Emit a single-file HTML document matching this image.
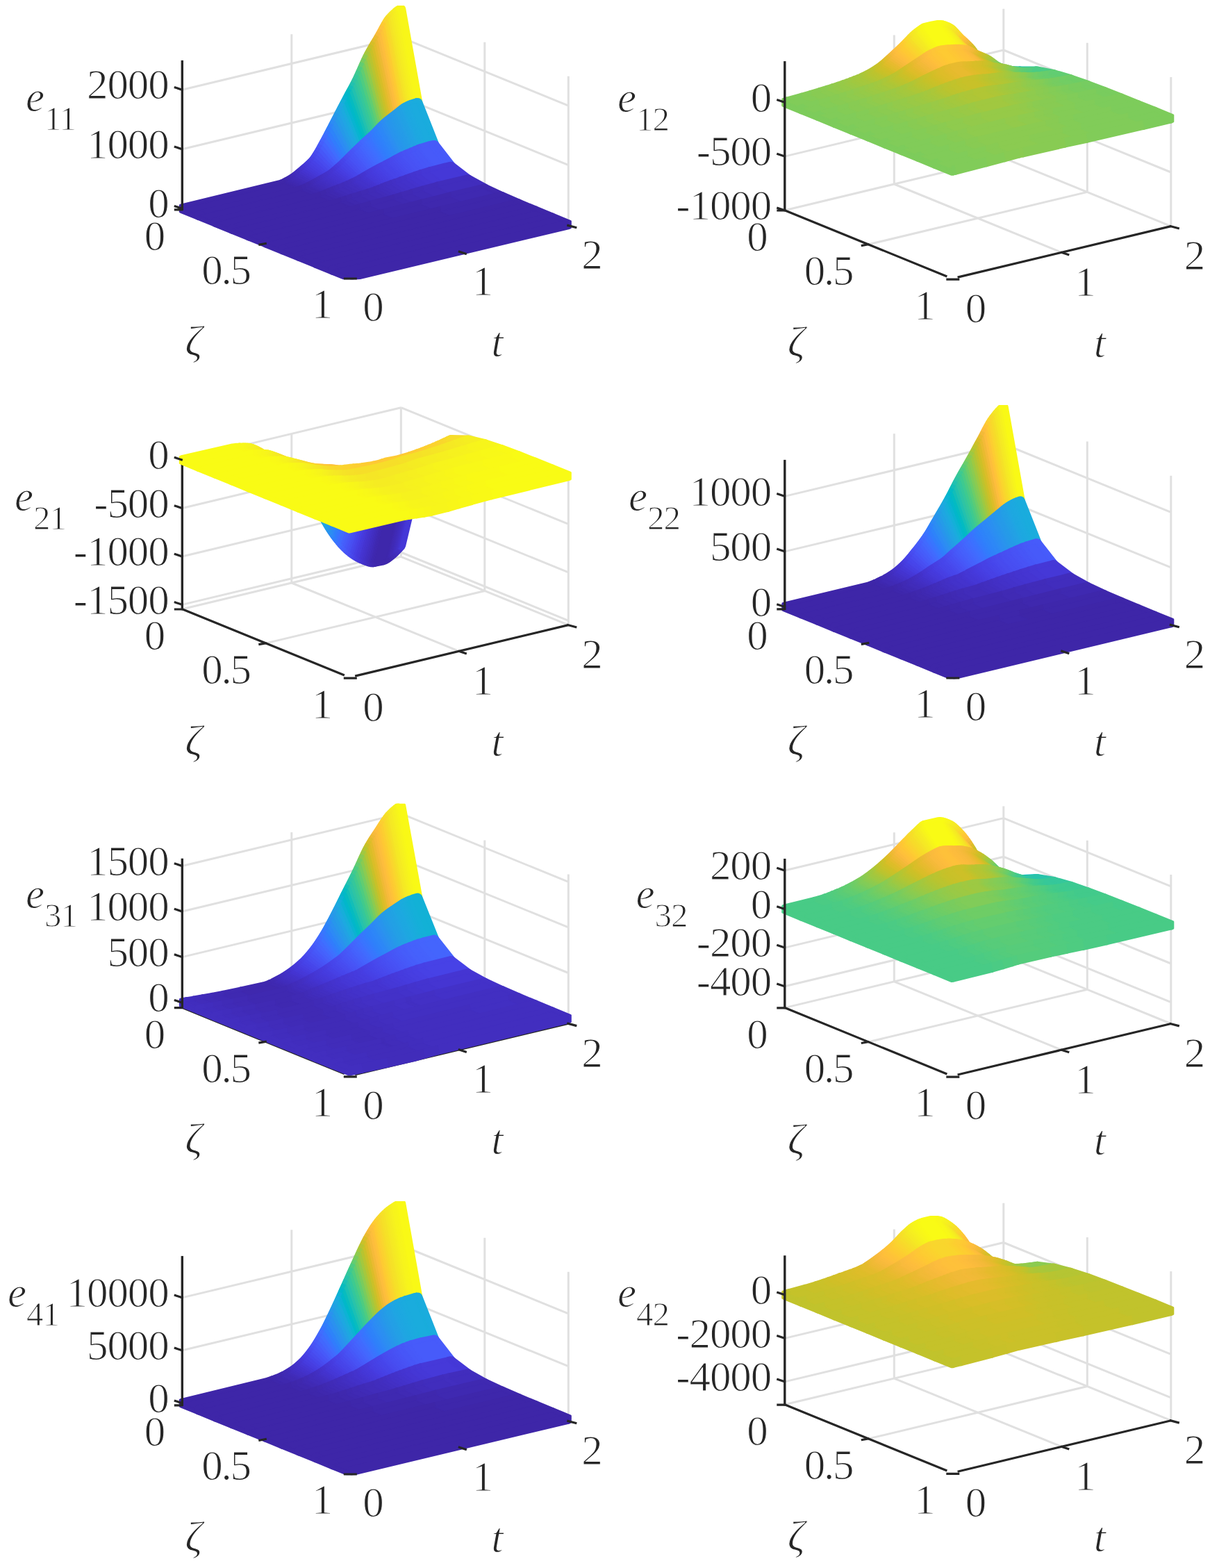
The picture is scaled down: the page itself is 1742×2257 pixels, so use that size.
<!DOCTYPE html><html><head><meta charset="utf-8"><title>Observer error surfaces</title><style>html,body{margin:0;padding:0;background:#fff}svg{display:block}.T path{fill:none;stroke-width:14;stroke-linejoin:round;stroke-linecap:butt}.E path{fill:none;stroke-width:14;stroke-linecap:round}.F path{stroke-width:1.2;stroke-linejoin:round}.c0{fill:#3e26a8;stroke:#3e26a8}.t0{stroke:#3e26a8}.c1{fill:#3e27ab;stroke:#3e27ab}.t1{stroke:#3e27ab}.c2{fill:#3f28ae;stroke:#3f28ae}.t2{stroke:#3f28ae}.c3{fill:#3f29b1;stroke:#3f29b1}.t3{stroke:#3f29b1}.c4{fill:#402ab4;stroke:#402ab4}.t4{stroke:#402ab4}.c5{fill:#402bb7;stroke:#402bb7}.t5{stroke:#402bb7}.c6{fill:#412cba;stroke:#412cba}.t6{stroke:#412cba}.c7{fill:#412dbd;stroke:#412dbd}.t7{stroke:#412dbd}.c8{fill:#422ebf;stroke:#422ebf}.t8{stroke:#422ebf}.c9{fill:#422fc2;stroke:#422fc2}.t9{stroke:#422fc2}.c10{fill:#4330c5;stroke:#4330c5}.t10{stroke:#4330c5}.c11{fill:#4331c8;stroke:#4331c8}.t11{stroke:#4331c8}.c12{fill:#4332ca;stroke:#4332ca}.t12{stroke:#4332ca}.c13{fill:#4433cd;stroke:#4433cd}.t13{stroke:#4433cd}.c14{fill:#4434d0;stroke:#4434d0}.t14{stroke:#4434d0}.c15{fill:#4535d2;stroke:#4535d2}.t15{stroke:#4535d2}.c16{fill:#4537d5;stroke:#4537d5}.t16{stroke:#4537d5}.c17{fill:#4538d7;stroke:#4538d7}.t17{stroke:#4538d7}.c18{fill:#4639d9;stroke:#4639d9}.t18{stroke:#4639d9}.c19{fill:#463adb;stroke:#463adb}.t19{stroke:#463adb}.c20{fill:#463bde;stroke:#463bde}.t20{stroke:#463bde}.c21{fill:#463ddf;stroke:#463ddf}.t21{stroke:#463ddf}.c22{fill:#473ee1;stroke:#473ee1}.t22{stroke:#473ee1}.c23{fill:#473fe3;stroke:#473fe3}.t23{stroke:#473fe3}.c24{fill:#4741e5;stroke:#4741e5}.t24{stroke:#4741e5}.c25{fill:#4742e6;stroke:#4742e6}.t25{stroke:#4742e6}.c26{fill:#4744e8;stroke:#4744e8}.t26{stroke:#4744e8}.c27{fill:#4745e9;stroke:#4745e9}.t27{stroke:#4745e9}.c28{fill:#4746eb;stroke:#4746eb}.t28{stroke:#4746eb}.c29{fill:#4848ec;stroke:#4848ec}.t29{stroke:#4848ec}.c30{fill:#4849ed;stroke:#4849ed}.t30{stroke:#4849ed}.c31{fill:#484bee;stroke:#484bee}.t31{stroke:#484bee}.c32{fill:#484cf0;stroke:#484cf0}.t32{stroke:#484cf0}.c33{fill:#484ef1;stroke:#484ef1}.t33{stroke:#484ef1}.c34{fill:#484ff2;stroke:#484ff2}.t34{stroke:#484ff2}.c35{fill:#4850f3;stroke:#4850f3}.t35{stroke:#4850f3}.c36{fill:#4852f4;stroke:#4852f4}.t36{stroke:#4852f4}.c37{fill:#4853f5;stroke:#4853f5}.t37{stroke:#4853f5}.c38{fill:#4854f6;stroke:#4854f6}.t38{stroke:#4854f6}.c39{fill:#4756f7;stroke:#4756f7}.t39{stroke:#4756f7}.c40{fill:#4757f7;stroke:#4757f7}.t40{stroke:#4757f7}.c41{fill:#4759f8;stroke:#4759f8}.t41{stroke:#4759f8}.c42{fill:#475af9;stroke:#475af9}.t42{stroke:#475af9}.c43{fill:#475bfa;stroke:#475bfa}.t43{stroke:#475bfa}.c44{fill:#465dfa;stroke:#465dfa}.t44{stroke:#465dfa}.c45{fill:#465efb;stroke:#465efb}.t45{stroke:#465efb}.c46{fill:#4660fb;stroke:#4660fb}.t46{stroke:#4660fb}.c47{fill:#4561fc;stroke:#4561fc}.t47{stroke:#4561fc}.c48{fill:#4562fc;stroke:#4562fc}.t48{stroke:#4562fc}.c49{fill:#4564fd;stroke:#4564fd}.t49{stroke:#4564fd}.c50{fill:#4465fd;stroke:#4465fd}.t50{stroke:#4465fd}.c51{fill:#4367fd;stroke:#4367fd}.t51{stroke:#4367fd}.c52{fill:#4368fe;stroke:#4368fe}.t52{stroke:#4368fe}.c53{fill:#426afe;stroke:#426afe}.t53{stroke:#426afe}.c54{fill:#416bfe;stroke:#416bfe}.t54{stroke:#416bfe}.c55{fill:#406dfe;stroke:#406dfe}.t55{stroke:#406dfe}.c56{fill:#3f6eff;stroke:#3f6eff}.t56{stroke:#3f6eff}.c57{fill:#3e70ff;stroke:#3e70ff}.t57{stroke:#3e70ff}.c58{fill:#3c71ff;stroke:#3c71ff}.t58{stroke:#3c71ff}.c59{fill:#3b73fe;stroke:#3b73fe}.t59{stroke:#3b73fe}.c60{fill:#3974fe;stroke:#3974fe}.t60{stroke:#3974fe}.c61{fill:#3876fe;stroke:#3876fe}.t61{stroke:#3876fe}.c62{fill:#3677fe;stroke:#3677fe}.t62{stroke:#3677fe}.c63{fill:#3579fd;stroke:#3579fd}.t63{stroke:#3579fd}.c65{fill:#327cfc;stroke:#327cfc}.t65{stroke:#327cfc}.c66{fill:#317dfc;stroke:#317dfc}.t66{stroke:#317dfc}.c67{fill:#307ffb;stroke:#307ffb}.t67{stroke:#307ffb}.c68{fill:#2f80fa;stroke:#2f80fa}.t68{stroke:#2f80fa}.c69{fill:#2f82fa;stroke:#2f82fa}.t69{stroke:#2f82fa}.c70{fill:#2e83f9;stroke:#2e83f9}.t70{stroke:#2e83f9}.c71{fill:#2e84f8;stroke:#2e84f8}.t71{stroke:#2e84f8}.c72{fill:#2e86f8;stroke:#2e86f8}.t72{stroke:#2e86f8}.c73{fill:#2e87f7;stroke:#2e87f7}.t73{stroke:#2e87f7}.c74{fill:#2d88f6;stroke:#2d88f6}.t74{stroke:#2d88f6}.c75{fill:#2d8af5;stroke:#2d8af5}.t75{stroke:#2d8af5}.c76{fill:#2d8bf4;stroke:#2d8bf4}.t76{stroke:#2d8bf4}.c77{fill:#2d8cf3;stroke:#2d8cf3}.t77{stroke:#2d8cf3}.c78{fill:#2c8ef2;stroke:#2c8ef2}.t78{stroke:#2c8ef2}.c79{fill:#2c8ff1;stroke:#2c8ff1}.t79{stroke:#2c8ff1}.c80{fill:#2b90f0;stroke:#2b90f0}.t80{stroke:#2b90f0}.c81{fill:#2b91ef;stroke:#2b91ef}.t81{stroke:#2b91ef}.c82{fill:#2a93ee;stroke:#2a93ee}.t82{stroke:#2a93ee}.c83{fill:#2994ed;stroke:#2994ed}.t83{stroke:#2994ed}.c84{fill:#2895ec;stroke:#2895ec}.t84{stroke:#2895ec}.c85{fill:#2797eb;stroke:#2797eb}.t85{stroke:#2797eb}.c86{fill:#2798ea;stroke:#2798ea}.t86{stroke:#2798ea}.c87{fill:#2699e9;stroke:#2699e9}.t87{stroke:#2699e9}.c88{fill:#269ae8;stroke:#269ae8}.t88{stroke:#269ae8}.c89{fill:#259be8;stroke:#259be8}.t89{stroke:#259be8}.c90{fill:#259ce7;stroke:#259ce7}.t90{stroke:#259ce7}.c91{fill:#249ee6;stroke:#249ee6}.t91{stroke:#249ee6}.c92{fill:#249fe6;stroke:#249fe6}.t92{stroke:#249fe6}.c93{fill:#23a0e5;stroke:#23a0e5}.t93{stroke:#23a0e5}.c94{fill:#22a1e4;stroke:#22a1e4}.t94{stroke:#22a1e4}.c95{fill:#22a2e4;stroke:#22a2e4}.t95{stroke:#22a2e4}.c96{fill:#21a3e3;stroke:#21a3e3}.t96{stroke:#21a3e3}.c97{fill:#20a5e3;stroke:#20a5e3}.t97{stroke:#20a5e3}.c98{fill:#1fa6e2;stroke:#1fa6e2}.t98{stroke:#1fa6e2}.c99{fill:#1ea7e1;stroke:#1ea7e1}.t99{stroke:#1ea7e1}.c100{fill:#1da8e0;stroke:#1da8e0}.t100{stroke:#1da8e0}.c101{fill:#1da9e0;stroke:#1da9e0}.t101{stroke:#1da9e0}.c102{fill:#1caadf;stroke:#1caadf}.t102{stroke:#1caadf}.c103{fill:#1babde;stroke:#1babde}.t103{stroke:#1babde}.c104{fill:#1aacdd;stroke:#1aacdd}.t104{stroke:#1aacdd}.c105{fill:#19addb;stroke:#19addb}.t105{stroke:#19addb}.c106{fill:#17aeda;stroke:#17aeda}.t106{stroke:#17aeda}.c107{fill:#15afd9;stroke:#15afd9}.t107{stroke:#15afd9}.c108{fill:#14b0d8;stroke:#14b0d8}.t108{stroke:#14b0d8}.c109{fill:#12b1d6;stroke:#12b1d6}.t109{stroke:#12b1d6}.c110{fill:#10b2d5;stroke:#10b2d5}.t110{stroke:#10b2d5}.c111{fill:#0db3d4;stroke:#0db3d4}.t111{stroke:#0db3d4}.c112{fill:#0bb3d2;stroke:#0bb3d2}.t112{stroke:#0bb3d2}.c113{fill:#08b4d1;stroke:#08b4d1}.t113{stroke:#08b4d1}.c115{fill:#05b6ce;stroke:#05b6ce}.t115{stroke:#05b6ce}.c116{fill:#03b7cc;stroke:#03b7cc}.t116{stroke:#03b7cc}.c117{fill:#02b7ca;stroke:#02b7ca}.t117{stroke:#02b7ca}.c118{fill:#01b8c9;stroke:#01b8c9}.t118{stroke:#01b8c9}.c120{fill:#01b9c6;stroke:#01b9c6}.t120{stroke:#01b9c6}.c121{fill:#02bac4;stroke:#02bac4}.t121{stroke:#02bac4}.c122{fill:#03bbc2;stroke:#03bbc2}.t122{stroke:#03bbc2}.c123{fill:#05bbc1;stroke:#05bbc1}.t123{stroke:#05bbc1}.c124{fill:#08bcbf;stroke:#08bcbf}.t124{stroke:#08bcbf}.c126{fill:#0dbdbc;stroke:#0dbdbc}.t126{stroke:#0dbdbc}.c127{fill:#10beba;stroke:#10beba}.t127{stroke:#10beba}.c128{fill:#13beb8;stroke:#13beb8}.t128{stroke:#13beb8}.c129{fill:#17bfb6;stroke:#17bfb6}.t129{stroke:#17bfb6}.c130{fill:#1ac0b5;stroke:#1ac0b5}.t130{stroke:#1ac0b5}.c131{fill:#1dc0b3;stroke:#1dc0b3}.t131{stroke:#1dc0b3}.c132{fill:#20c1b1;stroke:#20c1b1}.t132{stroke:#20c1b1}.c133{fill:#22c1af;stroke:#22c1af}.t133{stroke:#22c1af}.c134{fill:#25c2ae;stroke:#25c2ae}.t134{stroke:#25c2ae}.c135{fill:#27c2ac;stroke:#27c2ac}.t135{stroke:#27c2ac}.c136{fill:#29c3aa;stroke:#29c3aa}.t136{stroke:#29c3aa}.c137{fill:#2bc3a8;stroke:#2bc3a8}.t137{stroke:#2bc3a8}.c138{fill:#2cc4a6;stroke:#2cc4a6}.t138{stroke:#2cc4a6}.c139{fill:#2ec4a4;stroke:#2ec4a4}.t139{stroke:#2ec4a4}.c140{fill:#2fc5a3;stroke:#2fc5a3}.t140{stroke:#2fc5a3}.c141{fill:#30c5a1;stroke:#30c5a1}.t141{stroke:#30c5a1}.c142{fill:#32c69f;stroke:#32c69f}.t142{stroke:#32c69f}.c143{fill:#33c79d;stroke:#33c79d}.t143{stroke:#33c79d}.c144{fill:#35c79b;stroke:#35c79b}.t144{stroke:#35c79b}.c145{fill:#36c899;stroke:#36c899}.t145{stroke:#36c899}.c146{fill:#38c896;stroke:#38c896}.t146{stroke:#38c896}.c147{fill:#3ac994;stroke:#3ac994}.t147{stroke:#3ac994}.c148{fill:#3cc992;stroke:#3cc992}.t148{stroke:#3cc992}.c149{fill:#3eca90;stroke:#3eca90}.t149{stroke:#3eca90}.c150{fill:#40ca8d;stroke:#40ca8d}.t150{stroke:#40ca8d}.c151{fill:#42ca8b;stroke:#42ca8b}.t151{stroke:#42ca8b}.c152{fill:#45cb89;stroke:#45cb89}.t152{stroke:#45cb89}.c153{fill:#48cb86;stroke:#48cb86}.t153{stroke:#48cb86}.c154{fill:#4bcb84;stroke:#4bcb84}.t154{stroke:#4bcb84}.c155{fill:#4ecc81;stroke:#4ecc81}.t155{stroke:#4ecc81}.c156{fill:#51cc7f;stroke:#51cc7f}.t156{stroke:#51cc7f}.c157{fill:#54cc7c;stroke:#54cc7c}.t157{stroke:#54cc7c}.c158{fill:#57cc7a;stroke:#57cc7a}.t158{stroke:#57cc7a}.c159{fill:#5acc77;stroke:#5acc77}.t159{stroke:#5acc77}.c160{fill:#5ecc74;stroke:#5ecc74}.t160{stroke:#5ecc74}.c161{fill:#61cd72;stroke:#61cd72}.t161{stroke:#61cd72}.c162{fill:#64cd6f;stroke:#64cd6f}.t162{stroke:#64cd6f}.c163{fill:#67cd6c;stroke:#67cd6c}.t163{stroke:#67cd6c}.c164{fill:#6bcd69;stroke:#6bcd69}.t164{stroke:#6bcd69}.c165{fill:#6ecd66;stroke:#6ecd66}.t165{stroke:#6ecd66}.c166{fill:#72cd64;stroke:#72cd64}.t166{stroke:#72cd64}.c167{fill:#76cc61;stroke:#76cc61}.t167{stroke:#76cc61}.c168{fill:#79cc5e;stroke:#79cc5e}.t168{stroke:#79cc5e}.c169{fill:#7dcc5b;stroke:#7dcc5b}.t169{stroke:#7dcc5b}.c170{fill:#81cc59;stroke:#81cc59}.t170{stroke:#81cc59}.c171{fill:#84cc56;stroke:#84cc56}.t171{stroke:#84cc56}.c172{fill:#88cb53;stroke:#88cb53}.t172{stroke:#88cb53}.c173{fill:#8bcb51;stroke:#8bcb51}.t173{stroke:#8bcb51}.c174{fill:#8fcb4e;stroke:#8fcb4e}.t174{stroke:#8fcb4e}.c175{fill:#93ca4b;stroke:#93ca4b}.t175{stroke:#93ca4b}.c176{fill:#96ca48;stroke:#96ca48}.t176{stroke:#96ca48}.c177{fill:#9ac946;stroke:#9ac946}.t177{stroke:#9ac946}.c178{fill:#9dc943;stroke:#9dc943}.t178{stroke:#9dc943}.c179{fill:#a1c840;stroke:#a1c840}.t179{stroke:#a1c840}.c180{fill:#a4c83e;stroke:#a4c83e}.t180{stroke:#a4c83e}.c181{fill:#a7c73c;stroke:#a7c73c}.t181{stroke:#a7c73c}.c182{fill:#abc739;stroke:#abc739}.t182{stroke:#abc739}.c183{fill:#aec637;stroke:#aec637}.t183{stroke:#aec637}.c184{fill:#b1c635;stroke:#b1c635}.t184{stroke:#b1c635}.c185{fill:#b5c533;stroke:#b5c533}.t185{stroke:#b5c533}.c186{fill:#b8c431;stroke:#b8c431}.t186{stroke:#b8c431}.c187{fill:#bbc42f;stroke:#bbc42f}.t187{stroke:#bbc42f}.c188{fill:#bec32e;stroke:#bec32e}.t188{stroke:#bec32e}.c189{fill:#c1c32c;stroke:#c1c32c}.t189{stroke:#c1c32c}.c190{fill:#c5c22a;stroke:#c5c22a}.t190{stroke:#c5c22a}.c191{fill:#c8c129;stroke:#c8c129}.t191{stroke:#c8c129}.c192{fill:#cac129;stroke:#cac129}.t192{stroke:#cac129}.c193{fill:#cdc028;stroke:#cdc028}.t193{stroke:#cdc028}.c194{fill:#d0bf27;stroke:#d0bf27}.t194{stroke:#d0bf27}.c195{fill:#d3bf27;stroke:#d3bf27}.t195{stroke:#d3bf27}.c196{fill:#d6be28;stroke:#d6be28}.t196{stroke:#d6be28}.c197{fill:#d9be28;stroke:#d9be28}.t197{stroke:#d9be28}.c198{fill:#dbbd29;stroke:#dbbd29}.t198{stroke:#dbbd29}.c199{fill:#debd29;stroke:#debd29}.t199{stroke:#debd29}.c200{fill:#e0bc2b;stroke:#e0bc2b}.t200{stroke:#e0bc2b}.c201{fill:#e3bc2c;stroke:#e3bc2c}.t201{stroke:#e3bc2c}.c202{fill:#e5bb2d;stroke:#e5bb2d}.t202{stroke:#e5bb2d}.c203{fill:#e8bb2f;stroke:#e8bb2f}.t203{stroke:#e8bb2f}.c204{fill:#eaba31;stroke:#eaba31}.t204{stroke:#eaba31}.c205{fill:#ecba33;stroke:#ecba33}.t205{stroke:#ecba33}.c206{fill:#efba35;stroke:#efba35}.t206{stroke:#efba35}.c207{fill:#f1ba37;stroke:#f1ba37}.t207{stroke:#f1ba37}.c208{fill:#f3ba38;stroke:#f3ba38}.t208{stroke:#f3ba38}.c209{fill:#f5ba3a;stroke:#f5ba3a}.t209{stroke:#f5ba3a}.c210{fill:#f7ba3c;stroke:#f7ba3c}.t210{stroke:#f7ba3c}.c211{fill:#f9bb3d;stroke:#f9bb3d}.t211{stroke:#f9bb3d}.c212{fill:#fabb3d;stroke:#fabb3d}.t212{stroke:#fabb3d}.c213{fill:#fcbc3d;stroke:#fcbc3d}.t213{stroke:#fcbc3d}.c214{fill:#fdbd3d;stroke:#fdbd3d}.t214{stroke:#fdbd3d}.c215{fill:#febe3c;stroke:#febe3c}.t215{stroke:#febe3c}.c216{fill:#fec03b;stroke:#fec03b}.t216{stroke:#fec03b}.c217{fill:#fec13a;stroke:#fec13a}.t217{stroke:#fec13a}.c218{fill:#fec239;stroke:#fec239}.t218{stroke:#fec239}.c219{fill:#fec438;stroke:#fec438}.t219{stroke:#fec438}.c220{fill:#fec537;stroke:#fec537}.t220{stroke:#fec537}.c221{fill:#fec735;stroke:#fec735}.t221{stroke:#fec735}.c222{fill:#fec834;stroke:#fec834}.t222{stroke:#fec834}.c223{fill:#feca33;stroke:#feca33}.t223{stroke:#feca33}.c224{fill:#fdcb32;stroke:#fdcb32}.t224{stroke:#fdcb32}.c225{fill:#fdcd32;stroke:#fdcd32}.t225{stroke:#fdcd32}.c226{fill:#fcce31;stroke:#fcce31}.t226{stroke:#fcce31}.c227{fill:#fcd030;stroke:#fcd030}.t227{stroke:#fcd030}.c228{fill:#fbd22f;stroke:#fbd22f}.t228{stroke:#fbd22f}.c229{fill:#fbd32e;stroke:#fbd32e}.t229{stroke:#fbd32e}.c230{fill:#fad52e;stroke:#fad52e}.t230{stroke:#fad52e}.c231{fill:#f9d62d;stroke:#f9d62d}.t231{stroke:#f9d62d}.c232{fill:#f9d82c;stroke:#f9d82c}.t232{stroke:#f9d82c}.c233{fill:#f8d92b;stroke:#f8d92b}.t233{stroke:#f8d92b}.c234{fill:#f7db2a;stroke:#f7db2a}.t234{stroke:#f7db2a}.c235{fill:#f7dd2a;stroke:#f7dd2a}.t235{stroke:#f7dd2a}.c236{fill:#f6de29;stroke:#f6de29}.t236{stroke:#f6de29}.c237{fill:#f6e028;stroke:#f6e028}.t237{stroke:#f6e028}.c238{fill:#f5e128;stroke:#f5e128}.t238{stroke:#f5e128}.c239{fill:#f5e327;stroke:#f5e327}.t239{stroke:#f5e327}.c240{fill:#f5e526;stroke:#f5e526}.t240{stroke:#f5e526}.c241{fill:#f5e626;stroke:#f5e626}.t241{stroke:#f5e626}.c242{fill:#f5e825;stroke:#f5e825}.t242{stroke:#f5e825}.c243{fill:#f5e924;stroke:#f5e924}.t243{stroke:#f5e924}.c244{fill:#f5eb23;stroke:#f5eb23}.t244{stroke:#f5eb23}.c245{fill:#f5ec22;stroke:#f5ec22}.t245{stroke:#f5ec22}.c246{fill:#f5ee21;stroke:#f5ee21}.t246{stroke:#f5ee21}.c247{fill:#f6ef20;stroke:#f6ef20}.t247{stroke:#f6ef20}.c248{fill:#f6f11f;stroke:#f6f11f}.t248{stroke:#f6f11f}.c249{fill:#f6f21e;stroke:#f6f21e}.t249{stroke:#f6f21e}.c250{fill:#f7f41c;stroke:#f7f41c}.t250{stroke:#f7f41c}.c251{fill:#f7f51b;stroke:#f7f51b}.t251{stroke:#f7f51b}.c252{fill:#f8f619;stroke:#f8f619}.t252{stroke:#f8f619}.c253{fill:#f8f818;stroke:#f8f818}.t253{stroke:#f8f818}.c254{fill:#f9f916;stroke:#f9f916}.t254{stroke:#f9f916}.c255{fill:#f9fb15;stroke:#f9fb15}.t255{stroke:#f9fb15}</style></head><body><svg xmlns="http://www.w3.org/2000/svg" width="1742" height="2257" viewBox="0 0 1742 2257"><rect width="1742" height="2257" fill="#fff"/><g><path d="M262.3 301.5L577.3 226.1M382.8 350.6L697.8 275.2M419.8 263.8L660.8 362.1M577.3 226.1L818.3 324.4M419.8 263.8L419.8 49.2M577.3 226.1L577.3 11.5M697.8 275.2L697.8 60.7M818.3 324.4L818.3 109.8M262.3 300.2L577.3 224.8M577.3 224.8L818.3 323.1M262.3 214.7L577.3 139.3M577.3 139.3L818.3 237.6M262.3 129.2L577.3 53.8M577.3 53.8L818.3 152.1" stroke="#e0e0e0" stroke-width="3" fill="none"/>
<path d="M262.3 301.5L495.9 396.8M511.1 397.9L818.3 324.4" stroke="#262626" stroke-width="3.2" fill="none"/>
<clipPath id="cp0"><rect x="257.8" y="8" width="565" height="394.3"/></clipPath><g clip-path="url(#cp0)"><g class="T"><path class="t252" d="M574.7 14.7L577.3 13.3"/><path class="t251" d="M572 16.4L574.7 14.7L577.3 13.3"/><path class="t249" d="M569.4 18.6L572 16.4L574.7 14.7"/><path class="t247" d="M566.8 21.1L572 16.4"/><path class="t245" d="M564.2 23.8L569.4 18.6"/><path class="t242" d="M561.5 26.6L566.8 21.1"/><path class="t239" d="M558.9 29.9L561.5 26.6L564.2 23.8"/><path class="t234" d="M556.3 34.1L558.9 29.9L561.5 26.6"/><path class="t230" d="M553.7 38.8L556.3 34.1L558.9 29.9"/><path class="t224" d="M551 43.7L556.3 34.1"/><path class="t219" d="M548.4 48.7L553.7 38.8"/><path class="t214" d="M545.8 53.4L551 43.7"/><path class="t210" d="M543.2 57.8L548.4 48.7"/><path class="t205" d="M540.5 62.1L545.8 53.4"/><path class="t201" d="M537.9 66.5L543.2 57.8"/><path class="t196" d="M535.3 71L540.5 62.1"/><path class="t191" d="M532.7 75.6L537.9 66.5"/><path class="t186" d="M530 80.5L535.3 71"/><path class="t181" d="M527.4 85.9L532.7 75.6"/><path class="t174" d="M524.8 91.6L530 80.5"/><path class="t168" d="M522.2 97.6L527.4 85.9"/><path class="t161" d="M519.5 103.7L524.8 91.6"/><path class="t155" d="M516.9 109.6L522.2 97.6"/><path class="t149" d="M514.3 115.1L519.5 103.7"/><path class="t144" d="M511.7 120.3L516.9 109.6"/><path class="t139" d="M509.1 125.3L514.3 115.1"/><path class="t133" d="M506.4 130.1L511.7 120.3"/><path class="t128" d="M503.8 134.9L509.1 125.3"/><path class="t123" d="M501.2 139.8L506.4 130.1"/><path class="t118" d="M498.6 144.7L503.8 134.9"/><path class="t113" d="M495.9 149.7L501.2 139.8"/><path class="t108" d="M493.3 154.7L498.6 144.7"/><path class="t102" d="M490.7 159.8L495.9 149.7"/><path class="t97" d="M488.1 164.8L493.3 154.7"/><path class="t92" d="M485.4 169.9L490.7 159.8"/><path class="t87" d="M482.8 174.9L488.1 164.8"/><path class="t81" d="M480.2 180L485.4 169.9"/><path class="t76" d="M477.6 185.1L482.8 174.9"/><path class="t70" d="M474.9 190.2L480.2 180"/><path class="t65" d="M472.3 195.3L477.6 185.1"/><path class="t60" d="M469.7 200.2L474.9 190.2"/><path class="t55" d="M467.1 205L472.3 195.3"/><path class="t50" d="M464.4 209.8L469.7 200.2"/><path class="t45" d="M461.8 214.6L467.1 205"/><path class="t40" d="M459.2 219.3L464.4 209.8"/><path class="t35" d="M456.6 223.7L461.8 214.6"/><path class="t31" d="M453.9 227.8L459.2 219.3"/><path class="t28" d="M451.3 231.2L453.9 227.8L456.6 223.7"/><path class="t25" d="M448.7 234.1L451.3 231.2L453.9 227.8"/><path class="t23" d="M446.1 236.7L451.3 231.2"/><path class="t21" d="M443.4 239.1L448.7 234.1"/><path class="t19" d="M440.8 241.4L446.1 236.7"/><path class="t17" d="M438.2 243.5L443.4 239.1"/><path class="t15" d="M435.6 245.7L440.8 241.4"/><path class="t13" d="M432.9 248L438.2 243.5"/><path class="t11" d="M430.3 250.3L435.6 245.7"/><path class="t9" d="M427.7 252.5L432.9 248"/><path class="t8" d="M425 254.5L430.3 250.3"/><path class="t6" d="M422.4 256.5L427.7 252.5"/><path class="t5" d="M419.8 258.1L425 254.5"/><path class="t4" d="M417.2 259.6L422.4 256.5"/><path class="t3" d="M414.6 261.1L419.8 258.1"/><path class="t2" d="M411.9 262.5L417.2 259.6"/><path class="t1" d="M409.3 263.8L414.6 261.1"/><path class="t0" d="M262.3 300.2L404.1 265.8L409.3 263.8L411.9 262.5"/></g><g class="E"><path class="t252" d="M577.3 13.3L601.4 147.9"/><path class="t0" d="M262.3 300.2L286.4 310"/></g><g class="F"><path class="c252" d="M574.7 14.7L577.3 13.3L601.4 147.9L598.8 148.5z"/><path class="c251" d="M572 16.4L574.7 14.7L598.8 148.5L596.2 149.3z"/><path class="c249" d="M569.4 18.6L572 16.4L596.2 149.3L593.5 150.2z"/><path class="c247" d="M566.8 21.1L569.4 18.6L593.5 150.2L590.9 151.2z"/><path class="c245" d="M564.2 23.8L566.8 21.1L590.9 151.2L588.3 152.4z"/><path class="c242" d="M561.5 26.6L564.2 23.8L588.3 152.4L585.7 153.6z"/><path class="c239" d="M558.9 29.9L561.5 26.6L585.7 153.6L583 155z"/><path class="c234" d="M556.3 34.1L558.9 29.9L583 155L580.4 156.8z"/><path class="c230" d="M553.7 38.8L556.3 34.1L580.4 156.8L577.8 158.8z"/><path class="c224" d="M551 43.7L553.7 38.8L577.8 158.8L575.2 161z"/><path class="c219" d="M548.4 48.7L551 43.7L575.2 161L572.5 163.1z"/><path class="c214" d="M545.8 53.4L548.4 48.7L572.5 163.1L569.9 165.2z"/><path class="c210" d="M543.2 57.8L545.8 53.4L569.9 165.2L567.3 167.2z"/><path class="c205" d="M540.5 62.1L543.2 57.8L567.3 167.2L564.7 169.1z"/><path class="c201" d="M537.9 66.5L540.5 62.1L564.7 169.1L562 171.1z"/><path class="c196" d="M535.3 71L537.9 66.5L562 171.1L559.4 173.1z"/><path class="c191" d="M532.7 75.6L535.3 71L559.4 173.1L556.8 175.3z"/><path class="c186" d="M530 80.5L532.7 75.6L556.8 175.3L554.2 177.5z"/><path class="c181" d="M527.4 85.9L530 80.5L554.2 177.5L551.5 179.9z"/><path class="c174" d="M524.8 91.6L527.4 85.9L551.5 179.9L548.9 182.6z"/><path class="c168" d="M522.2 97.6L524.8 91.6L548.9 182.6L546.3 185.4z"/><path class="c161" d="M519.5 103.7L522.2 97.6L546.3 185.4L543.7 188.2z"/><path class="c155" d="M516.9 109.6L519.5 103.7L543.7 188.2L541 190.9z"/><path class="c149" d="M514.3 115.1L516.9 109.6L541 190.9L538.4 193.6z"/><path class="c144" d="M511.7 120.3L514.3 115.1L538.4 193.6L535.8 196z"/><path class="c139" d="M509.1 125.3L511.7 120.3L535.8 196L533.2 198.4z"/><path class="c133" d="M506.4 130.1L509.1 125.3L533.2 198.4L530.5 200.8z"/><path class="c128" d="M503.8 134.9L506.4 130.1L530.5 200.8L527.9 203.2z"/><path class="c123" d="M501.2 139.8L503.8 134.9L527.9 203.2L525.3 205.5z"/><path class="c118" d="M498.6 144.7L501.2 139.8L525.3 205.5L522.7 208z"/><path class="c113" d="M495.9 149.7L498.6 144.7L522.7 208L520 210.4z"/><path class="c108" d="M493.3 154.7L495.9 149.7L520 210.4L517.4 213z"/><path class="c102" d="M490.7 159.8L493.3 154.7L517.4 213L514.8 215.5z"/><path class="c97" d="M488.1 164.8L490.7 159.8L514.8 215.5L512.2 218z"/><path class="c92" d="M485.4 169.9L488.1 164.8L512.2 218L509.5 220.6z"/><path class="c87" d="M482.8 174.9L485.4 169.9L509.5 220.6L506.9 223.2z"/><path class="c81" d="M480.2 180L482.8 174.9L506.9 223.2L504.3 225.8z"/><path class="c76" d="M477.6 185.1L480.2 180L504.3 225.8L501.7 228.4z"/><path class="c70" d="M474.9 190.2L477.6 185.1L501.7 228.4L499 231.1z"/><path class="c65" d="M472.3 195.3L474.9 190.2L499 231.1L496.4 233.7z"/><path class="c60" d="M469.7 200.2L472.3 195.3L496.4 233.7L493.8 236.3z"/><path class="c55" d="M467.1 205L469.7 200.2L493.8 236.3L491.2 238.9z"/><path class="c50" d="M464.4 209.8L467.1 205L491.2 238.9L488.5 241z"/><path class="c45" d="M461.8 214.6L464.4 209.8L488.5 241L485.9 243.4z"/><path class="c40" d="M459.2 219.3L461.8 214.6L485.9 243.4L483.3 245.7z"/><path class="c35" d="M456.6 223.7L459.2 219.3L483.3 245.7L480.7 248z"/><path class="c31" d="M453.9 227.8L456.6 223.7L480.7 248L478 250.1z"/><path class="c28" d="M451.3 231.2L453.9 227.8L478 250.1L475.4 252z"/><path class="c25" d="M448.7 234.1L451.3 231.2L475.4 252L472.8 253.6z"/><path class="c23" d="M446.1 236.7L448.7 234.1L472.8 253.6L470.2 255.1z"/><path class="c21" d="M443.4 239.1L446.1 236.7L470.2 255.1L467.5 256.6z"/><path class="c19" d="M440.8 241.4L443.4 239.1L467.5 256.6L464.9 258z"/><path class="c17" d="M438.2 243.5L440.8 241.4L464.9 258L462.3 259.4z"/><path class="c15" d="M435.6 245.7L438.2 243.5L462.3 259.4L459.7 260.8z"/><path class="c13" d="M432.9 248L435.6 245.7L459.7 260.8L457 262.3z"/><path class="c11" d="M430.3 250.3L432.9 248L457 262.3L454.4 263.8z"/><path class="c9" d="M427.7 252.5L430.3 250.3L454.4 263.8L451.8 265.3z"/><path class="c8" d="M425 254.5L427.7 252.5L451.8 265.3L449.1 266.8z"/><path class="c6" d="M422.4 256.5L425 254.5L449.1 266.8L446.5 268.2z"/><path class="c5" d="M419.8 258.1L422.4 256.5L446.5 268.2L443.9 269.4z"/><path class="c4" d="M417.2 259.6L419.8 258.1L443.9 269.4L441.3 270.6z"/><path class="c3" d="M414.6 261.1L417.2 259.6L441.3 270.6L438.7 271.8z"/><path class="c2" d="M411.9 262.5L414.6 261.1L438.7 271.8L436 272.9z"/><path class="c1" d="M409.3 263.8L411.9 262.5L436 272.9L433.4 274z"/><path class="c0" d="M262.3 300.2L404.1 265.8L409.3 263.8L433.4 274L286.4 310z"/></g><g class="T"><path class="t104" d="M598.8 148.5L601.4 147.9"/><path class="t103" d="M590.9 151.2L596.2 149.3L601.4 147.9"/><path class="t102" d="M588.3 152.4L593.5 150.2"/><path class="t101" d="M585.7 153.6L590.9 151.2"/><path class="t100" d="M583 155L588.3 152.4"/><path class="t99" d="M580.4 156.8L583 155L585.7 153.6"/><path class="t97" d="M577.8 158.8L583 155"/><path class="t95" d="M575.2 161L580.4 156.8"/><path class="t94" d="M572.5 163.1L577.8 158.8"/><path class="t92" d="M569.9 165.2L575.2 161"/><path class="t90" d="M567.3 167.2L572.5 163.1"/><path class="t89" d="M564.7 169.1L569.9 165.2"/><path class="t87" d="M562 171.1L567.3 167.2"/><path class="t85" d="M559.4 173.1L564.7 169.1"/><path class="t84" d="M556.8 175.3L562 171.1"/><path class="t82" d="M554.2 177.5L559.4 173.1"/><path class="t79" d="M551.5 179.9L556.8 175.3"/><path class="t77" d="M548.9 182.6L554.2 177.5"/><path class="t74" d="M546.3 185.4L551.5 179.9"/><path class="t72" d="M543.7 188.2L548.9 182.6"/><path class="t69" d="M541 190.9L546.3 185.4"/><path class="t67" d="M538.4 193.6L543.7 188.2"/><path class="t65" d="M535.8 196L541 190.9"/><path class="t63" d="M533.2 198.4L538.4 193.6"/><path class="t60" d="M530.5 200.8L535.8 196"/><path class="t58" d="M527.9 203.2L533.2 198.4"/><path class="t56" d="M525.3 205.5L530.5 200.8"/><path class="t54" d="M522.7 208L527.9 203.2"/><path class="t52" d="M520 210.4L525.3 205.5"/><path class="t50" d="M517.4 213L522.7 208"/><path class="t47" d="M514.8 215.5L520 210.4"/><path class="t45" d="M512.2 218L517.4 213"/><path class="t43" d="M509.5 220.6L514.8 215.5"/><path class="t40" d="M506.9 223.2L512.2 218"/><path class="t38" d="M504.3 225.8L509.5 220.6"/><path class="t36" d="M501.7 228.4L506.9 223.2"/><path class="t33" d="M499 231.1L504.3 225.8"/><path class="t31" d="M496.4 233.7L501.7 228.4"/><path class="t28" d="M493.8 236.3L499 231.1"/><path class="t26" d="M491.2 238.9L496.4 233.7"/><path class="t24" d="M488.5 241L491.2 238.9L493.8 236.3"/><path class="t22" d="M485.9 243.4L491.2 238.9"/><path class="t20" d="M483.3 245.7L488.5 241"/><path class="t18" d="M480.7 248L485.9 243.4"/><path class="t16" d="M478 250.1L483.3 245.7"/><path class="t15" d="M475.4 252L480.7 248"/><path class="t14" d="M472.8 253.6L478 250.1"/><path class="t13" d="M470.2 255.1L475.4 252"/><path class="t12" d="M467.5 256.6L472.8 253.6"/><path class="t11" d="M464.9 258L470.2 255.1"/><path class="t10" d="M462.3 259.4L467.5 256.6"/><path class="t9" d="M459.7 260.8L464.9 258"/><path class="t8" d="M457 262.3L462.3 259.4"/><path class="t7" d="M454.4 263.8L459.7 260.8"/><path class="t6" d="M451.8 265.3L457 262.3"/><path class="t5" d="M449.1 266.8L454.4 263.8"/><path class="t4" d="M446.5 268.2L451.8 265.3"/><path class="t3" d="M443.9 269.4L449.1 266.8"/><path class="t2" d="M438.7 271.8L446.5 268.2"/><path class="t1" d="M433.4 274L441.3 270.6"/><path class="t0" d="M286.4 310L428.2 275.8L433.4 274L436 272.9"/></g><g class="E"><path class="t104" d="M601.4 147.9L625.5 208.9"/><path class="t0" d="M286.4 310L310.5 319.9"/></g><g class="F"><path class="c104" d="M598.8 148.5L601.4 147.9L625.5 208.9L622.9 209.4z"/><path class="c103" d="M590.9 151.2L596.2 149.3L598.8 148.5L622.9 209.4L615 211.2z"/><path class="c102" d="M588.3 152.4L590.9 151.2L615 211.2L612.4 211.9z"/><path class="c101" d="M585.7 153.6L588.3 152.4L612.4 211.9L609.8 212.6z"/><path class="c100" d="M583 155L585.7 153.6L609.8 212.6L607.1 213.4z"/><path class="c99" d="M580.4 156.8L583 155L607.1 213.4L604.5 214.4z"/><path class="c97" d="M577.8 158.8L580.4 156.8L604.5 214.4L601.9 215.5z"/><path class="c95" d="M575.2 161L577.8 158.8L601.9 215.5L599.2 216.6z"/><path class="c94" d="M572.5 163.1L575.2 161L599.2 216.6L596.6 217.8z"/><path class="c92" d="M569.9 165.2L572.5 163.1L596.6 217.8L594 218.9z"/><path class="c90" d="M567.3 167.2L569.9 165.2L594 218.9L591.4 220z"/><path class="c89" d="M564.7 169.1L567.3 167.2L591.4 220L588.8 221.1z"/><path class="c87" d="M562 171.1L564.7 169.1L588.8 221.1L586.1 222.2z"/><path class="c85" d="M559.4 173.1L562 171.1L586.1 222.2L583.5 223.3z"/><path class="c84" d="M556.8 175.3L559.4 173.1L583.5 223.3L580.9 224.4z"/><path class="c82" d="M554.2 177.5L556.8 175.3L580.9 224.4L578.2 225.7z"/><path class="c79" d="M551.5 179.9L554.2 177.5L578.2 225.7L575.6 227z"/><path class="c77" d="M548.9 182.6L551.5 179.9L575.6 227L573 228.4z"/><path class="c74" d="M546.3 185.4L548.9 182.6L573 228.4L570.4 229.9z"/><path class="c72" d="M543.7 188.2L546.3 185.4L570.4 229.9L567.8 231.4z"/><path class="c69" d="M541 190.9L543.7 188.2L567.8 231.4L565.1 232.9z"/><path class="c67" d="M538.4 193.6L541 190.9L565.1 232.9L562.5 234.3z"/><path class="c65" d="M535.8 196L538.4 193.6L562.5 234.3L559.9 235.7z"/><path class="c63" d="M533.2 198.4L535.8 196L559.9 235.7L557.2 237z"/><path class="c60" d="M530.5 200.8L533.2 198.4L557.2 237L554.6 238.3z"/><path class="c58" d="M527.9 203.2L530.5 200.8L554.6 238.3L552 239.7z"/><path class="c56" d="M525.3 205.5L527.9 203.2L552 239.7L549.4 241z"/><path class="c54" d="M522.7 208L525.3 205.5L549.4 241L546.8 242.4z"/><path class="c52" d="M520 210.4L522.7 208L546.8 242.4L544.1 243.8z"/><path class="c50" d="M517.4 213L520 210.4L544.1 243.8L541.5 245.2z"/><path class="c47" d="M514.8 215.5L517.4 213L541.5 245.2L538.9 246.7z"/><path class="c45" d="M512.2 218L514.8 215.5L538.9 246.7L536.2 248.1z"/><path class="c43" d="M509.5 220.6L512.2 218L536.2 248.1L533.6 249.6z"/><path class="c40" d="M506.9 223.2L509.5 220.6L533.6 249.6L531 251.1z"/><path class="c38" d="M504.3 225.8L506.9 223.2L531 251.1L528.4 252.6z"/><path class="c36" d="M501.7 228.4L504.3 225.8L528.4 252.6L525.8 254.1z"/><path class="c33" d="M499 231.1L501.7 228.4L525.8 254.1L523.1 255.7z"/><path class="c31" d="M496.4 233.7L499 231.1L523.1 255.7L520.5 257.2z"/><path class="c28" d="M493.8 236.3L496.4 233.7L520.5 257.2L517.9 258.7z"/><path class="c26" d="M491.2 238.9L493.8 236.3L517.9 258.7L515.2 260.2z"/><path class="c24" d="M488.5 241L491.2 238.9L515.2 260.2L512.6 261.4z"/><path class="c22" d="M485.9 243.4L488.5 241L512.6 261.4L510 262.7z"/><path class="c20" d="M483.3 245.7L485.9 243.4L510 262.7L507.4 264z"/><path class="c18" d="M480.7 248L483.3 245.7L507.4 264L504.8 265.3z"/><path class="c16" d="M478 250.1L480.7 248L504.8 265.3L502.1 266.5z"/><path class="c15" d="M475.4 252L478 250.1L502.1 266.5L499.5 267.7z"/><path class="c14" d="M472.8 253.6L475.4 252L499.5 267.7L496.9 268.8z"/><path class="c13" d="M470.2 255.1L472.8 253.6L496.9 268.8L494.2 269.8z"/><path class="c12" d="M467.5 256.6L470.2 255.1L494.2 269.8L491.6 270.7z"/><path class="c11" d="M464.9 258L467.5 256.6L491.6 270.7L489 271.7z"/><path class="c10" d="M462.3 259.4L464.9 258L489 271.7L486.4 272.7z"/><path class="c9" d="M459.7 260.8L462.3 259.4L486.4 272.7L483.8 273.7z"/><path class="c8" d="M457 262.3L459.7 260.8L483.8 273.7L481.1 274.8z"/><path class="c7" d="M454.4 263.8L457 262.3L481.1 274.8L478.5 275.9z"/><path class="c6" d="M451.8 265.3L454.4 263.8L478.5 275.9L475.9 277z"/><path class="c5" d="M449.1 266.8L451.8 265.3L475.9 277L473.2 278.2z"/><path class="c4" d="M446.5 268.2L449.1 266.8L473.2 278.2L470.6 279.3z"/><path class="c3" d="M443.9 269.4L446.5 268.2L470.6 279.3L468 280.3z"/><path class="c2" d="M438.7 271.8L443.9 269.4L468 280.3L462.8 282.2z"/><path class="c1" d="M433.4 274L438.7 271.8L462.8 282.2L457.5 284.1z"/><path class="c0" d="M286.4 310L428.2 275.8L433.4 274L457.5 284.1L310.5 319.9z"/></g><g class="T"><path class="t42" d="M620.2 209.9L625.5 208.9"/><path class="t43" d="M617.6 210.5L622.9 209.4"/><path class="t42" d="M604.5 214.4L617.6 210.5L620.2 209.9"/><path class="t41" d="M601.9 215.5L607.1 213.4"/><path class="t40" d="M596.6 217.8L604.5 214.4"/><path class="t39" d="M591.4 220L599.2 216.6"/><path class="t38" d="M586.1 222.2L594 218.9"/><path class="t37" d="M583.5 223.3L588.8 221.1"/><path class="t36" d="M578.2 225.7L586.1 222.2"/><path class="t35" d="M575.6 227L580.9 224.4"/><path class="t34" d="M573 228.4L578.2 225.7"/><path class="t33" d="M570.4 229.9L575.6 227"/><path class="t32" d="M567.8 231.4L573 228.4"/><path class="t31" d="M565.1 232.9L570.4 229.9"/><path class="t30" d="M562.5 234.3L567.8 231.4"/><path class="t29" d="M559.9 235.7L565.1 232.9"/><path class="t28" d="M557.2 237L562.5 234.3"/><path class="t27" d="M554.6 238.3L559.9 235.7"/><path class="t26" d="M549.4 241L557.2 237"/><path class="t25" d="M546.8 242.4L552 239.7"/><path class="t24" d="M544.1 243.8L549.4 241"/><path class="t23" d="M541.5 245.2L546.8 242.4"/><path class="t22" d="M538.9 246.7L544.1 243.8"/><path class="t21" d="M536.2 248.1L541.5 245.2"/><path class="t20" d="M533.6 249.6L538.9 246.7"/><path class="t19" d="M531 251.1L536.2 248.1"/><path class="t18" d="M528.4 252.6L533.6 249.6"/><path class="t17" d="M525.8 254.1L531 251.1"/><path class="t15" d="M523.1 255.7L528.4 252.6"/><path class="t14" d="M520.5 257.2L525.8 254.1"/><path class="t13" d="M517.9 258.7L523.1 255.7"/><path class="t12" d="M512.6 261.4L515.2 260.2L520.5 257.2"/><path class="t11" d="M510 262.7L515.2 260.2"/><path class="t10" d="M507.4 264L512.6 261.4"/><path class="t9" d="M504.8 265.3L510 262.7"/><path class="t8" d="M499.5 267.7L507.4 264"/><path class="t7" d="M494.2 269.8L502.1 266.5"/><path class="t6" d="M486.4 272.7L496.9 268.8"/><path class="t5" d="M481.1 274.8L489 271.7"/><path class="t4" d="M478.5 275.9L483.8 273.7"/><path class="t3" d="M473.2 278.2L481.1 274.8"/><path class="t2" d="M468 280.3L475.9 277"/><path class="t1" d="M460.1 283.2L470.6 279.3"/><path class="t0" d="M310.5 319.9L454.9 284.9L462.8 282.2"/></g><g class="E"><path class="t42" d="M625.5 208.9L649.6 239.7"/><path class="t0" d="M310.5 319.9L334.6 329.7"/></g><g class="F"><path class="c42" d="M620.2 209.9L625.5 208.9L649.6 239.7L644.4 240.8z"/><path class="c43" d="M617.6 210.5L620.2 209.9L644.4 240.8L641.7 241.3z"/><path class="c42" d="M604.5 214.4L617.6 210.5L641.7 241.3L628.6 244.5z"/><path class="c41" d="M601.9 215.5L604.5 214.4L628.6 244.5L626 245.2z"/><path class="c40" d="M596.6 217.8L601.9 215.5L626 245.2L620.7 246.8z"/><path class="c39" d="M591.4 220L596.6 217.8L620.7 246.8L615.5 248.4z"/><path class="c38" d="M586.1 222.2L591.4 220L615.5 248.4L610.2 249.9z"/><path class="c37" d="M583.5 223.3L586.1 222.2L610.2 249.9L607.6 250.7z"/><path class="c36" d="M578.2 225.7L583.5 223.3L607.6 250.7L602.4 252.4z"/><path class="c35" d="M575.6 227L578.2 225.7L602.4 252.4L599.7 253.2z"/><path class="c34" d="M573 228.4L575.6 227L599.7 253.2L597.1 254.2z"/><path class="c33" d="M570.4 229.9L573 228.4L597.1 254.2L594.5 255.1z"/><path class="c32" d="M567.8 231.4L570.4 229.9L594.5 255.1L591.9 256.1z"/><path class="c31" d="M565.1 232.9L567.8 231.4L591.9 256.1L589.2 257.1z"/><path class="c30" d="M562.5 234.3L565.1 232.9L589.2 257.1L586.6 258z"/><path class="c29" d="M559.9 235.7L562.5 234.3L586.6 258L584 258.9z"/><path class="c28" d="M557.2 237L559.9 235.7L584 258.9L581.4 259.8z"/><path class="c27" d="M554.6 238.3L557.2 237L581.4 259.8L578.7 260.8z"/><path class="c26" d="M549.4 241L554.6 238.3L578.7 260.8L573.5 262.6z"/><path class="c25" d="M546.8 242.4L549.4 241L573.5 262.6L570.9 263.5z"/><path class="c24" d="M544.1 243.8L546.8 242.4L570.9 263.5L568.2 264.5z"/><path class="c23" d="M541.5 245.2L544.1 243.8L568.2 264.5L565.6 265.4z"/><path class="c22" d="M538.9 246.7L541.5 245.2L565.6 265.4L563 266.4z"/><path class="c21" d="M536.2 248.1L538.9 246.7L563 266.4L560.4 267.4z"/><path class="c20" d="M533.6 249.6L536.2 248.1L560.4 267.4L557.7 268.4z"/><path class="c19" d="M531 251.1L533.6 249.6L557.7 268.4L555.1 269.4z"/><path class="c18" d="M528.4 252.6L531 251.1L555.1 269.4L552.5 270.4z"/><path class="c17" d="M525.8 254.1L528.4 252.6L552.5 270.4L549.9 271.4z"/><path class="c15" d="M523.1 255.7L525.8 254.1L549.9 271.4L547.2 272.5z"/><path class="c14" d="M520.5 257.2L523.1 255.7L547.2 272.5L544.6 273.5z"/><path class="c13" d="M517.9 258.7L520.5 257.2L544.6 273.5L542 274.6z"/><path class="c12" d="M512.6 261.4L515.2 260.2L517.9 258.7L542 274.6L536.7 276.4z"/><path class="c11" d="M510 262.7L512.6 261.4L536.7 276.4L534.1 277.2z"/><path class="c10" d="M507.4 264L510 262.7L534.1 277.2L531.5 278.1z"/><path class="c9" d="M504.8 265.3L507.4 264L531.5 278.1L528.9 279z"/><path class="c8" d="M499.5 267.7L504.8 265.3L528.9 279L523.6 280.7z"/><path class="c7" d="M494.2 269.8L499.5 267.7L523.6 280.7L518.4 282.3z"/><path class="c6" d="M486.4 272.7L494.2 269.8L518.4 282.3L510.5 284.6z"/><path class="c5" d="M481.1 274.8L486.4 272.7L510.5 284.6L505.2 286.3z"/><path class="c4" d="M478.5 275.9L481.1 274.8L505.2 286.3L502.6 287.2z"/><path class="c3" d="M473.2 278.2L478.5 275.9L502.6 287.2L497.4 289z"/><path class="c2" d="M468 280.3L473.2 278.2L497.4 289L492.1 290.7z"/><path class="c1" d="M460.1 283.2L468 280.3L492.1 290.7L484.2 293.3z"/><path class="c0" d="M310.5 319.9L454.9 284.9L460.1 283.2L484.2 293.3L334.6 329.7z"/></g><g class="T"><path class="t17" d="M618.1 247.6L641.7 241.3L649.6 239.7"/><path class="t16" d="M605 251.5L620.7 246.8"/><path class="t15" d="M597.1 254.2L607.6 250.7"/><path class="t14" d="M589.2 257.1L599.7 253.2"/><path class="t13" d="M584 258.9L591.9 256.1"/><path class="t12" d="M576.1 261.7L586.6 258"/><path class="t11" d="M568.2 264.5L578.7 260.8"/><path class="t10" d="M563 266.4L570.9 263.5"/><path class="t9" d="M555.1 269.4L565.6 265.4"/><path class="t8" d="M549.9 271.4L557.7 268.4"/><path class="t7" d="M544.6 273.5L552.5 270.4"/><path class="t6" d="M539.4 275.6L547.2 272.5"/><path class="t5" d="M528.9 279L539.4 275.6L542 274.6"/><path class="t4" d="M518.4 282.3L531.5 278.1"/><path class="t3" d="M505.2 286.3L521 281.5"/><path class="t2" d="M497.4 289L507.9 285.4"/><path class="t1" d="M489.5 291.6L500 288.1"/><path class="t0" d="M334.6 329.7L479 294.9L492.1 290.7"/></g><g class="E"><path class="t17" d="M649.6 239.7L673.7 258.2"/><path class="t0" d="M334.6 329.7L358.7 339.5"/></g><g class="F"><path class="c17" d="M618.1 247.6L641.7 241.3L649.6 239.7L673.7 258.2L642.2 265.6z"/><path class="c16" d="M605 251.5L618.1 247.6L642.2 265.6L629.1 268.9z"/><path class="c15" d="M597.1 254.2L605 251.5L629.1 268.9L621.2 271.1z"/><path class="c14" d="M589.2 257.1L597.1 254.2L621.2 271.1L613.3 273.3z"/><path class="c13" d="M584 258.9L589.2 257.1L613.3 273.3L608.1 274.8z"/><path class="c12" d="M576.1 261.7L584 258.9L608.1 274.8L600.2 277.1z"/><path class="c11" d="M568.2 264.5L576.1 261.7L600.2 277.1L592.3 279.3z"/><path class="c10" d="M563 266.4L568.2 264.5L592.3 279.3L587.1 280.9z"/><path class="c9" d="M555.1 269.4L563 266.4L587.1 280.9L579.2 283.2z"/><path class="c8" d="M549.9 271.4L555.1 269.4L579.2 283.2L574 284.8z"/><path class="c7" d="M544.6 273.5L549.9 271.4L574 284.8L568.7 286.4z"/><path class="c6" d="M539.4 275.6L544.6 273.5L568.7 286.4L563.5 288.1z"/><path class="c5" d="M528.9 279L539.4 275.6L563.5 288.1L553 290.8z"/><path class="c4" d="M518.4 282.3L528.9 279L553 290.8L542.5 293.6z"/><path class="c3" d="M505.2 286.3L518.4 282.3L542.5 293.6L529.3 297.1z"/><path class="c2" d="M497.4 289L505.2 286.3L529.3 297.1L521.5 299.5z"/><path class="c1" d="M489.5 291.6L497.4 289L521.5 299.5L513.6 301.8z"/><path class="c0" d="M334.6 329.7L479 294.9L489.5 291.6L513.6 301.8L358.7 339.5z"/></g><g class="T"><path class="t7" d="M629.1 268.9L673.7 258.2"/><path class="t6" d="M608.1 274.8L631.7 268.2"/><path class="t5" d="M592.3 279.3L610.7 274.1"/><path class="t4" d="M576.6 284L595 278.6"/><path class="t3" d="M566.1 287.3L579.2 283.2"/><path class="t2" d="M532 296.4L568.7 286.4"/><path class="t1" d="M516.2 301L534.6 295.7"/><path class="t0" d="M358.7 339.5L505.7 304.1L518.8 300.2"/></g><g class="E"><path class="t7" d="M673.7 258.2L697.8 271.5"/><path class="t0" d="M358.7 339.5L382.8 349.4"/></g><g class="F"><path class="c7" d="M629.1 268.9L673.7 258.2L697.8 271.5L653.2 282.1z"/><path class="c6" d="M608.1 274.8L629.1 268.9L653.2 282.1L632.2 287.4z"/><path class="c5" d="M592.3 279.3L608.1 274.8L632.2 287.4L616.4 291.5z"/><path class="c4" d="M576.6 284L592.3 279.3L616.4 291.5L600.7 295.6z"/><path class="c3" d="M566.1 287.3L576.6 284L600.7 295.6L590.2 298.5z"/><path class="c2" d="M532 296.4L566.1 287.3L590.2 298.5L556 306.9z"/><path class="c1" d="M516.2 301L532 296.4L556 306.9L540.3 311.1z"/><path class="c0" d="M358.7 339.5L505.7 304.1L516.2 301L540.3 311.1L382.8 349.4z"/></g><g class="T"><path class="t2" d="M695.2 272.1L697.8 271.5"/><path class="t3" d="M647.9 283.4L697.8 271.5"/><path class="t2" d="M605.9 294.2L650.5 282.7"/><path class="t1" d="M550.8 308.3L608.5 293.5"/><path class="t0" d="M382.8 349.4L553.4 307.6"/></g><g class="E"><path class="t2" d="M697.8 271.5L721.9 282.8"/><path class="t0" d="M382.8 349.4L406.9 359.2"/></g><g class="F"><path class="c2" d="M695.2 272.1L697.8 271.5L721.9 282.8L719.3 283.4z"/><path class="c3" d="M647.9 283.4L695.2 272.1L719.3 283.4L672 294.6z"/><path class="c2" d="M605.9 294.2L647.9 283.4L672 294.6L630 305z"/><path class="c1" d="M550.8 308.3L605.9 294.2L630 305L574.9 318.4z"/><path class="c0" d="M382.8 349.4L550.8 308.3L574.9 318.4L406.9 359.2z"/></g><g class="T"><path class="t1" d="M632.6 304.3L721.9 282.8"/><path class="t0" d="M406.9 359.2L635.3 303.7"/></g><g class="E"><path class="t1" d="M721.9 282.8L746 293.2"/><path class="t0" d="M406.9 359.2L431 369"/></g><g class="F"><path class="c1" d="M632.6 304.3L721.9 282.8L746 293.2L656.8 314.6z"/><path class="c0" d="M406.9 359.2L632.6 304.3L656.8 314.6L431 369z"/></g><g class="T"><path class="t0" d="M431 369L746 293.2"/></g><g class="E"><path class="t0" d="M746 293.2L770.1 303.3"/><path class="t0" d="M431 369L455.1 378.9"/></g><g class="F"><path class="c0" d="M431 369L746 293.2L770.1 303.3L455.1 378.9z"/></g><g class="T"><path class="t0" d="M455.1 378.9L770.1 303.3"/></g><g class="E"><path class="t0" d="M770.1 303.3L794.2 313.2"/><path class="t0" d="M455.1 378.9L479.2 388.7"/></g><g class="F"><path class="c0" d="M455.1 378.9L770.1 303.3L794.2 313.2L479.2 388.7z"/></g><g class="T"><path class="t0" d="M479.2 388.7L794.2 313.2"/></g><g class="E"><path class="t0" d="M794.2 313.2L818.3 323.1"/><path class="t0" d="M479.2 388.7L503.3 398.5"/></g><g class="F"><path class="c0" d="M479.2 388.7L794.2 313.2L818.3 323.1L503.3 398.5z"/></g><g class="T"><path class="t0" d="M503.3 398.5L818.3 323.1"/></g></g>
<path d="M262.3 86.9L262.3 303" stroke="#262626" stroke-width="3.4" fill="none"/>
<path d="M262.8 300.4L250.8 296.4M262.8 214.9L250.8 210.9M262.8 129.4L250.8 125.4M383.8 350.3L372.3 352.4M659.8 361.8L671.8 365.7M816.3 324.1L830.3 327.8M494.8 401L513.8 401M262.8 301.8L250.8 301.8" stroke="#262626" stroke-width="3.2" fill="none"/>
<g font-family="'Liberation Serif','DejaVu Serif',serif" font-size="61" fill="#262626" stroke="#fff" stroke-width="1.1"><text x="242.6" y="313.4" text-anchor="end" letter-spacing="-1.1">0</text><text x="242.6" y="227.9" text-anchor="end" letter-spacing="-1.1">1000</text><text x="242.6" y="142.4" text-anchor="end" letter-spacing="-1.1">2000</text><text x="238.3" y="360" text-anchor="end">0</text><text x="359.8" y="409.1" text-anchor="end" letter-spacing="-2.2">0.5</text><text x="479.3" y="458.3" text-anchor="end">1</text><text x="522.3" y="462.3">0</text><text x="679.8" y="424.6">1</text><text x="837.3" y="386.9">2</text><text x="266.3" y="511.5" font-style="italic" font-size="62">ζ</text><text x="707.3" y="512.5" font-style="italic" font-size="62">t</text><text x="37" y="160"><tspan font-style="italic">e</tspan><tspan font-size="49" dx="0" dy="27" letter-spacing="-1.2">11</tspan></text></g></g>
<g><path d="M1129.8 302.7L1444.8 227.3M1250.3 351.8L1565.3 276.4M1287.3 265L1528.3 363.3M1444.8 227.3L1685.8 325.6M1287.3 265L1287.3 50.4M1444.8 227.3L1444.8 12.7M1565.3 276.4L1565.3 61.8M1685.8 325.6L1685.8 111M1129.8 302.7L1444.8 227.3M1444.8 227.3L1685.8 325.6M1129.8 225.1L1444.8 149.7M1444.8 149.7L1685.8 248M1129.8 147.4L1444.8 72M1444.8 72L1685.8 170.3" stroke="#e0e0e0" stroke-width="3" fill="none"/>
<path d="M1129.8 302.7L1363.4 398M1378.6 399.1L1685.8 325.6" stroke="#262626" stroke-width="3.2" fill="none"/>
<clipPath id="cp1"><rect x="1125.3" y="9.2" width="565" height="394.3"/></clipPath><g clip-path="url(#cp1)"><g class="T"><path class="t113" d="M1442.2 111.4L1444.8 112"/><path class="t115" d="M1439.5 110.6L1444.8 112"/><path class="t117" d="M1436.9 109.6L1442.2 111.4"/><path class="t120" d="M1434.3 108.4L1439.5 110.6"/><path class="t123" d="M1431.7 107.2L1436.9 109.6"/><path class="t126" d="M1429 105.8L1434.3 108.4"/><path class="t129" d="M1426.4 104.3L1431.7 107.2"/><path class="t132" d="M1423.8 102.6L1429 105.8"/><path class="t136" d="M1421.2 100.6L1426.4 104.3"/><path class="t140" d="M1418.5 98.5L1423.8 102.6"/><path class="t144" d="M1415.9 96.2L1421.2 100.6"/><path class="t149" d="M1413.3 93.6L1418.5 98.5"/><path class="t155" d="M1410.7 90.4L1413.3 93.6L1415.9 96.2"/><path class="t161" d="M1408 86.5L1410.7 90.4L1413.3 93.6"/><path class="t168" d="M1405.4 82.2L1410.7 90.4"/><path class="t176" d="M1402.8 77.9L1408 86.5"/><path class="t182" d="M1400.2 73.8L1405.4 82.2"/><path class="t188" d="M1397.5 70.3L1400.2 73.8L1402.8 77.9"/><path class="t194" d="M1394.9 67.4L1397.5 70.3L1400.2 73.8"/><path class="t198" d="M1392.3 64.8L1397.5 70.3"/><path class="t203" d="M1389.7 62.3L1394.9 67.4"/><path class="t207" d="M1387 59.9L1392.3 64.8"/><path class="t212" d="M1384.4 57.6L1389.7 62.3"/><path class="t216" d="M1381.8 55.1L1387 59.9"/><path class="t221" d="M1379.2 52.4L1384.4 57.6"/><path class="t226" d="M1376.5 49.4L1381.8 55.1"/><path class="t232" d="M1373.9 46.5L1379.2 52.4"/><path class="t236" d="M1371.3 43.7L1376.5 49.4"/><path class="t241" d="M1368.7 41.5L1371.3 43.7L1373.9 46.5"/><path class="t244" d="M1366 39.9L1368.7 41.5L1371.3 43.7"/><path class="t247" d="M1363.4 38.7L1366 39.9L1368.7 41.5"/><path class="t249" d="M1360.8 37.7L1366 39.9"/><path class="t251" d="M1358.2 36.8L1363.4 38.7"/><path class="t253" d="M1355.5 36.2L1358.2 36.8L1360.8 37.7"/><path class="t254" d="M1352.9 35.9L1355.5 36.2L1358.2 36.8"/><path class="t255" d="M1329.3 41.1L1331.9 39.8L1342.4 37.3L1350.3 36L1352.9 35.9L1355.5 36.2"/><path class="t253" d="M1326.7 42.8L1329.3 41.1L1331.9 39.8"/><path class="t252" d="M1324 44.7L1329.3 41.1"/><path class="t250" d="M1321.4 46.7L1326.7 42.8"/><path class="t248" d="M1318.8 48.7L1324 44.7"/><path class="t245" d="M1316.2 50.9L1321.4 46.7"/><path class="t243" d="M1313.5 53.4L1316.2 50.9L1318.8 48.7"/><path class="t240" d="M1310.9 56.1L1316.2 50.9"/><path class="t236" d="M1308.3 59L1313.5 53.4"/><path class="t233" d="M1305.7 61.8L1310.9 56.1"/><path class="t230" d="M1303 64.4L1308.3 59"/><path class="t227" d="M1300.4 67L1305.7 61.8"/><path class="t224" d="M1297.8 69.6L1303 64.4"/><path class="t222" d="M1295.2 72.1L1300.4 67"/><path class="t219" d="M1292.5 74.6L1297.8 69.6"/><path class="t216" d="M1289.9 77L1295.2 72.1"/><path class="t214" d="M1287.3 79.4L1292.5 74.6"/><path class="t211" d="M1284.7 81.8L1289.9 77"/><path class="t209" d="M1282 84.2L1287.3 79.4"/><path class="t206" d="M1279.4 86.6L1284.7 81.8"/><path class="t203" d="M1276.8 89L1282 84.2"/><path class="t201" d="M1274.2 91.3L1279.4 86.6"/><path class="t199" d="M1271.5 93.6L1276.8 89"/><path class="t196" d="M1268.9 95.7L1274.2 91.3"/><path class="t194" d="M1266.3 97.7L1271.5 93.6"/><path class="t193" d="M1263.7 99.5L1268.9 95.7"/><path class="t191" d="M1261 101.2L1266.3 97.7"/><path class="t190" d="M1258.4 102.8L1263.7 99.5"/><path class="t188" d="M1255.8 104.4L1261 101.2"/><path class="t187" d="M1253.2 105.9L1258.4 102.8"/><path class="t186" d="M1250.5 107.3L1255.8 104.4"/><path class="t185" d="M1247.9 108.7L1253.2 105.9"/><path class="t184" d="M1245.3 110L1250.5 107.3"/><path class="t183" d="M1242.7 111.3L1247.9 108.7"/><path class="t182" d="M1240 112.4L1245.3 110"/><path class="t181" d="M1234.8 114.6L1242.7 111.3"/><path class="t180" d="M1229.5 116.6L1237.4 113.5"/><path class="t179" d="M1224.3 118.6L1232.2 115.6"/><path class="t178" d="M1219 120.5L1226.9 117.6"/><path class="t177" d="M1213.8 122.3L1221.7 119.5"/><path class="t176" d="M1205.9 125L1216.4 121.4"/><path class="t175" d="M1198 127.6L1208.5 124.1"/><path class="t174" d="M1190.2 130.1L1200.7 126.7"/><path class="t173" d="M1179.7 133.3L1192.8 129.3"/><path class="t172" d="M1166.5 137.2L1182.3 132.5"/><path class="t171" d="M1153.4 141L1169.2 136.4"/><path class="t170" d="M1132.4 146.7L1156 140.2"/><path class="t169" d="M1129.8 147.4L1135 146"/></g><g class="E"><path class="t113" d="M1444.8 112L1468.9 102.6"/><path class="t169" d="M1129.8 147.4L1153.9 157.2"/></g><g class="F"><path class="c113" d="M1442.2 111.4L1444.8 112L1468.9 102.6L1466.3 102.7z"/><path class="c115" d="M1439.5 110.6L1442.2 111.4L1466.3 102.7L1463.6 102.6z"/><path class="c117" d="M1436.9 109.6L1439.5 110.6L1463.6 102.6L1461 102.4z"/><path class="c120" d="M1434.3 108.4L1436.9 109.6L1461 102.4L1458.4 102.2z"/><path class="c123" d="M1431.7 107.2L1434.3 108.4L1458.4 102.2L1455.8 101.9z"/><path class="c126" d="M1429 105.8L1431.7 107.2L1455.8 101.9L1453.1 101.5z"/><path class="c129" d="M1426.4 104.3L1429 105.8L1453.1 101.5L1450.5 101z"/><path class="c132" d="M1423.8 102.6L1426.4 104.3L1450.5 101L1447.9 100.4z"/><path class="c136" d="M1421.2 100.6L1423.8 102.6L1447.9 100.4L1445.3 99.7z"/><path class="c140" d="M1418.5 98.5L1421.2 100.6L1445.3 99.7L1442.6 98.9z"/><path class="c144" d="M1415.9 96.2L1418.5 98.5L1442.6 98.9L1440 98z"/><path class="c149" d="M1413.3 93.6L1415.9 96.2L1440 98L1437.4 96.9z"/><path class="c155" d="M1410.7 90.4L1413.3 93.6L1437.4 96.9L1434.8 95.5z"/><path class="c161" d="M1408 86.5L1410.7 90.4L1434.8 95.5L1432.1 93.7z"/><path class="c168" d="M1405.4 82.2L1408 86.5L1432.1 93.7L1429.5 91.7z"/><path class="c176" d="M1402.8 77.9L1405.4 82.2L1429.5 91.7L1426.9 89.6z"/><path class="c182" d="M1400.2 73.8L1402.8 77.9L1426.9 89.6L1424.3 87.7z"/><path class="c188" d="M1397.5 70.3L1400.2 73.8L1424.3 87.7L1421.6 86.1z"/><path class="c194" d="M1394.9 67.4L1397.5 70.3L1421.6 86.1L1419 84.7z"/><path class="c198" d="M1392.3 64.8L1394.9 67.4L1419 84.7L1416.4 83.6z"/><path class="c203" d="M1389.7 62.3L1392.3 64.8L1416.4 83.6L1413.8 82.5z"/><path class="c207" d="M1387 59.9L1389.7 62.3L1413.8 82.5L1411.1 81.4z"/><path class="c212" d="M1384.4 57.6L1387 59.9L1411.1 81.4L1408.5 80.3z"/><path class="c216" d="M1381.8 55.1L1384.4 57.6L1408.5 80.3L1405.9 79.2z"/><path class="c221" d="M1379.2 52.4L1381.8 55.1L1405.9 79.2L1403.3 77.9z"/><path class="c226" d="M1376.5 49.4L1379.2 52.4L1403.3 77.9L1400.6 76.5z"/><path class="c232" d="M1373.9 46.5L1376.5 49.4L1400.6 76.5L1398 75.1z"/><path class="c236" d="M1371.3 43.7L1373.9 46.5L1398 75.1L1395.4 73.8z"/><path class="c241" d="M1368.7 41.5L1371.3 43.7L1395.4 73.8L1392.8 72.7z"/><path class="c244" d="M1366 39.9L1368.7 41.5L1392.8 72.7L1390.1 72.1z"/><path class="c247" d="M1363.4 38.7L1366 39.9L1390.1 72.1L1387.5 71.6z"/><path class="c249" d="M1360.8 37.7L1363.4 38.7L1387.5 71.6L1384.9 71.2z"/><path class="c251" d="M1358.2 36.8L1360.8 37.7L1384.9 71.2L1382.3 70.9z"/><path class="c253" d="M1355.5 36.2L1358.2 36.8L1382.3 70.9L1379.6 70.8z"/><path class="c254" d="M1352.9 35.9L1355.5 36.2L1379.6 70.8L1377 70.8z"/><path class="c255" d="M1329.3 41.1L1331.9 39.8L1342.4 37.3L1350.3 36L1352.9 35.9L1377 70.8L1358.6 71.9L1356 72.2L1353.4 72.9z"/><path class="c253" d="M1326.7 42.8L1329.3 41.1L1353.4 72.9L1350.8 73.8z"/><path class="c252" d="M1324 44.7L1326.7 42.8L1350.8 73.8L1348.1 74.8z"/><path class="c250" d="M1321.4 46.7L1324 44.7L1348.1 74.8L1345.5 76z"/><path class="c248" d="M1318.8 48.7L1321.4 46.7L1345.5 76L1342.9 77.1z"/><path class="c245" d="M1316.2 50.9L1318.8 48.7L1342.9 77.1L1340.3 78.4z"/><path class="c243" d="M1313.5 53.4L1316.2 50.9L1340.3 78.4L1337.6 79.9z"/><path class="c240" d="M1310.9 56.1L1313.5 53.4L1337.6 79.9L1335 81.6z"/><path class="c236" d="M1308.3 59L1310.9 56.1L1335 81.6L1332.4 83.4z"/><path class="c233" d="M1305.7 61.8L1308.3 59L1332.4 83.4L1329.8 85.2z"/><path class="c230" d="M1303 64.4L1305.7 61.8L1329.8 85.2L1327.1 87z"/><path class="c227" d="M1300.4 67L1303 64.4L1327.1 87L1324.5 88.7z"/><path class="c224" d="M1297.8 69.6L1300.4 67L1324.5 88.7L1321.9 90.4z"/><path class="c222" d="M1295.2 72.1L1297.8 69.6L1321.9 90.4L1319.3 92.1z"/><path class="c219" d="M1292.5 74.6L1295.2 72.1L1319.3 92.1L1316.6 93.9z"/><path class="c216" d="M1289.9 77L1292.5 74.6L1316.6 93.9L1314 95.6z"/><path class="c214" d="M1287.3 79.4L1289.9 77L1314 95.6L1311.4 97.3z"/><path class="c211" d="M1284.7 81.8L1287.3 79.4L1311.4 97.3L1308.8 99z"/><path class="c209" d="M1282 84.2L1284.7 81.8L1308.8 99L1306.1 100.8z"/><path class="c206" d="M1279.4 86.6L1282 84.2L1306.1 100.8L1303.5 102.6z"/><path class="c203" d="M1276.8 89L1279.4 86.6L1303.5 102.6L1300.9 104.4z"/><path class="c201" d="M1274.2 91.3L1276.8 89L1300.9 104.4L1298.3 106.1z"/><path class="c199" d="M1271.5 93.6L1274.2 91.3L1298.3 106.1L1295.6 107.9z"/><path class="c196" d="M1268.9 95.7L1271.5 93.6L1295.6 107.9L1293 109.5z"/><path class="c194" d="M1266.3 97.7L1268.9 95.7L1293 109.5L1290.4 111.1z"/><path class="c193" d="M1263.7 99.5L1266.3 97.7L1290.4 111.1L1287.8 112.5z"/><path class="c191" d="M1261 101.2L1263.7 99.5L1287.8 112.5L1285.1 113.9z"/><path class="c190" d="M1258.4 102.8L1261 101.2L1285.1 113.9L1282.5 115.2z"/><path class="c188" d="M1255.8 104.4L1258.4 102.8L1282.5 115.2L1279.9 116.5z"/><path class="c187" d="M1253.2 105.9L1255.8 104.4L1279.9 116.5L1277.3 117.8z"/><path class="c186" d="M1250.5 107.3L1253.2 105.9L1277.3 117.8L1274.6 119z"/><path class="c185" d="M1247.9 108.7L1250.5 107.3L1274.6 119L1272 120.2z"/><path class="c184" d="M1245.3 110L1247.9 108.7L1272 120.2L1269.4 121.4z"/><path class="c183" d="M1242.7 111.3L1245.3 110L1269.4 121.4L1266.8 122.5z"/><path class="c182" d="M1240 112.4L1242.7 111.3L1266.8 122.5L1264.1 123.5z"/><path class="c181" d="M1234.8 114.6L1240 112.4L1264.1 123.5L1258.9 125.4z"/><path class="c180" d="M1229.5 116.6L1234.8 114.6L1258.9 125.4L1253.6 127.3z"/><path class="c179" d="M1224.3 118.6L1229.5 116.6L1253.6 127.3L1248.4 129z"/><path class="c178" d="M1219 120.5L1224.3 118.6L1248.4 129L1243.1 130.9z"/><path class="c177" d="M1213.8 122.3L1219 120.5L1243.1 130.9L1237.9 132.6z"/><path class="c176" d="M1205.9 125L1213.8 122.3L1237.9 132.6L1230 135.2z"/><path class="c175" d="M1198 127.6L1205.9 125L1230 135.2L1222.1 137.7z"/><path class="c174" d="M1190.2 130.1L1198 127.6L1222.1 137.7L1214.3 140.2z"/><path class="c173" d="M1179.7 133.3L1190.2 130.1L1214.3 140.2L1203.8 143.4z"/><path class="c172" d="M1166.5 137.2L1179.7 133.3L1203.8 143.4L1190.6 147.2z"/><path class="c171" d="M1153.4 141L1166.5 137.2L1190.6 147.2L1177.5 150.9z"/><path class="c170" d="M1132.4 146.7L1153.4 141L1177.5 150.9L1156.5 156.6z"/><path class="c169" d="M1129.8 147.4L1132.4 146.7L1156.5 156.6L1153.9 157.2z"/></g><g class="T"><path class="t140" d="M1466.3 102.7L1468.9 102.6"/><path class="t141" d="M1463.6 102.6L1468.9 102.6"/><path class="t142" d="M1461 102.4L1466.3 102.7"/><path class="t143" d="M1458.4 102.2L1463.6 102.6"/><path class="t145" d="M1455.8 101.9L1461 102.4"/><path class="t146" d="M1453.1 101.5L1458.4 102.2"/><path class="t148" d="M1450.5 101L1455.8 101.9"/><path class="t150" d="M1447.9 100.4L1453.1 101.5"/><path class="t152" d="M1445.3 99.7L1450.5 101"/><path class="t154" d="M1442.6 98.9L1447.9 100.4"/><path class="t156" d="M1440 98L1445.3 99.7"/><path class="t159" d="M1437.4 96.9L1442.6 98.9"/><path class="t161" d="M1434.8 95.5L1437.4 96.9L1440 98"/><path class="t165" d="M1432.1 93.7L1434.8 95.5L1437.4 96.9"/><path class="t169" d="M1429.5 91.7L1434.8 95.5"/><path class="t173" d="M1426.9 89.6L1432.1 93.7"/><path class="t177" d="M1424.3 87.7L1429.5 91.7"/><path class="t180" d="M1421.6 86.1L1424.3 87.7L1426.9 89.6"/><path class="t183" d="M1419 84.7L1421.6 86.1L1424.3 87.7"/><path class="t185" d="M1416.4 83.6L1421.6 86.1"/><path class="t188" d="M1413.8 82.5L1419 84.7"/><path class="t190" d="M1411.1 81.4L1416.4 83.6"/><path class="t193" d="M1408.5 80.3L1413.8 82.5"/><path class="t195" d="M1405.9 79.2L1411.1 81.4"/><path class="t198" d="M1403.3 77.9L1408.5 80.3"/><path class="t201" d="M1400.6 76.5L1405.9 79.2"/><path class="t204" d="M1398 75.1L1403.3 77.9"/><path class="t207" d="M1395.4 73.8L1400.6 76.5"/><path class="t209" d="M1392.8 72.7L1398 75.1"/><path class="t211" d="M1390.1 72.1L1392.8 72.7L1395.4 73.8"/><path class="t213" d="M1387.5 71.6L1392.8 72.7"/><path class="t214" d="M1384.9 71.2L1390.1 72.1"/><path class="t216" d="M1382.3 70.9L1387.5 71.6"/><path class="t217" d="M1379.6 70.8L1384.9 71.2"/><path class="t218" d="M1374.4 71.1L1379.6 70.8L1382.3 70.9"/><path class="t219" d="M1371.8 71.1L1377 70.8"/><path class="t220" d="M1369.1 71.2L1374.4 71.1"/><path class="t221" d="M1363.9 71.5L1371.8 71.1"/><path class="t222" d="M1361.3 71.7L1366.5 71.4"/><path class="t223" d="M1350.8 73.8L1356 72.2L1363.9 71.5"/><path class="t222" d="M1348.1 74.8L1353.4 72.9"/><path class="t221" d="M1345.5 76L1350.8 73.8"/><path class="t220" d="M1340.3 78.4L1348.1 74.8"/><path class="t218" d="M1337.6 79.9L1342.9 77.1"/><path class="t217" d="M1335 81.6L1340.3 78.4"/><path class="t215" d="M1332.4 83.4L1337.6 79.9"/><path class="t213" d="M1329.8 85.2L1335 81.6"/><path class="t212" d="M1327.1 87L1332.4 83.4"/><path class="t210" d="M1324.5 88.7L1329.8 85.2"/><path class="t208" d="M1321.9 90.4L1327.1 87"/><path class="t207" d="M1319.3 92.1L1324.5 88.7"/><path class="t205" d="M1316.6 93.9L1321.9 90.4"/><path class="t204" d="M1314 95.6L1319.3 92.1"/><path class="t202" d="M1311.4 97.3L1316.6 93.9"/><path class="t200" d="M1308.8 99L1314 95.6"/><path class="t199" d="M1306.1 100.8L1311.4 97.3"/><path class="t197" d="M1303.5 102.6L1308.8 99"/><path class="t195" d="M1300.9 104.4L1306.1 100.8"/><path class="t194" d="M1298.3 106.1L1303.5 102.6"/><path class="t192" d="M1295.6 107.9L1300.9 104.4"/><path class="t191" d="M1293 109.5L1298.3 106.1"/><path class="t189" d="M1290.4 111.1L1295.6 107.9"/><path class="t188" d="M1287.8 112.5L1293 109.5"/><path class="t187" d="M1285.1 113.9L1290.4 111.1"/><path class="t186" d="M1282.5 115.2L1287.8 112.5"/><path class="t185" d="M1279.9 116.5L1285.1 113.9"/><path class="t184" d="M1277.3 117.8L1282.5 115.2"/><path class="t183" d="M1274.6 119L1279.9 116.5"/><path class="t182" d="M1269.4 121.4L1277.3 117.8"/><path class="t181" d="M1266.8 122.5L1272 120.2"/><path class="t180" d="M1261.5 124.5L1269.4 121.4"/><path class="t179" d="M1256.3 126.3L1264.1 123.5"/><path class="t178" d="M1248.4 129L1258.9 125.4"/><path class="t177" d="M1243.1 130.9L1251 128.2"/><path class="t176" d="M1235.3 133.5L1245.8 130"/><path class="t175" d="M1227.4 136.1L1237.9 132.6"/><path class="t174" d="M1216.9 139.4L1230 135.2"/><path class="t173" d="M1206.4 142.6L1219.5 138.6"/><path class="t172" d="M1193.3 146.4L1209 141.8"/><path class="t171" d="M1177.5 150.9L1195.9 145.7"/><path class="t170" d="M1156.5 156.6L1180.1 150.1"/><path class="t169" d="M1153.9 157.2L1159.1 155.9"/></g><g class="E"><path class="t140" d="M1468.9 102.6L1493 102.5"/><path class="t169" d="M1153.9 157.2L1178 167.1"/></g><g class="F"><path class="c140" d="M1466.3 102.7L1468.9 102.6L1493 102.5L1490.4 102.8z"/><path class="c141" d="M1463.6 102.6L1466.3 102.7L1490.4 102.8L1487.8 103.1z"/><path class="c142" d="M1461 102.4L1463.6 102.6L1487.8 103.1L1485.1 103.4z"/><path class="c143" d="M1458.4 102.2L1461 102.4L1485.1 103.4L1482.5 103.6z"/><path class="c145" d="M1455.8 101.9L1458.4 102.2L1482.5 103.6L1479.9 103.7z"/><path class="c146" d="M1453.1 101.5L1455.8 101.9L1479.9 103.7L1477.2 103.8z"/><path class="c148" d="M1450.5 101L1453.1 101.5L1477.2 103.8L1474.6 103.9z"/><path class="c150" d="M1447.9 100.4L1450.5 101L1474.6 103.9L1472 103.9z"/><path class="c152" d="M1445.3 99.7L1447.9 100.4L1472 103.9L1469.4 103.8z"/><path class="c154" d="M1442.6 98.9L1445.3 99.7L1469.4 103.8L1466.8 103.7z"/><path class="c156" d="M1440 98L1442.6 98.9L1466.8 103.7L1464.1 103.5z"/><path class="c159" d="M1437.4 96.9L1440 98L1464.1 103.5L1461.5 103.2z"/><path class="c161" d="M1434.8 95.5L1437.4 96.9L1461.5 103.2L1458.9 102.8z"/><path class="c165" d="M1432.1 93.7L1434.8 95.5L1458.9 102.8L1456.2 102.1z"/><path class="c169" d="M1429.5 91.7L1432.1 93.7L1456.2 102.1L1453.6 101.3z"/><path class="c173" d="M1426.9 89.6L1429.5 91.7L1453.6 101.3L1451 100.5z"/><path class="c177" d="M1424.3 87.7L1426.9 89.6L1451 100.5L1448.4 99.7z"/><path class="c180" d="M1421.6 86.1L1424.3 87.7L1448.4 99.7L1445.8 99.1z"/><path class="c183" d="M1419 84.7L1421.6 86.1L1445.8 99.1L1443.1 98.7z"/><path class="c185" d="M1416.4 83.6L1419 84.7L1443.1 98.7L1440.5 98.3z"/><path class="c188" d="M1413.8 82.5L1416.4 83.6L1440.5 98.3L1437.9 98z"/><path class="c190" d="M1411.1 81.4L1413.8 82.5L1437.9 98L1435.2 97.6z"/><path class="c193" d="M1408.5 80.3L1411.1 81.4L1435.2 97.6L1432.6 97.3z"/><path class="c195" d="M1405.9 79.2L1408.5 80.3L1432.6 97.3L1430 97z"/><path class="c198" d="M1403.3 77.9L1405.9 79.2L1430 97L1427.4 96.5z"/><path class="c201" d="M1400.6 76.5L1403.3 77.9L1427.4 96.5L1424.8 96z"/><path class="c204" d="M1398 75.1L1400.6 76.5L1424.8 96L1422.1 95.4z"/><path class="c207" d="M1395.4 73.8L1398 75.1L1422.1 95.4L1419.5 94.9z"/><path class="c209" d="M1392.8 72.7L1395.4 73.8L1419.5 94.9L1416.9 94.6z"/><path class="c211" d="M1390.1 72.1L1392.8 72.7L1416.9 94.6L1414.2 94.4z"/><path class="c213" d="M1387.5 71.6L1390.1 72.1L1414.2 94.4L1411.6 94.4z"/><path class="c214" d="M1384.9 71.2L1387.5 71.6L1411.6 94.4L1409 94.4z"/><path class="c216" d="M1382.3 70.9L1384.9 71.2L1409 94.4L1406.4 94.5z"/><path class="c217" d="M1379.6 70.8L1382.3 70.9L1406.4 94.5L1403.8 94.6z"/><path class="c218" d="M1374.4 71.1L1379.6 70.8L1403.8 94.6L1398.5 95.3z"/><path class="c219" d="M1371.8 71.1L1374.4 71.1L1398.5 95.3L1395.9 95.3z"/><path class="c220" d="M1369.1 71.2L1371.8 71.1L1395.9 95.3L1393.2 95.4z"/><path class="c221" d="M1363.9 71.5L1369.1 71.2L1393.2 95.4L1388 95.6z"/><path class="c222" d="M1361.3 71.7L1363.9 71.5L1388 95.6L1385.4 95.7z"/><path class="c223" d="M1350.8 73.8L1356 72.2L1361.3 71.7L1385.4 95.7L1380.1 96.1L1374.9 97z"/><path class="c222" d="M1348.1 74.8L1350.8 73.8L1374.9 97L1372.2 97.6z"/><path class="c221" d="M1345.5 76L1348.1 74.8L1372.2 97.6L1369.6 98.3z"/><path class="c220" d="M1340.3 78.4L1345.5 76L1369.6 98.3L1364.4 99.9z"/><path class="c218" d="M1337.6 79.9L1340.3 78.4L1364.4 99.9L1361.8 100.9z"/><path class="c217" d="M1335 81.6L1337.6 79.9L1361.8 100.9L1359.1 102z"/><path class="c215" d="M1332.4 83.4L1335 81.6L1359.1 102L1356.5 103.2z"/><path class="c213" d="M1329.8 85.2L1332.4 83.4L1356.5 103.2L1353.9 104.4z"/><path class="c212" d="M1327.1 87L1329.8 85.2L1353.9 104.4L1351.2 105.6z"/><path class="c210" d="M1324.5 88.7L1327.1 87L1351.2 105.6L1348.6 106.8z"/><path class="c208" d="M1321.9 90.4L1324.5 88.7L1348.6 106.8L1346 108z"/><path class="c207" d="M1319.3 92.1L1321.9 90.4L1346 108L1343.4 109.2z"/><path class="c205" d="M1316.6 93.9L1319.3 92.1L1343.4 109.2L1340.8 110.5z"/><path class="c204" d="M1314 95.6L1316.6 93.9L1340.8 110.5L1338.1 111.8z"/><path class="c202" d="M1311.4 97.3L1314 95.6L1338.1 111.8L1335.5 113z"/><path class="c200" d="M1308.8 99L1311.4 97.3L1335.5 113L1332.9 114.3z"/><path class="c199" d="M1306.1 100.8L1308.8 99L1332.9 114.3L1330.2 115.6z"/><path class="c197" d="M1303.5 102.6L1306.1 100.8L1330.2 115.6L1327.6 117z"/><path class="c195" d="M1300.9 104.4L1303.5 102.6L1327.6 117L1325 118.4z"/><path class="c194" d="M1298.3 106.1L1300.9 104.4L1325 118.4L1322.4 119.8z"/><path class="c192" d="M1295.6 107.9L1298.3 106.1L1322.4 119.8L1319.8 121.1z"/><path class="c191" d="M1293 109.5L1295.6 107.9L1319.8 121.1L1317.1 122.5z"/><path class="c189" d="M1290.4 111.1L1293 109.5L1317.1 122.5L1314.5 123.7z"/><path class="c188" d="M1287.8 112.5L1290.4 111.1L1314.5 123.7L1311.9 124.9z"/><path class="c187" d="M1285.1 113.9L1287.8 112.5L1311.9 124.9L1309.2 126.1z"/><path class="c186" d="M1282.5 115.2L1285.1 113.9L1309.2 126.1L1306.6 127.2z"/><path class="c185" d="M1279.9 116.5L1282.5 115.2L1306.6 127.2L1304 128.3z"/><path class="c184" d="M1277.3 117.8L1279.9 116.5L1304 128.3L1301.4 129.4z"/><path class="c183" d="M1274.6 119L1277.3 117.8L1301.4 129.4L1298.8 130.4z"/><path class="c182" d="M1269.4 121.4L1274.6 119L1298.8 130.4L1293.5 132.5z"/><path class="c181" d="M1266.8 122.5L1269.4 121.4L1293.5 132.5L1290.9 133.4z"/><path class="c180" d="M1261.5 124.5L1266.8 122.5L1290.9 133.4L1285.6 135.2z"/><path class="c179" d="M1256.3 126.3L1261.5 124.5L1285.6 135.2L1280.4 136.9z"/><path class="c178" d="M1248.4 129L1256.3 126.3L1280.4 136.9L1272.5 139.4z"/><path class="c177" d="M1243.1 130.9L1248.4 129L1272.5 139.4L1267.2 141.2z"/><path class="c176" d="M1235.3 133.5L1243.1 130.9L1267.2 141.2L1259.4 143.7z"/><path class="c175" d="M1227.4 136.1L1235.3 133.5L1259.4 143.7L1251.5 146.2z"/><path class="c174" d="M1216.9 139.4L1227.4 136.1L1251.5 146.2L1241 149.5z"/><path class="c173" d="M1206.4 142.6L1216.9 139.4L1241 149.5L1230.5 152.6z"/><path class="c172" d="M1193.3 146.4L1206.4 142.6L1230.5 152.6L1217.4 156.4z"/><path class="c171" d="M1177.5 150.9L1193.3 146.4L1217.4 156.4L1201.6 160.8z"/><path class="c170" d="M1156.5 156.6L1177.5 150.9L1201.6 160.8L1180.6 166.4z"/><path class="c169" d="M1153.9 157.2L1156.5 156.6L1180.6 166.4L1178 167.1z"/></g><g class="T"><path class="t154" d="M1490.4 102.8L1493 102.5"/><path class="t155" d="M1485.1 103.4L1493 102.5"/><path class="t156" d="M1482.5 103.6L1487.8 103.1"/><path class="t157" d="M1477.2 103.8L1485.1 103.4"/><path class="t158" d="M1474.6 103.9L1479.9 103.7"/><path class="t159" d="M1472 103.9L1477.2 103.8"/><path class="t160" d="M1469.4 103.8L1474.6 103.9"/><path class="t161" d="M1466.8 103.7L1472 103.9"/><path class="t162" d="M1464.1 103.5L1469.4 103.8"/><path class="t164" d="M1461.5 103.2L1466.8 103.7"/><path class="t165" d="M1458.9 102.8L1464.1 103.5"/><path class="t167" d="M1456.2 102.1L1461.5 103.2"/><path class="t169" d="M1453.6 101.3L1458.9 102.8"/><path class="t171" d="M1451 100.5L1456.2 102.1"/><path class="t173" d="M1448.4 99.7L1453.6 101.3"/><path class="t175" d="M1445.8 99.1L1451 100.5"/><path class="t177" d="M1443.1 98.7L1448.4 99.7"/><path class="t178" d="M1440.5 98.3L1445.8 99.1"/><path class="t180" d="M1437.9 98L1443.1 98.7"/><path class="t181" d="M1435.2 97.6L1440.5 98.3"/><path class="t182" d="M1432.6 97.3L1437.9 98"/><path class="t184" d="M1430 97L1435.2 97.6"/><path class="t185" d="M1427.4 96.5L1432.6 97.3"/><path class="t187" d="M1424.8 96L1430 97"/><path class="t189" d="M1422.1 95.4L1427.4 96.5"/><path class="t190" d="M1419.5 94.9L1424.8 96"/><path class="t192" d="M1416.9 94.6L1422.1 95.4"/><path class="t193" d="M1414.2 94.4L1419.5 94.9"/><path class="t194" d="M1411.6 94.4L1416.9 94.6"/><path class="t195" d="M1409 94.4L1414.2 94.4"/><path class="t196" d="M1403.8 94.6L1411.6 94.4"/><path class="t197" d="M1398.5 95.3L1406.4 94.5"/><path class="t198" d="M1395.9 95.3L1398.5 95.3L1401.1 94.9"/><path class="t199" d="M1393.2 95.4L1398.5 95.3"/><path class="t200" d="M1388 95.6L1395.9 95.3"/><path class="t201" d="M1385.4 95.7L1390.6 95.5"/><path class="t202" d="M1382.8 95.8L1388 95.6"/><path class="t203" d="M1367 99.1L1377.5 96.5L1382.8 95.8L1385.4 95.7"/><path class="t202" d="M1361.8 100.9L1369.6 98.3"/><path class="t201" d="M1359.1 102L1364.4 99.9"/><path class="t200" d="M1356.5 103.2L1361.8 100.9"/><path class="t199" d="M1351.2 105.6L1359.1 102"/><path class="t198" d="M1348.6 106.8L1353.9 104.4"/><path class="t197" d="M1346 108L1351.2 105.6"/><path class="t196" d="M1343.4 109.2L1348.6 106.8"/><path class="t195" d="M1340.8 110.5L1346 108"/><path class="t194" d="M1338.1 111.8L1343.4 109.2"/><path class="t193" d="M1335.5 113L1340.8 110.5"/><path class="t192" d="M1332.9 114.3L1338.1 111.8"/><path class="t191" d="M1330.2 115.6L1335.5 113"/><path class="t190" d="M1327.6 117L1332.9 114.3"/><path class="t189" d="M1325 118.4L1330.2 115.6"/><path class="t188" d="M1322.4 119.8L1327.6 117"/><path class="t187" d="M1319.8 121.1L1325 118.4"/><path class="t186" d="M1317.1 122.5L1322.4 119.8"/><path class="t185" d="M1314.5 123.7L1319.8 121.1"/><path class="t184" d="M1311.9 124.9L1317.1 122.5"/><path class="t183" d="M1306.6 127.2L1314.5 123.7"/><path class="t182" d="M1304 128.3L1309.2 126.1"/><path class="t181" d="M1298.8 130.4L1306.6 127.2"/><path class="t180" d="M1293.5 132.5L1301.4 129.4"/><path class="t179" d="M1288.2 134.3L1296.1 131.5"/><path class="t178" d="M1280.4 136.9L1290.9 133.4"/><path class="t177" d="M1272.5 139.4L1283 136.1"/><path class="t176" d="M1264.6 142L1275.1 138.6"/><path class="t175" d="M1254.1 145.4L1267.2 141.2"/><path class="t174" d="M1246.2 147.9L1256.8 144.6"/><path class="t173" d="M1235.8 151.1L1248.9 147.1"/><path class="t172" d="M1220 155.6L1238.4 150.3"/><path class="t171" d="M1204.2 160.1L1222.6 154.9"/><path class="t170" d="M1180.6 166.4L1206.9 159.3"/><path class="t169" d="M1178 167.1L1183.2 165.7"/></g><g class="E"><path class="t154" d="M1493 102.5L1517.1 107.1"/><path class="t169" d="M1178 167.1L1202.1 176.9"/></g><g class="F"><path class="c154" d="M1490.4 102.8L1493 102.5L1517.1 107.1L1514.5 107.6z"/><path class="c155" d="M1485.1 103.4L1490.4 102.8L1514.5 107.6L1509.2 108.5z"/><path class="c156" d="M1482.5 103.6L1485.1 103.4L1509.2 108.5L1506.6 108.9z"/><path class="c157" d="M1477.2 103.8L1482.5 103.6L1506.6 108.9L1501.3 109.7z"/><path class="c158" d="M1474.6 103.9L1477.2 103.8L1501.3 109.7L1498.7 110z"/><path class="c159" d="M1472 103.9L1474.6 103.9L1498.7 110L1496.1 110.4z"/><path class="c160" d="M1469.4 103.8L1472 103.9L1496.1 110.4L1493.5 110.6z"/><path class="c161" d="M1466.8 103.7L1469.4 103.8L1493.5 110.6L1490.8 110.9z"/><path class="c162" d="M1464.1 103.5L1466.8 103.7L1490.8 110.9L1488.2 111.1z"/><path class="c164" d="M1461.5 103.2L1464.1 103.5L1488.2 111.1L1485.6 111.2z"/><path class="c165" d="M1458.9 102.8L1461.5 103.2L1485.6 111.2L1483 111.3z"/><path class="c167" d="M1456.2 102.1L1458.9 102.8L1483 111.3L1480.3 111.2z"/><path class="c169" d="M1453.6 101.3L1456.2 102.1L1480.3 111.2L1477.7 111.1z"/><path class="c171" d="M1451 100.5L1453.6 101.3L1477.7 111.1L1475.1 110.9z"/><path class="c173" d="M1448.4 99.7L1451 100.5L1475.1 110.9L1472.5 110.8z"/><path class="c175" d="M1445.8 99.1L1448.4 99.7L1472.5 110.8L1469.8 110.7z"/><path class="c177" d="M1443.1 98.7L1445.8 99.1L1469.8 110.7L1467.2 110.7z"/><path class="c178" d="M1440.5 98.3L1443.1 98.7L1467.2 110.7L1464.6 110.8z"/><path class="c180" d="M1437.9 98L1440.5 98.3L1464.6 110.8L1462 110.9z"/><path class="c181" d="M1435.2 97.6L1437.9 98L1462 110.9L1459.3 111z"/><path class="c182" d="M1432.6 97.3L1435.2 97.6L1459.3 111L1456.7 111.1z"/><path class="c184" d="M1430 97L1432.6 97.3L1456.7 111.1L1454.1 111.2z"/><path class="c185" d="M1427.4 96.5L1430 97L1454.1 111.2L1451.5 111.2z"/><path class="c187" d="M1424.8 96L1427.4 96.5L1451.5 111.2L1448.8 111.1z"/><path class="c189" d="M1422.1 95.4L1424.8 96L1448.8 111.1L1446.2 111.1z"/><path class="c190" d="M1419.5 94.9L1422.1 95.4L1446.2 111.1L1443.6 111.1z"/><path class="c192" d="M1416.9 94.6L1419.5 94.9L1443.6 111.1L1441 111.2z"/><path class="c193" d="M1414.2 94.4L1416.9 94.6L1441 111.2L1438.3 111.3z"/><path class="c194" d="M1411.6 94.4L1414.2 94.4L1438.3 111.3L1435.7 111.6z"/><path class="c195" d="M1409 94.4L1411.6 94.4L1435.7 111.6L1433.1 111.8z"/><path class="c196" d="M1403.8 94.6L1409 94.4L1433.1 111.8L1427.8 112.4z"/><path class="c197" d="M1398.5 95.3L1403.8 94.6L1427.8 112.4L1422.6 113.3z"/><path class="c198" d="M1395.9 95.3L1398.5 95.3L1422.6 113.3L1420 113.5z"/><path class="c199" d="M1393.2 95.4L1395.9 95.3L1420 113.5L1417.3 113.6z"/><path class="c200" d="M1388 95.6L1393.2 95.4L1417.3 113.6L1412.1 114z"/><path class="c201" d="M1385.4 95.7L1388 95.6L1412.1 114L1409.5 114.1z"/><path class="c202" d="M1382.8 95.8L1385.4 95.7L1409.5 114.1L1406.8 114.3z"/><path class="c203" d="M1367 99.1L1377.5 96.5L1382.8 95.8L1406.8 114.3L1396.3 115.8L1391.1 116.8z"/><path class="c202" d="M1361.8 100.9L1367 99.1L1391.1 116.8L1385.8 118.1z"/><path class="c201" d="M1359.1 102L1361.8 100.9L1385.8 118.1L1383.2 118.9z"/><path class="c200" d="M1356.5 103.2L1359.1 102L1383.2 118.9L1380.6 119.8z"/><path class="c199" d="M1351.2 105.6L1356.5 103.2L1380.6 119.8L1375.3 121.6z"/><path class="c198" d="M1348.6 106.8L1351.2 105.6L1375.3 121.6L1372.7 122.5z"/><path class="c197" d="M1346 108L1348.6 106.8L1372.7 122.5L1370.1 123.4z"/><path class="c196" d="M1343.4 109.2L1346 108L1370.1 123.4L1367.5 124.3z"/><path class="c195" d="M1340.8 110.5L1343.4 109.2L1367.5 124.3L1364.8 125.2z"/><path class="c194" d="M1338.1 111.8L1340.8 110.5L1364.8 125.2L1362.2 126.2z"/><path class="c193" d="M1335.5 113L1338.1 111.8L1362.2 126.2L1359.6 127.2z"/><path class="c192" d="M1332.9 114.3L1335.5 113L1359.6 127.2L1357 128.2z"/><path class="c191" d="M1330.2 115.6L1332.9 114.3L1357 128.2L1354.3 129.2z"/><path class="c190" d="M1327.6 117L1330.2 115.6L1354.3 129.2L1351.7 130.3z"/><path class="c189" d="M1325 118.4L1327.6 117L1351.7 130.3L1349.1 131.4z"/><path class="c188" d="M1322.4 119.8L1325 118.4L1349.1 131.4L1346.5 132.5z"/><path class="c187" d="M1319.8 121.1L1322.4 119.8L1346.5 132.5L1343.8 133.7z"/><path class="c186" d="M1317.1 122.5L1319.8 121.1L1343.8 133.7L1341.2 134.8z"/><path class="c185" d="M1314.5 123.7L1317.1 122.5L1341.2 134.8L1338.6 135.8z"/><path class="c184" d="M1311.9 124.9L1314.5 123.7L1338.6 135.8L1336 136.8z"/><path class="c183" d="M1306.6 127.2L1311.9 124.9L1336 136.8L1330.7 138.7z"/><path class="c182" d="M1304 128.3L1306.6 127.2L1330.7 138.7L1328.1 139.7z"/><path class="c181" d="M1298.8 130.4L1304 128.3L1328.1 139.7L1322.8 141.6z"/><path class="c180" d="M1293.5 132.5L1298.8 130.4L1322.8 141.6L1317.6 143.4z"/><path class="c179" d="M1288.2 134.3L1293.5 132.5L1317.6 143.4L1312.3 145.1z"/><path class="c178" d="M1280.4 136.9L1288.2 134.3L1312.3 145.1L1304.5 147.5z"/><path class="c177" d="M1272.5 139.4L1280.4 136.9L1304.5 147.5L1296.6 149.8z"/><path class="c176" d="M1264.6 142L1272.5 139.4L1296.6 149.8L1288.7 152.3z"/><path class="c175" d="M1254.1 145.4L1264.6 142L1288.7 152.3L1278.2 155.6z"/><path class="c174" d="M1246.2 147.9L1254.1 145.4L1278.2 155.6L1270.3 158z"/><path class="c173" d="M1235.8 151.1L1246.2 147.9L1270.3 158L1259.8 161.1z"/><path class="c172" d="M1220 155.6L1235.8 151.1L1259.8 161.1L1244.1 165.6z"/><path class="c171" d="M1204.2 160.1L1220 155.6L1244.1 165.6L1228.3 170z"/><path class="c170" d="M1180.6 166.4L1204.2 160.1L1228.3 170L1204.7 176.2z"/><path class="c169" d="M1178 167.1L1180.6 166.4L1204.7 176.2L1202.1 176.9z"/></g><g class="T"><path class="t161" d="M1514.5 107.6L1517.1 107.1"/><path class="t162" d="M1506.6 108.9L1517.1 107.1"/><path class="t163" d="M1498.7 110L1509.2 108.5"/><path class="t164" d="M1493.5 110.6L1501.3 109.7"/><path class="t165" d="M1490.8 110.9L1496.1 110.4"/><path class="t166" d="M1485.6 111.2L1493.5 110.6"/><path class="t167" d="M1483 111.3L1488.2 111.1"/><path class="t168" d="M1480.3 111.2L1485.6 111.2"/><path class="t169" d="M1477.7 111.1L1483 111.3"/><path class="t170" d="M1475.1 110.9L1480.3 111.2"/><path class="t172" d="M1472.5 110.8L1477.7 111.1"/><path class="t173" d="M1467.2 110.7L1475.1 110.9"/><path class="t174" d="M1464.6 110.8L1469.8 110.7"/><path class="t175" d="M1462 110.9L1467.2 110.7"/><path class="t176" d="M1459.3 111L1464.6 110.8"/><path class="t177" d="M1454.1 111.2L1462 110.9"/><path class="t178" d="M1451.5 111.2L1456.7 111.1"/><path class="t179" d="M1448.8 111.1L1454.1 111.2"/><path class="t180" d="M1446.2 111.1L1451.5 111.2"/><path class="t181" d="M1443.6 111.1L1448.8 111.1"/><path class="t182" d="M1441 111.2L1446.2 111.1"/><path class="t183" d="M1435.7 111.6L1443.6 111.1"/><path class="t184" d="M1430.5 112.1L1438.3 111.3"/><path class="t185" d="M1422.6 113.3L1433.1 111.8"/><path class="t186" d="M1420 113.5L1422.6 113.3L1425.2 112.8"/><path class="t187" d="M1414.7 113.8L1422.6 113.3"/><path class="t188" d="M1412.1 114L1417.3 113.6"/><path class="t189" d="M1406.8 114.3L1414.7 113.8"/><path class="t190" d="M1401.6 114.9L1409.5 114.1"/><path class="t191" d="M1383.2 118.9L1391.1 116.8L1401.6 114.9L1404.2 114.5"/><path class="t190" d="M1375.3 121.6L1385.8 118.1"/><path class="t189" d="M1367.5 124.3L1378 120.7"/><path class="t188" d="M1362.2 126.2L1370.1 123.4"/><path class="t187" d="M1357 128.2L1364.8 125.2"/><path class="t186" d="M1354.3 129.2L1359.6 127.2"/><path class="t185" d="M1349.1 131.4L1357 128.2"/><path class="t184" d="M1346.5 132.5L1351.7 130.3"/><path class="t183" d="M1343.8 133.7L1349.1 131.4"/><path class="t182" d="M1338.6 135.8L1346.5 132.5"/><path class="t181" d="M1333.3 137.8L1341.2 134.8"/><path class="t180" d="M1328.1 139.7L1336 136.8"/><path class="t179" d="M1322.8 141.6L1330.7 138.7"/><path class="t178" d="M1315 144.2L1325.5 140.6"/><path class="t177" d="M1304.5 147.5L1317.6 143.4"/><path class="t176" d="M1294 150.6L1307.1 146.7"/><path class="t175" d="M1283.5 154L1296.6 149.8"/><path class="t174" d="M1275.6 156.4L1286.1 153.1"/><path class="t173" d="M1262.5 160.4L1278.2 155.6"/><path class="t172" d="M1249.3 164.1L1265.1 159.6"/><path class="t171" d="M1231 169.2L1252 163.4"/><path class="t170" d="M1204.7 176.2L1233.6 168.5"/><path class="t169" d="M1202.1 176.9L1207.3 175.6"/></g><g class="E"><path class="t161" d="M1517.1 107.1L1541.2 114.3"/><path class="t169" d="M1202.1 176.9L1226.2 186.7"/></g><g class="F"><path class="c161" d="M1514.5 107.6L1517.1 107.1L1541.2 114.3L1538.6 114.8z"/><path class="c162" d="M1506.6 108.9L1514.5 107.6L1538.6 114.8L1530.7 116.4z"/><path class="c163" d="M1498.7 110L1506.6 108.9L1530.7 116.4L1522.8 117.9z"/><path class="c164" d="M1493.5 110.6L1498.7 110L1522.8 117.9L1517.6 118.8z"/><path class="c165" d="M1490.8 110.9L1493.5 110.6L1517.6 118.8L1515 119.3z"/><path class="c166" d="M1485.6 111.2L1490.8 110.9L1515 119.3L1509.7 120z"/><path class="c167" d="M1483 111.3L1485.6 111.2L1509.7 120L1507.1 120.4z"/><path class="c168" d="M1480.3 111.2L1483 111.3L1507.1 120.4L1504.5 120.6z"/><path class="c169" d="M1477.7 111.1L1480.3 111.2L1504.5 120.6L1501.8 120.8z"/><path class="c170" d="M1475.1 110.9L1477.7 111.1L1501.8 120.8L1499.2 121z"/><path class="c172" d="M1472.5 110.8L1475.1 110.9L1499.2 121L1496.6 121.2z"/><path class="c173" d="M1467.2 110.7L1472.5 110.8L1496.6 121.2L1491.3 121.8z"/><path class="c174" d="M1464.6 110.8L1467.2 110.7L1491.3 121.8L1488.7 122.1z"/><path class="c175" d="M1462 110.9L1464.6 110.8L1488.7 122.1L1486.1 122.4z"/><path class="c176" d="M1459.3 111L1462 110.9L1486.1 122.4L1483.5 122.8z"/><path class="c177" d="M1454.1 111.2L1459.3 111L1483.5 122.8L1478.2 123.4z"/><path class="c178" d="M1451.5 111.2L1454.1 111.2L1478.2 123.4L1475.6 123.7z"/><path class="c179" d="M1448.8 111.1L1451.5 111.2L1475.6 123.7L1473 124z"/><path class="c180" d="M1446.2 111.1L1448.8 111.1L1473 124L1470.3 124.2z"/><path class="c181" d="M1443.6 111.1L1446.2 111.1L1470.3 124.2L1467.7 124.5z"/><path class="c182" d="M1441 111.2L1443.6 111.1L1467.7 124.5L1465.1 124.8z"/><path class="c183" d="M1435.7 111.6L1441 111.2L1465.1 124.8L1459.8 125.5z"/><path class="c184" d="M1430.5 112.1L1435.7 111.6L1459.8 125.5L1454.6 126.3z"/><path class="c185" d="M1422.6 113.3L1430.5 112.1L1454.6 126.3L1446.7 127.8z"/><path class="c186" d="M1420 113.5L1422.6 113.3L1446.7 127.8L1444.1 128.1z"/><path class="c187" d="M1414.7 113.8L1420 113.5L1444.1 128.1L1438.8 128.6z"/><path class="c188" d="M1412.1 114L1414.7 113.8L1438.8 128.6L1436.2 128.9z"/><path class="c189" d="M1406.8 114.3L1412.1 114L1436.2 128.9L1431 129.4z"/><path class="c190" d="M1401.6 114.9L1406.8 114.3L1431 129.4L1425.7 130.1z"/><path class="c191" d="M1383.2 118.9L1391.1 116.8L1401.6 114.9L1425.7 130.1L1410 132.9L1407.3 133.5z"/><path class="c190" d="M1375.3 121.6L1383.2 118.9L1407.3 133.5L1399.5 135.7z"/><path class="c189" d="M1367.5 124.3L1375.3 121.6L1399.5 135.7L1391.6 137.8z"/><path class="c188" d="M1362.2 126.2L1367.5 124.3L1391.6 137.8L1386.3 139.4z"/><path class="c187" d="M1357 128.2L1362.2 126.2L1386.3 139.4L1381.1 141z"/><path class="c186" d="M1354.3 129.2L1357 128.2L1381.1 141L1378.5 141.9z"/><path class="c185" d="M1349.1 131.4L1354.3 129.2L1378.5 141.9L1373.2 143.7z"/><path class="c184" d="M1346.5 132.5L1349.1 131.4L1373.2 143.7L1370.6 144.6z"/><path class="c183" d="M1343.8 133.7L1346.5 132.5L1370.6 144.6L1368 145.6z"/><path class="c182" d="M1338.6 135.8L1343.8 133.7L1368 145.6L1362.7 147.4z"/><path class="c181" d="M1333.3 137.8L1338.6 135.8L1362.7 147.4L1357.5 149.1z"/><path class="c180" d="M1328.1 139.7L1333.3 137.8L1357.5 149.1L1352.2 150.8z"/><path class="c179" d="M1322.8 141.6L1328.1 139.7L1352.2 150.8L1347 152.5z"/><path class="c178" d="M1315 144.2L1322.8 141.6L1347 152.5L1339.1 154.9z"/><path class="c177" d="M1304.5 147.5L1315 144.2L1339.1 154.9L1328.6 157.9z"/><path class="c176" d="M1294 150.6L1304.5 147.5L1328.6 157.9L1318.1 160.9z"/><path class="c175" d="M1283.5 154L1294 150.6L1318.1 160.9L1307.6 164.1z"/><path class="c174" d="M1275.6 156.4L1283.5 154L1307.6 164.1L1299.7 166.5z"/><path class="c173" d="M1262.5 160.4L1275.6 156.4L1299.7 166.5L1286.6 170.4z"/><path class="c172" d="M1249.3 164.1L1262.5 160.4L1286.6 170.4L1273.5 174.1z"/><path class="c171" d="M1231 169.2L1249.3 164.1L1273.5 174.1L1255.1 179.2z"/><path class="c170" d="M1204.7 176.2L1231 169.2L1255.1 179.2L1228.8 186.1z"/><path class="c169" d="M1202.1 176.9L1204.7 176.2L1228.8 186.1L1226.2 186.7z"/></g><g class="T"><path class="t165" d="M1536 115.4L1541.2 114.3"/><path class="t166" d="M1522.8 117.9L1538.6 114.8"/><path class="t167" d="M1512.3 119.7L1525.5 117.4"/><path class="t168" d="M1507.1 120.4L1515 119.3"/><path class="t169" d="M1501.8 120.8L1509.7 120"/><path class="t170" d="M1499.2 121L1504.5 120.6"/><path class="t171" d="M1494 121.5L1501.8 120.8"/><path class="t172" d="M1488.7 122.1L1496.6 121.2"/><path class="t173" d="M1480.8 123.1L1491.3 121.8"/><path class="t174" d="M1475.6 123.7L1483.5 122.8"/><path class="t175" d="M1470.3 124.2L1478.2 123.4"/><path class="t176" d="M1467.7 124.5L1473 124"/><path class="t177" d="M1459.8 125.5L1470.3 124.2"/><path class="t178" d="M1449.3 127.3L1462.5 125.1"/><path class="t179" d="M1444.1 128.1L1452 126.8"/><path class="t180" d="M1438.8 128.6L1446.7 127.8"/><path class="t181" d="M1433.6 129.2L1441.5 128.4"/><path class="t182" d="M1428.3 129.7L1436.2 128.9"/><path class="t183" d="M1417.8 131.3L1431 129.4"/><path class="t184" d="M1399.5 135.7L1412.6 132.3L1420.5 130.9"/><path class="t183" d="M1386.3 139.4L1402.1 134.9"/><path class="t182" d="M1378.5 141.9L1389 138.6"/><path class="t181" d="M1373.2 143.7L1381.1 141"/><path class="t180" d="M1365.3 146.5L1375.8 142.8"/><path class="t179" d="M1357.5 149.1L1368 145.6"/><path class="t178" d="M1349.6 151.7L1360.1 148.3"/><path class="t177" d="M1339.1 154.9L1352.2 150.8"/><path class="t176" d="M1323.3 159.3L1341.7 154.1"/><path class="t175" d="M1312.8 162.5L1326 158.6"/><path class="t174" d="M1302.3 165.7L1315.5 161.7"/><path class="t173" d="M1291.8 168.9L1305 164.9"/><path class="t172" d="M1276.1 173.4L1294.5 168.1"/><path class="t171" d="M1257.7 178.4L1278.7 172.6"/><path class="t170" d="M1228.8 186.1L1260.3 177.7"/><path class="t169" d="M1226.2 186.7L1231.5 185.4"/></g><g class="E"><path class="t165" d="M1541.2 114.3L1565.3 122.7"/><path class="t169" d="M1226.2 186.7L1250.3 196.6"/></g><g class="F"><path class="c165" d="M1536 115.4L1541.2 114.3L1565.3 122.7L1560 123.9z"/><path class="c166" d="M1522.8 117.9L1536 115.4L1560 123.9L1546.9 126.7z"/><path class="c167" d="M1512.3 119.7L1522.8 117.9L1546.9 126.7L1536.4 128.8z"/><path class="c168" d="M1507.1 120.4L1512.3 119.7L1536.4 128.8L1531.2 129.8z"/><path class="c169" d="M1501.8 120.8L1507.1 120.4L1531.2 129.8L1525.9 130.6z"/><path class="c170" d="M1499.2 121L1501.8 120.8L1525.9 130.6L1523.3 131z"/><path class="c171" d="M1494 121.5L1499.2 121L1523.3 131L1518 131.9z"/><path class="c172" d="M1488.7 122.1L1494 121.5L1518 131.9L1512.8 132.8z"/><path class="c173" d="M1480.8 123.1L1488.7 122.1L1512.8 132.8L1504.9 134.1z"/><path class="c174" d="M1475.6 123.7L1480.8 123.1L1504.9 134.1L1499.7 135z"/><path class="c175" d="M1470.3 124.2L1475.6 123.7L1499.7 135L1494.4 135.8z"/><path class="c176" d="M1467.7 124.5L1470.3 124.2L1494.4 135.8L1491.8 136.3z"/><path class="c177" d="M1459.8 125.5L1467.7 124.5L1491.8 136.3L1483.9 137.7z"/><path class="c178" d="M1449.3 127.3L1459.8 125.5L1483.9 137.7L1473.4 139.7z"/><path class="c179" d="M1444.1 128.1L1449.3 127.3L1473.4 139.7L1468.2 140.7z"/><path class="c180" d="M1438.8 128.6L1444.1 128.1L1468.2 140.7L1462.9 141.4z"/><path class="c181" d="M1433.6 129.2L1438.8 128.6L1462.9 141.4L1457.7 142.1z"/><path class="c182" d="M1428.3 129.7L1433.6 129.2L1457.7 142.1L1452.4 142.8z"/><path class="c183" d="M1417.8 131.3L1428.3 129.7L1452.4 142.8L1441.9 144.5z"/><path class="c184" d="M1399.5 135.7L1412.6 132.3L1417.8 131.3L1441.9 144.5L1423.5 148.4z"/><path class="c183" d="M1386.3 139.4L1399.5 135.7L1423.5 148.4L1410.4 151.7z"/><path class="c182" d="M1378.5 141.9L1386.3 139.4L1410.4 151.7L1402.5 153.8z"/><path class="c181" d="M1373.2 143.7L1378.5 141.9L1402.5 153.8L1397.3 155.4z"/><path class="c180" d="M1365.3 146.5L1373.2 143.7L1397.3 155.4L1389.4 157.8z"/><path class="c179" d="M1357.5 149.1L1365.3 146.5L1389.4 157.8L1381.5 160.2z"/><path class="c178" d="M1349.6 151.7L1357.5 149.1L1381.5 160.2L1373.7 162.5z"/><path class="c177" d="M1339.1 154.9L1349.6 151.7L1373.7 162.5L1363.2 165.5z"/><path class="c176" d="M1323.3 159.3L1339.1 154.9L1363.2 165.5L1347.4 169.6z"/><path class="c175" d="M1312.8 162.5L1323.3 159.3L1347.4 169.6L1336.9 172.7z"/><path class="c174" d="M1302.3 165.7L1312.8 162.5L1336.9 172.7L1326.4 175.8z"/><path class="c173" d="M1291.8 168.9L1302.3 165.7L1326.4 175.8L1315.9 178.9z"/><path class="c172" d="M1276.1 173.4L1291.8 168.9L1315.9 178.9L1300.2 183.4z"/><path class="c171" d="M1257.7 178.4L1276.1 173.4L1300.2 183.4L1281.8 188.3z"/><path class="c170" d="M1228.8 186.1L1257.7 178.4L1281.8 188.3L1252.9 195.9z"/><path class="c169" d="M1226.2 186.7L1228.8 186.1L1252.9 195.9L1250.3 196.6z"/></g><g class="T"><path class="t167" d="M1554.8 125L1565.3 122.7"/><path class="t168" d="M1536.4 128.8L1557.4 124.5"/><path class="t169" d="M1525.9 130.6L1539 128.3"/><path class="t170" d="M1518 131.9L1528.5 130.2"/><path class="t171" d="M1507.5 133.7L1520.7 131.4"/><path class="t172" d="M1499.7 135L1510.2 133.2"/><path class="t173" d="M1489.2 136.7L1502.3 134.6"/><path class="t174" d="M1476 139.2L1491.8 136.3"/><path class="t175" d="M1465.5 141L1478.7 138.7"/><path class="t176" d="M1457.7 142.1L1468.2 140.7"/><path class="t177" d="M1452.4 142.8L1460.3 141.8"/><path class="t178" d="M1441.9 144.5L1455 142.5"/><path class="t179" d="M1402.5 153.8L1436.7 145.5L1444.5 144.1"/><path class="t178" d="M1392 157L1405.2 153.1"/><path class="t177" d="M1378.9 160.9L1394.7 156.2"/><path class="t176" d="M1365.8 164.7L1381.5 160.2"/><path class="t175" d="M1342.2 171.1L1368.4 164"/><path class="t174" d="M1331.7 174.3L1344.8 170.3"/><path class="t173" d="M1318.5 178.2L1334.3 173.5"/><path class="t172" d="M1305.4 181.9L1321.2 177.4"/><path class="t171" d="M1284.4 187.6L1308 181.2"/><path class="t170" d="M1252.9 195.9L1287 186.9"/><path class="t169" d="M1250.3 196.6L1255.5 195.2"/></g><g class="E"><path class="t167" d="M1565.3 122.7L1589.4 131.8"/><path class="t169" d="M1250.3 196.6L1274.4 206.4"/></g><g class="F"><path class="c167" d="M1554.8 125L1565.3 122.7L1589.4 131.8L1578.9 134.2z"/><path class="c168" d="M1536.4 128.8L1554.8 125L1578.9 134.2L1560.5 138.3z"/><path class="c169" d="M1525.9 130.6L1536.4 128.8L1560.5 138.3L1550 140.4z"/><path class="c170" d="M1518 131.9L1525.9 130.6L1550 140.4L1542.1 142z"/><path class="c171" d="M1507.5 133.7L1518 131.9L1542.1 142L1531.6 144.1z"/><path class="c172" d="M1499.7 135L1507.5 133.7L1531.6 144.1L1523.8 145.7z"/><path class="c173" d="M1489.2 136.7L1499.7 135L1523.8 145.7L1513.3 147.7z"/><path class="c174" d="M1476 139.2L1489.2 136.7L1513.3 147.7L1500.1 150.5z"/><path class="c175" d="M1465.5 141L1476 139.2L1500.1 150.5L1489.6 152.5z"/><path class="c176" d="M1457.7 142.1L1465.5 141L1489.6 152.5L1481.8 153.9z"/><path class="c177" d="M1452.4 142.8L1457.7 142.1L1481.8 153.9L1476.5 154.7z"/><path class="c178" d="M1441.9 144.5L1452.4 142.8L1476.5 154.7L1466 156.6z"/><path class="c179" d="M1402.5 153.8L1436.7 145.5L1441.9 144.5L1466 156.6L1426.6 165.2z"/><path class="c178" d="M1392 157L1402.5 153.8L1426.6 165.2L1416.1 168.1z"/><path class="c177" d="M1378.9 160.9L1392 157L1416.1 168.1L1403 171.7z"/><path class="c176" d="M1365.8 164.7L1378.9 160.9L1403 171.7L1389.9 175.2z"/><path class="c175" d="M1342.2 171.1L1365.8 164.7L1389.9 175.2L1366.3 181.3z"/><path class="c174" d="M1331.7 174.3L1342.2 171.1L1366.3 181.3L1355.8 184.4z"/><path class="c173" d="M1318.5 178.2L1331.7 174.3L1355.8 184.4L1342.6 188.2z"/><path class="c172" d="M1305.4 181.9L1318.5 178.2L1342.6 188.2L1329.5 191.9z"/><path class="c171" d="M1284.4 187.6L1305.4 181.9L1329.5 191.9L1308.5 197.5z"/><path class="c170" d="M1252.9 195.9L1284.4 187.6L1308.5 197.5L1277 205.7z"/><path class="c169" d="M1250.3 196.6L1252.9 195.9L1277 205.7L1274.4 206.4z"/></g><g class="T"><path class="t168" d="M1576.3 134.8L1589.4 131.8"/><path class="t169" d="M1550 140.4L1578.9 134.2"/><path class="t170" d="M1534.3 143.6L1552.6 139.9"/><path class="t171" d="M1518.5 146.7L1536.9 143"/><path class="t172" d="M1494.9 151.6L1521.1 146.2"/><path class="t173" d="M1484.4 153.4L1497.5 151"/><path class="t174" d="M1476.5 154.7L1487 153"/><path class="t175" d="M1466 156.6L1479.1 154.3"/><path class="t176" d="M1410.9 169.6L1460.8 157.5L1468.6 156.1"/><path class="t175" d="M1384.6 176.6L1413.5 168.8"/><path class="t174" d="M1361 182.8L1387.3 175.9"/><path class="t173" d="M1347.9 186.7L1363.6 182.1"/><path class="t172" d="M1332.1 191.1L1350.5 185.9"/><path class="t171" d="M1311.1 196.8L1334.8 190.4"/><path class="t170" d="M1277 205.7L1313.8 196.1"/><path class="t169" d="M1274.4 206.4L1279.6 205.1"/></g><g class="E"><path class="t168" d="M1589.4 131.8L1613.5 141.2"/><path class="t169" d="M1274.4 206.4L1298.5 216.2"/></g><g class="F"><path class="c168" d="M1576.3 134.8L1589.4 131.8L1613.5 141.2L1600.4 144.3z"/><path class="c169" d="M1550 140.4L1576.3 134.8L1600.4 144.3L1574.1 150.3z"/><path class="c170" d="M1534.3 143.6L1550 140.4L1574.1 150.3L1558.4 153.7z"/><path class="c171" d="M1518.5 146.7L1534.3 143.6L1558.4 153.7L1542.6 157.1z"/><path class="c172" d="M1494.9 151.6L1518.5 146.7L1542.6 157.1L1519 162.3z"/><path class="c173" d="M1484.4 153.4L1494.9 151.6L1519 162.3L1508.5 164.3z"/><path class="c174" d="M1476.5 154.7L1484.4 153.4L1508.5 164.3L1500.6 165.8z"/><path class="c175" d="M1466 156.6L1476.5 154.7L1500.6 165.8L1490.1 167.8z"/><path class="c176" d="M1410.9 169.6L1460.8 157.5L1466 156.6L1490.1 167.8L1435 180.3z"/><path class="c175" d="M1384.6 176.6L1410.9 169.6L1435 180.3L1408.8 186.9z"/><path class="c174" d="M1361 182.8L1384.6 176.6L1408.8 186.9L1393 190.6L1385.1 193z"/><path class="c173" d="M1347.9 186.7L1361 182.8L1385.1 193L1372 196.7z"/><path class="c172" d="M1332.1 191.1L1347.9 186.7L1372 196.7L1356.2 201.1z"/><path class="c171" d="M1311.1 196.8L1332.1 191.1L1356.2 201.1L1335.2 206.7z"/><path class="c170" d="M1277 205.7L1311.1 196.8L1335.2 206.7L1301.1 215.6z"/><path class="c169" d="M1274.4 206.4L1277 205.7L1301.1 215.6L1298.5 216.2z"/></g><g class="T"><path class="t169" d="M1574.1 150.3L1613.5 141.2"/><path class="t170" d="M1545.2 156.5L1576.8 149.7"/><path class="t171" d="M1513.8 163.3L1547.9 156"/><path class="t172" d="M1500.6 165.8L1516.4 162.8"/><path class="t173" d="M1487.5 168.3L1503.2 165.3"/><path class="t174" d="M1463.9 173.2L1490.1 167.8"/><path class="t175" d="M1445.5 177.6L1466.5 172.7"/><path class="t174" d="M1390.4 191.4L1448.1 176.9"/><path class="t173" d="M1377.2 195.2L1393 190.6"/><path class="t172" d="M1361.5 199.7L1379.9 194.5"/><path class="t171" d="M1337.9 206.1L1364.1 198.9"/><path class="t170" d="M1301.1 215.6L1340.5 205.4"/><path class="t169" d="M1298.5 216.2L1303.8 214.9"/></g><g class="E"><path class="t169" d="M1613.5 141.2L1637.6 150.9"/><path class="t169" d="M1298.5 216.2L1322.6 226.1"/></g><g class="F"><path class="c169" d="M1574.1 150.3L1613.5 141.2L1637.6 150.9L1598.2 160.1z"/><path class="c170" d="M1545.2 156.5L1574.1 150.3L1598.2 160.1L1569.3 166.6z"/><path class="c171" d="M1513.8 163.3L1545.2 156.5L1569.3 166.6L1537.8 173.7z"/><path class="c172" d="M1500.6 165.8L1513.8 163.3L1537.8 173.7L1524.7 176.4z"/><path class="c173" d="M1487.5 168.3L1500.6 165.8L1524.7 176.4L1511.6 179.1z"/><path class="c174" d="M1463.9 173.2L1487.5 168.3L1511.6 179.1L1488 184z"/><path class="c175" d="M1445.5 177.6L1463.9 173.2L1488 184L1469.6 188.2z"/><path class="c174" d="M1390.4 191.4L1445.5 177.6L1469.6 188.2L1417.1 200.8L1414.5 201.5z"/><path class="c173" d="M1377.2 195.2L1390.4 191.4L1414.5 201.5L1401.3 205.3z"/><path class="c172" d="M1361.5 199.7L1377.2 195.2L1401.3 205.3L1385.6 209.7z"/><path class="c171" d="M1337.9 206.1L1361.5 199.7L1385.6 209.7L1362 216z"/><path class="c170" d="M1301.1 215.6L1337.9 206.1L1362 216L1325.2 225.4z"/><path class="c169" d="M1298.5 216.2L1301.1 215.6L1325.2 225.4L1322.6 226.1z"/></g><g class="T"><path class="t169" d="M1598.2 160.1L1637.6 150.9"/><path class="t170" d="M1543.1 172.6L1600.8 159.5"/><path class="t171" d="M1522.1 176.9L1545.7 172"/><path class="t172" d="M1503.7 180.7L1524.7 176.4"/><path class="t173" d="M1406.6 203.8L1506.3 180.1"/><path class="t172" d="M1388.2 208.9L1409.2 203"/><path class="t171" d="M1364.6 215.3L1390.8 208.2"/><path class="t170" d="M1325.2 225.4L1367.2 214.6"/><path class="t169" d="M1322.6 226.1L1327.8 224.7"/></g><g class="E"><path class="t169" d="M1637.6 150.9L1661.7 160.6"/><path class="t169" d="M1322.6 226.1L1346.7 235.9"/></g><g class="F"><path class="c169" d="M1598.2 160.1L1637.6 150.9L1661.7 160.6L1622.3 169.9z"/><path class="c170" d="M1543.1 172.6L1598.2 160.1L1622.3 169.9L1567.2 182.7z"/><path class="c171" d="M1522.1 176.9L1543.1 172.6L1567.2 182.7L1546.2 187.3z"/><path class="c172" d="M1503.7 180.7L1522.1 176.9L1546.2 187.3L1527.8 191.2z"/><path class="c173" d="M1406.6 203.8L1503.7 180.7L1527.8 191.2L1441.2 210.9L1430.7 213.8z"/><path class="c172" d="M1388.2 208.9L1406.6 203.8L1430.7 213.8L1412.3 218.9z"/><path class="c171" d="M1364.6 215.3L1388.2 208.9L1412.3 218.9L1388.7 225.2z"/><path class="c170" d="M1325.2 225.4L1364.6 215.3L1388.7 225.2L1349.3 235.2z"/><path class="c169" d="M1322.6 226.1L1325.2 225.4L1349.3 235.2L1346.7 235.9z"/></g><g class="T"><path class="t169" d="M1622.3 169.9L1661.7 160.6"/><path class="t170" d="M1554.1 185.6L1625 169.3"/><path class="t171" d="M1527.8 191.2L1556.7 185"/><path class="t172" d="M1480.6 201.8L1530.5 190.6"/><path class="t173" d="M1436 212.4L1483.2 201.2"/><path class="t172" d="M1417.6 217.5L1438.6 211.6"/><path class="t171" d="M1391.3 224.5L1420.2 216.7"/><path class="t170" d="M1349.3 235.2L1394 223.8"/><path class="t169" d="M1346.7 235.9L1352 234.6"/></g><g class="E"><path class="t169" d="M1661.7 160.6L1685.8 170.4"/><path class="t169" d="M1346.7 235.9L1370.8 245.7"/></g><g class="F"><path class="c169" d="M1622.3 169.9L1661.7 160.6L1685.8 170.4L1646.4 179.7z"/><path class="c170" d="M1554.1 185.6L1622.3 169.9L1646.4 179.7L1578.2 195.7z"/><path class="c171" d="M1527.8 191.2L1554.1 185.6L1578.2 195.7L1551.9 201.4z"/><path class="c172" d="M1480.6 201.8L1527.8 191.2L1551.9 201.4L1504.7 212z"/><path class="c173" d="M1436 212.4L1480.6 201.8L1504.7 212L1465.3 220.9L1460 222.4z"/><path class="c172" d="M1417.6 217.5L1436 212.4L1460 222.4L1441.7 227.4z"/><path class="c171" d="M1391.3 224.5L1417.6 217.5L1441.7 227.4L1415.4 234.4z"/><path class="c170" d="M1349.3 235.2L1391.3 224.5L1415.4 234.4L1373.4 245.1z"/><path class="c169" d="M1346.7 235.9L1349.3 235.2L1373.4 245.1L1370.8 245.7z"/></g><g class="T"><path class="t169" d="M1643.8 180.4L1685.8 170.4"/><path class="t170" d="M1562.4 199.2L1646.4 179.7"/><path class="t171" d="M1530.9 206L1565 198.6"/><path class="t172" d="M1470.5 219.8L1533.5 205.5"/><path class="t173" d="M1465.3 220.9L1473.2 219.2"/><path class="t172" d="M1444.3 226.7L1465.3 220.9L1467.9 220.4"/><path class="t171" d="M1418 233.7L1446.9 226"/><path class="t170" d="M1373.4 245.1L1420.7 233"/><path class="t169" d="M1370.8 245.7L1376 244.4"/></g></g>
<path d="M1129.8 88.1L1129.8 304.2" stroke="#262626" stroke-width="3.4" fill="none"/>
<path d="M1130.3 302.9L1118.3 298.9M1130.3 225.3L1118.3 221.3M1130.3 147.6L1118.3 143.6M1251.3 351.5L1239.8 353.6M1527.3 363L1539.3 366.9M1683.8 325.3L1697.8 329M1362.3 402.2L1381.3 402.2M1130.3 303L1118.3 303" stroke="#262626" stroke-width="3.2" fill="none"/>
<g font-family="'Liberation Serif','DejaVu Serif',serif" font-size="61" fill="#262626" stroke="#fff" stroke-width="1.1"><text x="1110.1" y="315.9" text-anchor="end" letter-spacing="-1.1">‐1000</text><text x="1110.1" y="238.3" text-anchor="end" letter-spacing="-1.1">‐500</text><text x="1110.1" y="160.6" text-anchor="end" letter-spacing="-1.1">0</text><text x="1105.8" y="361.2" text-anchor="end">0</text><text x="1227.3" y="410.3" text-anchor="end" letter-spacing="-2.2">0.5</text><text x="1346.8" y="459.5" text-anchor="end">1</text><text x="1389.8" y="463.5">0</text><text x="1547.3" y="425.8">1</text><text x="1704.8" y="388.1">2</text><text x="1133.8" y="512.7" font-style="italic" font-size="62">ζ</text><text x="1574.8" y="513.7" font-style="italic" font-size="62">t</text><text x="889" y="160.5"><tspan font-style="italic">e</tspan><tspan font-size="49" dx="0" dy="27" letter-spacing="-1.2">12</tspan></text></g></g>
<g><path d="M262.3 876.7L577.3 801.3M382.8 925.9L697.8 850.5M419.8 839L660.8 937.3M577.3 801.3L818.3 899.6M419.8 839L419.8 624.4M577.3 801.3L577.3 586.7M697.8 850.5L697.8 635.9M818.3 899.6L818.3 685M262.3 870.4L577.3 795M577.3 795L818.3 893.3M262.3 801L577.3 725.6M577.3 725.6L818.3 823.9M262.3 731.5L577.3 656.1M577.3 656.1L818.3 754.4M262.3 662.1L577.3 586.7M577.3 586.7L818.3 685" stroke="#e0e0e0" stroke-width="3" fill="none"/>
<path d="M262.3 876.7L495.9 972M511.1 973.1L818.3 899.6" stroke="#262626" stroke-width="3.2" fill="none"/>
<path d="M262.3 662.1L262.3 878.2" stroke="#262626" stroke-width="3.4" fill="none"/>
<clipPath id="cp2"><rect x="257.8" y="583.2" width="565" height="394.3"/></clipPath><g clip-path="url(#cp2)"><g class="T"><path class="t17" d="M574.7 787.6L577.3 784.7"/><path class="t14" d="M572 790.4L577.3 784.7"/><path class="t11" d="M569.4 793.2L574.7 787.6"/><path class="t9" d="M566.8 795.8L572 790.4"/><path class="t7" d="M564.2 798.2L569.4 793.2"/><path class="t5" d="M561.5 800.2L566.8 795.8"/><path class="t4" d="M558.9 802.3L564.2 798.2"/><path class="t2" d="M556.3 804.2L561.5 800.2"/><path class="t1" d="M537.9 809.2L551 806.6L553.7 805.7L556.3 804.2L558.9 802.3"/><path class="t2" d="M535.3 809.3L537.9 809.2L540.5 808.7"/><path class="t3" d="M532.7 808.9L535.3 809.3L537.9 809.2"/><path class="t5" d="M530 808L532.7 808.9L535.3 809.3"/><path class="t7" d="M527.4 807L532.7 808.9"/><path class="t9" d="M524.8 806.1L530 808"/><path class="t11" d="M522.2 805.1L527.4 807"/><path class="t13" d="M519.5 803.9L524.8 806.1"/><path class="t15" d="M516.9 802.6L522.2 805.1"/><path class="t18" d="M514.3 801.2L519.5 803.9"/><path class="t20" d="M511.7 799.6L516.9 802.6"/><path class="t23" d="M509.1 797.9L514.3 801.2"/><path class="t26" d="M506.4 796L511.7 799.6"/><path class="t29" d="M503.8 794L509.1 797.9"/><path class="t33" d="M501.2 791.7L506.4 796"/><path class="t36" d="M498.6 789.4L503.8 794"/><path class="t40" d="M495.9 786.9L501.2 791.7"/><path class="t44" d="M493.3 784.1L498.6 789.4"/><path class="t48" d="M490.7 781.2L495.9 786.9"/><path class="t53" d="M488.1 778L493.3 784.1"/><path class="t57" d="M485.4 774.7L490.7 781.2"/><path class="t62" d="M482.8 771.2L488.1 778"/><path class="t67" d="M480.2 767.6L485.4 774.7"/><path class="t73" d="M477.6 763.8L482.8 771.2"/><path class="t78" d="M474.9 759.7L480.2 767.6"/><path class="t84" d="M472.3 755.3L477.6 763.8"/><path class="t91" d="M469.7 750.8L474.9 759.7"/><path class="t97" d="M467.1 746.1L472.3 755.3"/><path class="t103" d="M464.4 741.3L469.7 750.8"/><path class="t110" d="M461.8 736.5L467.1 746.1"/><path class="t116" d="M459.2 731.9L464.4 741.3"/><path class="t122" d="M456.6 727.4L461.8 736.5"/><path class="t128" d="M453.9 723.1L459.2 731.9"/><path class="t133" d="M451.3 719.2L456.6 727.4"/><path class="t139" d="M448.7 715.4L453.9 723.1"/><path class="t144" d="M446.1 711.7L451.3 719.2"/><path class="t149" d="M443.4 708.1L448.7 715.4"/><path class="t154" d="M440.8 704.6L446.1 711.7"/><path class="t159" d="M438.2 701.2L443.4 708.1"/><path class="t163" d="M435.6 698L440.8 704.6"/><path class="t168" d="M432.9 694.9L438.2 701.2"/><path class="t172" d="M430.3 692.1L435.6 698"/><path class="t176" d="M427.7 689.5L432.9 694.9"/><path class="t179" d="M425 687.2L430.3 692.1"/><path class="t182" d="M422.4 685L427.7 689.5"/><path class="t186" d="M419.8 683L425 687.2"/><path class="t189" d="M417.2 681.2L422.4 685"/><path class="t191" d="M414.6 679.4L419.8 683"/><path class="t194" d="M411.9 677.7L417.2 681.2"/><path class="t197" d="M409.3 675.9L414.6 679.4"/><path class="t200" d="M406.7 674.1L411.9 677.7"/><path class="t203" d="M404.1 672.3L409.3 675.9"/><path class="t206" d="M401.4 670.3L406.7 674.1"/><path class="t209" d="M398.8 668.3L404.1 672.3"/><path class="t212" d="M396.2 666.2L401.4 670.3"/><path class="t216" d="M393.6 664.2L398.8 668.3"/><path class="t219" d="M390.9 662.1L396.2 666.2"/><path class="t222" d="M388.3 660.2L393.6 664.2"/><path class="t225" d="M385.7 658.3L390.9 662.1"/><path class="t228" d="M383.1 656.6L388.3 660.2"/><path class="t230" d="M380.4 655L385.7 658.3"/><path class="t233" d="M377.8 653.5L383.1 656.6"/><path class="t235" d="M375.2 652L380.4 655"/><path class="t238" d="M372.6 650.5L377.8 653.5"/><path class="t240" d="M369.9 649.1L375.2 652"/><path class="t243" d="M367.3 647.8L372.6 650.5"/><path class="t245" d="M364.7 646.6L369.9 649.1"/><path class="t247" d="M362.1 645.7L367.3 647.8"/><path class="t248" d="M359.4 645L362.1 645.7L364.7 646.6"/><path class="t249" d="M356.8 644.7L359.4 645L362.1 645.7"/><path class="t250" d="M354.2 644.5L359.4 645"/><path class="t251" d="M351.6 644.4L356.8 644.7"/><path class="t252" d="M348.9 644.4L354.2 644.5"/><path class="t253" d="M343.7 644.5L351.6 644.4"/><path class="t254" d="M338.4 644.9L346.3 644.4"/><path class="t255" d="M262.3 662.1L333.2 645.7L341.1 644.7"/></g><g class="E"><path class="t17" d="M577.3 784.7L601.4 683.7"/><path class="t255" d="M262.3 662.1L286.4 671.9"/></g><g class="F"><path class="c17" d="M574.7 787.6L577.3 784.7L601.4 683.7L598.8 685.9z"/><path class="c14" d="M572 790.4L574.7 787.6L598.8 685.9L596.2 688.1z"/><path class="c11" d="M569.4 793.2L572 790.4L596.2 688.1L593.5 690.3z"/><path class="c9" d="M566.8 795.8L569.4 793.2L593.5 690.3L590.9 692.5z"/><path class="c7" d="M564.2 798.2L566.8 795.8L590.9 692.5L588.3 694.5z"/><path class="c5" d="M561.5 800.2L564.2 798.2L588.3 694.5L585.7 696.4z"/><path class="c4" d="M558.9 802.3L561.5 800.2L585.7 696.4L583 698.4z"/><path class="c2" d="M556.3 804.2L558.9 802.3L583 698.4L580.4 700.2z"/><path class="c1" d="M537.9 809.2L551 806.6L553.7 805.7L556.3 804.2L580.4 700.2L577.8 701.9L562 709.5z"/><path class="c2" d="M535.3 809.3L537.9 809.2L562 709.5L559.4 710.5z"/><path class="c3" d="M532.7 808.9L535.3 809.3L559.4 710.5L556.8 711.3z"/><path class="c5" d="M530 808L532.7 808.9L556.8 711.3L554.2 711.8z"/><path class="c7" d="M527.4 807L530 808L554.2 711.8L551.5 712.3z"/><path class="c9" d="M524.8 806.1L527.4 807L551.5 712.3L548.9 712.7z"/><path class="c11" d="M522.2 805.1L524.8 806.1L548.9 712.7L546.3 713.2z"/><path class="c13" d="M519.5 803.9L522.2 805.1L546.3 713.2L543.7 713.5z"/><path class="c15" d="M516.9 802.6L519.5 803.9L543.7 713.5L541 713.8z"/><path class="c18" d="M514.3 801.2L516.9 802.6L541 713.8L538.4 714z"/><path class="c20" d="M511.7 799.6L514.3 801.2L538.4 714L535.8 714.1z"/><path class="c23" d="M509.1 797.9L511.7 799.6L535.8 714.1L533.2 714.1z"/><path class="c26" d="M506.4 796L509.1 797.9L533.2 714.1L530.5 714z"/><path class="c29" d="M503.8 794L506.4 796L530.5 714L527.9 713.8z"/><path class="c33" d="M501.2 791.7L503.8 794L527.9 713.8L525.3 713.5z"/><path class="c36" d="M498.6 789.4L501.2 791.7L525.3 713.5L522.7 713.1z"/><path class="c40" d="M495.9 786.9L498.6 789.4L522.7 713.1L520 712.6z"/><path class="c44" d="M493.3 784.1L495.9 786.9L520 712.6L517.4 712z"/><path class="c48" d="M490.7 781.2L493.3 784.1L517.4 712L514.8 711.2z"/><path class="c53" d="M488.1 778L490.7 781.2L514.8 711.2L512.2 710.3z"/><path class="c57" d="M485.4 774.7L488.1 778L512.2 710.3L509.5 709.3z"/><path class="c62" d="M482.8 771.2L485.4 774.7L509.5 709.3L506.9 708.2z"/><path class="c67" d="M480.2 767.6L482.8 771.2L506.9 708.2L504.3 707.6z"/><path class="c73" d="M477.6 763.8L480.2 767.6L504.3 707.6L501.7 706.9z"/><path class="c78" d="M474.9 759.7L477.6 763.8L501.7 706.9L499 706z"/><path class="c84" d="M472.3 755.3L474.9 759.7L499 706L496.4 704.8z"/><path class="c91" d="M469.7 750.8L472.3 755.3L496.4 704.8L493.8 703.4z"/><path class="c97" d="M467.1 746.1L469.7 750.8L493.8 703.4L491.2 701.9z"/><path class="c103" d="M464.4 741.3L467.1 746.1L491.2 701.9L488.5 700.2z"/><path class="c110" d="M461.8 736.5L464.4 741.3L488.5 700.2L485.9 698.5z"/><path class="c116" d="M459.2 731.9L461.8 736.5L485.9 698.5L483.3 696.8z"/><path class="c122" d="M456.6 727.4L459.2 731.9L483.3 696.8L480.7 695.1z"/><path class="c128" d="M453.9 723.1L456.6 727.4L480.7 695.1L478 693.4z"/><path class="c133" d="M451.3 719.2L453.9 723.1L478 693.4L475.4 691.9z"/><path class="c139" d="M448.7 715.4L451.3 719.2L475.4 691.9L472.8 690.5z"/><path class="c144" d="M446.1 711.7L448.7 715.4L472.8 690.5L470.2 689z"/><path class="c149" d="M443.4 708.1L446.1 711.7L470.2 689L467.5 687.5z"/><path class="c154" d="M440.8 704.6L443.4 708.1L467.5 687.5L464.9 686z"/><path class="c159" d="M438.2 701.2L440.8 704.6L464.9 686L462.3 684.5z"/><path class="c163" d="M435.6 698L438.2 701.2L462.3 684.5L459.7 683.1z"/><path class="c168" d="M432.9 694.9L435.6 698L459.7 683.1L457 681.8z"/><path class="c172" d="M430.3 692.1L432.9 694.9L457 681.8L454.4 680.6z"/><path class="c176" d="M427.7 689.5L430.3 692.1L454.4 680.6L451.8 679.5z"/><path class="c179" d="M425 687.2L427.7 689.5L451.8 679.5L449.1 678.5z"/><path class="c182" d="M422.4 685L425 687.2L449.1 678.5L446.5 677.6z"/><path class="c186" d="M419.8 683L422.4 685L446.5 677.6L443.9 676.7z"/><path class="c189" d="M417.2 681.2L419.8 683L443.9 676.7L441.3 676z"/><path class="c191" d="M414.6 679.4L417.2 681.2L441.3 676L438.7 675.2z"/><path class="c194" d="M411.9 677.7L414.6 679.4L438.7 675.2L436 674.5z"/><path class="c197" d="M409.3 675.9L411.9 677.7L436 674.5L433.4 673.7z"/><path class="c200" d="M406.7 674.1L409.3 675.9L433.4 673.7L430.8 672.8z"/><path class="c203" d="M404.1 672.3L406.7 674.1L430.8 672.8L428.2 671.9z"/><path class="c206" d="M401.4 670.3L404.1 672.3L428.2 671.9L425.5 670.8z"/><path class="c209" d="M398.8 668.3L401.4 670.3L425.5 670.8L422.9 669.7z"/><path class="c212" d="M396.2 666.2L398.8 668.3L422.9 669.7L420.3 668.5z"/><path class="c216" d="M393.6 664.2L396.2 666.2L420.3 668.5L417.7 667.2z"/><path class="c219" d="M390.9 662.1L393.6 664.2L417.7 667.2L415 666z"/><path class="c222" d="M388.3 660.2L390.9 662.1L415 666L412.4 664.7z"/><path class="c225" d="M385.7 658.3L388.3 660.2L412.4 664.7L409.8 663.5z"/><path class="c228" d="M383.1 656.6L385.7 658.3L409.8 663.5L407.2 662.4z"/><path class="c230" d="M380.4 655L383.1 656.6L407.2 662.4L404.5 661.3z"/><path class="c233" d="M377.8 653.5L380.4 655L404.5 661.3L401.9 660.3z"/><path class="c235" d="M375.2 652L377.8 653.5L401.9 660.3L399.3 659.3z"/><path class="c238" d="M372.6 650.5L375.2 652L399.3 659.3L396.7 658.2z"/><path class="c240" d="M369.9 649.1L372.6 650.5L396.7 658.2L394 657.2z"/><path class="c243" d="M367.3 647.8L369.9 649.1L394 657.2L391.4 656.2z"/><path class="c245" d="M364.7 646.6L367.3 647.8L391.4 656.2L388.8 655.3z"/><path class="c247" d="M362.1 645.7L364.7 646.6L388.8 655.3L386.2 654.7z"/><path class="c248" d="M359.4 645L362.1 645.7L386.2 654.7L383.5 654.2z"/><path class="c249" d="M356.8 644.7L359.4 645L383.5 654.2L380.9 654z"/><path class="c250" d="M354.2 644.5L356.8 644.7L380.9 654L378.3 653.9z"/><path class="c251" d="M351.6 644.4L354.2 644.5L378.3 653.9L375.7 653.9z"/><path class="c252" d="M348.9 644.4L351.6 644.4L375.7 653.9L373 653.9z"/><path class="c253" d="M343.7 644.5L348.9 644.4L373 653.9L367.8 654.1z"/><path class="c254" d="M338.4 644.9L343.7 644.5L367.8 654.1L362.5 654.7z"/><path class="c255" d="M262.3 662.1L333.2 645.7L338.4 644.9L362.5 654.7L286.4 671.9z"/></g><g class="T"><path class="t150" d="M598.8 685.9L601.4 683.7"/><path class="t148" d="M596.2 688.1L601.4 683.7"/><path class="t146" d="M593.5 690.3L598.8 685.9"/><path class="t144" d="M590.9 692.5L596.2 688.1"/><path class="t142" d="M588.3 694.5L593.5 690.3"/><path class="t141" d="M585.7 696.4L590.9 692.5"/><path class="t139" d="M583 698.4L588.3 694.5"/><path class="t138" d="M580.4 700.2L585.7 696.4"/><path class="t137" d="M577.8 701.9L583 698.4"/><path class="t136" d="M575.2 703.3L577.8 701.9L580.4 700.2"/><path class="t135" d="M572.5 704.6L577.8 701.9"/><path class="t134" d="M569.9 705.8L575.2 703.3"/><path class="t133" d="M564.7 708.3L572.5 704.6"/><path class="t132" d="M559.4 710.5L567.3 707.1"/><path class="t131" d="M554.2 711.8L559.4 710.5L562 709.5"/><path class="t132" d="M543.7 713.5L556.8 711.3"/><path class="t133" d="M538.4 714L546.3 713.2"/><path class="t134" d="M535.8 714.1L541 713.8"/><path class="t135" d="M533.2 714.1L538.4 714"/><path class="t136" d="M530.5 714L535.8 714.1"/><path class="t137" d="M527.9 713.8L533.2 714.1"/><path class="t138" d="M525.3 713.5L530.5 714"/><path class="t139" d="M522.7 713.1L527.9 713.8"/><path class="t140" d="M520 712.6L525.3 713.5"/><path class="t142" d="M517.4 712L522.7 713.1"/><path class="t143" d="M514.8 711.2L520 712.6"/><path class="t145" d="M512.2 710.3L517.4 712"/><path class="t147" d="M509.5 709.3L514.8 711.2"/><path class="t149" d="M506.9 708.2L512.2 710.3"/><path class="t151" d="M504.3 707.6L506.9 708.2L509.5 709.3"/><path class="t152" d="M501.7 706.9L506.9 708.2"/><path class="t154" d="M499 706L501.7 706.9L504.3 707.6"/><path class="t156" d="M496.4 704.8L501.7 706.9"/><path class="t159" d="M493.8 703.4L499 706"/><path class="t161" d="M491.2 701.9L496.4 704.8"/><path class="t164" d="M488.5 700.2L493.8 703.4"/><path class="t167" d="M485.9 698.5L491.2 701.9"/><path class="t170" d="M483.3 696.8L488.5 700.2"/><path class="t172" d="M480.7 695.1L485.9 698.5"/><path class="t175" d="M478 693.4L483.3 696.8"/><path class="t178" d="M475.4 691.9L480.7 695.1"/><path class="t180" d="M472.8 690.5L478 693.4"/><path class="t183" d="M470.2 689L475.4 691.9"/><path class="t185" d="M467.5 687.5L472.8 690.5"/><path class="t188" d="M464.9 686L470.2 689"/><path class="t190" d="M462.3 684.5L467.5 687.5"/><path class="t193" d="M459.7 683.1L464.9 686"/><path class="t195" d="M457 681.8L462.3 684.5"/><path class="t197" d="M454.4 680.6L459.7 683.1"/><path class="t199" d="M451.8 679.5L457 681.8"/><path class="t201" d="M449.1 678.5L454.4 680.6"/><path class="t203" d="M446.5 677.6L451.8 679.5"/><path class="t205" d="M443.9 676.7L449.1 678.5"/><path class="t206" d="M441.3 676L446.5 677.6"/><path class="t208" d="M438.7 675.2L443.9 676.7"/><path class="t210" d="M436 674.5L441.3 676"/><path class="t211" d="M433.4 673.7L438.7 675.2"/><path class="t213" d="M430.8 672.8L436 674.5"/><path class="t215" d="M428.2 671.9L433.4 673.7"/><path class="t217" d="M425.5 670.8L430.8 672.8"/><path class="t219" d="M422.9 669.7L428.2 671.9"/><path class="t221" d="M420.3 668.5L425.5 670.8"/><path class="t224" d="M417.7 667.2L422.9 669.7"/><path class="t226" d="M415 666L420.3 668.5"/><path class="t228" d="M412.4 664.7L417.7 667.2"/><path class="t230" d="M409.8 663.5L415 666"/><path class="t232" d="M407.2 662.4L412.4 664.7"/><path class="t234" d="M404.5 661.3L409.8 663.5"/><path class="t236" d="M401.9 660.3L407.2 662.4"/><path class="t238" d="M399.3 659.3L404.5 661.3"/><path class="t240" d="M396.7 658.2L401.9 660.3"/><path class="t242" d="M394 657.2L399.3 659.3"/><path class="t244" d="M391.4 656.2L396.7 658.2"/><path class="t246" d="M388.8 655.3L394 657.2"/><path class="t248" d="M386.2 654.7L391.4 656.2"/><path class="t249" d="M383.5 654.2L388.8 655.3"/><path class="t250" d="M380.9 654L383.5 654.2L386.2 654.7"/><path class="t251" d="M378.3 653.9L383.5 654.2"/><path class="t252" d="M373 653.9L380.9 654"/><path class="t253" d="M367.8 654.1L375.7 653.9"/><path class="t254" d="M362.5 654.7L370.4 654"/><path class="t255" d="M286.4 671.9L357.3 655.5L365.2 654.4"/></g><g class="E"><path class="t150" d="M601.4 683.7L625.5 644.7"/><path class="t255" d="M286.4 671.9L310.5 681.8"/></g><g class="F"><path class="c150" d="M598.8 685.9L601.4 683.7L625.5 644.7L622.9 646.3z"/><path class="c148" d="M596.2 688.1L598.8 685.9L622.9 646.3L620.2 647.9z"/><path class="c146" d="M593.5 690.3L596.2 688.1L620.2 647.9L617.6 649.5z"/><path class="c144" d="M590.9 692.5L593.5 690.3L617.6 649.5L615 651.1z"/><path class="c142" d="M588.3 694.5L590.9 692.5L615 651.1L612.4 652.7z"/><path class="c141" d="M585.7 696.4L588.3 694.5L612.4 652.7L609.8 654.2z"/><path class="c139" d="M583 698.4L585.7 696.4L609.8 654.2L607.1 655.7z"/><path class="c138" d="M580.4 700.2L583 698.4L607.1 655.7L604.5 657.2z"/><path class="c137" d="M577.8 701.9L580.4 700.2L604.5 657.2L601.9 658.6z"/><path class="c136" d="M575.2 703.3L577.8 701.9L601.9 658.6L599.2 659.9z"/><path class="c135" d="M572.5 704.6L575.2 703.3L599.2 659.9L596.6 661.2z"/><path class="c134" d="M569.9 705.8L572.5 704.6L596.6 661.2L594 662.4z"/><path class="c133" d="M564.7 708.3L569.9 705.8L594 662.4L588.8 664.9z"/><path class="c132" d="M559.4 710.5L564.7 708.3L588.8 664.9L583.5 667.2z"/><path class="c131" d="M554.2 711.8L559.4 710.5L583.5 667.2L578.2 669.1z"/><path class="c132" d="M543.7 713.5L554.2 711.8L578.2 669.1L567.8 672.5z"/><path class="c133" d="M538.4 714L543.7 713.5L567.8 672.5L562.5 674z"/><path class="c134" d="M535.8 714.1L538.4 714L562.5 674L559.9 674.7z"/><path class="c135" d="M533.2 714.1L535.8 714.1L559.9 674.7L557.2 675.3z"/><path class="c136" d="M530.5 714L533.2 714.1L557.2 675.3L554.6 675.8z"/><path class="c137" d="M527.9 713.8L530.5 714L554.6 675.8L552 676.3z"/><path class="c138" d="M525.3 713.5L527.9 713.8L552 676.3L549.4 676.8z"/><path class="c139" d="M522.7 713.1L525.3 713.5L549.4 676.8L546.8 677.2z"/><path class="c140" d="M520 712.6L522.7 713.1L546.8 677.2L544.1 677.5z"/><path class="c142" d="M517.4 712L520 712.6L544.1 677.5L541.5 677.8z"/><path class="c143" d="M514.8 711.2L517.4 712L541.5 677.8L538.9 677.9z"/><path class="c145" d="M512.2 710.3L514.8 711.2L538.9 677.9L536.2 678z"/><path class="c147" d="M509.5 709.3L512.2 710.3L536.2 678L533.6 678z"/><path class="c149" d="M506.9 708.2L509.5 709.3L533.6 678L531 677.9z"/><path class="c151" d="M504.3 707.6L506.9 708.2L531 677.9L528.4 678.6z"/><path class="c152" d="M501.7 706.9L504.3 707.6L528.4 678.6L525.8 679.1z"/><path class="c154" d="M499 706L501.7 706.9L525.8 679.1L523.1 679.4z"/><path class="c156" d="M496.4 704.8L499 706L523.1 679.4L520.5 679.6z"/><path class="c159" d="M493.8 703.4L496.4 704.8L520.5 679.6L517.9 679.7z"/><path class="c161" d="M491.2 701.9L493.8 703.4L517.9 679.7L515.2 679.6z"/><path class="c164" d="M488.5 700.2L491.2 701.9L515.2 679.6L512.6 679.5z"/><path class="c167" d="M485.9 698.5L488.5 700.2L512.6 679.5L510 679.2z"/><path class="c170" d="M483.3 696.8L485.9 698.5L510 679.2L507.4 678.9z"/><path class="c172" d="M480.7 695.1L483.3 696.8L507.4 678.9L504.8 678.6z"/><path class="c175" d="M478 693.4L480.7 695.1L504.8 678.6L502.1 678.3z"/><path class="c178" d="M475.4 691.9L478 693.4L502.1 678.3L499.5 678.1z"/><path class="c180" d="M472.8 690.5L475.4 691.9L499.5 678.1L496.9 677.9z"/><path class="c183" d="M470.2 689L472.8 690.5L496.9 677.9L494.2 677.6z"/><path class="c185" d="M467.5 687.5L470.2 689L494.2 677.6L491.6 677.2z"/><path class="c188" d="M464.9 686L467.5 687.5L491.6 677.2L489 676.9z"/><path class="c190" d="M462.3 684.5L464.9 686L489 676.9L486.4 676.5z"/><path class="c193" d="M459.7 683.1L462.3 684.5L486.4 676.5L483.8 676.2z"/><path class="c195" d="M457 681.8L459.7 683.1L483.8 676.2L481.1 675.8z"/><path class="c197" d="M454.4 680.6L457 681.8L481.1 675.8L478.5 675.5z"/><path class="c199" d="M451.8 679.5L454.4 680.6L478.5 675.5L475.9 675.3z"/><path class="c201" d="M449.1 678.5L451.8 679.5L475.9 675.3L473.2 675.1z"/><path class="c203" d="M446.5 677.6L449.1 678.5L473.2 675.1L470.6 675z"/><path class="c205" d="M443.9 676.7L446.5 677.6L470.6 675L468 674.9z"/><path class="c206" d="M441.3 676L443.9 676.7L468 674.9L465.4 674.8z"/><path class="c208" d="M438.7 675.2L441.3 676L465.4 674.8L462.8 674.7z"/><path class="c210" d="M436 674.5L438.7 675.2L462.8 674.7L460.1 674.6z"/><path class="c211" d="M433.4 673.7L436 674.5L460.1 674.6L457.5 674.4z"/><path class="c213" d="M430.8 672.8L433.4 673.7L457.5 674.4L454.9 674.2z"/><path class="c215" d="M428.2 671.9L430.8 672.8L454.9 674.2L452.2 673.9z"/><path class="c217" d="M425.5 670.8L428.2 671.9L452.2 673.9L449.6 673.5z"/><path class="c219" d="M422.9 669.7L425.5 670.8L449.6 673.5L447 672.9z"/><path class="c221" d="M420.3 668.5L422.9 669.7L447 672.9L444.4 672.3z"/><path class="c224" d="M417.7 667.2L420.3 668.5L444.4 672.3L441.8 671.7z"/><path class="c226" d="M415 666L417.7 667.2L441.8 671.7L439.1 671z"/><path class="c228" d="M412.4 664.7L415 666L439.1 671L436.5 670.2z"/><path class="c230" d="M409.8 663.5L412.4 664.7L436.5 670.2L433.9 669.5z"/><path class="c232" d="M407.2 662.4L409.8 663.5L433.9 669.5L431.2 668.9z"/><path class="c234" d="M404.5 661.3L407.2 662.4L431.2 668.9L428.6 668.2z"/><path class="c236" d="M401.9 660.3L404.5 661.3L428.6 668.2L426 667.6z"/><path class="c238" d="M399.3 659.3L401.9 660.3L426 667.6L423.4 666.9z"/><path class="c240" d="M396.7 658.2L399.3 659.3L423.4 666.9L420.8 666.2z"/><path class="c242" d="M394 657.2L396.7 658.2L420.8 666.2L418.1 665.5z"/><path class="c244" d="M391.4 656.2L394 657.2L418.1 665.5L415.5 664.8z"/><path class="c246" d="M388.8 655.3L391.4 656.2L415.5 664.8L412.9 664.2z"/><path class="c248" d="M386.2 654.7L388.8 655.3L412.9 664.2L410.2 663.7z"/><path class="c249" d="M383.5 654.2L386.2 654.7L410.2 663.7L407.6 663.4z"/><path class="c250" d="M380.9 654L383.5 654.2L407.6 663.4L405 663.4z"/><path class="c251" d="M378.3 653.9L380.9 654L405 663.4L402.4 663.4z"/><path class="c252" d="M373 653.9L378.3 653.9L402.4 663.4L397.1 663.5z"/><path class="c253" d="M367.8 654.1L373 653.9L397.1 663.5L391.9 663.8z"/><path class="c254" d="M362.5 654.7L367.8 654.1L391.9 663.8L386.6 664.4z"/><path class="c255" d="M286.4 671.9L357.3 655.5L362.5 654.7L386.6 664.4L310.5 681.8z"/></g><g class="T"><path class="t209" d="M622.9 646.3L625.5 644.7"/><path class="t207" d="M620.2 647.9L625.5 644.7"/><path class="t206" d="M617.6 649.5L622.9 646.3"/><path class="t205" d="M615 651.1L620.2 647.9"/><path class="t204" d="M612.4 652.7L617.6 649.5"/><path class="t203" d="M609.8 654.2L615 651.1"/><path class="t202" d="M607.1 655.7L612.4 652.7"/><path class="t201" d="M604.5 657.2L609.8 654.2"/><path class="t200" d="M601.9 658.6L607.1 655.7"/><path class="t199" d="M599.2 659.9L604.5 657.2"/><path class="t198" d="M594 662.4L601.9 658.6"/><path class="t197" d="M591.4 663.6L596.6 661.2"/><path class="t196" d="M586.1 666.1L594 662.4"/><path class="t195" d="M583.5 667.2L588.8 664.9"/><path class="t194" d="M573 670.9L583.5 667.2L586.1 666.1"/><path class="t193" d="M549.4 676.8L562.5 674L575.6 670"/><path class="t194" d="M541.5 677.8L552 676.3"/><path class="t195" d="M538.9 677.9L544.1 677.5"/><path class="t196" d="M533.6 678L541.5 677.8"/><path class="t197" d="M525.8 679.1L531 677.9L536.2 678"/><path class="t198" d="M520.5 679.6L525.8 679.1L528.4 678.6"/><path class="t199" d="M517.9 679.7L523.1 679.4"/><path class="t200" d="M515.2 679.6L520.5 679.6"/><path class="t201" d="M512.6 679.5L517.9 679.7"/><path class="t202" d="M510 679.2L515.2 679.6"/><path class="t203" d="M507.4 678.9L512.6 679.5"/><path class="t204" d="M504.8 678.6L510 679.2"/><path class="t205" d="M502.1 678.3L507.4 678.9"/><path class="t206" d="M499.5 678.1L504.8 678.6"/><path class="t207" d="M496.9 677.9L502.1 678.3"/><path class="t208" d="M494.2 677.6L499.5 678.1"/><path class="t209" d="M491.6 677.2L496.9 677.9"/><path class="t210" d="M489 676.9L494.2 677.6"/><path class="t212" d="M486.4 676.5L491.6 677.2"/><path class="t213" d="M483.8 676.2L489 676.9"/><path class="t214" d="M481.1 675.8L486.4 676.5"/><path class="t215" d="M478.5 675.5L483.8 676.2"/><path class="t216" d="M475.9 675.3L481.1 675.8"/><path class="t217" d="M473.2 675.1L478.5 675.5"/><path class="t218" d="M470.6 675L475.9 675.3"/><path class="t219" d="M468 674.9L473.2 675.1"/><path class="t220" d="M462.8 674.7L470.6 675"/><path class="t221" d="M460.1 674.6L465.4 674.8"/><path class="t222" d="M457.5 674.4L462.8 674.7"/><path class="t223" d="M454.9 674.2L460.1 674.6"/><path class="t224" d="M452.2 673.9L457.5 674.4"/><path class="t226" d="M449.6 673.5L454.9 674.2"/><path class="t227" d="M447 672.9L452.2 673.9"/><path class="t229" d="M444.4 672.3L449.6 673.5"/><path class="t230" d="M441.8 671.7L447 672.9"/><path class="t232" d="M439.1 671L444.4 672.3"/><path class="t233" d="M436.5 670.2L441.8 671.7"/><path class="t235" d="M433.9 669.5L439.1 671"/><path class="t236" d="M431.2 668.9L436.5 670.2"/><path class="t238" d="M428.6 668.2L433.9 669.5"/><path class="t239" d="M426 667.6L431.2 668.9"/><path class="t241" d="M423.4 666.9L428.6 668.2"/><path class="t243" d="M420.8 666.2L426 667.6"/><path class="t244" d="M418.1 665.5L423.4 666.9"/><path class="t246" d="M415.5 664.8L420.8 666.2"/><path class="t247" d="M412.9 664.2L418.1 665.5"/><path class="t249" d="M410.2 663.7L415.5 664.8"/><path class="t250" d="M405 663.4L410.2 663.7L412.9 664.2"/><path class="t251" d="M402.4 663.4L407.6 663.4"/><path class="t252" d="M399.8 663.4L405 663.4"/><path class="t253" d="M394.5 663.6L402.4 663.4"/><path class="t254" d="M386.6 664.4L397.1 663.5"/><path class="t255" d="M310.5 681.8L384 664.8L389.2 664.1"/></g><g class="E"><path class="t209" d="M625.5 644.7L649.6 633.1"/><path class="t255" d="M310.5 681.8L334.6 691.6"/></g><g class="F"><path class="c209" d="M622.9 646.3L625.5 644.7L649.6 633.1L647 634.2z"/><path class="c207" d="M620.2 647.9L622.9 646.3L647 634.2L644.4 635.4z"/><path class="c206" d="M617.6 649.5L620.2 647.9L644.4 635.4L641.7 636.6z"/><path class="c205" d="M615 651.1L617.6 649.5L641.7 636.6L639.1 637.8z"/><path class="c204" d="M612.4 652.7L615 651.1L639.1 637.8L636.5 639z"/><path class="c203" d="M609.8 654.2L612.4 652.7L636.5 639L633.9 640.2z"/><path class="c202" d="M607.1 655.7L609.8 654.2L633.9 640.2L631.2 641.3z"/><path class="c201" d="M604.5 657.2L607.1 655.7L631.2 641.3L628.6 642.5z"/><path class="c200" d="M601.9 658.6L604.5 657.2L628.6 642.5L626 643.6z"/><path class="c199" d="M599.2 659.9L601.9 658.6L626 643.6L623.4 644.7z"/><path class="c198" d="M594 662.4L599.2 659.9L623.4 644.7L618.1 646.9z"/><path class="c197" d="M591.4 663.6L594 662.4L618.1 646.9L615.5 647.9z"/><path class="c196" d="M586.1 666.1L591.4 663.6L615.5 647.9L610.2 650z"/><path class="c195" d="M583.5 667.2L586.1 666.1L610.2 650L607.6 651.1z"/><path class="c194" d="M573 670.9L583.5 667.2L607.6 651.1L597.1 654.8z"/><path class="c193" d="M549.4 676.8L562.5 674L573 670.9L597.1 654.8L573.5 662z"/><path class="c194" d="M541.5 677.8L549.4 676.8L573.5 662L565.6 663.9z"/><path class="c195" d="M538.9 677.9L541.5 677.8L565.6 663.9L563 664.4z"/><path class="c196" d="M533.6 678L538.9 677.9L563 664.4L557.7 665.3z"/><path class="c197" d="M525.8 679.1L531 677.9L533.6 678L557.7 665.3L555.1 665.7L549.9 667.6z"/><path class="c198" d="M520.5 679.6L525.8 679.1L549.9 667.6L544.6 669.2z"/><path class="c199" d="M517.9 679.7L520.5 679.6L544.6 669.2L542 669.8z"/><path class="c200" d="M515.2 679.6L517.9 679.7L542 669.8L539.4 670.4z"/><path class="c201" d="M512.6 679.5L515.2 679.6L539.4 670.4L536.7 670.9z"/><path class="c202" d="M510 679.2L512.6 679.5L536.7 670.9L534.1 671.3z"/><path class="c203" d="M507.4 678.9L510 679.2L534.1 671.3L531.5 671.7z"/><path class="c204" d="M504.8 678.6L507.4 678.9L531.5 671.7L528.9 672.1z"/><path class="c205" d="M502.1 678.3L504.8 678.6L528.9 672.1L526.2 672.5z"/><path class="c206" d="M499.5 678.1L502.1 678.3L526.2 672.5L523.6 672.9z"/><path class="c207" d="M496.9 677.9L499.5 678.1L523.6 672.9L521 673.2z"/><path class="c208" d="M494.2 677.6L496.9 677.9L521 673.2L518.4 673.6z"/><path class="c209" d="M491.6 677.2L494.2 677.6L518.4 673.6L515.7 673.8z"/><path class="c210" d="M489 676.9L491.6 677.2L515.7 673.8L513.1 674.1z"/><path class="c212" d="M486.4 676.5L489 676.9L513.1 674.1L510.5 674.3z"/><path class="c213" d="M483.8 676.2L486.4 676.5L510.5 674.3L507.9 674.6z"/><path class="c214" d="M481.1 675.8L483.8 676.2L507.9 674.6L505.2 674.8z"/><path class="c215" d="M478.5 675.5L481.1 675.8L505.2 674.8L502.6 675z"/><path class="c216" d="M475.9 675.3L478.5 675.5L502.6 675L500 675.3z"/><path class="c217" d="M473.2 675.1L475.9 675.3L500 675.3L497.4 675.6z"/><path class="c218" d="M470.6 675L473.2 675.1L497.4 675.6L494.7 675.9z"/><path class="c219" d="M468 674.9L470.6 675L494.7 675.9L492.1 676.2z"/><path class="c220" d="M462.8 674.7L468 674.9L492.1 676.2L486.9 676.9z"/><path class="c221" d="M460.1 674.6L462.8 674.7L486.9 676.9L484.2 677.2z"/><path class="c222" d="M457.5 674.4L460.1 674.6L484.2 677.2L481.6 677.4z"/><path class="c223" d="M454.9 674.2L457.5 674.4L481.6 677.4L479 677.6z"/><path class="c224" d="M452.2 673.9L454.9 674.2L479 677.6L476.4 677.7z"/><path class="c226" d="M449.6 673.5L452.2 673.9L476.4 677.7L473.7 677.7z"/><path class="c227" d="M447 672.9L449.6 673.5L473.7 677.7L471.1 677.6z"/><path class="c229" d="M444.4 672.3L447 672.9L471.1 677.6L468.5 677.4z"/><path class="c230" d="M441.8 671.7L444.4 672.3L468.5 677.4L465.9 677.2z"/><path class="c232" d="M439.1 671L441.8 671.7L465.9 677.2L463.2 676.9z"/><path class="c233" d="M436.5 670.2L439.1 671L463.2 676.9L460.6 676.6z"/><path class="c235" d="M433.9 669.5L436.5 670.2L460.6 676.6L458 676.2z"/><path class="c236" d="M431.2 668.9L433.9 669.5L458 676.2L455.4 675.9z"/><path class="c238" d="M428.6 668.2L431.2 668.9L455.4 675.9L452.7 675.6z"/><path class="c239" d="M426 667.6L428.6 668.2L452.7 675.6L450.1 675.3z"/><path class="c241" d="M423.4 666.9L426 667.6L450.1 675.3L447.5 674.9z"/><path class="c243" d="M420.8 666.2L423.4 666.9L447.5 674.9L444.9 674.5z"/><path class="c244" d="M418.1 665.5L420.8 666.2L444.9 674.5L442.2 674z"/><path class="c246" d="M415.5 664.8L418.1 665.5L442.2 674L439.6 673.6z"/><path class="c247" d="M412.9 664.2L415.5 664.8L439.6 673.6L437 673.2z"/><path class="c249" d="M410.2 663.7L412.9 664.2L437 673.2L434.4 672.9z"/><path class="c250" d="M405 663.4L410.2 663.7L434.4 672.9L429.1 672.8z"/><path class="c251" d="M402.4 663.4L405 663.4L429.1 672.8L426.5 672.8z"/><path class="c252" d="M399.8 663.4L402.4 663.4L426.5 672.8L423.9 672.9z"/><path class="c253" d="M394.5 663.6L399.8 663.4L423.9 672.9L418.6 673.2z"/><path class="c254" d="M386.6 664.4L394.5 663.6L418.6 673.2L410.7 674.1z"/><path class="c255" d="M310.5 681.8L384 664.8L386.6 664.4L410.7 674.1L334.6 691.6z"/></g><g class="T"><path class="t235" d="M647 634.2L649.6 633.1"/><path class="t234" d="M644.4 635.4L649.6 633.1"/><path class="t233" d="M639.1 637.8L647 634.2"/><path class="t232" d="M636.5 639L641.7 636.6"/><path class="t231" d="M631.2 641.3L639.1 637.8"/><path class="t230" d="M628.6 642.5L633.9 640.2"/><path class="t229" d="M623.4 644.7L631.2 641.3"/><path class="t228" d="M618.1 646.9L626 643.6"/><path class="t227" d="M612.9 649L620.7 645.8"/><path class="t226" d="M607.6 651.1L615.5 647.9"/><path class="t225" d="M599.7 653.9L610.2 650"/><path class="t224" d="M589.2 657.4L602.4 653"/><path class="t223" d="M549.9 667.6L555.1 665.7L570.9 662.7L591.9 656.6"/><path class="t222" d="M536.7 670.9L544.6 669.2L552.5 666.7"/><path class="t223" d="M528.9 672.1L539.4 670.4"/><path class="t224" d="M521 673.2L531.5 671.7"/><path class="t225" d="M513.1 674.1L523.6 672.9"/><path class="t226" d="M507.9 674.6L515.7 673.8"/><path class="t227" d="M502.6 675L510.5 674.3"/><path class="t228" d="M494.7 675.9L505.2 674.8"/><path class="t229" d="M489.5 676.6L497.4 675.6"/><path class="t230" d="M481.6 677.4L492.1 676.2"/><path class="t231" d="M479 677.6L484.2 677.2"/><path class="t232" d="M473.7 677.7L481.6 677.4"/><path class="t233" d="M471.1 677.6L476.4 677.7"/><path class="t234" d="M468.5 677.4L473.7 677.7"/><path class="t235" d="M465.9 677.2L471.1 677.6"/><path class="t236" d="M463.2 676.9L468.5 677.4"/><path class="t237" d="M460.6 676.6L465.9 677.2"/><path class="t239" d="M458 676.2L463.2 676.9"/><path class="t240" d="M455.4 675.9L460.6 676.6"/><path class="t241" d="M452.7 675.6L458 676.2"/><path class="t242" d="M450.1 675.3L455.4 675.9"/><path class="t243" d="M447.5 674.9L452.7 675.6"/><path class="t244" d="M444.9 674.5L450.1 675.3"/><path class="t246" d="M442.2 674L447.5 674.9"/><path class="t247" d="M439.6 673.6L444.9 674.5"/><path class="t248" d="M437 673.2L442.2 674"/><path class="t249" d="M434.4 672.9L439.6 673.6"/><path class="t250" d="M431.7 672.7L437 673.2"/><path class="t251" d="M429.1 672.8L434.4 672.9"/><path class="t252" d="M423.9 672.9L431.7 672.7"/><path class="t253" d="M418.6 673.2L426.5 672.8"/><path class="t254" d="M413.4 673.8L421.2 673.1"/><path class="t255" d="M334.6 691.6L408.1 674.6L416 673.5"/></g><g class="E"><path class="t235" d="M649.6 633.1L673.7 633.4"/><path class="t255" d="M334.6 691.6L358.7 701.4"/></g><g class="F"><path class="c235" d="M647 634.2L649.6 633.1L673.7 633.4L671.1 634.4z"/><path class="c234" d="M644.4 635.4L647 634.2L671.1 634.4L668.5 635.3z"/><path class="c233" d="M639.1 637.8L644.4 635.4L668.5 635.3L663.2 637.2z"/><path class="c232" d="M636.5 639L639.1 637.8L663.2 637.2L660.6 638.1z"/><path class="c231" d="M631.2 641.3L636.5 639L660.6 638.1L655.3 640z"/><path class="c230" d="M628.6 642.5L631.2 641.3L655.3 640L652.7 640.9z"/><path class="c229" d="M623.4 644.7L628.6 642.5L652.7 640.9L647.5 642.8z"/><path class="c228" d="M618.1 646.9L623.4 644.7L647.5 642.8L642.2 644.6z"/><path class="c227" d="M612.9 649L618.1 646.9L642.2 644.6L637 646.4z"/><path class="c226" d="M607.6 651.1L612.9 649L637 646.4L631.7 648.2z"/><path class="c225" d="M599.7 653.9L607.6 651.1L631.7 648.2L623.8 650.8z"/><path class="c224" d="M589.2 657.4L599.7 653.9L623.8 650.8L613.3 654.1z"/><path class="c223" d="M549.9 667.6L555.1 665.7L570.9 662.7L589.2 657.4L613.3 654.1L581.8 662.9L579.2 663.5L574 665.5z"/><path class="c222" d="M536.7 670.9L544.6 669.2L549.9 667.6L574 665.5L560.8 669.7z"/><path class="c223" d="M528.9 672.1L536.7 670.9L560.8 669.7L553 671.8z"/><path class="c224" d="M521 673.2L528.9 672.1L553 671.8L545.1 673.7z"/><path class="c225" d="M513.1 674.1L521 673.2L545.1 673.7L537.2 675.5z"/><path class="c226" d="M507.9 674.6L513.1 674.1L537.2 675.5L532 676.6z"/><path class="c227" d="M502.6 675L507.9 674.6L532 676.6L526.7 677.7z"/><path class="c228" d="M494.7 675.9L502.6 675L526.7 677.7L518.8 679.3z"/><path class="c229" d="M489.5 676.6L494.7 675.9L518.8 679.3L513.6 680.5z"/><path class="c230" d="M481.6 677.4L489.5 676.6L513.6 680.5L505.7 682.1z"/><path class="c231" d="M479 677.6L481.6 677.4L505.7 682.1L503.1 682.5z"/><path class="c232" d="M473.7 677.7L479 677.6L503.1 682.5L497.8 683.2z"/><path class="c233" d="M471.1 677.6L473.7 677.7L497.8 683.2L495.2 683.4z"/><path class="c234" d="M468.5 677.4L471.1 677.6L495.2 683.4L492.6 683.5z"/><path class="c235" d="M465.9 677.2L468.5 677.4L492.6 683.5L490 683.6z"/><path class="c236" d="M463.2 676.9L465.9 677.2L490 683.6L487.3 683.6z"/><path class="c237" d="M460.6 676.6L463.2 676.9L487.3 683.6L484.7 683.6z"/><path class="c239" d="M458 676.2L460.6 676.6L484.7 683.6L482.1 683.5z"/><path class="c240" d="M455.4 675.9L458 676.2L482.1 683.5L479.5 683.5z"/><path class="c241" d="M452.7 675.6L455.4 675.9L479.5 683.5L476.8 683.4z"/><path class="c242" d="M450.1 675.3L452.7 675.6L476.8 683.4L474.2 683.3z"/><path class="c243" d="M447.5 674.9L450.1 675.3L474.2 683.3L471.6 683.2z"/><path class="c244" d="M444.9 674.5L447.5 674.9L471.6 683.2L469 683z"/><path class="c246" d="M442.2 674L444.9 674.5L469 683L466.3 682.7z"/><path class="c247" d="M439.6 673.6L442.2 674L466.3 682.7L463.7 682.5z"/><path class="c248" d="M437 673.2L439.6 673.6L463.7 682.5L461.1 682.3z"/><path class="c249" d="M434.4 672.9L437 673.2L461.1 682.3L458.5 682.1z"/><path class="c250" d="M431.7 672.7L434.4 672.9L458.5 682.1L455.8 682.1z"/><path class="c251" d="M429.1 672.8L431.7 672.7L455.8 682.1L453.2 682.2z"/><path class="c252" d="M423.9 672.9L429.1 672.8L453.2 682.2L448 682.5z"/><path class="c253" d="M418.6 673.2L423.9 672.9L448 682.5L442.7 682.9z"/><path class="c254" d="M413.4 673.8L418.6 673.2L442.7 682.9L437.5 683.5z"/><path class="c255" d="M334.6 691.6L408.1 674.6L413.4 673.8L437.5 683.5L358.7 701.4z"/></g><g class="T"><path class="t246" d="M665.8 636.2L673.7 633.4"/><path class="t245" d="M660.6 638.1L668.5 635.3"/><path class="t244" d="M652.7 640.9L663.2 637.2"/><path class="t243" d="M644.8 643.7L655.3 640"/><path class="t242" d="M637 646.4L647.5 642.8"/><path class="t241" d="M629.1 649.1L639.6 645.5"/><path class="t240" d="M618.6 652.5L631.7 648.2"/><path class="t239" d="M605.5 656.5L621.2 651.6"/><path class="t238" d="M579.2 663.5L608.1 655.8"/><path class="t237" d="M571.3 666.4L579.2 663.5L581.8 662.9"/><path class="t236" d="M558.2 670.4L574 665.5"/><path class="t235" d="M537.2 675.5L560.8 669.7"/><path class="t236" d="M508.3 681.6L539.8 675"/><path class="t237" d="M500.5 682.9L511 681.1"/><path class="t238" d="M495.2 683.4L503.1 682.5"/><path class="t239" d="M490 683.6L497.8 683.2"/><path class="t240" d="M487.3 683.6L492.6 683.5"/><path class="t241" d="M484.7 683.6L490 683.6"/><path class="t242" d="M479.5 683.5L487.3 683.6"/><path class="t243" d="M476.8 683.4L482.1 683.5"/><path class="t244" d="M474.2 683.3L479.5 683.5"/><path class="t245" d="M471.6 683.2L476.8 683.4"/><path class="t246" d="M469 683L474.2 683.3"/><path class="t247" d="M466.3 682.7L471.6 683.2"/><path class="t248" d="M463.7 682.5L469 683"/><path class="t249" d="M461.1 682.3L466.3 682.7"/><path class="t250" d="M458.5 682.1L463.7 682.5"/><path class="t251" d="M453.2 682.2L458.5 682.1L461.1 682.3"/><path class="t252" d="M450.6 682.3L455.8 682.1"/><path class="t253" d="M445.3 682.7L453.2 682.2"/><path class="t254" d="M437.5 683.5L448 682.5"/><path class="t255" d="M358.7 701.4L432.2 684.3L440.1 683.2"/></g><g class="E"><path class="t246" d="M673.7 633.4L697.8 639.1"/><path class="t255" d="M358.7 701.4L382.8 711.2"/></g><g class="F"><path class="c246" d="M665.8 636.2L673.7 633.4L697.8 639.1L689.9 641.5z"/><path class="c245" d="M660.6 638.1L665.8 636.2L689.9 641.5L684.7 643.1z"/><path class="c244" d="M652.7 640.9L660.6 638.1L684.7 643.1L676.8 645.5z"/><path class="c243" d="M644.8 643.7L652.7 640.9L676.8 645.5L668.9 647.9z"/><path class="c242" d="M637 646.4L644.8 643.7L668.9 647.9L661 650.2z"/><path class="c241" d="M629.1 649.1L637 646.4L661 650.2L653.2 652.6z"/><path class="c240" d="M618.6 652.5L629.1 649.1L653.2 652.6L642.7 655.7z"/><path class="c239" d="M605.5 656.5L618.6 652.5L642.7 655.7L629.5 659.6z"/><path class="c238" d="M579.2 663.5L605.5 656.5L629.5 659.6L603.3 666.6z"/><path class="c237" d="M571.3 666.4L579.2 663.5L603.3 666.6L595.4 669.4z"/><path class="c236" d="M558.2 670.4L571.3 666.4L595.4 669.4L582.3 673.7z"/><path class="c235" d="M537.2 675.5L558.2 670.4L582.3 673.7L561.3 679.7z"/><path class="c236" d="M508.3 681.6L537.2 675.5L561.3 679.7L532.4 687.4z"/><path class="c237" d="M500.5 682.9L508.3 681.6L532.4 687.4L524.5 689.2z"/><path class="c238" d="M495.2 683.4L500.5 682.9L524.5 689.2L519.3 690z"/><path class="c239" d="M490 683.6L495.2 683.4L519.3 690L514 690.7z"/><path class="c240" d="M487.3 683.6L490 683.6L514 690.7L511.4 690.9z"/><path class="c241" d="M484.7 683.6L487.3 683.6L511.4 690.9L508.8 691.1z"/><path class="c242" d="M479.5 683.5L484.7 683.6L508.8 691.1L503.6 691.4z"/><path class="c243" d="M476.8 683.4L479.5 683.5L503.6 691.4L500.9 691.5z"/><path class="c244" d="M474.2 683.3L476.8 683.4L500.9 691.5L498.3 691.7z"/><path class="c245" d="M471.6 683.2L474.2 683.3L498.3 691.7L495.7 691.7z"/><path class="c246" d="M469 683L471.6 683.2L495.7 691.7L493.1 691.7z"/><path class="c247" d="M466.3 682.7L469 683L493.1 691.7L490.4 691.6z"/><path class="c248" d="M463.7 682.5L466.3 682.7L490.4 691.6L487.8 691.5z"/><path class="c249" d="M461.1 682.3L463.7 682.5L487.8 691.5L485.2 691.5z"/><path class="c250" d="M458.5 682.1L461.1 682.3L485.2 691.5L482.6 691.4z"/><path class="c251" d="M453.2 682.2L458.5 682.1L482.6 691.4L477.3 691.7z"/><path class="c252" d="M450.6 682.3L453.2 682.2L477.3 691.7L474.7 691.9z"/><path class="c253" d="M445.3 682.7L450.6 682.3L474.7 691.9L469.4 692.3z"/><path class="c254" d="M437.5 683.5L445.3 682.7L469.4 692.3L461.6 693.2z"/><path class="c255" d="M358.7 701.4L432.2 684.3L437.5 683.5L461.6 693.2L382.8 711.2z"/></g><g class="T"><path class="t251" d="M684.7 643.1L697.8 639.1"/><path class="t250" d="M671.5 647.1L687.3 642.3"/><path class="t249" d="M658.4 651L674.2 646.3"/><path class="t248" d="M642.7 655.7L661 650.2"/><path class="t247" d="M626.9 660.3L645.3 655"/><path class="t246" d="M603.3 666.6L629.5 659.6"/><path class="t245" d="M595.4 669.4L603.3 666.6L605.9 666"/><path class="t244" d="M584.9 672.9L598 668.5"/><path class="t243" d="M571.8 676.8L587.5 672.1"/><path class="t242" d="M542.9 684.6L574.4 676"/><path class="t241" d="M524.5 689.2L545.5 683.9"/><path class="t242" d="M516.7 690.4L527.2 688.6"/><path class="t243" d="M511.4 690.9L519.3 690"/><path class="t244" d="M506.2 691.3L514 690.7"/><path class="t245" d="M500.9 691.5L508.8 691.1"/><path class="t246" d="M498.3 691.7L503.6 691.4"/><path class="t247" d="M493.1 691.7L500.9 691.5"/><path class="t248" d="M490.4 691.6L495.7 691.7"/><path class="t249" d="M487.8 691.5L493.1 691.7"/><path class="t250" d="M485.2 691.5L490.4 691.6"/><path class="t251" d="M479.9 691.5L487.8 691.5"/><path class="t252" d="M474.7 691.9L482.6 691.4"/><path class="t253" d="M469.4 692.3L477.3 691.7"/><path class="t254" d="M461.6 693.2L472.1 692.1"/><path class="t255" d="M382.8 711.2L456.3 694.1L464.2 692.9"/></g><g class="E"><path class="t251" d="M697.8 639.1L721.9 647.1"/><path class="t255" d="M382.8 711.2L406.9 721.1"/></g><g class="F"><path class="c251" d="M684.7 643.1L697.8 639.1L721.9 647.1L708.8 650.7z"/><path class="c250" d="M671.5 647.1L684.7 643.1L708.8 650.7L695.6 654.3z"/><path class="c249" d="M658.4 651L671.5 647.1L695.6 654.3L682.5 657.9z"/><path class="c248" d="M642.7 655.7L658.4 651L682.5 657.9L666.8 662.2z"/><path class="c247" d="M626.9 660.3L642.7 655.7L666.8 662.2L651 666.6z"/><path class="c246" d="M603.3 666.6L626.9 660.3L651 666.6L627.4 672.8z"/><path class="c245" d="M595.4 669.4L603.3 666.6L627.4 672.8L619.5 675.4z"/><path class="c244" d="M584.9 672.9L595.4 669.4L619.5 675.4L609 678.7z"/><path class="c243" d="M571.8 676.8L584.9 672.9L609 678.7L595.9 682.7z"/><path class="c242" d="M542.9 684.6L571.8 676.8L595.9 682.7L567 691.1z"/><path class="c241" d="M524.5 689.2L542.9 684.6L567 691.1L548.6 696.3z"/><path class="c242" d="M516.7 690.4L524.5 689.2L548.6 696.3L540.8 697.9z"/><path class="c243" d="M511.4 690.9L516.7 690.4L540.8 697.9L535.5 698.7z"/><path class="c244" d="M506.2 691.3L511.4 690.9L535.5 698.7L530.3 699.4z"/><path class="c245" d="M500.9 691.5L506.2 691.3L530.3 699.4L525 700z"/><path class="c246" d="M498.3 691.7L500.9 691.5L525 700L522.4 700.2z"/><path class="c247" d="M493.1 691.7L498.3 691.7L522.4 700.2L517.1 700.5z"/><path class="c248" d="M490.4 691.6L493.1 691.7L517.1 700.5L514.5 700.6z"/><path class="c249" d="M487.8 691.5L490.4 691.6L514.5 700.6L511.9 700.7z"/><path class="c250" d="M485.2 691.5L487.8 691.5L511.9 700.7L509.3 700.7z"/><path class="c251" d="M479.9 691.5L485.2 691.5L509.3 700.7L504 701z"/><path class="c252" d="M474.7 691.9L479.9 691.5L504 701L498.8 701.4z"/><path class="c253" d="M469.4 692.3L474.7 691.9L498.8 701.4L493.5 702z"/><path class="c254" d="M461.6 693.2L469.4 692.3L493.5 702L485.6 703z"/><path class="c255" d="M382.8 711.2L456.3 694.1L461.6 693.2L485.6 703L406.9 721.1z"/></g><g class="T"><path class="t254" d="M716.6 648.5L721.9 647.1"/><path class="t253" d="M690.4 655.7L719.3 647.8"/><path class="t252" d="M669.4 661.5L693 655"/><path class="t251" d="M643.1 668.7L672 660.8"/><path class="t250" d="M622.1 674.5L627.4 672.8L645.8 668"/><path class="t249" d="M611.6 677.9L624.8 673.7"/><path class="t248" d="M598.5 681.9L614.3 677.1"/><path class="t247" d="M585.4 685.8L601.1 681.1"/><path class="t246" d="M567 691.1L588 685.1"/><path class="t245" d="M535.5 698.7L548.6 696.3L569.6 690.4"/><path class="t246" d="M530.3 699.4L538.1 698.3"/><path class="t247" d="M522.4 700.2L532.9 699"/><path class="t248" d="M519.8 700.4L525 700"/><path class="t249" d="M514.5 700.6L522.4 700.2"/><path class="t250" d="M511.9 700.7L517.1 700.5"/><path class="t251" d="M506.6 700.8L514.5 700.6"/><path class="t252" d="M501.4 701.2L509.3 700.7"/><path class="t253" d="M496.1 701.7L504 701"/><path class="t254" d="M488.3 702.6L498.8 701.4"/><path class="t255" d="M406.9 721.1L480.4 703.9L490.9 702.3"/></g><g class="E"><path class="t254" d="M721.9 647.1L746 656.1"/><path class="t255" d="M406.9 721.1L431 730.9"/></g><g class="F"><path class="c254" d="M716.6 648.5L721.9 647.1L746 656.1L740.8 657.5z"/><path class="c253" d="M690.4 655.7L716.6 648.5L740.8 657.5L714.5 664.2z"/><path class="c252" d="M669.4 661.5L690.4 655.7L714.5 664.2L693.5 669.7z"/><path class="c251" d="M643.1 668.7L669.4 661.5L693.5 669.7L667.2 676.6z"/><path class="c250" d="M622.1 674.5L627.4 672.8L643.1 668.7L667.2 676.6L646.2 682.2z"/><path class="c249" d="M611.6 677.9L622.1 674.5L646.2 682.2L635.8 685.4z"/><path class="c248" d="M598.5 681.9L611.6 677.9L635.8 685.4L622.6 689.3z"/><path class="c247" d="M585.4 685.8L598.5 681.9L622.6 689.3L609.5 693.2z"/><path class="c246" d="M567 691.1L585.4 685.8L609.5 693.2L591.1 698.6z"/><path class="c245" d="M535.5 698.7L548.6 696.3L567 691.1L591.1 698.6L567.5 705.3L559.6 706.9z"/><path class="c246" d="M530.3 699.4L535.5 698.7L559.6 706.9L554.4 707.8z"/><path class="c247" d="M522.4 700.2L530.3 699.4L554.4 707.8L546.5 709z"/><path class="c248" d="M519.8 700.4L522.4 700.2L546.5 709L543.9 709.3z"/><path class="c249" d="M514.5 700.6L519.8 700.4L543.9 709.3L538.6 709.7z"/><path class="c250" d="M511.9 700.7L514.5 700.6L538.6 709.7L536 709.9z"/><path class="c251" d="M506.6 700.8L511.9 700.7L536 709.9L530.8 710.2z"/><path class="c252" d="M501.4 701.2L506.6 700.8L530.8 710.2L525.5 710.8z"/><path class="c253" d="M496.1 701.7L501.4 701.2L525.5 710.8L520.2 711.3z"/><path class="c254" d="M488.3 702.6L496.1 701.7L520.2 711.3L512.4 712.3z"/><path class="c255" d="M406.9 721.1L480.4 703.9L488.3 702.6L512.4 712.3L431 730.9z"/></g><g class="T"><path class="t255" d="M735.5 658.8L746 656.1"/><path class="t254" d="M693.5 669.7L738.1 658.1"/><path class="t253" d="M651.5 680.6L696.1 669"/><path class="t252" d="M638.4 684.6L654.1 679.9"/><path class="t251" d="M625.2 688.5L641 683.8"/><path class="t250" d="M609.5 693.2L627.9 687.7"/><path class="t249" d="M593.8 697.8L612.1 692.4"/><path class="t248" d="M580.6 701.8L596.4 697"/><path class="t247" d="M559.6 706.9L578 702.5L583.2 701"/><path class="t248" d="M549.1 708.6L562.2 706.4"/><path class="t249" d="M543.9 709.3L551.8 708.2"/><path class="t250" d="M538.6 709.7L546.5 709"/><path class="t251" d="M533.4 710L541.2 709.5"/><path class="t252" d="M528.1 710.4L536 709.9"/><path class="t253" d="M520.2 711.3L530.8 710.2"/><path class="t254" d="M512.4 712.3L522.9 711"/><path class="t255" d="M431 730.9L507.1 713.2L515 712"/></g><g class="E"><path class="t255" d="M746 656.1L770.1 665.6"/><path class="t255" d="M431 730.9L455.1 740.7"/></g><g class="F"><path class="c255" d="M735.5 658.8L746 656.1L770.1 665.6L759.6 668.2z"/><path class="c254" d="M693.5 669.7L735.5 658.8L759.6 668.2L717.6 678.7z"/><path class="c253" d="M651.5 680.6L693.5 669.7L717.6 678.7L675.6 689.3z"/><path class="c252" d="M638.4 684.6L651.5 680.6L675.6 689.3L662.5 693z"/><path class="c251" d="M625.2 688.5L638.4 684.6L662.5 693L649.4 696.8z"/><path class="c250" d="M609.5 693.2L625.2 688.5L649.4 696.8L633.6 701.3z"/><path class="c249" d="M593.8 697.8L609.5 693.2L633.6 701.3L617.9 705.9z"/><path class="c248" d="M580.6 701.8L593.8 697.8L617.9 705.9L604.7 709.9z"/><path class="c247" d="M559.6 706.9L578 702.5L580.6 701.8L604.7 709.9L583.7 715.4z"/><path class="c248" d="M549.1 708.6L559.6 706.9L583.7 715.4L573.2 717.4z"/><path class="c249" d="M543.9 709.3L549.1 708.6L573.2 717.4L568 718.3z"/><path class="c250" d="M538.6 709.7L543.9 709.3L568 718.3L562.7 718.9z"/><path class="c251" d="M533.4 710L538.6 709.7L562.7 718.9L557.5 719.4z"/><path class="c252" d="M528.1 710.4L533.4 710L557.5 719.4L552.2 720z"/><path class="c253" d="M520.2 711.3L528.1 710.4L552.2 720L544.4 721z"/><path class="c254" d="M512.4 712.3L520.2 711.3L544.4 721L536.5 722.1z"/><path class="c255" d="M431 730.9L507.1 713.2L512.4 712.3L536.5 722.1L455.1 740.7z"/></g><g class="T"><path class="t255" d="M717.6 678.7L770.1 665.6"/><path class="t254" d="M670.4 690.8L720.2 678.1"/><path class="t253" d="M652 696L673 690.1"/><path class="t252" d="M633.6 701.3L654.6 695.3"/><path class="t251" d="M617.9 705.9L636.2 700.6"/><path class="t250" d="M604.7 709.9L620.5 705.2"/><path class="t249" d="M575.9 717L596.9 712.2L607.4 709.1"/><path class="t250" d="M565.4 718.6L578.5 716.5"/><path class="t251" d="M560.1 719.2L568 718.3"/><path class="t252" d="M554.9 719.7L562.7 718.9"/><path class="t253" d="M547 720.7L557.5 719.4"/><path class="t254" d="M539.1 721.7L549.6 720.4"/><path class="t255" d="M455.1 740.7L531.2 723L541.7 721.3"/></g><g class="E"><path class="t255" d="M770.1 665.6L794.2 675.3"/><path class="t255" d="M455.1 740.7L479.2 750.6"/></g><g class="F"><path class="c255" d="M717.6 678.7L770.1 665.6L794.2 675.3L741.7 688.1z"/><path class="c254" d="M670.4 690.8L717.6 678.7L741.7 688.1L694.5 699.9z"/><path class="c253" d="M652 696L670.4 690.8L694.5 699.9L676.1 704.9z"/><path class="c252" d="M633.6 701.3L652 696L676.1 704.9L657.7 710.1z"/><path class="c251" d="M617.9 705.9L633.6 701.3L657.7 710.1L642 714.6z"/><path class="c250" d="M604.7 709.9L617.9 705.9L642 714.6L628.8 718.5z"/><path class="c249" d="M575.9 717L596.9 712.2L604.7 709.9L628.8 718.5L600 725.9z"/><path class="c250" d="M565.4 718.6L575.9 717L600 725.9L589.5 727.8z"/><path class="c251" d="M560.1 719.2L565.4 718.6L589.5 727.8L584.2 728.5z"/><path class="c252" d="M554.9 719.7L560.1 719.2L584.2 728.5L579 729.2z"/><path class="c253" d="M547 720.7L554.9 719.7L579 729.2L571.1 730.3z"/><path class="c254" d="M539.1 721.7L547 720.7L571.1 730.3L563.2 731.4z"/><path class="c255" d="M455.1 740.7L531.2 723L539.1 721.7L563.2 731.4L479.2 750.6z"/></g><g class="T"><path class="t255" d="M697.1 699.2L794.2 675.3"/><path class="t254" d="M670.8 706.4L699.7 698.5"/><path class="t253" d="M652.5 711.5L673.5 705.7"/><path class="t252" d="M636.7 716.1L655.1 710.8"/><path class="t251" d="M621 720.8L639.3 715.3"/><path class="t250" d="M600 725.9L623.6 720"/><path class="t251" d="M586.8 728.2L602.6 725.3"/><path class="t252" d="M581.6 728.9L589.5 727.8"/><path class="t253" d="M571.1 730.3L584.2 728.5"/><path class="t254" d="M563.2 731.4L573.7 730"/><path class="t255" d="M479.2 750.6L555.3 732.8L565.8 731"/></g><g class="E"><path class="t255" d="M794.2 675.3L818.3 685.1"/><path class="t255" d="M479.2 750.6L503.3 760.4"/></g><g class="F"><path class="c255" d="M697.1 699.2L794.2 675.3L818.3 685.1L721.2 708.7z"/><path class="c254" d="M670.8 706.4L697.1 699.2L721.2 708.7L694.9 715.6z"/><path class="c253" d="M652.5 711.5L670.8 706.4L694.9 715.6L676.5 720.6z"/><path class="c252" d="M636.7 716.1L652.5 711.5L676.5 720.6L660.8 725.1z"/><path class="c251" d="M621 720.8L636.7 716.1L660.8 725.1L645 729.6z"/><path class="c250" d="M600 725.9L621 720.8L645 729.6L624 735z"/><path class="c251" d="M586.8 728.2L600 725.9L624 735L610.9 737.6z"/><path class="c252" d="M581.6 728.9L586.8 728.2L610.9 737.6L605.7 738.4z"/><path class="c253" d="M571.1 730.3L581.6 728.9L605.7 738.4L595.2 740z"/><path class="c254" d="M563.2 731.4L571.1 730.3L595.2 740L587.3 741.1z"/><path class="c255" d="M479.2 750.6L555.3 732.8L563.2 731.4L587.3 741.1L503.3 760.4z"/></g><g class="T"><path class="t255" d="M705.4 712.8L818.3 685.1"/><path class="t254" d="M676.5 720.6L708 712.1"/><path class="t253" d="M658.2 725.8L679.2 719.9"/><path class="t252" d="M642.4 730.4L660.8 725.1"/><path class="t251" d="M618.8 736.2L645 729.6"/><path class="t252" d="M608.3 738L621.4 735.6"/><path class="t253" d="M597.8 739.6L610.9 737.6"/><path class="t254" d="M587.3 741.1L600.4 739.1"/><path class="t255" d="M503.3 760.4L582 742L589.9 740.7"/></g></g>
<path d="M262.8 870.6L250.8 866.6M262.8 801.2L250.8 797.2M262.8 731.7L250.8 727.7M262.8 662.3L250.8 658.3M383.8 925.6L372.3 927.6M659.8 937L671.8 940.9M816.3 899.3L830.3 903M494.8 976.2L513.8 976.2M262.8 877L250.8 877" stroke="#262626" stroke-width="3.2" fill="none"/>
<g font-family="'Liberation Serif','DejaVu Serif',serif" font-size="61" fill="#262626" stroke="#fff" stroke-width="1.1"><text x="242.6" y="883.6" text-anchor="end" letter-spacing="-1.1">‐1500</text><text x="242.6" y="814.2" text-anchor="end" letter-spacing="-1.1">‐1000</text><text x="242.6" y="744.7" text-anchor="end" letter-spacing="-1.1">‐500</text><text x="242.6" y="675.3" text-anchor="end" letter-spacing="-1.1">0</text><text x="238.3" y="935.2" text-anchor="end">0</text><text x="359.8" y="984.4" text-anchor="end" letter-spacing="-2.2">0.5</text><text x="479.3" y="1033.5" text-anchor="end">1</text><text x="522.3" y="1037.5">0</text><text x="679.8" y="999.8">1</text><text x="837.3" y="962.1">2</text><text x="266.3" y="1086.7" font-style="italic" font-size="62">ζ</text><text x="707.3" y="1087.7" font-style="italic" font-size="62">t</text><text x="21" y="734.5"><tspan font-style="italic">e</tspan><tspan font-size="49" dx="0" dy="27" letter-spacing="-1.2">21</tspan></text></g></g>
<g><path d="M1129.8 876.5L1444.8 801.1M1250.3 925.6L1565.3 850.2M1287.3 838.8L1528.3 937.1M1444.8 801.1L1685.8 899.4M1287.3 838.8L1287.3 624.2M1444.8 801.1L1444.8 586.5M1565.3 850.2L1565.3 635.6M1685.8 899.4L1685.8 684.8M1129.8 873.5L1444.8 798.1M1444.8 798.1L1685.8 896.4M1129.8 793.9L1444.8 718.5M1444.8 718.5L1685.8 816.8M1129.8 714.4L1444.8 639M1444.8 639L1685.8 737.3" stroke="#e0e0e0" stroke-width="3" fill="none"/>
<path d="M1129.8 876.5L1363.4 971.8M1378.6 972.9L1685.8 899.4" stroke="#262626" stroke-width="3.2" fill="none"/>
<clipPath id="cp3"><rect x="1125.3" y="583" width="565" height="394.3"/></clipPath><g clip-path="url(#cp3)"><g class="T"><path class="t254" d="M1442.2 588.7L1444.8 586.5"/><path class="t251" d="M1439.5 591.4L1442.2 588.7L1444.8 586.5"/><path class="t248" d="M1436.9 594.3L1442.2 588.7"/><path class="t245" d="M1434.3 597.4L1439.5 591.4"/><path class="t242" d="M1431.7 600.8L1436.9 594.3"/><path class="t238" d="M1429 604.3L1434.3 597.4"/><path class="t234" d="M1426.4 608.3L1431.7 600.8"/><path class="t230" d="M1423.8 612.9L1426.4 608.3L1429 604.3"/><path class="t225" d="M1421.2 617.8L1426.4 608.3"/><path class="t219" d="M1418.5 622.9L1423.8 612.9"/><path class="t214" d="M1415.9 628L1421.2 617.8"/><path class="t208" d="M1413.3 632.9L1418.5 622.9"/><path class="t203" d="M1410.7 637.7L1415.9 628"/><path class="t198" d="M1408 642.5L1413.3 632.9"/><path class="t193" d="M1405.4 647.4L1410.7 637.7"/><path class="t188" d="M1402.8 652.2L1408 642.5"/><path class="t183" d="M1400.2 657L1405.4 647.4"/><path class="t178" d="M1397.5 661.7L1402.8 652.2"/><path class="t173" d="M1394.9 666.3L1400.2 657"/><path class="t169" d="M1392.3 670.9L1397.5 661.7"/><path class="t164" d="M1389.7 675.4L1394.9 666.3"/><path class="t159" d="M1387 679.9L1392.3 670.9"/><path class="t154" d="M1384.4 684.5L1389.7 675.4"/><path class="t149" d="M1381.8 689.3L1387 679.9"/><path class="t144" d="M1379.2 694.2L1384.4 684.5"/><path class="t139" d="M1376.5 699.3L1381.8 689.3"/><path class="t133" d="M1373.9 704.5L1379.2 694.2"/><path class="t128" d="M1371.3 709.7L1376.5 699.3"/><path class="t122" d="M1368.7 714.7L1373.9 704.5"/><path class="t117" d="M1366 719.6L1371.3 709.7"/><path class="t112" d="M1363.4 724.3L1368.7 714.7"/><path class="t108" d="M1360.8 728.9L1366 719.6"/><path class="t103" d="M1358.2 733.4L1363.4 724.3"/><path class="t98" d="M1355.5 737.8L1360.8 728.9"/><path class="t94" d="M1352.9 742.3L1358.2 733.4"/><path class="t89" d="M1350.3 746.7L1355.5 737.8"/><path class="t84" d="M1347.7 751.2L1352.9 742.3"/><path class="t79" d="M1345 755.8L1350.3 746.7"/><path class="t75" d="M1342.4 760.4L1347.7 751.2"/><path class="t70" d="M1339.8 764.9L1345 755.8"/><path class="t66" d="M1337.2 769.2L1342.4 760.4"/><path class="t61" d="M1334.5 773.3L1339.8 764.9"/><path class="t58" d="M1331.9 777L1337.2 769.2"/><path class="t54" d="M1329.3 780.6L1334.5 773.3"/><path class="t51" d="M1326.7 784.1L1331.9 777"/><path class="t47" d="M1324 787.5L1329.3 780.6"/><path class="t44" d="M1321.4 790.8L1326.7 784.1"/><path class="t41" d="M1318.8 794L1324 787.5"/><path class="t38" d="M1316.2 797.3L1321.4 790.8"/><path class="t34" d="M1313.5 800.6L1318.8 794"/><path class="t31" d="M1310.9 803.8L1316.2 797.3"/><path class="t28" d="M1308.3 806.9L1313.5 800.6"/><path class="t26" d="M1305.7 809.9L1310.9 803.8"/><path class="t23" d="M1303 812.6L1308.3 806.9"/><path class="t21" d="M1300.4 815.2L1305.7 809.9"/><path class="t18" d="M1297.8 817.6L1303 812.6"/><path class="t16" d="M1295.2 820L1300.4 815.2"/><path class="t14" d="M1292.5 822.2L1297.8 817.6"/><path class="t13" d="M1289.9 824.3L1295.2 820"/><path class="t11" d="M1287.3 826.2L1292.5 822.2"/><path class="t10" d="M1284.7 828L1289.9 824.3"/><path class="t8" d="M1282 829.7L1287.3 826.2"/><path class="t7" d="M1279.4 831.3L1284.7 828"/><path class="t6" d="M1276.8 832.8L1282 829.7"/><path class="t5" d="M1274.2 834.2L1279.4 831.3"/><path class="t4" d="M1268.9 836.8L1276.8 832.8"/><path class="t3" d="M1266.3 838.1L1271.5 835.5"/><path class="t2" d="M1263.7 839.3L1268.9 836.8"/><path class="t1" d="M1258.4 841.6L1266.3 838.1"/><path class="t0" d="M1129.8 873.5L1250.5 844.5L1258.4 841.6L1261 840.5"/></g><g class="E"><path class="t254" d="M1444.8 586.5L1468.9 721.2"/><path class="t0" d="M1129.8 873.5L1153.9 883.3"/></g><g class="F"><path class="c254" d="M1442.2 588.7L1444.8 586.5L1468.9 721.2L1466.3 722.1z"/><path class="c251" d="M1439.5 591.4L1442.2 588.7L1466.3 722.1L1463.6 723.2z"/><path class="c248" d="M1436.9 594.3L1439.5 591.4L1463.6 723.2L1461 724.4z"/><path class="c245" d="M1434.3 597.4L1436.9 594.3L1461 724.4L1458.4 725.8z"/><path class="c242" d="M1431.7 600.8L1434.3 597.4L1458.4 725.8L1455.8 727.2z"/><path class="c238" d="M1429 604.3L1431.7 600.8L1455.8 727.2L1453.1 728.7z"/><path class="c234" d="M1426.4 608.3L1429 604.3L1453.1 728.7L1450.5 730.4z"/><path class="c230" d="M1423.8 612.9L1426.4 608.3L1450.5 730.4L1447.9 732.4z"/><path class="c225" d="M1421.2 617.8L1423.8 612.9L1447.9 732.4L1445.3 734.5z"/><path class="c219" d="M1418.5 622.9L1421.2 617.8L1445.3 734.5L1442.6 736.8z"/><path class="c214" d="M1415.9 628L1418.5 622.9L1442.6 736.8L1440 739z"/><path class="c208" d="M1413.3 632.9L1415.9 628L1440 739L1437.4 741.2z"/><path class="c203" d="M1410.7 637.7L1413.3 632.9L1437.4 741.2L1434.8 743.3z"/><path class="c198" d="M1408 642.5L1410.7 637.7L1434.8 743.3L1432.1 745.5z"/><path class="c193" d="M1405.4 647.4L1408 642.5L1432.1 745.5L1429.5 747.7z"/><path class="c188" d="M1402.8 652.2L1405.4 647.4L1429.5 747.7L1426.9 749.9z"/><path class="c183" d="M1400.2 657L1402.8 652.2L1426.9 749.9L1424.3 752.1z"/><path class="c178" d="M1397.5 661.7L1400.2 657L1424.3 752.1L1421.6 754.2z"/><path class="c173" d="M1394.9 666.3L1397.5 661.7L1421.6 754.2L1419 756.4z"/><path class="c169" d="M1392.3 670.9L1394.9 666.3L1419 756.4L1416.4 758.5z"/><path class="c164" d="M1389.7 675.4L1392.3 670.9L1416.4 758.5L1413.8 760.6z"/><path class="c159" d="M1387 679.9L1389.7 675.4L1413.8 760.6L1411.1 762.8z"/><path class="c154" d="M1384.4 684.5L1387 679.9L1411.1 762.8L1408.5 765z"/><path class="c149" d="M1381.8 689.3L1384.4 684.5L1408.5 765L1405.9 767.2z"/><path class="c144" d="M1379.2 694.2L1381.8 689.3L1405.9 767.2L1403.3 769.6z"/><path class="c139" d="M1376.5 699.3L1379.2 694.2L1403.3 769.6L1400.6 772.1z"/><path class="c133" d="M1373.9 704.5L1376.5 699.3L1400.6 772.1L1398 774.6z"/><path class="c128" d="M1371.3 709.7L1373.9 704.5L1398 774.6L1395.4 777.1z"/><path class="c122" d="M1368.7 714.7L1371.3 709.7L1395.4 777.1L1392.8 779.6z"/><path class="c117" d="M1366 719.6L1368.7 714.7L1392.8 779.6L1390.1 782z"/><path class="c112" d="M1363.4 724.3L1366 719.6L1390.1 782L1387.5 784.3z"/><path class="c108" d="M1360.8 728.9L1363.4 724.3L1387.5 784.3L1384.9 786.6z"/><path class="c103" d="M1358.2 733.4L1360.8 728.9L1384.9 786.6L1382.3 788.9z"/><path class="c98" d="M1355.5 737.8L1358.2 733.4L1382.3 788.9L1379.6 791.2z"/><path class="c94" d="M1352.9 742.3L1355.5 737.8L1379.6 791.2L1377 793.5z"/><path class="c89" d="M1350.3 746.7L1352.9 742.3L1377 793.5L1374.4 795.7z"/><path class="c84" d="M1347.7 751.2L1350.3 746.7L1374.4 795.7L1371.8 798.1z"/><path class="c79" d="M1345 755.8L1347.7 751.2L1371.8 798.1L1369.1 800.5z"/><path class="c75" d="M1342.4 760.4L1345 755.8L1369.1 800.5L1366.5 802.9z"/><path class="c70" d="M1339.8 764.9L1342.4 760.4L1366.5 802.9L1363.9 805.3z"/><path class="c66" d="M1337.2 769.2L1339.8 764.9L1363.9 805.3L1361.3 807.5z"/><path class="c61" d="M1334.5 773.3L1337.2 769.2L1361.3 807.5L1358.6 809.7z"/><path class="c58" d="M1331.9 777L1334.5 773.3L1358.6 809.7L1356 811.4z"/><path class="c54" d="M1329.3 780.6L1331.9 777L1356 811.4L1353.4 813z"/><path class="c51" d="M1326.7 784.1L1329.3 780.6L1353.4 813L1350.8 814.6z"/><path class="c47" d="M1324 787.5L1326.7 784.1L1350.8 814.6L1348.1 816.3z"/><path class="c44" d="M1321.4 790.8L1324 787.5L1348.1 816.3L1345.5 817.9z"/><path class="c41" d="M1318.8 794L1321.4 790.8L1345.5 817.9L1342.9 819.6z"/><path class="c38" d="M1316.2 797.3L1318.8 794L1342.9 819.6L1340.3 821.3z"/><path class="c34" d="M1313.5 800.6L1316.2 797.3L1340.3 821.3L1337.6 823.1z"/><path class="c31" d="M1310.9 803.8L1313.5 800.6L1337.6 823.1L1335 825z"/><path class="c28" d="M1308.3 806.9L1310.9 803.8L1335 825L1332.4 826.8z"/><path class="c26" d="M1305.7 809.9L1308.3 806.9L1332.4 826.8L1329.8 828.5z"/><path class="c23" d="M1303 812.6L1305.7 809.9L1329.8 828.5L1327.1 830.2z"/><path class="c21" d="M1300.4 815.2L1303 812.6L1327.1 830.2L1324.5 831.8z"/><path class="c18" d="M1297.8 817.6L1300.4 815.2L1324.5 831.8L1321.9 833.4z"/><path class="c16" d="M1295.2 820L1297.8 817.6L1321.9 833.4L1319.3 835z"/><path class="c14" d="M1292.5 822.2L1295.2 820L1319.3 835L1316.6 836.5z"/><path class="c13" d="M1289.9 824.3L1292.5 822.2L1316.6 836.5L1314 837.9z"/><path class="c11" d="M1287.3 826.2L1289.9 824.3L1314 837.9L1311.4 839.3z"/><path class="c10" d="M1284.7 828L1287.3 826.2L1311.4 839.3L1308.8 840.6z"/><path class="c8" d="M1282 829.7L1284.7 828L1308.8 840.6L1306.1 841.9z"/><path class="c7" d="M1279.4 831.3L1282 829.7L1306.1 841.9L1303.5 843.1z"/><path class="c6" d="M1276.8 832.8L1279.4 831.3L1303.5 843.1L1300.9 844.3z"/><path class="c5" d="M1274.2 834.2L1276.8 832.8L1300.9 844.3L1298.3 845.4z"/><path class="c4" d="M1268.9 836.8L1274.2 834.2L1298.3 845.4L1293 847.5z"/><path class="c3" d="M1266.3 838.1L1268.9 836.8L1293 847.5L1290.4 848.6z"/><path class="c2" d="M1263.7 839.3L1266.3 838.1L1290.4 848.6L1287.8 849.7z"/><path class="c1" d="M1258.4 841.6L1263.7 839.3L1287.8 849.7L1282.5 851.7z"/><path class="c0" d="M1129.8 873.5L1250.5 844.5L1258.4 841.6L1282.5 851.7L1274.6 854.3L1153.9 883.3z"/></g><g class="T"><path class="t104" d="M1463.6 723.2L1468.9 721.2"/><path class="t103" d="M1461 724.4L1466.3 722.1"/><path class="t102" d="M1458.4 725.8L1463.6 723.2"/><path class="t101" d="M1455.8 727.2L1461 724.4"/><path class="t100" d="M1453.1 728.7L1458.4 725.8"/><path class="t99" d="M1450.5 730.4L1455.8 727.2"/><path class="t97" d="M1447.9 732.4L1453.1 728.7"/><path class="t95" d="M1445.3 734.5L1450.5 730.4"/><path class="t93" d="M1442.6 736.8L1447.9 732.4"/><path class="t91" d="M1440 739L1445.3 734.5"/><path class="t89" d="M1437.4 741.2L1442.6 736.8"/><path class="t88" d="M1434.8 743.3L1440 739"/><path class="t86" d="M1432.1 745.5L1437.4 741.2"/><path class="t84" d="M1429.5 747.7L1434.8 743.3"/><path class="t82" d="M1426.9 749.9L1432.1 745.5"/><path class="t80" d="M1424.3 752.1L1429.5 747.7"/><path class="t78" d="M1421.6 754.2L1426.9 749.9"/><path class="t76" d="M1419 756.4L1424.3 752.1"/><path class="t74" d="M1416.4 758.5L1421.6 754.2"/><path class="t73" d="M1413.8 760.6L1419 756.4"/><path class="t71" d="M1411.1 762.8L1416.4 758.5"/><path class="t69" d="M1408.5 765L1413.8 760.6"/><path class="t67" d="M1405.9 767.2L1411.1 762.8"/><path class="t65" d="M1403.3 769.6L1408.5 765"/><path class="t63" d="M1400.6 772.1L1405.9 767.2"/><path class="t60" d="M1398 774.6L1403.3 769.6"/><path class="t58" d="M1395.4 777.1L1400.6 772.1"/><path class="t56" d="M1392.8 779.6L1398 774.6"/><path class="t54" d="M1390.1 782L1395.4 777.1"/><path class="t52" d="M1387.5 784.3L1392.8 779.6"/><path class="t50" d="M1384.9 786.6L1390.1 782"/><path class="t48" d="M1382.3 788.9L1387.5 784.3"/><path class="t46" d="M1379.6 791.2L1384.9 786.6"/><path class="t44" d="M1377 793.5L1382.3 788.9"/><path class="t42" d="M1374.4 795.7L1379.6 791.2"/><path class="t40" d="M1371.8 798.1L1377 793.5"/><path class="t37" d="M1369.1 800.5L1374.4 795.7"/><path class="t35" d="M1366.5 802.9L1371.8 798.1"/><path class="t33" d="M1363.9 805.3L1369.1 800.5"/><path class="t31" d="M1361.3 807.5L1366.5 802.9"/><path class="t29" d="M1358.6 809.7L1363.9 805.3"/><path class="t28" d="M1356 811.4L1358.6 809.7L1361.3 807.5"/><path class="t27" d="M1353.4 813L1358.6 809.7"/><path class="t26" d="M1350.8 814.6L1356 811.4"/><path class="t24" d="M1348.1 816.3L1353.4 813"/><path class="t23" d="M1345.5 817.9L1350.8 814.6"/><path class="t22" d="M1342.9 819.6L1348.1 816.3"/><path class="t20" d="M1340.3 821.3L1345.5 817.9"/><path class="t19" d="M1337.6 823.1L1342.9 819.6"/><path class="t18" d="M1335 825L1340.3 821.3"/><path class="t16" d="M1332.4 826.8L1337.6 823.1"/><path class="t15" d="M1329.8 828.5L1335 825"/><path class="t14" d="M1327.1 830.2L1332.4 826.8"/><path class="t12" d="M1324.5 831.8L1329.8 828.5"/><path class="t11" d="M1321.9 833.4L1327.1 830.2"/><path class="t10" d="M1319.3 835L1324.5 831.8"/><path class="t9" d="M1316.6 836.5L1321.9 833.4"/><path class="t8" d="M1314 837.9L1319.3 835"/><path class="t7" d="M1311.4 839.3L1316.6 836.5"/><path class="t6" d="M1306.1 841.9L1314 837.9"/><path class="t5" d="M1303.5 843.1L1308.8 840.6"/><path class="t4" d="M1298.3 845.4L1306.1 841.9"/><path class="t3" d="M1295.6 846.5L1300.9 844.3"/><path class="t2" d="M1290.4 848.6L1298.3 845.4"/><path class="t1" d="M1285.1 850.7L1293 847.5"/><path class="t0" d="M1153.9 883.3L1274.6 854.3L1287.8 849.7"/></g><g class="E"><path class="t104" d="M1468.9 721.2L1493 782.2"/><path class="t0" d="M1153.9 883.3L1178 893.1"/></g><g class="F"><path class="c104" d="M1463.6 723.2L1468.9 721.2L1493 782.2L1487.8 783.5z"/><path class="c103" d="M1461 724.4L1463.6 723.2L1487.8 783.5L1485.1 784.2z"/><path class="c102" d="M1458.4 725.8L1461 724.4L1485.1 784.2L1482.5 785z"/><path class="c101" d="M1455.8 727.2L1458.4 725.8L1482.5 785L1479.9 785.8z"/><path class="c100" d="M1453.1 728.7L1455.8 727.2L1479.9 785.8L1477.2 786.7z"/><path class="c99" d="M1450.5 730.4L1453.1 728.7L1477.2 786.7L1474.6 787.6z"/><path class="c97" d="M1447.9 732.4L1450.5 730.4L1474.6 787.6L1472 788.7z"/><path class="c95" d="M1445.3 734.5L1447.9 732.4L1472 788.7L1469.4 789.8z"/><path class="c93" d="M1442.6 736.8L1445.3 734.5L1469.4 789.8L1466.8 791z"/><path class="c91" d="M1440 739L1442.6 736.8L1466.8 791L1464.1 792.2z"/><path class="c89" d="M1437.4 741.2L1440 739L1464.1 792.2L1461.5 793.3z"/><path class="c88" d="M1434.8 743.3L1437.4 741.2L1461.5 793.3L1458.9 794.5z"/><path class="c86" d="M1432.1 745.5L1434.8 743.3L1458.9 794.5L1456.2 795.7z"/><path class="c84" d="M1429.5 747.7L1432.1 745.5L1456.2 795.7L1453.6 796.9z"/><path class="c82" d="M1426.9 749.9L1429.5 747.7L1453.6 796.9L1451 798.1z"/><path class="c80" d="M1424.3 752.1L1426.9 749.9L1451 798.1L1448.4 799.3z"/><path class="c78" d="M1421.6 754.2L1424.3 752.1L1448.4 799.3L1445.8 800.5z"/><path class="c76" d="M1419 756.4L1421.6 754.2L1445.8 800.5L1443.1 801.6z"/><path class="c74" d="M1416.4 758.5L1419 756.4L1443.1 801.6L1440.5 802.8z"/><path class="c73" d="M1413.8 760.6L1416.4 758.5L1440.5 802.8L1437.9 804z"/><path class="c71" d="M1411.1 762.8L1413.8 760.6L1437.9 804L1435.2 805.2z"/><path class="c69" d="M1408.5 765L1411.1 762.8L1435.2 805.2L1432.6 806.5z"/><path class="c67" d="M1405.9 767.2L1408.5 765L1432.6 806.5L1430 807.7z"/><path class="c65" d="M1403.3 769.6L1405.9 767.2L1430 807.7L1427.4 809z"/><path class="c63" d="M1400.6 772.1L1403.3 769.6L1427.4 809L1424.8 810.4z"/><path class="c60" d="M1398 774.6L1400.6 772.1L1424.8 810.4L1422.1 811.8z"/><path class="c58" d="M1395.4 777.1L1398 774.6L1422.1 811.8L1419.5 813.2z"/><path class="c56" d="M1392.8 779.6L1395.4 777.1L1419.5 813.2L1416.9 814.6z"/><path class="c54" d="M1390.1 782L1392.8 779.6L1416.9 814.6L1414.2 816z"/><path class="c52" d="M1387.5 784.3L1390.1 782L1414.2 816L1411.6 817.3z"/><path class="c50" d="M1384.9 786.6L1387.5 784.3L1411.6 817.3L1409 818.7z"/><path class="c48" d="M1382.3 788.9L1384.9 786.6L1409 818.7L1406.4 820z"/><path class="c46" d="M1379.6 791.2L1382.3 788.9L1406.4 820L1403.8 821.3z"/><path class="c44" d="M1377 793.5L1379.6 791.2L1403.8 821.3L1401.1 822.7z"/><path class="c42" d="M1374.4 795.7L1377 793.5L1401.1 822.7L1398.5 824z"/><path class="c40" d="M1371.8 798.1L1374.4 795.7L1398.5 824L1395.9 825.4z"/><path class="c37" d="M1369.1 800.5L1371.8 798.1L1395.9 825.4L1393.2 826.8z"/><path class="c35" d="M1366.5 802.9L1369.1 800.5L1393.2 826.8L1390.6 828.2z"/><path class="c33" d="M1363.9 805.3L1366.5 802.9L1390.6 828.2L1388 829.6z"/><path class="c31" d="M1361.3 807.5L1363.9 805.3L1388 829.6L1385.4 831z"/><path class="c29" d="M1358.6 809.7L1361.3 807.5L1385.4 831L1382.8 832.3z"/><path class="c28" d="M1356 811.4L1358.6 809.7L1382.8 832.3L1380.1 833.2z"/><path class="c27" d="M1353.4 813L1356 811.4L1380.1 833.2L1377.5 834.1z"/><path class="c26" d="M1350.8 814.6L1353.4 813L1377.5 834.1L1374.9 835z"/><path class="c24" d="M1348.1 816.3L1350.8 814.6L1374.9 835L1372.2 836z"/><path class="c23" d="M1345.5 817.9L1348.1 816.3L1372.2 836L1369.6 836.9z"/><path class="c22" d="M1342.9 819.6L1345.5 817.9L1369.6 836.9L1367 837.9z"/><path class="c20" d="M1340.3 821.3L1342.9 819.6L1367 837.9L1364.4 839z"/><path class="c19" d="M1337.6 823.1L1340.3 821.3L1364.4 839L1361.8 840.1z"/><path class="c18" d="M1335 825L1337.6 823.1L1361.8 840.1L1359.1 841.2z"/><path class="c16" d="M1332.4 826.8L1335 825L1359.1 841.2L1356.5 842.4z"/><path class="c15" d="M1329.8 828.5L1332.4 826.8L1356.5 842.4L1353.9 843.6z"/><path class="c14" d="M1327.1 830.2L1329.8 828.5L1353.9 843.6L1351.2 844.7z"/><path class="c12" d="M1324.5 831.8L1327.1 830.2L1351.2 844.7L1348.6 845.8z"/><path class="c11" d="M1321.9 833.4L1324.5 831.8L1348.6 845.8L1346 846.9z"/><path class="c10" d="M1319.3 835L1321.9 833.4L1346 846.9L1343.4 848z"/><path class="c9" d="M1316.6 836.5L1319.3 835L1343.4 848L1340.8 849.1z"/><path class="c8" d="M1314 837.9L1316.6 836.5L1340.8 849.1L1338.1 850.2z"/><path class="c7" d="M1311.4 839.3L1314 837.9L1338.1 850.2L1335.5 851.3z"/><path class="c6" d="M1306.1 841.9L1311.4 839.3L1335.5 851.3L1330.2 853.3z"/><path class="c5" d="M1303.5 843.1L1306.1 841.9L1330.2 853.3L1327.6 854.3z"/><path class="c4" d="M1298.3 845.4L1303.5 843.1L1327.6 854.3L1322.4 856.2z"/><path class="c3" d="M1295.6 846.5L1298.3 845.4L1322.4 856.2L1319.8 857.1z"/><path class="c2" d="M1290.4 848.6L1295.6 846.5L1319.8 857.1L1314.5 859z"/><path class="c1" d="M1285.1 850.7L1290.4 848.6L1314.5 859L1309.2 860.8z"/><path class="c0" d="M1153.9 883.3L1274.6 854.3L1285.1 850.7L1309.2 860.8L1298.8 864.2L1178 893.1z"/></g><g class="T"><path class="t43" d="M1490.4 782.8L1493 782.2"/><path class="t42" d="M1477.2 786.7L1490.4 782.8L1493 782.2"/><path class="t41" d="M1472 788.7L1479.9 785.8"/><path class="t40" d="M1469.4 789.8L1474.6 787.6"/><path class="t39" d="M1464.1 792.2L1472 788.7"/><path class="t38" d="M1461.5 793.3L1466.8 791"/><path class="t37" d="M1456.2 795.7L1464.1 792.2"/><path class="t36" d="M1453.6 796.9L1458.9 794.5"/><path class="t35" d="M1448.4 799.3L1456.2 795.7"/><path class="t34" d="M1445.8 800.5L1451 798.1"/><path class="t33" d="M1440.5 802.8L1448.4 799.3"/><path class="t32" d="M1437.9 804L1443.1 801.6"/><path class="t31" d="M1432.6 806.5L1440.5 802.8"/><path class="t30" d="M1430 807.7L1435.2 805.2"/><path class="t29" d="M1427.4 809L1432.6 806.5"/><path class="t28" d="M1424.8 810.4L1430 807.7"/><path class="t27" d="M1422.1 811.8L1427.4 809"/><path class="t26" d="M1419.5 813.2L1424.8 810.4"/><path class="t25" d="M1416.9 814.6L1422.1 811.8"/><path class="t24" d="M1411.6 817.3L1419.5 813.2"/><path class="t23" d="M1409 818.7L1414.2 816"/><path class="t22" d="M1406.4 820L1411.6 817.3"/><path class="t21" d="M1403.8 821.3L1409 818.7"/><path class="t20" d="M1401.1 822.7L1406.4 820"/><path class="t19" d="M1398.5 824L1403.8 821.3"/><path class="t18" d="M1395.9 825.4L1401.1 822.7"/><path class="t17" d="M1393.2 826.8L1398.5 824"/><path class="t16" d="M1388 829.6L1395.9 825.4"/><path class="t15" d="M1385.4 831L1390.6 828.2"/><path class="t14" d="M1382.8 832.3L1388 829.6"/><path class="t13" d="M1374.9 835L1382.8 832.3L1385.4 831"/><path class="t12" d="M1367 837.9L1377.5 834.1"/><path class="t11" d="M1364.4 839L1369.6 836.9"/><path class="t10" d="M1359.1 841.2L1367 837.9"/><path class="t9" d="M1353.9 843.6L1361.8 840.1"/><path class="t8" d="M1351.2 844.7L1356.5 842.4"/><path class="t7" d="M1346 846.9L1353.9 843.6"/><path class="t6" d="M1340.8 849.1L1348.6 845.8"/><path class="t5" d="M1335.5 851.3L1343.4 848"/><path class="t4" d="M1330.2 853.3L1338.1 850.2"/><path class="t3" d="M1325 855.3L1332.9 852.3"/><path class="t2" d="M1317.1 858L1327.6 854.3"/><path class="t1" d="M1309.2 860.8L1319.8 857.1"/><path class="t0" d="M1178 893.1L1298.8 864.2L1311.9 859.9"/></g><g class="E"><path class="t43" d="M1493 782.2L1517.1 813"/><path class="t0" d="M1178 893.1L1202.1 903"/></g><g class="F"><path class="c43" d="M1490.4 782.8L1493 782.2L1517.1 813L1514.5 813.5z"/><path class="c42" d="M1477.2 786.7L1490.4 782.8L1514.5 813.5L1501.3 816.7z"/><path class="c41" d="M1472 788.7L1477.2 786.7L1501.3 816.7L1496.1 818.2z"/><path class="c40" d="M1469.4 789.8L1472 788.7L1496.1 818.2L1493.5 818.9z"/><path class="c39" d="M1464.1 792.2L1469.4 789.8L1493.5 818.9L1488.2 820.6z"/><path class="c38" d="M1461.5 793.3L1464.1 792.2L1488.2 820.6L1485.6 821.4z"/><path class="c37" d="M1456.2 795.7L1461.5 793.3L1485.6 821.4L1480.3 823z"/><path class="c36" d="M1453.6 796.9L1456.2 795.7L1480.3 823L1477.7 823.8z"/><path class="c35" d="M1448.4 799.3L1453.6 796.9L1477.7 823.8L1472.5 825.5z"/><path class="c34" d="M1445.8 800.5L1448.4 799.3L1472.5 825.5L1469.8 826.3z"/><path class="c33" d="M1440.5 802.8L1445.8 800.5L1469.8 826.3L1464.6 828z"/><path class="c32" d="M1437.9 804L1440.5 802.8L1464.6 828L1462 828.8z"/><path class="c31" d="M1432.6 806.5L1437.9 804L1462 828.8L1456.7 830.5z"/><path class="c30" d="M1430 807.7L1432.6 806.5L1456.7 830.5L1454.1 831.4z"/><path class="c29" d="M1427.4 809L1430 807.7L1454.1 831.4L1451.5 832.3z"/><path class="c28" d="M1424.8 810.4L1427.4 809L1451.5 832.3L1448.8 833.2z"/><path class="c27" d="M1422.1 811.8L1424.8 810.4L1448.8 833.2L1446.2 834.1z"/><path class="c26" d="M1419.5 813.2L1422.1 811.8L1446.2 834.1L1443.6 835.1z"/><path class="c25" d="M1416.9 814.6L1419.5 813.2L1443.6 835.1L1441 836z"/><path class="c24" d="M1411.6 817.3L1416.9 814.6L1441 836L1435.7 837.9z"/><path class="c23" d="M1409 818.7L1411.6 817.3L1435.7 837.9L1433.1 838.8z"/><path class="c22" d="M1406.4 820L1409 818.7L1433.1 838.8L1430.5 839.7z"/><path class="c21" d="M1403.8 821.3L1406.4 820L1430.5 839.7L1427.8 840.6z"/><path class="c20" d="M1401.1 822.7L1403.8 821.3L1427.8 840.6L1425.2 841.6z"/><path class="c19" d="M1398.5 824L1401.1 822.7L1425.2 841.6L1422.6 842.5z"/><path class="c18" d="M1395.9 825.4L1398.5 824L1422.6 842.5L1420 843.5z"/><path class="c17" d="M1393.2 826.8L1395.9 825.4L1420 843.5L1417.3 844.4z"/><path class="c16" d="M1388 829.6L1393.2 826.8L1417.3 844.4L1412.1 846.4z"/><path class="c15" d="M1385.4 831L1388 829.6L1412.1 846.4L1409.5 847.4z"/><path class="c14" d="M1382.8 832.3L1385.4 831L1409.5 847.4L1406.8 848.3z"/><path class="c13" d="M1374.9 835L1382.8 832.3L1406.8 848.3L1399 850.2z"/><path class="c12" d="M1367 837.9L1374.9 835L1399 850.2L1391.1 852.3z"/><path class="c11" d="M1364.4 839L1367 837.9L1391.1 852.3L1388.5 853.1z"/><path class="c10" d="M1359.1 841.2L1364.4 839L1388.5 853.1L1383.2 854.7z"/><path class="c9" d="M1353.9 843.6L1359.1 841.2L1383.2 854.7L1378 856.5z"/><path class="c8" d="M1351.2 844.7L1353.9 843.6L1378 856.5L1375.3 857.3z"/><path class="c7" d="M1346 846.9L1351.2 844.7L1375.3 857.3L1370.1 859z"/><path class="c6" d="M1340.8 849.1L1346 846.9L1370.1 859L1364.8 860.8z"/><path class="c5" d="M1335.5 851.3L1340.8 849.1L1364.8 860.8L1359.6 862.5z"/><path class="c4" d="M1330.2 853.3L1335.5 851.3L1359.6 862.5L1354.3 864.2z"/><path class="c3" d="M1325 855.3L1330.2 853.3L1354.3 864.2L1349.1 865.9z"/><path class="c2" d="M1317.1 858L1325 855.3L1349.1 865.9L1341.2 868.4z"/><path class="c1" d="M1309.2 860.8L1317.1 858L1341.2 868.4L1333.3 870.9z"/><path class="c0" d="M1178 893.1L1298.8 864.2L1309.2 860.8L1333.3 870.9L1202.1 903z"/></g><g class="T"><path class="t17" d="M1490.8 819.8L1517.1 813"/><path class="t16" d="M1480.3 823L1493.5 818.9"/><path class="t15" d="M1469.8 826.3L1483 822.2"/><path class="t14" d="M1459.3 829.6L1472.5 825.5"/><path class="t13" d="M1451.5 832.3L1462 828.8"/><path class="t12" d="M1443.6 835.1L1454.1 831.4"/><path class="t11" d="M1435.7 837.9L1446.2 834.1"/><path class="t10" d="M1427.8 840.6L1438.3 836.9"/><path class="t9" d="M1422.6 842.5L1430.5 839.7"/><path class="t8" d="M1414.7 845.4L1425.2 841.6"/><path class="t7" d="M1409.5 847.4L1417.3 844.4"/><path class="t6" d="M1385.8 853.9L1406.8 848.3L1412.1 846.4"/><path class="t5" d="M1375.3 857.3L1388.5 853.1"/><path class="t4" d="M1367.5 859.9L1378 856.5"/><path class="t3" d="M1357 863.4L1370.1 859"/><path class="t2" d="M1346.5 866.7L1359.6 862.5"/><path class="t1" d="M1336 870L1349.1 865.9"/><path class="t0" d="M1202.1 903L1325.5 873.3L1338.6 869.2"/></g><g class="E"><path class="t17" d="M1517.1 813L1541.2 831.4"/><path class="t0" d="M1202.1 903L1226.2 912.8"/></g><g class="F"><path class="c17" d="M1490.8 819.8L1517.1 813L1541.2 831.4L1515 837.7z"/><path class="c16" d="M1480.3 823L1490.8 819.8L1515 837.7L1504.5 840.4z"/><path class="c15" d="M1469.8 826.3L1480.3 823L1504.5 840.4L1494 843.2z"/><path class="c14" d="M1459.3 829.6L1469.8 826.3L1494 843.2L1483.5 846z"/><path class="c13" d="M1451.5 832.3L1459.3 829.6L1483.5 846L1475.6 848.1z"/><path class="c12" d="M1443.6 835.1L1451.5 832.3L1475.6 848.1L1467.7 850.4z"/><path class="c11" d="M1435.7 837.9L1443.6 835.1L1467.7 850.4L1459.8 852.6z"/><path class="c10" d="M1427.8 840.6L1435.7 837.9L1459.8 852.6L1452 854.9z"/><path class="c9" d="M1422.6 842.5L1427.8 840.6L1452 854.9L1446.7 856.4z"/><path class="c8" d="M1414.7 845.4L1422.6 842.5L1446.7 856.4L1438.8 858.7z"/><path class="c7" d="M1409.5 847.4L1414.7 845.4L1438.8 858.7L1433.6 860.3z"/><path class="c6" d="M1385.8 853.9L1406.8 848.3L1409.5 847.4L1433.6 860.3L1410 866z"/><path class="c5" d="M1375.3 857.3L1385.8 853.9L1410 866L1399.5 868.8z"/><path class="c4" d="M1367.5 859.9L1375.3 857.3L1399.5 868.8L1391.6 871z"/><path class="c3" d="M1357 863.4L1367.5 859.9L1391.6 871L1381.1 874z"/><path class="c2" d="M1346.5 866.7L1357 863.4L1381.1 874L1370.6 877.1z"/><path class="c1" d="M1336 870L1346.5 866.7L1370.6 877.1L1360.1 880.1z"/><path class="c0" d="M1202.1 903L1325.5 873.3L1336 870L1360.1 880.1L1226.2 912.8z"/></g><g class="T"><path class="t7" d="M1504.5 840.4L1541.2 831.4"/><path class="t6" d="M1475.6 848.1L1507.1 839.7"/><path class="t5" d="M1459.8 852.6L1478.2 847.4"/><path class="t4" d="M1441.5 858L1462.5 851.9"/><path class="t3" d="M1399.5 868.8L1444.1 857.2"/><path class="t2" d="M1381.1 874L1402.1 868.1"/><path class="t1" d="M1365.3 878.5L1383.7 873.3"/><path class="t0" d="M1226.2 912.8L1352.2 882.4L1368 877.8"/></g><g class="E"><path class="t7" d="M1541.2 831.4L1565.3 844.8"/><path class="t0" d="M1226.2 912.8L1250.3 922.6"/></g><g class="F"><path class="c7" d="M1504.5 840.4L1541.2 831.4L1565.3 844.8L1528.5 853.5z"/><path class="c6" d="M1475.6 848.1L1504.5 840.4L1528.5 853.5L1499.7 860.7z"/><path class="c5" d="M1459.8 852.6L1475.6 848.1L1499.7 860.7L1483.9 864.8z"/><path class="c4" d="M1441.5 858L1459.8 852.6L1483.9 864.8L1465.5 869.5z"/><path class="c3" d="M1399.5 868.8L1441.5 858L1465.5 869.5L1423.5 879.6z"/><path class="c2" d="M1381.1 874L1399.5 868.8L1423.5 879.6L1405.2 884.4z"/><path class="c1" d="M1365.3 878.5L1381.1 874L1405.2 884.4L1389.4 888.6z"/><path class="c0" d="M1226.2 912.8L1352.2 882.4L1365.3 878.5L1389.4 888.6L1250.3 922.6z"/></g><g class="T"><path class="t3" d="M1525.9 854.2L1565.3 844.8"/><path class="t2" d="M1470.8 868.2L1528.5 853.5"/><path class="t1" d="M1394.7 887.2L1473.4 867.5"/><path class="t0" d="M1250.3 922.6L1397.3 886.5"/></g><g class="E"><path class="t3" d="M1565.3 844.8L1589.4 856.1"/><path class="t0" d="M1250.3 922.6L1274.4 932.5"/></g><g class="F"><path class="c3" d="M1525.9 854.2L1565.3 844.8L1589.4 856.1L1550 865.4z"/><path class="c2" d="M1470.8 868.2L1525.9 854.2L1550 865.4L1494.9 878.9z"/><path class="c1" d="M1394.7 887.2L1470.8 868.2L1494.9 878.9L1418.8 897.3z"/><path class="c0" d="M1250.3 922.6L1394.7 887.2L1418.8 897.3L1274.4 932.5z"/></g><g class="T"><path class="t1" d="M1500.1 877.6L1589.4 856.1"/><path class="t0" d="M1466 885.8L1502.8 876.9"/><path class="t1" d="M1437.1 892.7L1468.6 885.2"/><path class="t0" d="M1274.4 932.5L1439.8 892"/></g><g class="E"><path class="t1" d="M1589.4 856.1L1613.5 866.5"/><path class="t0" d="M1274.4 932.5L1298.5 942.3"/></g><g class="F"><path class="c1" d="M1500.1 877.6L1589.4 856.1L1613.5 866.5L1524.2 887.9z"/><path class="c0" d="M1466 885.8L1500.1 877.6L1524.2 887.9L1490.1 896z"/><path class="c1" d="M1437.1 892.7L1466 885.8L1490.1 896L1461.2 902.8z"/><path class="c0" d="M1274.4 932.5L1437.1 892.7L1461.2 902.8L1298.5 942.3z"/></g><g class="T"><path class="t0" d="M1298.5 942.3L1613.5 866.5"/></g><g class="E"><path class="t0" d="M1613.5 866.5L1637.6 876.5"/><path class="t0" d="M1298.5 942.3L1322.6 952.1"/></g><g class="F"><path class="c0" d="M1298.5 942.3L1613.5 866.5L1637.6 876.5L1322.6 952.1z"/></g><g class="T"><path class="t0" d="M1322.6 952.1L1637.6 876.5"/></g><g class="E"><path class="t0" d="M1637.6 876.5L1661.7 886.5"/><path class="t0" d="M1322.6 952.1L1346.7 961.9"/></g><g class="F"><path class="c0" d="M1322.6 952.1L1637.6 876.5L1661.7 886.5L1346.7 961.9z"/></g><g class="T"><path class="t0" d="M1346.7 961.9L1661.7 886.5"/></g><g class="E"><path class="t0" d="M1661.7 886.5L1685.8 896.3"/><path class="t0" d="M1346.7 961.9L1370.8 971.8"/></g><g class="F"><path class="c0" d="M1346.7 961.9L1661.7 886.5L1685.8 896.3L1370.8 971.8z"/></g><g class="T"><path class="t0" d="M1370.8 971.8L1685.8 896.3"/></g></g>
<path d="M1129.8 661.9L1129.8 878" stroke="#262626" stroke-width="3.4" fill="none"/>
<path d="M1130.3 873.7L1118.3 869.7M1130.3 794.1L1118.3 790.1M1130.3 714.6L1118.3 710.6M1251.3 925.4L1239.8 927.4M1527.3 936.8L1539.3 940.7M1683.8 899.1L1697.8 902.8M1362.3 976L1381.3 976M1130.3 876.8L1118.3 876.8" stroke="#262626" stroke-width="3.2" fill="none"/>
<g font-family="'Liberation Serif','DejaVu Serif',serif" font-size="61" fill="#262626" stroke="#fff" stroke-width="1.1"><text x="1110.1" y="886.7" text-anchor="end" letter-spacing="-1.1">0</text><text x="1110.1" y="807.1" text-anchor="end" letter-spacing="-1.1">500</text><text x="1110.1" y="727.6" text-anchor="end" letter-spacing="-1.1">1000</text><text x="1105.8" y="935" text-anchor="end">0</text><text x="1227.3" y="984.1" text-anchor="end" letter-spacing="-2.2">0.5</text><text x="1346.8" y="1033.3" text-anchor="end">1</text><text x="1389.8" y="1037.3">0</text><text x="1547.3" y="999.6">1</text><text x="1704.8" y="961.9">2</text><text x="1133.8" y="1086.5" font-style="italic" font-size="62">ζ</text><text x="1574.8" y="1087.5" font-style="italic" font-size="62">t</text><text x="905" y="735"><tspan font-style="italic">e</tspan><tspan font-size="49" dx="0" dy="27" letter-spacing="-1.2">22</tspan></text></g></g>
<g><path d="M262.3 1450.3L577.3 1374.9M382.8 1499.5L697.8 1424M419.8 1412.6L660.8 1510.9M577.3 1374.9L818.3 1473.2M419.8 1412.6L419.8 1198M577.3 1374.9L577.3 1160.3M697.8 1424L697.8 1209.5M818.3 1473.2L818.3 1258.6M262.3 1443.2L577.3 1367.8M577.3 1367.8L818.3 1466.1M262.3 1377.6L577.3 1302.2M577.3 1302.2L818.3 1400.5M262.3 1312L577.3 1236.6M577.3 1236.6L818.3 1334.9M262.3 1246.5L577.3 1171.1M577.3 1171.1L818.3 1269.4" stroke="#e0e0e0" stroke-width="3" fill="none"/>
<path d="M262.3 1450.3L495.9 1545.6M511.1 1546.7L818.3 1473.2" stroke="#262626" stroke-width="3.2" fill="none"/>
<clipPath id="cp4"><rect x="257.8" y="1156.8" width="565" height="394.3"/></clipPath><g clip-path="url(#cp4)"><g class="T"><path class="t254" d="M574.7 1161.9L577.3 1160.3"/><path class="t253" d="M572 1163.7L574.7 1161.9L577.3 1160.3"/><path class="t251" d="M569.4 1165.8L574.7 1161.9"/><path class="t249" d="M566.8 1168.2L572 1163.7"/><path class="t247" d="M564.2 1170.7L569.4 1165.8"/><path class="t244" d="M561.5 1173.4L566.8 1168.2"/><path class="t242" d="M558.9 1176.4L561.5 1173.4L564.2 1170.7"/><path class="t238" d="M556.3 1179.9L558.9 1176.4L561.5 1173.4"/><path class="t234" d="M553.7 1183.8L558.9 1176.4"/><path class="t230" d="M551 1187.9L556.3 1179.9"/><path class="t226" d="M548.4 1192.1L553.7 1183.8"/><path class="t222" d="M545.8 1196.2L551 1187.9"/><path class="t218" d="M543.2 1200.1L548.4 1192.1"/><path class="t214" d="M540.5 1204L545.8 1196.2"/><path class="t210" d="M537.9 1208L543.2 1200.1"/><path class="t206" d="M535.3 1212.1L540.5 1204"/><path class="t201" d="M532.7 1216.4L537.9 1208"/><path class="t197" d="M530 1221L535.3 1212.1"/><path class="t191" d="M527.4 1226.1L532.7 1216.4"/><path class="t185" d="M524.8 1231.6L530 1221"/><path class="t179" d="M522.2 1237.4L527.4 1226.1"/><path class="t173" d="M519.5 1243.3L524.8 1231.6"/><path class="t167" d="M516.9 1249.1L522.2 1237.4"/><path class="t161" d="M514.3 1254.7L519.5 1243.3"/><path class="t155" d="M511.7 1260L516.9 1249.1"/><path class="t150" d="M509.1 1265.2L514.3 1254.7"/><path class="t144" d="M506.4 1270.4L511.7 1260"/><path class="t139" d="M503.8 1275.5L509.1 1265.2"/><path class="t134" d="M501.2 1280.6L506.4 1270.4"/><path class="t128" d="M498.6 1285.8L503.8 1275.5"/><path class="t123" d="M495.9 1291L501.2 1280.6"/><path class="t117" d="M493.3 1296.3L498.6 1285.8"/><path class="t112" d="M490.7 1301.7L495.9 1291"/><path class="t106" d="M488.1 1306.9L493.3 1296.3"/><path class="t101" d="M485.4 1312.2L490.7 1301.7"/><path class="t95" d="M482.8 1317.2L488.1 1306.9"/><path class="t90" d="M480.2 1322.3L485.4 1312.2"/><path class="t85" d="M477.6 1327.2L482.8 1317.2"/><path class="t80" d="M474.9 1332.2L480.2 1322.3"/><path class="t75" d="M472.3 1337L477.6 1327.2"/><path class="t70" d="M469.7 1341.6L474.9 1332.2"/><path class="t65" d="M467.1 1346L472.3 1337"/><path class="t61" d="M464.4 1350.2L469.7 1341.6"/><path class="t57" d="M461.8 1354.3L467.1 1346"/><path class="t53" d="M459.2 1358.3L464.4 1350.2"/><path class="t49" d="M456.6 1362.1L461.8 1354.3"/><path class="t46" d="M453.9 1365.8L459.2 1358.3"/><path class="t42" d="M451.3 1369.2L456.6 1362.1"/><path class="t39" d="M448.7 1372.4L453.9 1365.8"/><path class="t36" d="M446.1 1375.6L451.3 1369.2"/><path class="t33" d="M443.4 1378.6L448.7 1372.4"/><path class="t31" d="M440.8 1381.4L446.1 1375.6"/><path class="t28" d="M438.2 1384.1L443.4 1378.6"/><path class="t26" d="M435.6 1386.6L440.8 1381.4"/><path class="t24" d="M432.9 1389L438.2 1384.1"/><path class="t22" d="M430.3 1391.3L435.6 1386.6"/><path class="t20" d="M427.7 1393.5L432.9 1389"/><path class="t18" d="M425 1395.6L430.3 1391.3"/><path class="t17" d="M422.4 1397.6L427.7 1393.5"/><path class="t15" d="M419.8 1399.5L425 1395.6"/><path class="t14" d="M417.2 1401.4L422.4 1397.6"/><path class="t12" d="M414.6 1403.2L419.8 1399.5"/><path class="t11" d="M411.9 1404.9L417.2 1401.4"/><path class="t10" d="M409.3 1406.6L414.6 1403.2"/><path class="t9" d="M406.7 1408.2L411.9 1404.9"/><path class="t8" d="M404.1 1409.6L409.3 1406.6"/><path class="t7" d="M401.4 1411L406.7 1408.2"/><path class="t6" d="M398.8 1412.3L404.1 1409.6"/><path class="t5" d="M396.2 1413.7L401.4 1411"/><path class="t4" d="M393.6 1415L398.8 1412.3"/><path class="t3" d="M388.3 1417.5L396.2 1413.7"/><path class="t2" d="M346.3 1427.7L380.4 1420.1L385.7 1418.5L390.9 1416.3"/><path class="t3" d="M320.1 1433.2L348.9 1427.2"/><path class="t4" d="M304.3 1436.1L322.7 1432.6"/><path class="t5" d="M291.2 1438.5L306.9 1435.7"/><path class="t6" d="M278.1 1440.7L293.8 1438"/><path class="t7" d="M267.6 1442.4L280.7 1440.3"/><path class="t8" d="M262.3 1443.2L270.2 1442"/></g><g class="E"><path class="t254" d="M577.3 1160.3L601.4 1292.6"/><path class="t8" d="M262.3 1443.2L286.4 1453"/></g><g class="F"><path class="c254" d="M574.7 1161.9L577.3 1160.3L601.4 1292.6L598.8 1293.2z"/><path class="c253" d="M572 1163.7L574.7 1161.9L598.8 1293.2L596.2 1294z"/><path class="c251" d="M569.4 1165.8L572 1163.7L596.2 1294L593.5 1294.9z"/><path class="c249" d="M566.8 1168.2L569.4 1165.8L593.5 1294.9L590.9 1295.9z"/><path class="c247" d="M564.2 1170.7L566.8 1168.2L590.9 1295.9L588.3 1297z"/><path class="c244" d="M561.5 1173.4L564.2 1170.7L588.3 1297L585.7 1298.2z"/><path class="c242" d="M558.9 1176.4L561.5 1173.4L585.7 1298.2L583 1299.5z"/><path class="c238" d="M556.3 1179.9L558.9 1176.4L583 1299.5L580.4 1301z"/><path class="c234" d="M553.7 1183.8L556.3 1179.9L580.4 1301L577.8 1302.7z"/><path class="c230" d="M551 1187.9L553.7 1183.8L577.8 1302.7L575.2 1304.5z"/><path class="c226" d="M548.4 1192.1L551 1187.9L575.2 1304.5L572.5 1306.3z"/><path class="c222" d="M545.8 1196.2L548.4 1192.1L572.5 1306.3L569.9 1308.1z"/><path class="c218" d="M543.2 1200.1L545.8 1196.2L569.9 1308.1L567.3 1309.9z"/><path class="c214" d="M540.5 1204L543.2 1200.1L567.3 1309.9L564.7 1311.6z"/><path class="c210" d="M537.9 1208L540.5 1204L564.7 1311.6L562 1313.5z"/><path class="c206" d="M535.3 1212.1L537.9 1208L562 1313.5L559.4 1315.3z"/><path class="c201" d="M532.7 1216.4L535.3 1212.1L559.4 1315.3L556.8 1317.3z"/><path class="c197" d="M530 1221L532.7 1216.4L556.8 1317.3L554.2 1319.4z"/><path class="c191" d="M527.4 1226.1L530 1221L554.2 1319.4L551.5 1321.7z"/><path class="c185" d="M524.8 1231.6L527.4 1226.1L551.5 1321.7L548.9 1324.2z"/><path class="c179" d="M522.2 1237.4L524.8 1231.6L548.9 1324.2L546.3 1326.9z"/><path class="c173" d="M519.5 1243.3L522.2 1237.4L546.3 1326.9L543.7 1329.7z"/><path class="c167" d="M516.9 1249.1L519.5 1243.3L543.7 1329.7L541 1332.4z"/><path class="c161" d="M514.3 1254.7L516.9 1249.1L541 1332.4L538.4 1335z"/><path class="c155" d="M511.7 1260L514.3 1254.7L538.4 1335L535.8 1337.6z"/><path class="c150" d="M509.1 1265.2L511.7 1260L535.8 1337.6L533.2 1340.1z"/><path class="c144" d="M506.4 1270.4L509.1 1265.2L533.2 1340.1L530.5 1342.6z"/><path class="c139" d="M503.8 1275.5L506.4 1270.4L530.5 1342.6L527.9 1345z"/><path class="c134" d="M501.2 1280.6L503.8 1275.5L527.9 1345L525.3 1347.5z"/><path class="c128" d="M498.6 1285.8L501.2 1280.6L525.3 1347.5L522.7 1350.1z"/><path class="c123" d="M495.9 1291L498.6 1285.8L522.7 1350.1L520 1352.7z"/><path class="c117" d="M493.3 1296.3L495.9 1291L520 1352.7L517.4 1355.3z"/><path class="c112" d="M490.7 1301.7L493.3 1296.3L517.4 1355.3L514.8 1358z"/><path class="c106" d="M488.1 1306.9L490.7 1301.7L514.8 1358L512.2 1360.6z"/><path class="c101" d="M485.4 1312.2L488.1 1306.9L512.2 1360.6L509.5 1363.3z"/><path class="c95" d="M482.8 1317.2L485.4 1312.2L509.5 1363.3L506.9 1365.9z"/><path class="c90" d="M480.2 1322.3L482.8 1317.2L506.9 1365.9L504.3 1368.4z"/><path class="c85" d="M477.6 1327.2L480.2 1322.3L504.3 1368.4L501.7 1371z"/><path class="c80" d="M474.9 1332.2L477.6 1327.2L501.7 1371L499 1373.6z"/><path class="c75" d="M472.3 1337L474.9 1332.2L499 1373.6L496.4 1376.1z"/><path class="c70" d="M469.7 1341.6L472.3 1337L496.4 1376.1L493.8 1378.5z"/><path class="c65" d="M467.1 1346L469.7 1341.6L493.8 1378.5L491.2 1380.9z"/><path class="c61" d="M464.4 1350.2L467.1 1346L491.2 1380.9L488.5 1382.8z"/><path class="c57" d="M461.8 1354.3L464.4 1350.2L488.5 1382.8L485.9 1384.7z"/><path class="c53" d="M459.2 1358.3L461.8 1354.3L485.9 1384.7L483.3 1386.7z"/><path class="c49" d="M456.6 1362.1L459.2 1358.3L483.3 1386.7L480.7 1388.6z"/><path class="c46" d="M453.9 1365.8L456.6 1362.1L480.7 1388.6L478 1390.4z"/><path class="c42" d="M451.3 1369.2L453.9 1365.8L478 1390.4L475.4 1392.3z"/><path class="c39" d="M448.7 1372.4L451.3 1369.2L475.4 1392.3L472.8 1394z"/><path class="c36" d="M446.1 1375.6L448.7 1372.4L472.8 1394L470.2 1395.8z"/><path class="c33" d="M443.4 1378.6L446.1 1375.6L470.2 1395.8L467.5 1397.5z"/><path class="c31" d="M440.8 1381.4L443.4 1378.6L467.5 1397.5L464.9 1399.3z"/><path class="c28" d="M438.2 1384.1L440.8 1381.4L464.9 1399.3L462.3 1400.9z"/><path class="c26" d="M435.6 1386.6L438.2 1384.1L462.3 1400.9L459.7 1402.5z"/><path class="c24" d="M432.9 1389L435.6 1386.6L459.7 1402.5L457 1404.1z"/><path class="c22" d="M430.3 1391.3L432.9 1389L457 1404.1L454.4 1405.6z"/><path class="c20" d="M427.7 1393.5L430.3 1391.3L454.4 1405.6L451.8 1407.1z"/><path class="c18" d="M425 1395.6L427.7 1393.5L451.8 1407.1L449.1 1408.6z"/><path class="c17" d="M422.4 1397.6L425 1395.6L449.1 1408.6L446.5 1410z"/><path class="c15" d="M419.8 1399.5L422.4 1397.6L446.5 1410L443.9 1411.4z"/><path class="c14" d="M417.2 1401.4L419.8 1399.5L443.9 1411.4L441.3 1412.8z"/><path class="c12" d="M414.6 1403.2L417.2 1401.4L441.3 1412.8L438.7 1414.2z"/><path class="c11" d="M411.9 1404.9L414.6 1403.2L438.7 1414.2L436 1415.5z"/><path class="c10" d="M409.3 1406.6L411.9 1404.9L436 1415.5L433.4 1416.9z"/><path class="c9" d="M406.7 1408.2L409.3 1406.6L433.4 1416.9L430.8 1418.1z"/><path class="c8" d="M404.1 1409.6L406.7 1408.2L430.8 1418.1L428.2 1419.3z"/><path class="c7" d="M401.4 1411L404.1 1409.6L428.2 1419.3L425.5 1420.5z"/><path class="c6" d="M398.8 1412.3L401.4 1411L425.5 1420.5L422.9 1421.7z"/><path class="c5" d="M396.2 1413.7L398.8 1412.3L422.9 1421.7L420.3 1422.9z"/><path class="c4" d="M393.6 1415L396.2 1413.7L420.3 1422.9L417.7 1424.1z"/><path class="c3" d="M388.3 1417.5L393.6 1415L417.7 1424.1L412.4 1426.3z"/><path class="c2" d="M346.3 1427.7L380.4 1420.1L385.7 1418.5L388.3 1417.5L412.4 1426.3L407.2 1428.2L370.4 1437.1z"/><path class="c3" d="M320.1 1433.2L346.3 1427.7L370.4 1437.1L344.2 1442.6z"/><path class="c4" d="M304.3 1436.1L320.1 1433.2L344.2 1442.6L328.4 1445.7z"/><path class="c5" d="M291.2 1438.5L304.3 1436.1L328.4 1445.7L315.3 1448.1z"/><path class="c6" d="M278.1 1440.7L291.2 1438.5L315.3 1448.1L302.2 1450.4z"/><path class="c7" d="M267.6 1442.4L278.1 1440.7L302.2 1450.4L291.7 1452.2z"/><path class="c8" d="M262.3 1443.2L267.6 1442.4L291.7 1452.2L286.4 1453z"/></g><g class="T"><path class="t109" d="M593.5 1294.9L598.8 1293.2L601.4 1292.6"/><path class="t108" d="M588.3 1297L596.2 1294"/><path class="t107" d="M585.7 1298.2L590.9 1295.9"/><path class="t106" d="M583 1299.5L588.3 1297"/><path class="t105" d="M580.4 1301L585.7 1298.2"/><path class="t104" d="M577.8 1302.7L583 1299.5"/><path class="t103" d="M575.2 1304.5L580.4 1301"/><path class="t101" d="M572.5 1306.3L577.8 1302.7"/><path class="t100" d="M569.9 1308.1L575.2 1304.5"/><path class="t99" d="M567.3 1309.9L572.5 1306.3"/><path class="t97" d="M564.7 1311.6L569.9 1308.1"/><path class="t96" d="M562 1313.5L567.3 1309.9"/><path class="t94" d="M559.4 1315.3L564.7 1311.6"/><path class="t93" d="M556.8 1317.3L562 1313.5"/><path class="t91" d="M554.2 1319.4L559.4 1315.3"/><path class="t89" d="M551.5 1321.7L556.8 1317.3"/><path class="t87" d="M548.9 1324.2L554.2 1319.4"/><path class="t84" d="M546.3 1326.9L551.5 1321.7"/><path class="t82" d="M543.7 1329.7L548.9 1324.2"/><path class="t79" d="M541 1332.4L546.3 1326.9"/><path class="t77" d="M538.4 1335L543.7 1329.7"/><path class="t74" d="M535.8 1337.6L541 1332.4"/><path class="t72" d="M533.2 1340.1L538.4 1335"/><path class="t70" d="M530.5 1342.6L535.8 1337.6"/><path class="t68" d="M527.9 1345L533.2 1340.1"/><path class="t66" d="M525.3 1347.5L530.5 1342.6"/><path class="t63" d="M522.7 1350.1L527.9 1345"/><path class="t61" d="M520 1352.7L525.3 1347.5"/><path class="t59" d="M517.4 1355.3L522.7 1350.1"/><path class="t56" d="M514.8 1358L520 1352.7"/><path class="t54" d="M512.2 1360.6L517.4 1355.3"/><path class="t51" d="M509.5 1363.3L514.8 1358"/><path class="t49" d="M506.9 1365.9L512.2 1360.6"/><path class="t47" d="M504.3 1368.4L509.5 1363.3"/><path class="t44" d="M501.7 1371L506.9 1365.9"/><path class="t42" d="M499 1373.6L504.3 1368.4"/><path class="t40" d="M496.4 1376.1L501.7 1371"/><path class="t38" d="M493.8 1378.5L499 1373.6"/><path class="t36" d="M491.2 1380.9L496.4 1376.1"/><path class="t34" d="M488.5 1382.8L491.2 1380.9L493.8 1378.5"/><path class="t32" d="M485.9 1384.7L491.2 1380.9"/><path class="t31" d="M483.3 1386.7L488.5 1382.8"/><path class="t29" d="M480.7 1388.6L485.9 1384.7"/><path class="t28" d="M478 1390.4L483.3 1386.7"/><path class="t27" d="M475.4 1392.3L480.7 1388.6"/><path class="t25" d="M472.8 1394L478 1390.4"/><path class="t24" d="M470.2 1395.8L475.4 1392.3"/><path class="t22" d="M467.5 1397.5L472.8 1394"/><path class="t21" d="M464.9 1399.3L470.2 1395.8"/><path class="t20" d="M462.3 1400.9L467.5 1397.5"/><path class="t19" d="M459.7 1402.5L464.9 1399.3"/><path class="t18" d="M457 1404.1L462.3 1400.9"/><path class="t17" d="M454.4 1405.6L459.7 1402.5"/><path class="t16" d="M451.8 1407.1L457 1404.1"/><path class="t15" d="M449.1 1408.6L454.4 1405.6"/><path class="t14" d="M446.5 1410L451.8 1407.1"/><path class="t13" d="M443.9 1411.4L449.1 1408.6"/><path class="t12" d="M441.3 1412.8L446.5 1410"/><path class="t11" d="M438.7 1414.2L443.9 1411.4"/><path class="t10" d="M436 1415.5L441.3 1412.8"/><path class="t9" d="M433.4 1416.9L438.7 1414.2"/><path class="t8" d="M428.2 1419.3L436 1415.5"/><path class="t7" d="M425.5 1420.5L430.8 1418.1"/><path class="t6" d="M420.3 1422.9L428.2 1419.3"/><path class="t5" d="M417.7 1424.1L422.9 1421.7"/><path class="t4" d="M412.4 1426.3L420.3 1422.9"/><path class="t3" d="M354.7 1440.5L404.5 1429L412.4 1426.3L415 1425.2"/><path class="t4" d="M333.7 1444.7L357.3 1439.9"/><path class="t5" d="M317.9 1447.6L336.3 1444.2"/><path class="t6" d="M304.8 1449.9L320.5 1447.1"/><path class="t7" d="M291.7 1452.2L307.4 1449.5"/><path class="t8" d="M286.4 1453L294.3 1451.7"/></g><g class="E"><path class="t109" d="M601.4 1292.6L625.5 1352.6"/><path class="t8" d="M286.4 1453L310.5 1462.9"/></g><g class="F"><path class="c109" d="M593.5 1294.9L598.8 1293.2L601.4 1292.6L625.5 1352.6L617.6 1354.3z"/><path class="c108" d="M588.3 1297L593.5 1294.9L617.6 1354.3L612.4 1355.6z"/><path class="c107" d="M585.7 1298.2L588.3 1297L612.4 1355.6L609.8 1356.3z"/><path class="c106" d="M583 1299.5L585.7 1298.2L609.8 1356.3L607.1 1357.1z"/><path class="c105" d="M580.4 1301L583 1299.5L607.1 1357.1L604.5 1357.9z"/><path class="c104" d="M577.8 1302.7L580.4 1301L604.5 1357.9L601.9 1358.9z"/><path class="c103" d="M575.2 1304.5L577.8 1302.7L601.9 1358.9L599.2 1359.9z"/><path class="c101" d="M572.5 1306.3L575.2 1304.5L599.2 1359.9L596.6 1360.9z"/><path class="c100" d="M569.9 1308.1L572.5 1306.3L596.6 1360.9L594 1361.9z"/><path class="c99" d="M567.3 1309.9L569.9 1308.1L594 1361.9L591.4 1362.9z"/><path class="c97" d="M564.7 1311.6L567.3 1309.9L591.4 1362.9L588.8 1363.9z"/><path class="c96" d="M562 1313.5L564.7 1311.6L588.8 1363.9L586.1 1364.9z"/><path class="c94" d="M559.4 1315.3L562 1313.5L586.1 1364.9L583.5 1365.9z"/><path class="c93" d="M556.8 1317.3L559.4 1315.3L583.5 1365.9L580.9 1367z"/><path class="c91" d="M554.2 1319.4L556.8 1317.3L580.9 1367L578.2 1368.2z"/><path class="c89" d="M551.5 1321.7L554.2 1319.4L578.2 1368.2L575.6 1369.4z"/><path class="c87" d="M548.9 1324.2L551.5 1321.7L575.6 1369.4L573 1370.8z"/><path class="c84" d="M546.3 1326.9L548.9 1324.2L573 1370.8L570.4 1372.2z"/><path class="c82" d="M543.7 1329.7L546.3 1326.9L570.4 1372.2L567.8 1373.7z"/><path class="c79" d="M541 1332.4L543.7 1329.7L567.8 1373.7L565.1 1375.2z"/><path class="c77" d="M538.4 1335L541 1332.4L565.1 1375.2L562.5 1376.6z"/><path class="c74" d="M535.8 1337.6L538.4 1335L562.5 1376.6L559.9 1378z"/><path class="c72" d="M533.2 1340.1L535.8 1337.6L559.9 1378L557.2 1379.4z"/><path class="c70" d="M530.5 1342.6L533.2 1340.1L557.2 1379.4L554.6 1380.8z"/><path class="c68" d="M527.9 1345L530.5 1342.6L554.6 1380.8L552 1382.1z"/><path class="c66" d="M525.3 1347.5L527.9 1345L552 1382.1L549.4 1383.5z"/><path class="c63" d="M522.7 1350.1L525.3 1347.5L549.4 1383.5L546.8 1385z"/><path class="c61" d="M520 1352.7L522.7 1350.1L546.8 1385L544.1 1386.4z"/><path class="c59" d="M517.4 1355.3L520 1352.7L544.1 1386.4L541.5 1387.9z"/><path class="c56" d="M514.8 1358L517.4 1355.3L541.5 1387.9L538.9 1389.4z"/><path class="c54" d="M512.2 1360.6L514.8 1358L538.9 1389.4L536.2 1390.9z"/><path class="c51" d="M509.5 1363.3L512.2 1360.6L536.2 1390.9L533.6 1392.4z"/><path class="c49" d="M506.9 1365.9L509.5 1363.3L533.6 1392.4L531 1393.9z"/><path class="c47" d="M504.3 1368.4L506.9 1365.9L531 1393.9L528.4 1395.4z"/><path class="c44" d="M501.7 1371L504.3 1368.4L528.4 1395.4L525.8 1396.9z"/><path class="c42" d="M499 1373.6L501.7 1371L525.8 1396.9L523.1 1398.4z"/><path class="c40" d="M496.4 1376.1L499 1373.6L523.1 1398.4L520.5 1399.9z"/><path class="c38" d="M493.8 1378.5L496.4 1376.1L520.5 1399.9L517.9 1401.3z"/><path class="c36" d="M491.2 1380.9L493.8 1378.5L517.9 1401.3L515.2 1402.8z"/><path class="c34" d="M488.5 1382.8L491.2 1380.9L515.2 1402.8L512.6 1403.8z"/><path class="c32" d="M485.9 1384.7L488.5 1382.8L512.6 1403.8L510 1404.8z"/><path class="c31" d="M483.3 1386.7L485.9 1384.7L510 1404.8L507.4 1405.9z"/><path class="c29" d="M480.7 1388.6L483.3 1386.7L507.4 1405.9L504.8 1407z"/><path class="c28" d="M478 1390.4L480.7 1388.6L504.8 1407L502.1 1408.1z"/><path class="c27" d="M475.4 1392.3L478 1390.4L502.1 1408.1L499.5 1409.2z"/><path class="c25" d="M472.8 1394L475.4 1392.3L499.5 1409.2L496.9 1410.3z"/><path class="c24" d="M470.2 1395.8L472.8 1394L496.9 1410.3L494.2 1411.5z"/><path class="c22" d="M467.5 1397.5L470.2 1395.8L494.2 1411.5L491.6 1412.6z"/><path class="c21" d="M464.9 1399.3L467.5 1397.5L491.6 1412.6L489 1413.7z"/><path class="c20" d="M462.3 1400.9L464.9 1399.3L489 1413.7L486.4 1414.9z"/><path class="c19" d="M459.7 1402.5L462.3 1400.9L486.4 1414.9L483.8 1416z"/><path class="c18" d="M457 1404.1L459.7 1402.5L483.8 1416L481.1 1417.1z"/><path class="c17" d="M454.4 1405.6L457 1404.1L481.1 1417.1L478.5 1418.2z"/><path class="c16" d="M451.8 1407.1L454.4 1405.6L478.5 1418.2L475.9 1419.3z"/><path class="c15" d="M449.1 1408.6L451.8 1407.1L475.9 1419.3L473.2 1420.4z"/><path class="c14" d="M446.5 1410L449.1 1408.6L473.2 1420.4L470.6 1421.5z"/><path class="c13" d="M443.9 1411.4L446.5 1410L470.6 1421.5L468 1422.6z"/><path class="c12" d="M441.3 1412.8L443.9 1411.4L468 1422.6L465.4 1423.7z"/><path class="c11" d="M438.7 1414.2L441.3 1412.8L465.4 1423.7L462.8 1424.8z"/><path class="c10" d="M436 1415.5L438.7 1414.2L462.8 1424.8L460.1 1425.9z"/><path class="c9" d="M433.4 1416.9L436 1415.5L460.1 1425.9L457.5 1427z"/><path class="c8" d="M428.2 1419.3L433.4 1416.9L457.5 1427L452.2 1429.1z"/><path class="c7" d="M425.5 1420.5L428.2 1419.3L452.2 1429.1L449.6 1430.1z"/><path class="c6" d="M420.3 1422.9L425.5 1420.5L449.6 1430.1L444.4 1432.3z"/><path class="c5" d="M417.7 1424.1L420.3 1422.9L444.4 1432.3L441.8 1433.3z"/><path class="c4" d="M412.4 1426.3L417.7 1424.1L441.8 1433.3L436.5 1435.4z"/><path class="c3" d="M354.7 1440.5L404.5 1429L412.4 1426.3L436.5 1435.4L405 1444.2L378.8 1449.9z"/><path class="c4" d="M333.7 1444.7L354.7 1440.5L378.8 1449.9L357.8 1454.2z"/><path class="c5" d="M317.9 1447.6L333.7 1444.7L357.8 1454.2L342 1457.2z"/><path class="c6" d="M304.8 1449.9L317.9 1447.6L342 1457.2L328.9 1459.6z"/><path class="c7" d="M291.7 1452.2L304.8 1449.9L328.9 1459.6L315.8 1462z"/><path class="c8" d="M286.4 1453L291.7 1452.2L315.8 1462L310.5 1462.9z"/></g><g class="T"><path class="t50" d="M609.8 1356.3L625.5 1352.6"/><path class="t49" d="M601.9 1358.9L612.4 1355.6"/><path class="t48" d="M596.6 1360.9L604.5 1357.9"/><path class="t47" d="M588.8 1363.9L599.2 1359.9"/><path class="t46" d="M583.5 1365.9L591.4 1362.9"/><path class="t45" d="M580.9 1367L586.1 1364.9"/><path class="t44" d="M575.6 1369.4L583.5 1365.9"/><path class="t43" d="M573 1370.8L578.2 1368.2"/><path class="t42" d="M570.4 1372.2L575.6 1369.4"/><path class="t41" d="M567.8 1373.7L573 1370.8"/><path class="t40" d="M565.1 1375.2L570.4 1372.2"/><path class="t39" d="M562.5 1376.6L567.8 1373.7"/><path class="t38" d="M559.9 1378L565.1 1375.2"/><path class="t37" d="M557.2 1379.4L562.5 1376.6"/><path class="t36" d="M554.6 1380.8L559.9 1378"/><path class="t35" d="M552 1382.1L557.2 1379.4"/><path class="t34" d="M549.4 1383.5L554.6 1380.8"/><path class="t33" d="M546.8 1385L552 1382.1"/><path class="t32" d="M544.1 1386.4L549.4 1383.5"/><path class="t31" d="M541.5 1387.9L546.8 1385"/><path class="t30" d="M538.9 1389.4L544.1 1386.4"/><path class="t29" d="M536.2 1390.9L541.5 1387.9"/><path class="t28" d="M533.6 1392.4L538.9 1389.4"/><path class="t27" d="M531 1393.9L536.2 1390.9"/><path class="t26" d="M528.4 1395.4L533.6 1392.4"/><path class="t25" d="M525.8 1396.9L531 1393.9"/><path class="t24" d="M523.1 1398.4L528.4 1395.4"/><path class="t23" d="M520.5 1399.9L525.8 1396.9"/><path class="t22" d="M517.9 1401.3L523.1 1398.4"/><path class="t21" d="M512.6 1403.8L515.2 1402.8L520.5 1399.9"/><path class="t20" d="M507.4 1405.9L515.2 1402.8"/><path class="t19" d="M502.1 1408.1L510 1404.8"/><path class="t18" d="M499.5 1409.2L504.8 1407"/><path class="t17" d="M494.2 1411.5L502.1 1408.1"/><path class="t16" d="M489 1413.7L496.9 1410.3"/><path class="t15" d="M486.4 1414.9L491.6 1412.6"/><path class="t14" d="M481.1 1417.1L489 1413.7"/><path class="t13" d="M475.9 1419.3L483.8 1416"/><path class="t12" d="M470.6 1421.5L478.5 1418.2"/><path class="t11" d="M465.4 1423.7L473.2 1420.4"/><path class="t10" d="M462.8 1424.8L468 1422.6"/><path class="t9" d="M457.5 1427L465.4 1423.7"/><path class="t8" d="M452.2 1429.1L460.1 1425.9"/><path class="t7" d="M447 1431.2L454.9 1428.1"/><path class="t6" d="M441.8 1433.3L449.6 1430.1"/><path class="t5" d="M436.5 1435.4L444.4 1432.3"/><path class="t4" d="M418.1 1440.8L431.2 1437.2L439.1 1434.4"/><path class="t3" d="M394.5 1446.5L420.8 1440.1"/><path class="t4" d="M365.6 1452.6L397.1 1446"/><path class="t5" d="M347.2 1456.2L368.2 1452.1"/><path class="t6" d="M331.5 1459.2L349.9 1455.7"/><path class="t7" d="M318.4 1461.5L334.1 1458.7"/><path class="t8" d="M310.5 1462.9L321 1461"/></g><g class="E"><path class="t50" d="M625.5 1352.6L649.6 1383"/><path class="t8" d="M310.5 1462.9L334.6 1472.7"/></g><g class="F"><path class="c50" d="M609.8 1356.3L625.5 1352.6L649.6 1383L633.9 1386.4z"/><path class="c49" d="M601.9 1358.9L609.8 1356.3L633.9 1386.4L626 1388.4z"/><path class="c48" d="M596.6 1360.9L601.9 1358.9L626 1388.4L620.7 1389.9z"/><path class="c47" d="M588.8 1363.9L596.6 1360.9L620.7 1389.9L612.9 1392.1z"/><path class="c46" d="M583.5 1365.9L588.8 1363.9L612.9 1392.1L607.6 1393.6z"/><path class="c45" d="M580.9 1367L583.5 1365.9L607.6 1393.6L605 1394.3z"/><path class="c44" d="M575.6 1369.4L580.9 1367L605 1394.3L599.7 1396z"/><path class="c43" d="M573 1370.8L575.6 1369.4L599.7 1396L597.1 1396.9z"/><path class="c42" d="M570.4 1372.2L573 1370.8L597.1 1396.9L594.5 1397.8z"/><path class="c41" d="M567.8 1373.7L570.4 1372.2L594.5 1397.8L591.9 1398.8z"/><path class="c40" d="M565.1 1375.2L567.8 1373.7L591.9 1398.8L589.2 1399.8z"/><path class="c39" d="M562.5 1376.6L565.1 1375.2L589.2 1399.8L586.6 1400.7z"/><path class="c38" d="M559.9 1378L562.5 1376.6L586.6 1400.7L584 1401.6z"/><path class="c37" d="M557.2 1379.4L559.9 1378L584 1401.6L581.4 1402.6z"/><path class="c36" d="M554.6 1380.8L557.2 1379.4L581.4 1402.6L578.7 1403.5z"/><path class="c35" d="M552 1382.1L554.6 1380.8L578.7 1403.5L576.1 1404.4z"/><path class="c34" d="M549.4 1383.5L552 1382.1L576.1 1404.4L573.5 1405.4z"/><path class="c33" d="M546.8 1385L549.4 1383.5L573.5 1405.4L570.9 1406.3z"/><path class="c32" d="M544.1 1386.4L546.8 1385L570.9 1406.3L568.2 1407.3z"/><path class="c31" d="M541.5 1387.9L544.1 1386.4L568.2 1407.3L565.6 1408.3z"/><path class="c30" d="M538.9 1389.4L541.5 1387.9L565.6 1408.3L563 1409.3z"/><path class="c29" d="M536.2 1390.9L538.9 1389.4L563 1409.3L560.4 1410.3z"/><path class="c28" d="M533.6 1392.4L536.2 1390.9L560.4 1410.3L557.7 1411.3z"/><path class="c27" d="M531 1393.9L533.6 1392.4L557.7 1411.3L555.1 1412.3z"/><path class="c26" d="M528.4 1395.4L531 1393.9L555.1 1412.3L552.5 1413.3z"/><path class="c25" d="M525.8 1396.9L528.4 1395.4L552.5 1413.3L549.9 1414.3z"/><path class="c24" d="M523.1 1398.4L525.8 1396.9L549.9 1414.3L547.2 1415.4z"/><path class="c23" d="M520.5 1399.9L523.1 1398.4L547.2 1415.4L544.6 1416.4z"/><path class="c22" d="M517.9 1401.3L520.5 1399.9L544.6 1416.4L542 1417.4z"/><path class="c21" d="M512.6 1403.8L515.2 1402.8L517.9 1401.3L542 1417.4L539.4 1418.4L536.7 1419.1z"/><path class="c20" d="M507.4 1405.9L512.6 1403.8L536.7 1419.1L531.5 1420.6z"/><path class="c19" d="M502.1 1408.1L507.4 1405.9L531.5 1420.6L526.2 1422.1z"/><path class="c18" d="M499.5 1409.2L502.1 1408.1L526.2 1422.1L523.6 1422.9z"/><path class="c17" d="M494.2 1411.5L499.5 1409.2L523.6 1422.9L518.4 1424.6z"/><path class="c16" d="M489 1413.7L494.2 1411.5L518.4 1424.6L513.1 1426.3z"/><path class="c15" d="M486.4 1414.9L489 1413.7L513.1 1426.3L510.5 1427.1z"/><path class="c14" d="M481.1 1417.1L486.4 1414.9L510.5 1427.1L505.2 1428.8z"/><path class="c13" d="M475.9 1419.3L481.1 1417.1L505.2 1428.8L500 1430.6z"/><path class="c12" d="M470.6 1421.5L475.9 1419.3L500 1430.6L494.7 1432.4z"/><path class="c11" d="M465.4 1423.7L470.6 1421.5L494.7 1432.4L489.5 1434.2z"/><path class="c10" d="M462.8 1424.8L465.4 1423.7L489.5 1434.2L486.9 1435.1z"/><path class="c9" d="M457.5 1427L462.8 1424.8L486.9 1435.1L481.6 1437z"/><path class="c8" d="M452.2 1429.1L457.5 1427L481.6 1437L476.4 1438.9z"/><path class="c7" d="M447 1431.2L452.2 1429.1L476.4 1438.9L471.1 1440.8z"/><path class="c6" d="M441.8 1433.3L447 1431.2L471.1 1440.8L465.9 1442.7z"/><path class="c5" d="M436.5 1435.4L441.8 1433.3L465.9 1442.7L460.6 1444.6z"/><path class="c4" d="M418.1 1440.8L431.2 1437.2L436.5 1435.4L460.6 1444.6L442.2 1450.1z"/><path class="c3" d="M394.5 1446.5L418.1 1440.8L442.2 1450.1L418.6 1456z"/><path class="c4" d="M365.6 1452.6L394.5 1446.5L418.6 1456L389.7 1462.2z"/><path class="c5" d="M347.2 1456.2L365.6 1452.6L389.7 1462.2L371.4 1465.9z"/><path class="c6" d="M331.5 1459.2L347.2 1456.2L371.4 1465.9L355.6 1468.9z"/><path class="c7" d="M318.4 1461.5L331.5 1459.2L355.6 1468.9L342.5 1471.3z"/><path class="c8" d="M310.5 1462.9L318.4 1461.5L342.5 1471.3L334.6 1472.7z"/></g><g class="T"><path class="t25" d="M610.2 1392.8L647 1383.5L649.6 1383"/><path class="t24" d="M599.7 1396L612.9 1392.1"/><path class="t23" d="M591.9 1398.8L602.4 1395.1"/><path class="t22" d="M584 1401.6L594.5 1397.8"/><path class="t21" d="M578.7 1403.5L586.6 1400.7"/><path class="t20" d="M570.9 1406.3L581.4 1402.6"/><path class="t19" d="M565.6 1408.3L573.5 1405.4"/><path class="t18" d="M560.4 1410.3L568.2 1407.3"/><path class="t17" d="M552.5 1413.3L563 1409.3"/><path class="t16" d="M547.2 1415.4L555.1 1412.3"/><path class="t15" d="M542 1417.4L549.9 1414.3"/><path class="t14" d="M526.2 1422.1L539.4 1418.4L544.6 1416.4"/><path class="t13" d="M515.7 1425.4L528.9 1421.3"/><path class="t12" d="M505.2 1428.8L518.4 1424.6"/><path class="t11" d="M497.4 1431.5L507.9 1428"/><path class="t10" d="M489.5 1434.2L500 1430.6"/><path class="t9" d="M481.6 1437L492.1 1433.3"/><path class="t8" d="M476.4 1438.9L484.2 1436.1"/><path class="t7" d="M468.5 1441.7L479 1438"/><path class="t6" d="M463.2 1443.7L471.1 1440.8"/><path class="t5" d="M450.1 1447.9L465.9 1442.7"/><path class="t4" d="M397.6 1460.5L452.7 1447.2"/><path class="t5" d="M374 1465.3L400.2 1460"/><path class="t6" d="M358.2 1468.4L376.6 1464.8"/><path class="t7" d="M342.5 1471.3L360.9 1467.9"/><path class="t8" d="M334.6 1472.7L345.1 1470.8"/></g><g class="E"><path class="t25" d="M649.6 1383L673.7 1401.3"/><path class="t8" d="M334.6 1472.7L358.7 1482.5"/></g><g class="F"><path class="c25" d="M610.2 1392.8L647 1383.5L649.6 1383L673.7 1401.3L634.3 1410.5z"/><path class="c24" d="M599.7 1396L610.2 1392.8L634.3 1410.5L623.8 1413.2z"/><path class="c23" d="M591.9 1398.8L599.7 1396L623.8 1413.2L616 1415.5z"/><path class="c22" d="M584 1401.6L591.9 1398.8L616 1415.5L608.1 1417.7z"/><path class="c21" d="M578.7 1403.5L584 1401.6L608.1 1417.7L602.8 1419.2z"/><path class="c20" d="M570.9 1406.3L578.7 1403.5L602.8 1419.2L595 1421.5z"/><path class="c19" d="M565.6 1408.3L570.9 1406.3L595 1421.5L589.7 1423z"/><path class="c18" d="M560.4 1410.3L565.6 1408.3L589.7 1423L584.5 1424.6z"/><path class="c17" d="M552.5 1413.3L560.4 1410.3L584.5 1424.6L576.6 1427z"/><path class="c16" d="M547.2 1415.4L552.5 1413.3L576.6 1427L571.3 1428.6z"/><path class="c15" d="M542 1417.4L547.2 1415.4L571.3 1428.6L566.1 1430.2z"/><path class="c14" d="M526.2 1422.1L539.4 1418.4L542 1417.4L566.1 1430.2L550.3 1434.2z"/><path class="c13" d="M515.7 1425.4L526.2 1422.1L550.3 1434.2L539.8 1436.9z"/><path class="c12" d="M505.2 1428.8L515.7 1425.4L539.8 1436.9L529.3 1439.8z"/><path class="c11" d="M497.4 1431.5L505.2 1428.8L529.3 1439.8L521.5 1442.1z"/><path class="c10" d="M489.5 1434.2L497.4 1431.5L521.5 1442.1L513.6 1444.5z"/><path class="c9" d="M481.6 1437L489.5 1434.2L513.6 1444.5L505.7 1447z"/><path class="c8" d="M476.4 1438.9L481.6 1437L505.7 1447L500.5 1448.7z"/><path class="c7" d="M468.5 1441.7L476.4 1438.9L500.5 1448.7L492.6 1451.3z"/><path class="c6" d="M463.2 1443.7L468.5 1441.7L492.6 1451.3L487.3 1453.1z"/><path class="c5" d="M450.1 1447.9L463.2 1443.7L487.3 1453.1L474.2 1457.2z"/><path class="c4" d="M397.6 1460.5L450.1 1447.9L474.2 1457.2L453.2 1463.1L421.7 1470.1z"/><path class="c5" d="M374 1465.3L397.6 1460.5L421.7 1470.1L398.1 1475z"/><path class="c6" d="M358.2 1468.4L374 1465.3L398.1 1475L382.3 1478.1z"/><path class="c7" d="M342.5 1471.3L358.2 1468.4L382.3 1478.1L366.6 1481.1z"/><path class="c8" d="M334.6 1472.7L342.5 1471.3L366.6 1481.1L358.7 1482.5z"/></g><g class="T"><path class="t15" d="M616 1415.5L673.7 1401.3"/><path class="t14" d="M597.6 1420.7L618.6 1414.7"/><path class="t13" d="M584.5 1424.6L600.2 1419.9"/><path class="t12" d="M571.3 1428.6L587.1 1423.8"/><path class="t11" d="M537.2 1437.7L574 1427.8"/><path class="t10" d="M518.8 1442.9L539.8 1436.9"/><path class="t9" d="M508.3 1446.2L521.5 1442.1"/><path class="t8" d="M497.8 1449.5L511 1445.3"/><path class="t7" d="M490 1452.2L500.5 1448.7"/><path class="t6" d="M482.1 1454.9L492.6 1451.3"/><path class="t5" d="M463.7 1460.2L484.7 1454"/><path class="t4" d="M434.8 1467.2L453.2 1463.1L466.3 1459.5"/><path class="t5" d="M406 1473.4L437.5 1466.6"/><path class="t6" d="M385 1477.6L408.6 1472.8"/><path class="t7" d="M366.6 1481.1L387.6 1477"/><path class="t8" d="M358.7 1482.5L369.2 1480.6"/></g><g class="E"><path class="t15" d="M673.7 1401.3L697.8 1414.6"/><path class="t8" d="M358.7 1482.5L382.8 1492.4"/></g><g class="F"><path class="c15" d="M616 1415.5L673.7 1401.3L697.8 1414.6L640 1428.3z"/><path class="c14" d="M597.6 1420.7L616 1415.5L640 1428.3L621.7 1433.1z"/><path class="c13" d="M584.5 1424.6L597.6 1420.7L621.7 1433.1L608.5 1436.5z"/><path class="c12" d="M571.3 1428.6L584.5 1424.6L608.5 1436.5L595.4 1440z"/><path class="c11" d="M537.2 1437.7L571.3 1428.6L595.4 1440L561.3 1448.4z"/><path class="c10" d="M518.8 1442.9L537.2 1437.7L561.3 1448.4L542.9 1453.2z"/><path class="c9" d="M508.3 1446.2L518.8 1442.9L542.9 1453.2L532.4 1456.2z"/><path class="c8" d="M497.8 1449.5L508.3 1446.2L532.4 1456.2L521.9 1459.3z"/><path class="c7" d="M490 1452.2L497.8 1449.5L521.9 1459.3L514 1461.8z"/><path class="c6" d="M482.1 1454.9L490 1452.2L514 1461.8L506.2 1464.3z"/><path class="c5" d="M463.7 1460.2L482.1 1454.9L506.2 1464.3L487.8 1469.6z"/><path class="c4" d="M434.8 1467.2L453.2 1463.1L463.7 1460.2L487.8 1469.6L477.3 1472.6L458.9 1476.8z"/><path class="c5" d="M406 1473.4L434.8 1467.2L458.9 1476.8L430.1 1483z"/><path class="c6" d="M385 1477.6L406 1473.4L430.1 1483L409.1 1487.3z"/><path class="c7" d="M366.6 1481.1L385 1477.6L409.1 1487.3L390.7 1490.9z"/><path class="c8" d="M358.7 1482.5L366.6 1481.1L390.7 1490.9L382.8 1492.4z"/></g><g class="T"><path class="t11" d="M624.3 1432.4L697.8 1414.6"/><path class="t10" d="M590.2 1441.4L626.9 1431.7"/><path class="t9" d="M582.3 1443.3L592.8 1440.7"/><path class="t10" d="M566.5 1447.1L584.9 1442.7"/><path class="t9" d="M535 1455.4L569.2 1446.4"/><path class="t8" d="M521.9 1459.3L537.7 1454.7"/><path class="t7" d="M511.4 1462.6L524.5 1458.5"/><path class="t6" d="M495.7 1467.4L514 1461.8"/><path class="t5" d="M435.3 1481.9L477.3 1472.6L498.3 1466.6"/><path class="t6" d="M411.7 1486.7L437.9 1481.3"/><path class="t7" d="M390.7 1490.9L414.3 1486.2"/><path class="t8" d="M382.8 1492.4L393.3 1490.4"/></g><g class="E"><path class="t11" d="M697.8 1414.6L721.9 1425.8"/><path class="t8" d="M382.8 1492.4L406.9 1502.2"/></g><g class="F"><path class="c11" d="M624.3 1432.4L697.8 1414.6L721.9 1425.8L648.4 1443.4z"/><path class="c10" d="M590.2 1441.4L624.3 1432.4L648.4 1443.4L614.3 1451.9z"/><path class="c9" d="M582.3 1443.3L590.2 1441.4L614.3 1451.9L606.4 1453.8z"/><path class="c10" d="M566.5 1447.1L582.3 1443.3L606.4 1453.8L590.6 1457.5z"/><path class="c9" d="M535 1455.4L566.5 1447.1L590.6 1457.5L559.1 1465.4z"/><path class="c8" d="M521.9 1459.3L535 1455.4L559.1 1465.4L546 1469.1z"/><path class="c7" d="M511.4 1462.6L521.9 1459.3L546 1469.1L535.5 1472.2z"/><path class="c6" d="M495.7 1467.4L511.4 1462.6L535.5 1472.2L519.8 1476.9z"/><path class="c5" d="M435.3 1481.9L477.3 1472.6L495.7 1467.4L519.8 1476.9L501.4 1482.2L459.4 1491.5z"/><path class="c6" d="M411.7 1486.7L435.3 1481.9L459.4 1491.5L435.8 1496.4z"/><path class="c7" d="M390.7 1490.9L411.7 1486.7L435.8 1496.4L414.8 1500.7z"/><path class="c8" d="M382.8 1492.4L390.7 1490.9L414.8 1500.7L406.9 1502.2z"/></g><g class="T"><path class="t9" d="M564.4 1464L721.9 1425.8"/><path class="t8" d="M543.4 1469.8L567 1463.3"/><path class="t7" d="M530.3 1473.8L546 1469.1"/><path class="t6" d="M514.5 1478.4L532.9 1473"/><path class="t5" d="M467.3 1489.8L501.4 1482.2L517.1 1477.6"/><path class="t6" d="M438.4 1495.9L469.9 1489.2"/><path class="t7" d="M417.4 1500.1L441 1495.4"/><path class="t8" d="M406.9 1502.2L420 1499.6"/></g><g class="E"><path class="t9" d="M721.9 1425.8L746 1436.2"/><path class="t8" d="M406.9 1502.2L431 1512"/></g><g class="F"><path class="c9" d="M564.4 1464L721.9 1425.8L746 1436.2L588.5 1474z"/><path class="c8" d="M543.4 1469.8L564.4 1464L588.5 1474L567.5 1479.6z"/><path class="c7" d="M530.3 1473.8L543.4 1469.8L567.5 1479.6L554.4 1483.4z"/><path class="c6" d="M514.5 1478.4L530.3 1473.8L554.4 1483.4L538.6 1487.9z"/><path class="c5" d="M467.3 1489.8L501.4 1482.2L514.5 1478.4L538.6 1487.9L525.5 1491.7L491.4 1499.4z"/><path class="c6" d="M438.4 1495.9L467.3 1489.8L491.4 1499.4L462.5 1505.6z"/><path class="c7" d="M417.4 1500.1L438.4 1495.9L462.5 1505.6L441.5 1509.9z"/><path class="c8" d="M406.9 1502.2L417.4 1500.1L441.5 1509.9L431 1512z"/></g><g class="T"><path class="t8" d="M730.2 1439.9L746 1436.2"/><path class="t9" d="M675.1 1453.1L732.9 1439.3"/><path class="t8" d="M564.9 1480.3L677.8 1452.5"/><path class="t7" d="M549.1 1484.9L567.5 1479.6"/><path class="t6" d="M530.8 1490.2L551.8 1484.2"/><path class="t5" d="M504.5 1496.5L525.5 1491.7L533.4 1489.4"/><path class="t6" d="M467.8 1504.5L507.1 1495.9"/><path class="t7" d="M441.5 1509.9L470.4 1503.9"/><path class="t8" d="M431 1512L444.1 1509.4"/></g><g class="E"><path class="t8" d="M746 1436.2L770.1 1446.3"/><path class="t8" d="M431 1512L455.1 1521.9"/></g><g class="F"><path class="c8" d="M730.2 1439.9L746 1436.2L770.1 1446.3L754.4 1450z"/><path class="c9" d="M675.1 1453.1L730.2 1439.9L754.4 1450L699.2 1463.2z"/><path class="c8" d="M564.9 1480.3L675.1 1453.1L699.2 1463.2L589 1490.1z"/><path class="c7" d="M549.1 1484.9L564.9 1480.3L589 1490.1L573.2 1494.5z"/><path class="c6" d="M530.8 1490.2L549.1 1484.9L573.2 1494.5L554.9 1499.8z"/><path class="c5" d="M504.5 1496.5L525.5 1491.7L530.8 1490.2L554.9 1499.8L528.6 1506.1z"/><path class="c6" d="M467.8 1504.5L504.5 1496.5L528.6 1506.1L491.9 1514.2z"/><path class="c7" d="M441.5 1509.9L467.8 1504.5L491.9 1514.2L465.6 1519.7z"/><path class="c8" d="M431 1512L441.5 1509.9L465.6 1519.7L455.1 1521.9z"/></g><g class="T"><path class="t8" d="M586.4 1490.8L770.1 1446.3"/><path class="t7" d="M568 1496L589 1490.1"/><path class="t6" d="M552.2 1500.6L570.6 1495.3"/><path class="t5" d="M547 1501.9L554.9 1499.8"/><path class="t6" d="M497.1 1513.1L549.6 1501.3"/><path class="t7" d="M468.2 1519.2L499.7 1512.5"/><path class="t8" d="M455.1 1521.9L470.9 1518.6"/></g><g class="E"><path class="t8" d="M770.1 1446.3L794.2 1456.2"/><path class="t8" d="M455.1 1521.9L479.2 1531.7"/></g><g class="F"><path class="c8" d="M586.4 1490.8L770.1 1446.3L794.2 1456.2L610.5 1500.5z"/><path class="c7" d="M568 1496L586.4 1490.8L610.5 1500.5L592.1 1505.6z"/><path class="c6" d="M552.2 1500.6L568 1496L592.1 1505.6L576.3 1510.2z"/><path class="c5" d="M547 1501.9L552.2 1500.6L576.3 1510.2L571.1 1511.6z"/><path class="c6" d="M497.1 1513.1L547 1501.9L571.1 1511.6L521.2 1522.8z"/><path class="c7" d="M468.2 1519.2L497.1 1513.1L521.2 1522.8L492.3 1529z"/><path class="c8" d="M455.1 1521.9L468.2 1519.2L492.3 1529L479.2 1531.7z"/></g><g class="T"><path class="t8" d="M607.8 1501.3L794.2 1456.2"/><path class="t7" d="M586.8 1507.1L610.5 1500.5"/><path class="t6" d="M526.5 1521.6L573.7 1511L589.5 1506.4"/><path class="t7" d="M492.3 1529L529.1 1521.1"/><path class="t8" d="M479.2 1531.7L495 1528.4"/></g><g class="E"><path class="t8" d="M794.2 1456.2L818.3 1466.1"/><path class="t8" d="M479.2 1531.7L503.3 1541.5"/></g><g class="F"><path class="c8" d="M607.8 1501.3L794.2 1456.2L818.3 1466.1L631.9 1511z"/><path class="c7" d="M586.8 1507.1L607.8 1501.3L631.9 1511L610.9 1516.8z"/><path class="c6" d="M526.5 1521.6L573.7 1511L586.8 1507.1L610.9 1516.8L597.8 1520.6L550.5 1531.3z"/><path class="c7" d="M492.3 1529L526.5 1521.6L550.5 1531.3L516.4 1538.7z"/><path class="c8" d="M479.2 1531.7L492.3 1529L516.4 1538.7L503.3 1541.5z"/></g><g class="T"><path class="t8" d="M629.3 1511.7L818.3 1466.1"/><path class="t7" d="M608.3 1517.5L631.9 1511"/><path class="t6" d="M555.8 1530.2L597.8 1520.6L610.9 1516.8"/><path class="t7" d="M519 1538.2L558.4 1529.6"/><path class="t8" d="M503.3 1541.5L521.7 1537.6"/></g></g>
<path d="M262.3 1235.7L262.3 1451.8" stroke="#262626" stroke-width="3.4" fill="none"/>
<path d="M262.8 1443.4L250.8 1439.4M262.8 1377.8L250.8 1373.8M262.8 1312.2L250.8 1308.2M262.8 1246.7L250.8 1242.7M383.8 1499.2L372.3 1501.2M659.8 1510.6L671.8 1514.5M816.3 1472.9L830.3 1476.6M494.8 1549.8L513.8 1549.8M262.8 1450.6L250.8 1450.6" stroke="#262626" stroke-width="3.2" fill="none"/>
<g font-family="'Liberation Serif','DejaVu Serif',serif" font-size="61" fill="#262626" stroke="#fff" stroke-width="1.1"><text x="242.6" y="1456.4" text-anchor="end" letter-spacing="-1.1">0</text><text x="242.6" y="1390.8" text-anchor="end" letter-spacing="-1.1">500</text><text x="242.6" y="1325.2" text-anchor="end" letter-spacing="-1.1">1000</text><text x="242.6" y="1259.7" text-anchor="end" letter-spacing="-1.1">1500</text><text x="238.3" y="1508.8" text-anchor="end">0</text><text x="359.8" y="1558" text-anchor="end" letter-spacing="-2.2">0.5</text><text x="479.3" y="1607.1" text-anchor="end">1</text><text x="522.3" y="1611.1">0</text><text x="679.8" y="1573.4">1</text><text x="837.3" y="1535.7">2</text><text x="266.3" y="1660.3" font-style="italic" font-size="62">ζ</text><text x="707.3" y="1661.3" font-style="italic" font-size="62">t</text><text x="37" y="1306.5"><tspan font-style="italic">e</tspan><tspan font-size="49" dx="0" dy="27" letter-spacing="-1.2">31</tspan></text></g></g>
<g><path d="M1129.8 1450.6L1444.8 1375.2M1250.3 1499.8L1565.3 1424.3M1287.3 1412.9L1528.3 1511.2M1444.8 1375.2L1685.8 1473.5M1287.3 1412.9L1287.3 1198.3M1444.8 1375.2L1444.8 1160.6M1565.3 1424.3L1565.3 1209.8M1685.8 1473.5L1685.8 1258.9M1129.8 1419.7L1444.8 1344.3M1444.8 1344.3L1685.8 1442.6M1129.8 1364.1L1444.8 1288.7M1444.8 1288.7L1685.8 1387M1129.8 1308.6L1444.8 1233.2M1444.8 1233.2L1685.8 1331.5M1129.8 1253L1444.8 1177.6M1444.8 1177.6L1685.8 1275.9" stroke="#e0e0e0" stroke-width="3" fill="none"/>
<path d="M1129.8 1450.6L1363.4 1545.9M1378.6 1547L1685.8 1473.5" stroke="#262626" stroke-width="3.2" fill="none"/>
<clipPath id="cp5"><rect x="1125.3" y="1157.1" width="565" height="394.3"/></clipPath><g clip-path="url(#cp5)"><g class="T"><path class="t91" d="M1442.2 1278.1L1444.8 1277.8"/><path class="t92" d="M1439.5 1277.9L1442.2 1278.1L1444.8 1277.8"/><path class="t93" d="M1436.9 1277.3L1439.5 1277.9L1442.2 1278.1"/><path class="t96" d="M1434.3 1276.4L1436.9 1277.3L1439.5 1277.9"/><path class="t98" d="M1431.7 1275.2L1436.9 1277.3"/><path class="t101" d="M1429 1273.9L1434.3 1276.4"/><path class="t105" d="M1426.4 1271.9L1429 1273.9L1431.7 1275.2"/><path class="t110" d="M1423.8 1268.8L1426.4 1271.9L1429 1273.9"/><path class="t116" d="M1421.2 1264.9L1423.8 1268.8L1426.4 1271.9"/><path class="t123" d="M1418.5 1260.4L1421.2 1264.9L1423.8 1268.8"/><path class="t131" d="M1415.9 1255.8L1421.2 1264.9"/><path class="t138" d="M1413.3 1251.4L1418.5 1260.4"/><path class="t145" d="M1410.7 1246.8L1415.9 1255.8"/><path class="t153" d="M1408 1241.7L1413.3 1251.4"/><path class="t162" d="M1405.4 1236.4L1410.7 1246.8"/><path class="t170" d="M1402.8 1231.2L1408 1241.7"/><path class="t178" d="M1400.2 1226.2L1405.4 1236.4"/><path class="t185" d="M1397.5 1221.7L1400.2 1226.2L1402.8 1231.2"/><path class="t192" d="M1394.9 1217.6L1400.2 1226.2"/><path class="t198" d="M1392.3 1213.6L1397.5 1221.7"/><path class="t205" d="M1389.7 1209.8L1394.9 1217.6"/><path class="t210" d="M1387 1206.3L1392.3 1213.6"/><path class="t216" d="M1384.4 1203.1L1389.7 1209.8"/><path class="t221" d="M1381.8 1200.1L1387 1206.3"/><path class="t226" d="M1379.2 1197.4L1384.4 1203.1"/><path class="t230" d="M1376.5 1194.7L1381.8 1200.1"/><path class="t235" d="M1373.9 1192.3L1379.2 1197.4"/><path class="t239" d="M1371.3 1190.1L1376.5 1194.7"/><path class="t242" d="M1368.7 1188.3L1371.3 1190.1L1373.9 1192.3"/><path class="t245" d="M1366 1186.9L1368.7 1188.3L1371.3 1190.1"/><path class="t247" d="M1363.4 1185.8L1366 1186.9L1368.7 1188.3"/><path class="t250" d="M1360.8 1184.8L1366 1186.9"/><path class="t252" d="M1358.2 1183.9L1363.4 1185.8"/><path class="t254" d="M1355.5 1183.3L1360.8 1184.8"/><path class="t255" d="M1329.3 1188.6L1331.9 1187.6L1350.3 1183.2L1352.9 1183L1355.5 1183.3L1358.2 1183.9"/><path class="t253" d="M1326.7 1190.8L1329.3 1188.6L1331.9 1187.6"/><path class="t250" d="M1324 1193.4L1329.3 1188.6"/><path class="t247" d="M1321.4 1196L1326.7 1190.8"/><path class="t244" d="M1318.8 1198.5L1324 1193.4"/><path class="t242" d="M1316.2 1200.9L1321.4 1196"/><path class="t239" d="M1313.5 1203.5L1318.8 1198.5"/><path class="t236" d="M1310.9 1206.1L1316.2 1200.9"/><path class="t234" d="M1308.3 1208.8L1313.5 1203.5"/><path class="t231" d="M1305.7 1211.5L1310.9 1206.1"/><path class="t228" d="M1303 1214.2L1308.3 1208.8"/><path class="t225" d="M1300.4 1216.9L1305.7 1211.5"/><path class="t222" d="M1297.8 1219.6L1303 1214.2"/><path class="t219" d="M1295.2 1222.4L1300.4 1216.9"/><path class="t216" d="M1292.5 1225.1L1297.8 1219.6"/><path class="t213" d="M1289.9 1227.8L1295.2 1222.4"/><path class="t210" d="M1287.3 1230.5L1292.5 1225.1"/><path class="t207" d="M1284.7 1233L1289.9 1227.8"/><path class="t205" d="M1282 1235.5L1287.3 1230.5"/><path class="t202" d="M1279.4 1238L1284.7 1233"/><path class="t199" d="M1276.8 1240.5L1282 1235.5"/><path class="t197" d="M1274.2 1242.9L1279.4 1238"/><path class="t194" d="M1271.5 1245.3L1276.8 1240.5"/><path class="t192" d="M1268.9 1247.6L1274.2 1242.9"/><path class="t190" d="M1266.3 1249.8L1271.5 1245.3"/><path class="t188" d="M1263.7 1252L1268.9 1247.6"/><path class="t186" d="M1261 1254.1L1266.3 1249.8"/><path class="t183" d="M1258.4 1256.2L1263.7 1252"/><path class="t181" d="M1255.8 1258.3L1261 1254.1"/><path class="t179" d="M1253.2 1260.3L1258.4 1256.2"/><path class="t178" d="M1250.5 1262.3L1255.8 1258.3"/><path class="t176" d="M1247.9 1264.2L1253.2 1260.3"/><path class="t174" d="M1245.3 1266L1250.5 1262.3"/><path class="t173" d="M1242.7 1267.8L1247.9 1264.2"/><path class="t171" d="M1240 1269.4L1245.3 1266"/><path class="t170" d="M1237.4 1270.9L1242.7 1267.8"/><path class="t169" d="M1234.8 1272.4L1240 1269.4"/><path class="t167" d="M1232.2 1273.9L1237.4 1270.9"/><path class="t166" d="M1229.5 1275.3L1234.8 1272.4"/><path class="t165" d="M1226.9 1276.7L1232.2 1273.9"/><path class="t164" d="M1224.3 1278L1229.5 1275.3"/><path class="t163" d="M1221.7 1279.4L1226.9 1276.7"/><path class="t162" d="M1219 1280.6L1224.3 1278"/><path class="t161" d="M1213.8 1283.1L1221.7 1279.4"/><path class="t160" d="M1211.2 1284.2L1216.4 1281.9"/><path class="t159" d="M1205.9 1286.4L1213.8 1283.1"/><path class="t158" d="M1203.3 1287.5L1208.5 1285.3"/><path class="t157" d="M1198 1289.6L1205.9 1286.4"/><path class="t156" d="M1192.8 1291.7L1200.7 1288.5"/><path class="t155" d="M1187.5 1293.6L1195.4 1290.7"/><path class="t154" d="M1171.8 1298.2L1184.9 1294.5L1190.2 1292.7"/><path class="t153" d="M1129.8 1308.6L1174.4 1297.5"/></g><g class="E"><path class="t91" d="M1444.8 1277.8L1468.9 1266.2"/><path class="t153" d="M1129.8 1308.6L1153.9 1318.4"/></g><g class="F"><path class="c91" d="M1442.2 1278.1L1444.8 1277.8L1468.9 1266.2L1466.3 1266.7z"/><path class="c92" d="M1439.5 1277.9L1442.2 1278.1L1466.3 1266.7L1463.6 1267z"/><path class="c93" d="M1436.9 1277.3L1439.5 1277.9L1463.6 1267L1461 1267z"/><path class="c96" d="M1434.3 1276.4L1436.9 1277.3L1461 1267L1458.4 1266.9z"/><path class="c98" d="M1431.7 1275.2L1434.3 1276.4L1458.4 1266.9L1455.8 1266.6z"/><path class="c101" d="M1429 1273.9L1431.7 1275.2L1455.8 1266.6L1453.1 1266.3z"/><path class="c105" d="M1426.4 1271.9L1429 1273.9L1453.1 1266.3L1450.5 1265.6z"/><path class="c110" d="M1423.8 1268.8L1426.4 1271.9L1450.5 1265.6L1447.9 1264.3z"/><path class="c116" d="M1421.2 1264.9L1423.8 1268.8L1447.9 1264.3L1445.3 1262.5z"/><path class="c123" d="M1418.5 1260.4L1421.2 1264.9L1445.3 1262.5L1442.6 1260.5z"/><path class="c131" d="M1415.9 1255.8L1418.5 1260.4L1442.6 1260.5L1440 1258.3z"/><path class="c138" d="M1413.3 1251.4L1415.9 1255.8L1440 1258.3L1437.4 1256.3z"/><path class="c145" d="M1410.7 1246.8L1413.3 1251.4L1437.4 1256.3L1434.8 1254.1z"/><path class="c153" d="M1408 1241.7L1410.7 1246.8L1434.8 1254.1L1432.1 1251.7z"/><path class="c162" d="M1405.4 1236.4L1408 1241.7L1432.1 1251.7L1429.5 1249.1z"/><path class="c170" d="M1402.8 1231.2L1405.4 1236.4L1429.5 1249.1L1426.9 1246.5z"/><path class="c178" d="M1400.2 1226.2L1402.8 1231.2L1426.9 1246.5L1424.3 1244.1z"/><path class="c185" d="M1397.5 1221.7L1400.2 1226.2L1424.3 1244.1L1421.6 1241.9z"/><path class="c192" d="M1394.9 1217.6L1397.5 1221.7L1421.6 1241.9L1419 1239.9z"/><path class="c198" d="M1392.3 1213.6L1394.9 1217.6L1419 1239.9L1416.4 1238z"/><path class="c205" d="M1389.7 1209.8L1392.3 1213.6L1416.4 1238L1413.8 1236.1z"/><path class="c210" d="M1387 1206.3L1389.7 1209.8L1413.8 1236.1L1411.1 1234.4z"/><path class="c216" d="M1384.4 1203.1L1387 1206.3L1411.1 1234.4L1408.5 1232.9z"/><path class="c221" d="M1381.8 1200.1L1384.4 1203.1L1408.5 1232.9L1405.9 1231.4z"/><path class="c226" d="M1379.2 1197.4L1381.8 1200.1L1405.9 1231.4L1403.3 1230.1z"/><path class="c230" d="M1376.5 1194.7L1379.2 1197.4L1403.3 1230.1L1400.6 1228.9z"/><path class="c235" d="M1373.9 1192.3L1376.5 1194.7L1400.6 1228.9L1398 1227.7z"/><path class="c239" d="M1371.3 1190.1L1373.9 1192.3L1398 1227.7L1395.4 1226.7z"/><path class="c242" d="M1368.7 1188.3L1371.3 1190.1L1395.4 1226.7L1392.8 1225.9z"/><path class="c245" d="M1366 1186.9L1368.7 1188.3L1392.8 1225.9L1390.1 1225.3z"/><path class="c247" d="M1363.4 1185.8L1366 1186.9L1390.1 1225.3L1387.5 1224.8z"/><path class="c250" d="M1360.8 1184.8L1363.4 1185.8L1387.5 1224.8L1384.9 1224.4z"/><path class="c252" d="M1358.2 1183.9L1360.8 1184.8L1384.9 1224.4L1382.3 1224.1z"/><path class="c254" d="M1355.5 1183.3L1358.2 1183.9L1382.3 1224.1L1379.6 1223.9z"/><path class="c255" d="M1329.3 1188.6L1331.9 1187.6L1350.3 1183.2L1352.9 1183L1355.5 1183.3L1379.6 1223.9L1358.6 1224.3L1356 1224.6L1353.4 1225.5z"/><path class="c253" d="M1326.7 1190.8L1329.3 1188.6L1353.4 1225.5L1350.8 1226.7z"/><path class="c250" d="M1324 1193.4L1326.7 1190.8L1350.8 1226.7L1348.1 1228z"/><path class="c247" d="M1321.4 1196L1324 1193.4L1348.1 1228L1345.5 1229.5z"/><path class="c244" d="M1318.8 1198.5L1321.4 1196L1345.5 1229.5L1342.9 1230.9z"/><path class="c242" d="M1316.2 1200.9L1318.8 1198.5L1342.9 1230.9L1340.3 1232.2z"/><path class="c239" d="M1313.5 1203.5L1316.2 1200.9L1340.3 1232.2L1337.6 1233.7z"/><path class="c236" d="M1310.9 1206.1L1313.5 1203.5L1337.6 1233.7L1335 1235.3z"/><path class="c234" d="M1308.3 1208.8L1310.9 1206.1L1335 1235.3L1332.4 1236.9z"/><path class="c231" d="M1305.7 1211.5L1308.3 1208.8L1332.4 1236.9L1329.8 1238.5z"/><path class="c228" d="M1303 1214.2L1305.7 1211.5L1329.8 1238.5L1327.1 1240.2z"/><path class="c225" d="M1300.4 1216.9L1303 1214.2L1327.1 1240.2L1324.5 1241.9z"/><path class="c222" d="M1297.8 1219.6L1300.4 1216.9L1324.5 1241.9L1321.9 1243.7z"/><path class="c219" d="M1295.2 1222.4L1297.8 1219.6L1321.9 1243.7L1319.3 1245.5z"/><path class="c216" d="M1292.5 1225.1L1295.2 1222.4L1319.3 1245.5L1316.6 1247.4z"/><path class="c213" d="M1289.9 1227.8L1292.5 1225.1L1316.6 1247.4L1314 1249.2z"/><path class="c210" d="M1287.3 1230.5L1289.9 1227.8L1314 1249.2L1311.4 1251z"/><path class="c207" d="M1284.7 1233L1287.3 1230.5L1311.4 1251L1308.8 1252.8z"/><path class="c205" d="M1282 1235.5L1284.7 1233L1308.8 1252.8L1306.1 1254.5z"/><path class="c202" d="M1279.4 1238L1282 1235.5L1306.1 1254.5L1303.5 1256.3z"/><path class="c199" d="M1276.8 1240.5L1279.4 1238L1303.5 1256.3L1300.9 1258.1z"/><path class="c197" d="M1274.2 1242.9L1276.8 1240.5L1300.9 1258.1L1298.3 1259.9z"/><path class="c194" d="M1271.5 1245.3L1274.2 1242.9L1298.3 1259.9L1295.6 1261.7z"/><path class="c192" d="M1268.9 1247.6L1271.5 1245.3L1295.6 1261.7L1293 1263.4z"/><path class="c190" d="M1266.3 1249.8L1268.9 1247.6L1293 1263.4L1290.4 1265.1z"/><path class="c188" d="M1263.7 1252L1266.3 1249.8L1290.4 1265.1L1287.8 1266.8z"/><path class="c186" d="M1261 1254.1L1263.7 1252L1287.8 1266.8L1285.1 1268.5z"/><path class="c183" d="M1258.4 1256.2L1261 1254.1L1285.1 1268.5L1282.5 1270.1z"/><path class="c181" d="M1255.8 1258.3L1258.4 1256.2L1282.5 1270.1L1279.9 1271.8z"/><path class="c179" d="M1253.2 1260.3L1255.8 1258.3L1279.9 1271.8L1277.3 1273.4z"/><path class="c178" d="M1250.5 1262.3L1253.2 1260.3L1277.3 1273.4L1274.6 1275.1z"/><path class="c176" d="M1247.9 1264.2L1250.5 1262.3L1274.6 1275.1L1272 1276.6z"/><path class="c174" d="M1245.3 1266L1247.9 1264.2L1272 1276.6L1269.4 1278.2z"/><path class="c173" d="M1242.7 1267.8L1245.3 1266L1269.4 1278.2L1266.8 1279.6z"/><path class="c171" d="M1240 1269.4L1242.7 1267.8L1266.8 1279.6L1264.1 1281z"/><path class="c170" d="M1237.4 1270.9L1240 1269.4L1264.1 1281L1261.5 1282.3z"/><path class="c169" d="M1234.8 1272.4L1237.4 1270.9L1261.5 1282.3L1258.9 1283.6z"/><path class="c167" d="M1232.2 1273.9L1234.8 1272.4L1258.9 1283.6L1256.3 1284.9z"/><path class="c166" d="M1229.5 1275.3L1232.2 1273.9L1256.3 1284.9L1253.6 1286.2z"/><path class="c165" d="M1226.9 1276.7L1229.5 1275.3L1253.6 1286.2L1251 1287.4z"/><path class="c164" d="M1224.3 1278L1226.9 1276.7L1251 1287.4L1248.4 1288.7z"/><path class="c163" d="M1221.7 1279.4L1224.3 1278L1248.4 1288.7L1245.8 1289.9z"/><path class="c162" d="M1219 1280.6L1221.7 1279.4L1245.8 1289.9L1243.1 1291.1z"/><path class="c161" d="M1213.8 1283.1L1219 1280.6L1243.1 1291.1L1237.9 1293.4z"/><path class="c160" d="M1211.2 1284.2L1213.8 1283.1L1237.9 1293.4L1235.3 1294.5z"/><path class="c159" d="M1205.9 1286.4L1211.2 1284.2L1235.3 1294.5L1230 1296.6z"/><path class="c158" d="M1203.3 1287.5L1205.9 1286.4L1230 1296.6L1227.4 1297.6z"/><path class="c157" d="M1198 1289.6L1203.3 1287.5L1227.4 1297.6L1222.1 1299.7z"/><path class="c156" d="M1192.8 1291.7L1198 1289.6L1222.1 1299.7L1216.9 1301.7z"/><path class="c155" d="M1187.5 1293.6L1192.8 1291.7L1216.9 1301.7L1211.6 1303.6z"/><path class="c154" d="M1171.8 1298.2L1184.9 1294.5L1187.5 1293.6L1211.6 1303.6L1195.9 1308z"/><path class="c153" d="M1129.8 1308.6L1171.8 1298.2L1195.9 1308L1153.9 1318.4z"/></g><g class="T"><path class="t121" d="M1463.6 1267L1466.3 1266.7L1468.9 1266.2"/><path class="t122" d="M1461 1267L1466.3 1266.7"/><path class="t123" d="M1458.4 1266.9L1463.6 1267"/><path class="t124" d="M1455.8 1266.6L1461 1267"/><path class="t126" d="M1453.1 1266.3L1458.4 1266.9"/><path class="t127" d="M1450.5 1265.6L1453.1 1266.3L1455.8 1266.6"/><path class="t130" d="M1447.9 1264.3L1450.5 1265.6L1453.1 1266.3"/><path class="t134" d="M1445.3 1262.5L1447.9 1264.3L1450.5 1265.6"/><path class="t137" d="M1442.6 1260.5L1447.9 1264.3"/><path class="t141" d="M1440 1258.3L1445.3 1262.5"/><path class="t145" d="M1437.4 1256.3L1442.6 1260.5"/><path class="t149" d="M1434.8 1254.1L1440 1258.3"/><path class="t153" d="M1432.1 1251.7L1437.4 1256.3"/><path class="t158" d="M1429.5 1249.1L1434.8 1254.1"/><path class="t162" d="M1426.9 1246.5L1432.1 1251.7"/><path class="t167" d="M1424.3 1244.1L1429.5 1249.1"/><path class="t171" d="M1421.6 1241.9L1426.9 1246.5"/><path class="t174" d="M1419 1239.9L1424.3 1244.1"/><path class="t178" d="M1416.4 1238L1421.6 1241.9"/><path class="t181" d="M1413.8 1236.1L1419 1239.9"/><path class="t185" d="M1411.1 1234.4L1416.4 1238"/><path class="t188" d="M1408.5 1232.9L1413.8 1236.1"/><path class="t191" d="M1405.9 1231.4L1411.1 1234.4"/><path class="t193" d="M1403.3 1230.1L1408.5 1232.9"/><path class="t196" d="M1400.6 1228.9L1405.9 1231.4"/><path class="t199" d="M1398 1227.7L1403.3 1230.1"/><path class="t201" d="M1395.4 1226.7L1400.6 1228.9"/><path class="t203" d="M1392.8 1225.9L1398 1227.7"/><path class="t205" d="M1390.1 1225.3L1395.4 1226.7"/><path class="t206" d="M1387.5 1224.8L1392.8 1225.9"/><path class="t208" d="M1384.9 1224.4L1390.1 1225.3"/><path class="t209" d="M1382.3 1224.1L1387.5 1224.8"/><path class="t210" d="M1379.6 1223.9L1384.9 1224.4"/><path class="t211" d="M1377 1223.9L1382.3 1224.1"/><path class="t212" d="M1374.4 1224.2L1379.6 1223.9"/><path class="t213" d="M1369.1 1224.1L1374.4 1224.2L1377 1223.9"/><path class="t214" d="M1366.5 1224.1L1371.8 1224.1"/><path class="t215" d="M1363.9 1224.1L1369.1 1224.1"/><path class="t216" d="M1361.3 1224.2L1366.5 1224.1"/><path class="t217" d="M1353.4 1225.5L1356 1224.6L1358.6 1224.3L1363.9 1224.1"/><path class="t216" d="M1350.8 1226.7L1353.4 1225.5L1356 1224.6"/><path class="t215" d="M1348.1 1228L1353.4 1225.5"/><path class="t214" d="M1345.5 1229.5L1350.8 1226.7"/><path class="t213" d="M1342.9 1230.9L1348.1 1228"/><path class="t212" d="M1340.3 1232.2L1345.5 1229.5"/><path class="t211" d="M1337.6 1233.7L1342.9 1230.9"/><path class="t209" d="M1335 1235.3L1340.3 1232.2"/><path class="t208" d="M1332.4 1236.9L1337.6 1233.7"/><path class="t206" d="M1329.8 1238.5L1335 1235.3"/><path class="t205" d="M1327.1 1240.2L1332.4 1236.9"/><path class="t203" d="M1324.5 1241.9L1329.8 1238.5"/><path class="t202" d="M1321.9 1243.7L1327.1 1240.2"/><path class="t200" d="M1319.3 1245.5L1324.5 1241.9"/><path class="t198" d="M1316.6 1247.4L1321.9 1243.7"/><path class="t197" d="M1314 1249.2L1319.3 1245.5"/><path class="t195" d="M1311.4 1251L1316.6 1247.4"/><path class="t193" d="M1308.8 1252.8L1314 1249.2"/><path class="t192" d="M1306.1 1254.5L1311.4 1251"/><path class="t190" d="M1303.5 1256.3L1308.8 1252.8"/><path class="t188" d="M1300.9 1258.1L1306.1 1254.5"/><path class="t187" d="M1298.3 1259.9L1303.5 1256.3"/><path class="t185" d="M1295.6 1261.7L1300.9 1258.1"/><path class="t184" d="M1293 1263.4L1298.3 1259.9"/><path class="t182" d="M1290.4 1265.1L1295.6 1261.7"/><path class="t181" d="M1287.8 1266.8L1293 1263.4"/><path class="t179" d="M1285.1 1268.5L1290.4 1265.1"/><path class="t178" d="M1282.5 1270.1L1287.8 1266.8"/><path class="t176" d="M1279.9 1271.8L1285.1 1268.5"/><path class="t175" d="M1277.3 1273.4L1282.5 1270.1"/><path class="t173" d="M1274.6 1275.1L1279.9 1271.8"/><path class="t172" d="M1272 1276.6L1277.3 1273.4"/><path class="t171" d="M1269.4 1278.2L1274.6 1275.1"/><path class="t170" d="M1266.8 1279.6L1272 1276.6"/><path class="t169" d="M1264.1 1281L1269.4 1278.2"/><path class="t168" d="M1261.5 1282.3L1266.8 1279.6"/><path class="t167" d="M1258.9 1283.6L1264.1 1281"/><path class="t166" d="M1256.3 1284.9L1261.5 1282.3"/><path class="t165" d="M1253.6 1286.2L1258.9 1283.6"/><path class="t164" d="M1251 1287.4L1256.3 1284.9"/><path class="t163" d="M1248.4 1288.7L1253.6 1286.2"/><path class="t162" d="M1245.8 1289.9L1251 1287.4"/><path class="t161" d="M1240.5 1292.3L1248.4 1288.7"/><path class="t160" d="M1237.9 1293.4L1243.1 1291.1"/><path class="t159" d="M1232.6 1295.6L1240.5 1292.3"/><path class="t158" d="M1227.4 1297.6L1235.3 1294.5"/><path class="t157" d="M1224.8 1298.7L1230 1296.6"/><path class="t156" d="M1219.5 1300.7L1227.4 1297.6"/><path class="t155" d="M1211.6 1303.6L1222.1 1299.7"/><path class="t154" d="M1195.9 1308L1211.6 1303.6L1214.3 1302.6"/><path class="t153" d="M1153.9 1318.4L1198.5 1307.4"/></g><g class="E"><path class="t121" d="M1468.9 1266.2L1493 1264.9"/><path class="t153" d="M1153.9 1318.4L1178 1328.2"/></g><g class="F"><path class="c121" d="M1463.6 1267L1466.3 1266.7L1468.9 1266.2L1493 1264.9L1487.8 1266z"/><path class="c122" d="M1461 1267L1463.6 1267L1487.8 1266L1485.1 1266.3z"/><path class="c123" d="M1458.4 1266.9L1461 1267L1485.1 1266.3L1482.5 1266.6z"/><path class="c124" d="M1455.8 1266.6L1458.4 1266.9L1482.5 1266.6L1479.9 1266.8z"/><path class="c126" d="M1453.1 1266.3L1455.8 1266.6L1479.9 1266.8L1477.2 1266.9z"/><path class="c127" d="M1450.5 1265.6L1453.1 1266.3L1477.2 1266.9L1474.6 1266.9z"/><path class="c130" d="M1447.9 1264.3L1450.5 1265.6L1474.6 1266.9L1472 1266.5z"/><path class="c134" d="M1445.3 1262.5L1447.9 1264.3L1472 1266.5L1469.4 1265.9z"/><path class="c137" d="M1442.6 1260.5L1445.3 1262.5L1469.4 1265.9L1466.8 1265.1z"/><path class="c141" d="M1440 1258.3L1442.6 1260.5L1466.8 1265.1L1464.1 1264.2z"/><path class="c145" d="M1437.4 1256.3L1440 1258.3L1464.1 1264.2L1461.5 1263.4z"/><path class="c149" d="M1434.8 1254.1L1437.4 1256.3L1461.5 1263.4L1458.9 1262.6z"/><path class="c153" d="M1432.1 1251.7L1434.8 1254.1L1458.9 1262.6L1456.2 1261.5z"/><path class="c158" d="M1429.5 1249.1L1432.1 1251.7L1456.2 1261.5L1453.6 1260.4z"/><path class="c162" d="M1426.9 1246.5L1429.5 1249.1L1453.6 1260.4L1451 1259.3z"/><path class="c167" d="M1424.3 1244.1L1426.9 1246.5L1451 1259.3L1448.4 1258.3z"/><path class="c171" d="M1421.6 1241.9L1424.3 1244.1L1448.4 1258.3L1445.8 1257.4z"/><path class="c174" d="M1419 1239.9L1421.6 1241.9L1445.8 1257.4L1443.1 1256.5z"/><path class="c178" d="M1416.4 1238L1419 1239.9L1443.1 1256.5L1440.5 1255.7z"/><path class="c181" d="M1413.8 1236.1L1416.4 1238L1440.5 1255.7L1437.9 1255z"/><path class="c185" d="M1411.1 1234.4L1413.8 1236.1L1437.9 1255L1435.2 1254.3z"/><path class="c188" d="M1408.5 1232.9L1411.1 1234.4L1435.2 1254.3L1432.6 1253.7z"/><path class="c191" d="M1405.9 1231.4L1408.5 1232.9L1432.6 1253.7L1430 1253.2z"/><path class="c193" d="M1403.3 1230.1L1405.9 1231.4L1430 1253.2L1427.4 1252.7z"/><path class="c196" d="M1400.6 1228.9L1403.3 1230.1L1427.4 1252.7L1424.8 1252.2z"/><path class="c199" d="M1398 1227.7L1400.6 1228.9L1424.8 1252.2L1422.1 1251.8z"/><path class="c201" d="M1395.4 1226.7L1398 1227.7L1422.1 1251.8L1419.5 1251.5z"/><path class="c203" d="M1392.8 1225.9L1395.4 1226.7L1419.5 1251.5L1416.9 1251.2z"/><path class="c205" d="M1390.1 1225.3L1392.8 1225.9L1416.9 1251.2L1414.2 1251.1z"/><path class="c206" d="M1387.5 1224.8L1390.1 1225.3L1414.2 1251.1L1411.6 1251.1z"/><path class="c208" d="M1384.9 1224.4L1387.5 1224.8L1411.6 1251.1L1409 1251.1z"/><path class="c209" d="M1382.3 1224.1L1384.9 1224.4L1409 1251.1L1406.4 1251.1z"/><path class="c210" d="M1379.6 1223.9L1382.3 1224.1L1406.4 1251.1L1403.8 1251.3z"/><path class="c211" d="M1377 1223.9L1379.6 1223.9L1403.8 1251.3L1401.1 1251.5z"/><path class="c212" d="M1374.4 1224.2L1377 1223.9L1401.1 1251.5L1398.5 1251.8z"/><path class="c213" d="M1369.1 1224.1L1374.4 1224.2L1398.5 1251.8L1393.2 1251.7z"/><path class="c214" d="M1366.5 1224.1L1369.1 1224.1L1393.2 1251.7L1390.6 1251.7z"/><path class="c215" d="M1363.9 1224.1L1366.5 1224.1L1390.6 1251.7L1388 1251.6z"/><path class="c216" d="M1361.3 1224.2L1363.9 1224.1L1388 1251.6L1385.4 1251.6z"/><path class="c217" d="M1353.4 1225.5L1356 1224.6L1358.6 1224.3L1361.3 1224.2L1385.4 1251.6L1380.1 1251.8L1377.5 1252.2z"/><path class="c216" d="M1350.8 1226.7L1353.4 1225.5L1377.5 1252.2L1374.9 1252.9z"/><path class="c215" d="M1348.1 1228L1350.8 1226.7L1374.9 1252.9L1372.2 1253.7z"/><path class="c214" d="M1345.5 1229.5L1348.1 1228L1372.2 1253.7L1369.6 1254.6z"/><path class="c213" d="M1342.9 1230.9L1345.5 1229.5L1369.6 1254.6L1367 1255.4z"/><path class="c212" d="M1340.3 1232.2L1342.9 1230.9L1367 1255.4L1364.4 1256.2z"/><path class="c211" d="M1337.6 1233.7L1340.3 1232.2L1364.4 1256.2L1361.8 1257.1z"/><path class="c209" d="M1335 1235.3L1337.6 1233.7L1361.8 1257.1L1359.1 1258.1z"/><path class="c208" d="M1332.4 1236.9L1335 1235.3L1359.1 1258.1L1356.5 1259.1z"/><path class="c206" d="M1329.8 1238.5L1332.4 1236.9L1356.5 1259.1L1353.9 1260.2z"/><path class="c205" d="M1327.1 1240.2L1329.8 1238.5L1353.9 1260.2L1351.2 1261.3z"/><path class="c203" d="M1324.5 1241.9L1327.1 1240.2L1351.2 1261.3L1348.6 1262.4z"/><path class="c202" d="M1321.9 1243.7L1324.5 1241.9L1348.6 1262.4L1346 1263.6z"/><path class="c200" d="M1319.3 1245.5L1321.9 1243.7L1346 1263.6L1343.4 1264.9z"/><path class="c198" d="M1316.6 1247.4L1319.3 1245.5L1343.4 1264.9L1340.8 1266.1z"/><path class="c197" d="M1314 1249.2L1316.6 1247.4L1340.8 1266.1L1338.1 1267.4z"/><path class="c195" d="M1311.4 1251L1314 1249.2L1338.1 1267.4L1335.5 1268.7z"/><path class="c193" d="M1308.8 1252.8L1311.4 1251L1335.5 1268.7L1332.9 1270z"/><path class="c192" d="M1306.1 1254.5L1308.8 1252.8L1332.9 1270L1330.2 1271.3z"/><path class="c190" d="M1303.5 1256.3L1306.1 1254.5L1330.2 1271.3L1327.6 1272.6z"/><path class="c188" d="M1300.9 1258.1L1303.5 1256.3L1327.6 1272.6L1325 1273.9z"/><path class="c187" d="M1298.3 1259.9L1300.9 1258.1L1325 1273.9L1322.4 1275.3z"/><path class="c185" d="M1295.6 1261.7L1298.3 1259.9L1322.4 1275.3L1319.8 1276.6z"/><path class="c184" d="M1293 1263.4L1295.6 1261.7L1319.8 1276.6L1317.1 1278z"/><path class="c182" d="M1290.4 1265.1L1293 1263.4L1317.1 1278L1314.5 1279.3z"/><path class="c181" d="M1287.8 1266.8L1290.4 1265.1L1314.5 1279.3L1311.9 1280.6z"/><path class="c179" d="M1285.1 1268.5L1287.8 1266.8L1311.9 1280.6L1309.2 1281.9z"/><path class="c178" d="M1282.5 1270.1L1285.1 1268.5L1309.2 1281.9L1306.6 1283.3z"/><path class="c176" d="M1279.9 1271.8L1282.5 1270.1L1306.6 1283.3L1304 1284.6z"/><path class="c175" d="M1277.3 1273.4L1279.9 1271.8L1304 1284.6L1301.4 1286z"/><path class="c173" d="M1274.6 1275.1L1277.3 1273.4L1301.4 1286L1298.8 1287.3z"/><path class="c172" d="M1272 1276.6L1274.6 1275.1L1298.8 1287.3L1296.1 1288.7z"/><path class="c171" d="M1269.4 1278.2L1272 1276.6L1296.1 1288.7L1293.5 1289.9z"/><path class="c170" d="M1266.8 1279.6L1269.4 1278.2L1293.5 1289.9L1290.9 1291.2z"/><path class="c169" d="M1264.1 1281L1266.8 1279.6L1290.9 1291.2L1288.2 1292.4z"/><path class="c168" d="M1261.5 1282.3L1264.1 1281L1288.2 1292.4L1285.6 1293.5z"/><path class="c167" d="M1258.9 1283.6L1261.5 1282.3L1285.6 1293.5L1283 1294.7z"/><path class="c166" d="M1256.3 1284.9L1258.9 1283.6L1283 1294.7L1280.4 1295.8z"/><path class="c165" d="M1253.6 1286.2L1256.3 1284.9L1280.4 1295.8L1277.8 1297z"/><path class="c164" d="M1251 1287.4L1253.6 1286.2L1277.8 1297L1275.1 1298.1z"/><path class="c163" d="M1248.4 1288.7L1251 1287.4L1275.1 1298.1L1272.5 1299.2z"/><path class="c162" d="M1245.8 1289.9L1248.4 1288.7L1272.5 1299.2L1269.9 1300.4z"/><path class="c161" d="M1240.5 1292.3L1245.8 1289.9L1269.9 1300.4L1264.6 1302.7z"/><path class="c160" d="M1237.9 1293.4L1240.5 1292.3L1264.6 1302.7L1262 1303.7z"/><path class="c159" d="M1232.6 1295.6L1237.9 1293.4L1262 1303.7L1256.8 1305.8z"/><path class="c158" d="M1227.4 1297.6L1232.6 1295.6L1256.8 1305.8L1251.5 1307.8z"/><path class="c157" d="M1224.8 1298.7L1227.4 1297.6L1251.5 1307.8L1248.9 1308.8z"/><path class="c156" d="M1219.5 1300.7L1224.8 1298.7L1248.9 1308.8L1243.6 1310.7z"/><path class="c155" d="M1211.6 1303.6L1219.5 1300.7L1243.6 1310.7L1235.8 1313.5z"/><path class="c154" d="M1195.9 1308L1211.6 1303.6L1235.8 1313.5L1220 1317.9z"/><path class="c153" d="M1153.9 1318.4L1195.9 1308L1220 1317.9L1178 1328.2z"/></g><g class="T"><path class="t136" d="M1487.8 1266L1493 1264.9"/><path class="t137" d="M1482.5 1266.6L1490.4 1265.5"/><path class="t138" d="M1479.9 1266.8L1485.1 1266.3"/><path class="t139" d="M1474.6 1266.9L1482.5 1266.6"/><path class="t141" d="M1472 1266.5L1474.6 1266.9L1477.2 1266.9"/><path class="t143" d="M1469.4 1265.9L1474.6 1266.9"/><path class="t145" d="M1466.8 1265.1L1472 1266.5"/><path class="t147" d="M1464.1 1264.2L1469.4 1265.9"/><path class="t149" d="M1461.5 1263.4L1466.8 1265.1"/><path class="t151" d="M1458.9 1262.6L1464.1 1264.2"/><path class="t153" d="M1456.2 1261.5L1461.5 1263.4"/><path class="t156" d="M1453.6 1260.4L1458.9 1262.6"/><path class="t158" d="M1451 1259.3L1456.2 1261.5"/><path class="t160" d="M1448.4 1258.3L1453.6 1260.4"/><path class="t163" d="M1445.8 1257.4L1451 1259.3"/><path class="t165" d="M1443.1 1256.5L1448.4 1258.3"/><path class="t167" d="M1440.5 1255.7L1445.8 1257.4"/><path class="t169" d="M1437.9 1255L1443.1 1256.5"/><path class="t170" d="M1435.2 1254.3L1440.5 1255.7"/><path class="t172" d="M1432.6 1253.7L1437.9 1255"/><path class="t174" d="M1430 1253.2L1435.2 1254.3"/><path class="t175" d="M1427.4 1252.7L1432.6 1253.7"/><path class="t177" d="M1424.8 1252.2L1430 1253.2"/><path class="t178" d="M1422.1 1251.8L1427.4 1252.7"/><path class="t180" d="M1419.5 1251.5L1424.8 1252.2"/><path class="t181" d="M1416.9 1251.2L1422.1 1251.8"/><path class="t182" d="M1414.2 1251.1L1419.5 1251.5"/><path class="t183" d="M1411.6 1251.1L1416.9 1251.2"/><path class="t184" d="M1409 1251.1L1414.2 1251.1"/><path class="t185" d="M1403.8 1251.3L1411.6 1251.1"/><path class="t186" d="M1398.5 1251.8L1406.4 1251.1"/><path class="t187" d="M1395.9 1251.8L1398.5 1251.8L1401.1 1251.5"/><path class="t188" d="M1393.2 1251.7L1398.5 1251.8"/><path class="t189" d="M1390.6 1251.7L1395.9 1251.8"/><path class="t190" d="M1388 1251.6L1393.2 1251.7"/><path class="t191" d="M1385.4 1251.6L1390.6 1251.7"/><path class="t192" d="M1382.8 1251.6L1388 1251.6"/><path class="t193" d="M1372.2 1253.7L1377.5 1252.2L1380.1 1251.8L1385.4 1251.6"/><path class="t192" d="M1364.4 1256.2L1374.9 1252.9"/><path class="t191" d="M1359.1 1258.1L1367 1255.4"/><path class="t190" d="M1353.9 1260.2L1361.8 1257.1"/><path class="t189" d="M1351.2 1261.3L1356.5 1259.1"/><path class="t188" d="M1348.6 1262.4L1353.9 1260.2"/><path class="t187" d="M1343.4 1264.9L1351.2 1261.3"/><path class="t186" d="M1340.8 1266.1L1346 1263.6"/><path class="t185" d="M1338.1 1267.4L1343.4 1264.9"/><path class="t184" d="M1335.5 1268.7L1340.8 1266.1"/><path class="t183" d="M1332.9 1270L1338.1 1267.4"/><path class="t182" d="M1330.2 1271.3L1335.5 1268.7"/><path class="t181" d="M1327.6 1272.6L1332.9 1270"/><path class="t180" d="M1325 1273.9L1330.2 1271.3"/><path class="t179" d="M1322.4 1275.3L1327.6 1272.6"/><path class="t178" d="M1319.8 1276.6L1325 1273.9"/><path class="t177" d="M1317.1 1278L1322.4 1275.3"/><path class="t176" d="M1314.5 1279.3L1319.8 1276.6"/><path class="t175" d="M1311.9 1280.6L1317.1 1278"/><path class="t174" d="M1309.2 1281.9L1314.5 1279.3"/><path class="t173" d="M1306.6 1283.3L1311.9 1280.6"/><path class="t172" d="M1304 1284.6L1309.2 1281.9"/><path class="t171" d="M1301.4 1286L1306.6 1283.3"/><path class="t170" d="M1298.8 1287.3L1304 1284.6"/><path class="t169" d="M1296.1 1288.7L1301.4 1286"/><path class="t168" d="M1293.5 1289.9L1298.8 1287.3"/><path class="t167" d="M1290.9 1291.2L1296.1 1288.7"/><path class="t166" d="M1285.6 1293.5L1293.5 1289.9"/><path class="t165" d="M1283 1294.7L1288.2 1292.4"/><path class="t164" d="M1280.4 1295.8L1285.6 1293.5"/><path class="t163" d="M1275.1 1298.1L1283 1294.7"/><path class="t162" d="M1272.5 1299.2L1277.8 1297"/><path class="t161" d="M1267.2 1301.5L1275.1 1298.1"/><path class="t160" d="M1264.6 1302.7L1269.9 1300.4"/><path class="t159" d="M1259.4 1304.8L1267.2 1301.5"/><path class="t158" d="M1254.1 1306.8L1262 1303.7"/><path class="t157" d="M1248.9 1308.8L1256.8 1305.8"/><path class="t156" d="M1243.6 1310.7L1251.5 1307.8"/><path class="t155" d="M1238.4 1312.6L1246.2 1309.8"/><path class="t154" d="M1222.6 1317.2L1241 1311.7"/><path class="t153" d="M1178 1328.2L1225.2 1316.6"/></g><g class="E"><path class="t136" d="M1493 1264.9L1517.1 1268.9"/><path class="t153" d="M1178 1328.2L1202.1 1338"/></g><g class="F"><path class="c136" d="M1487.8 1266L1493 1264.9L1517.1 1268.9L1511.8 1270.1z"/><path class="c137" d="M1482.5 1266.6L1487.8 1266L1511.8 1270.1L1506.6 1271.1z"/><path class="c138" d="M1479.9 1266.8L1482.5 1266.6L1506.6 1271.1L1504 1271.5z"/><path class="c139" d="M1474.6 1266.9L1479.9 1266.8L1504 1271.5L1498.7 1272.1z"/><path class="c141" d="M1472 1266.5L1474.6 1266.9L1498.7 1272.1L1496.1 1272.3z"/><path class="c143" d="M1469.4 1265.9L1472 1266.5L1496.1 1272.3L1493.5 1272.2z"/><path class="c145" d="M1466.8 1265.1L1469.4 1265.9L1493.5 1272.2L1490.8 1272.1z"/><path class="c147" d="M1464.1 1264.2L1466.8 1265.1L1490.8 1272.1L1488.2 1272z"/><path class="c149" d="M1461.5 1263.4L1464.1 1264.2L1488.2 1272L1485.6 1271.8z"/><path class="c151" d="M1458.9 1262.6L1461.5 1263.4L1485.6 1271.8L1483 1271.7z"/><path class="c153" d="M1456.2 1261.5L1458.9 1262.6L1483 1271.7L1480.3 1271.4z"/><path class="c156" d="M1453.6 1260.4L1456.2 1261.5L1480.3 1271.4L1477.7 1271.1z"/><path class="c158" d="M1451 1259.3L1453.6 1260.4L1477.7 1271.1L1475.1 1270.8z"/><path class="c160" d="M1448.4 1258.3L1451 1259.3L1475.1 1270.8L1472.5 1270.5z"/><path class="c163" d="M1445.8 1257.4L1448.4 1258.3L1472.5 1270.5L1469.8 1270.3z"/><path class="c165" d="M1443.1 1256.5L1445.8 1257.4L1469.8 1270.3L1467.2 1270.1z"/><path class="c167" d="M1440.5 1255.7L1443.1 1256.5L1467.2 1270.1L1464.6 1269.9z"/><path class="c169" d="M1437.9 1255L1440.5 1255.7L1464.6 1269.9L1462 1269.8z"/><path class="c170" d="M1435.2 1254.3L1437.9 1255L1462 1269.8L1459.3 1269.7z"/><path class="c172" d="M1432.6 1253.7L1435.2 1254.3L1459.3 1269.7L1456.7 1269.6z"/><path class="c174" d="M1430 1253.2L1432.6 1253.7L1456.7 1269.6L1454.1 1269.6z"/><path class="c175" d="M1427.4 1252.7L1430 1253.2L1454.1 1269.6L1451.5 1269.6z"/><path class="c177" d="M1424.8 1252.2L1427.4 1252.7L1451.5 1269.6L1448.8 1269.6z"/><path class="c178" d="M1422.1 1251.8L1424.8 1252.2L1448.8 1269.6L1446.2 1269.6z"/><path class="c180" d="M1419.5 1251.5L1422.1 1251.8L1446.2 1269.6L1443.6 1269.6z"/><path class="c181" d="M1416.9 1251.2L1419.5 1251.5L1443.6 1269.6L1441 1269.8z"/><path class="c182" d="M1414.2 1251.1L1416.9 1251.2L1441 1269.8L1438.3 1270z"/><path class="c183" d="M1411.6 1251.1L1414.2 1251.1L1438.3 1270L1435.7 1270.2z"/><path class="c184" d="M1409 1251.1L1411.6 1251.1L1435.7 1270.2L1433.1 1270.4z"/><path class="c185" d="M1403.8 1251.3L1409 1251.1L1433.1 1270.4L1427.8 1271z"/><path class="c186" d="M1398.5 1251.8L1403.8 1251.3L1427.8 1271L1422.6 1271.8z"/><path class="c187" d="M1395.9 1251.8L1398.5 1251.8L1422.6 1271.8L1420 1271.9z"/><path class="c188" d="M1393.2 1251.7L1395.9 1251.8L1420 1271.9L1417.3 1271.9z"/><path class="c189" d="M1390.6 1251.7L1393.2 1251.7L1417.3 1271.9L1414.7 1272z"/><path class="c190" d="M1388 1251.6L1390.6 1251.7L1414.7 1272L1412.1 1272.1z"/><path class="c191" d="M1385.4 1251.6L1388 1251.6L1412.1 1272.1L1409.5 1272.1z"/><path class="c192" d="M1382.8 1251.6L1385.4 1251.6L1409.5 1272.1L1406.8 1272.2z"/><path class="c193" d="M1372.2 1253.7L1377.5 1252.2L1380.1 1251.8L1382.8 1251.6L1406.8 1272.2L1401.6 1272.7L1396.3 1273.7z"/><path class="c192" d="M1364.4 1256.2L1372.2 1253.7L1396.3 1273.7L1388.5 1275.4z"/><path class="c191" d="M1359.1 1258.1L1364.4 1256.2L1388.5 1275.4L1383.2 1276.7z"/><path class="c190" d="M1353.9 1260.2L1359.1 1258.1L1383.2 1276.7L1378 1278.1z"/><path class="c189" d="M1351.2 1261.3L1353.9 1260.2L1378 1278.1L1375.3 1278.9z"/><path class="c188" d="M1348.6 1262.4L1351.2 1261.3L1375.3 1278.9L1372.7 1279.7z"/><path class="c187" d="M1343.4 1264.9L1348.6 1262.4L1372.7 1279.7L1367.5 1281.5z"/><path class="c186" d="M1340.8 1266.1L1343.4 1264.9L1367.5 1281.5L1364.8 1282.4z"/><path class="c185" d="M1338.1 1267.4L1340.8 1266.1L1364.8 1282.4L1362.2 1283.4z"/><path class="c184" d="M1335.5 1268.7L1338.1 1267.4L1362.2 1283.4L1359.6 1284.3z"/><path class="c183" d="M1332.9 1270L1335.5 1268.7L1359.6 1284.3L1357 1285.3z"/><path class="c182" d="M1330.2 1271.3L1332.9 1270L1357 1285.3L1354.3 1286.2z"/><path class="c181" d="M1327.6 1272.6L1330.2 1271.3L1354.3 1286.2L1351.7 1287.3z"/><path class="c180" d="M1325 1273.9L1327.6 1272.6L1351.7 1287.3L1349.1 1288.3z"/><path class="c179" d="M1322.4 1275.3L1325 1273.9L1349.1 1288.3L1346.5 1289.3z"/><path class="c178" d="M1319.8 1276.6L1322.4 1275.3L1346.5 1289.3L1343.8 1290.4z"/><path class="c177" d="M1317.1 1278L1319.8 1276.6L1343.8 1290.4L1341.2 1291.5z"/><path class="c176" d="M1314.5 1279.3L1317.1 1278L1341.2 1291.5L1338.6 1292.5z"/><path class="c175" d="M1311.9 1280.6L1314.5 1279.3L1338.6 1292.5L1336 1293.6z"/><path class="c174" d="M1309.2 1281.9L1311.9 1280.6L1336 1293.6L1333.3 1294.7z"/><path class="c173" d="M1306.6 1283.3L1309.2 1281.9L1333.3 1294.7L1330.7 1295.8z"/><path class="c172" d="M1304 1284.6L1306.6 1283.3L1330.7 1295.8L1328.1 1296.9z"/><path class="c171" d="M1301.4 1286L1304 1284.6L1328.1 1296.9L1325.5 1298z"/><path class="c170" d="M1298.8 1287.3L1301.4 1286L1325.5 1298L1322.8 1299.2z"/><path class="c169" d="M1296.1 1288.7L1298.8 1287.3L1322.8 1299.2L1320.2 1300.3z"/><path class="c168" d="M1293.5 1289.9L1296.1 1288.7L1320.2 1300.3L1317.6 1301.4z"/><path class="c167" d="M1290.9 1291.2L1293.5 1289.9L1317.6 1301.4L1315 1302.5z"/><path class="c166" d="M1285.6 1293.5L1290.9 1291.2L1315 1302.5L1309.7 1304.6z"/><path class="c165" d="M1283 1294.7L1285.6 1293.5L1309.7 1304.6L1307.1 1305.6z"/><path class="c164" d="M1280.4 1295.8L1283 1294.7L1307.1 1305.6L1304.5 1306.6z"/><path class="c163" d="M1275.1 1298.1L1280.4 1295.8L1304.5 1306.6L1299.2 1308.7z"/><path class="c162" d="M1272.5 1299.2L1275.1 1298.1L1299.2 1308.7L1296.6 1309.7z"/><path class="c161" d="M1267.2 1301.5L1272.5 1299.2L1296.6 1309.7L1291.3 1311.9z"/><path class="c160" d="M1264.6 1302.7L1267.2 1301.5L1291.3 1311.9L1288.7 1313z"/><path class="c159" d="M1259.4 1304.8L1264.6 1302.7L1288.7 1313L1283.5 1315z"/><path class="c158" d="M1254.1 1306.8L1259.4 1304.8L1283.5 1315L1278.2 1316.9z"/><path class="c157" d="M1248.9 1308.8L1254.1 1306.8L1278.2 1316.9L1273 1318.9z"/><path class="c156" d="M1243.6 1310.7L1248.9 1308.8L1273 1318.9L1267.7 1320.7z"/><path class="c155" d="M1238.4 1312.6L1243.6 1310.7L1267.7 1320.7L1262.5 1322.5z"/><path class="c154" d="M1222.6 1317.2L1238.4 1312.6L1262.5 1322.5L1246.7 1327.1z"/><path class="c153" d="M1178 1328.2L1222.6 1317.2L1246.7 1327.1L1202.1 1338z"/></g><g class="T"><path class="t144" d="M1511.8 1270.1L1517.1 1268.9"/><path class="t145" d="M1501.3 1271.9L1514.5 1269.6"/><path class="t146" d="M1498.7 1272.1L1504 1271.5"/><path class="t147" d="M1496.1 1272.3L1501.3 1271.9"/><path class="t148" d="M1493.5 1272.2L1498.7 1272.1"/><path class="t149" d="M1490.8 1272.1L1496.1 1272.3"/><path class="t150" d="M1488.2 1272L1493.5 1272.2"/><path class="t151" d="M1485.6 1271.8L1490.8 1272.1"/><path class="t152" d="M1483 1271.7L1488.2 1272"/><path class="t153" d="M1480.3 1271.4L1485.6 1271.8"/><path class="t154" d="M1477.7 1271.1L1483 1271.7"/><path class="t156" d="M1475.1 1270.8L1480.3 1271.4"/><path class="t157" d="M1472.5 1270.5L1477.7 1271.1"/><path class="t158" d="M1469.8 1270.3L1475.1 1270.8"/><path class="t159" d="M1467.2 1270.1L1472.5 1270.5"/><path class="t161" d="M1464.6 1269.9L1469.8 1270.3"/><path class="t162" d="M1462 1269.8L1467.2 1270.1"/><path class="t163" d="M1459.3 1269.7L1464.6 1269.9"/><path class="t164" d="M1456.7 1269.6L1462 1269.8"/><path class="t165" d="M1451.5 1269.6L1459.3 1269.7"/><path class="t166" d="M1448.8 1269.6L1454.1 1269.6"/><path class="t167" d="M1446.2 1269.6L1451.5 1269.6"/><path class="t168" d="M1443.6 1269.6L1448.8 1269.6"/><path class="t169" d="M1438.3 1270L1446.2 1269.6"/><path class="t170" d="M1433.1 1270.4L1441 1269.8"/><path class="t171" d="M1427.8 1271L1435.7 1270.2"/><path class="t172" d="M1422.6 1271.8L1430.5 1270.7"/><path class="t173" d="M1420 1271.9L1422.6 1271.8L1425.2 1271.4"/><path class="t174" d="M1414.7 1272L1422.6 1271.8"/><path class="t175" d="M1412.1 1272.1L1417.3 1271.9"/><path class="t176" d="M1409.5 1272.1L1414.7 1272"/><path class="t177" d="M1406.8 1272.2L1412.1 1272.1"/><path class="t178" d="M1391.1 1274.8L1401.6 1272.7L1406.8 1272.2L1409.5 1272.1"/><path class="t179" d="M1383.2 1276.7L1393.7 1274.2"/><path class="t178" d="M1372.7 1279.7L1385.8 1276"/><path class="t177" d="M1364.8 1282.4L1375.3 1278.9"/><path class="t176" d="M1359.6 1284.3L1367.5 1281.5"/><path class="t175" d="M1354.3 1286.2L1362.2 1283.4"/><path class="t174" d="M1349.1 1288.3L1357 1285.3"/><path class="t173" d="M1346.5 1289.3L1351.7 1287.3"/><path class="t172" d="M1341.2 1291.5L1349.1 1288.3"/><path class="t171" d="M1336 1293.6L1343.8 1290.4"/><path class="t170" d="M1333.3 1294.7L1338.6 1292.5"/><path class="t169" d="M1328.1 1296.9L1336 1293.6"/><path class="t168" d="M1325.5 1298L1330.7 1295.8"/><path class="t167" d="M1322.8 1299.2L1328.1 1296.9"/><path class="t166" d="M1317.6 1301.4L1325.5 1298"/><path class="t165" d="M1312.3 1303.5L1320.2 1300.3"/><path class="t164" d="M1309.7 1304.6L1315 1302.5"/><path class="t163" d="M1304.5 1306.6L1312.3 1303.5"/><path class="t162" d="M1299.2 1308.7L1307.1 1305.6"/><path class="t161" d="M1294 1310.8L1301.8 1307.6"/><path class="t160" d="M1291.3 1311.9L1296.6 1309.7"/><path class="t159" d="M1286.1 1314L1294 1310.8"/><path class="t158" d="M1280.8 1316L1288.7 1313"/><path class="t157" d="M1275.6 1317.9L1283.5 1315"/><path class="t156" d="M1270.3 1319.8L1278.2 1316.9"/><path class="t155" d="M1262.5 1322.5L1273 1318.9"/><path class="t154" d="M1249.3 1326.4L1265.1 1321.7"/><path class="t153" d="M1202.1 1338L1252 1325.8"/></g><g class="E"><path class="t144" d="M1517.1 1268.9L1541.2 1275.7"/><path class="t153" d="M1202.1 1338L1226.2 1347.9"/></g><g class="F"><path class="c144" d="M1511.8 1270.1L1517.1 1268.9L1541.2 1275.7L1536 1277z"/><path class="c145" d="M1501.3 1271.9L1511.8 1270.1L1536 1277L1525.5 1279.1z"/><path class="c146" d="M1498.7 1272.1L1501.3 1271.9L1525.5 1279.1L1522.8 1279.6z"/><path class="c147" d="M1496.1 1272.3L1498.7 1272.1L1522.8 1279.6L1520.2 1279.9z"/><path class="c148" d="M1493.5 1272.2L1496.1 1272.3L1520.2 1279.9L1517.6 1280.2z"/><path class="c149" d="M1490.8 1272.1L1493.5 1272.2L1517.6 1280.2L1515 1280.5z"/><path class="c150" d="M1488.2 1272L1490.8 1272.1L1515 1280.5L1512.3 1280.7z"/><path class="c151" d="M1485.6 1271.8L1488.2 1272L1512.3 1280.7L1509.7 1280.9z"/><path class="c152" d="M1483 1271.7L1485.6 1271.8L1509.7 1280.9L1507.1 1281.1z"/><path class="c153" d="M1480.3 1271.4L1483 1271.7L1507.1 1281.1L1504.5 1281.3z"/><path class="c154" d="M1477.7 1271.1L1480.3 1271.4L1504.5 1281.3L1501.8 1281.4z"/><path class="c156" d="M1475.1 1270.8L1477.7 1271.1L1501.8 1281.4L1499.2 1281.5z"/><path class="c157" d="M1472.5 1270.5L1475.1 1270.8L1499.2 1281.5L1496.6 1281.6z"/><path class="c158" d="M1469.8 1270.3L1472.5 1270.5L1496.6 1281.6L1494 1281.8z"/><path class="c159" d="M1467.2 1270.1L1469.8 1270.3L1494 1281.8L1491.3 1282z"/><path class="c161" d="M1464.6 1269.9L1467.2 1270.1L1491.3 1282L1488.7 1282.1z"/><path class="c162" d="M1462 1269.8L1464.6 1269.9L1488.7 1282.1L1486.1 1282.3z"/><path class="c163" d="M1459.3 1269.7L1462 1269.8L1486.1 1282.3L1483.5 1282.6z"/><path class="c164" d="M1456.7 1269.6L1459.3 1269.7L1483.5 1282.6L1480.8 1282.8z"/><path class="c165" d="M1451.5 1269.6L1456.7 1269.6L1480.8 1282.8L1475.6 1283.3z"/><path class="c166" d="M1448.8 1269.6L1451.5 1269.6L1475.6 1283.3L1473 1283.6z"/><path class="c167" d="M1446.2 1269.6L1448.8 1269.6L1473 1283.6L1470.3 1283.9z"/><path class="c168" d="M1443.6 1269.6L1446.2 1269.6L1470.3 1283.9L1467.7 1284.1z"/><path class="c169" d="M1438.3 1270L1443.6 1269.6L1467.7 1284.1L1462.5 1284.8z"/><path class="c170" d="M1433.1 1270.4L1438.3 1270L1462.5 1284.8L1457.2 1285.6z"/><path class="c171" d="M1427.8 1271L1433.1 1270.4L1457.2 1285.6L1452 1286.5z"/><path class="c172" d="M1422.6 1271.8L1427.8 1271L1452 1286.5L1446.7 1287.4z"/><path class="c173" d="M1420 1271.9L1422.6 1271.8L1446.7 1287.4L1444.1 1287.6z"/><path class="c174" d="M1414.7 1272L1420 1271.9L1444.1 1287.6L1438.8 1288z"/><path class="c175" d="M1412.1 1272.1L1414.7 1272L1438.8 1288L1436.2 1288.2z"/><path class="c176" d="M1409.5 1272.1L1412.1 1272.1L1436.2 1288.2L1433.6 1288.4z"/><path class="c177" d="M1406.8 1272.2L1409.5 1272.1L1433.6 1288.4L1431 1288.6z"/><path class="c178" d="M1391.1 1274.8L1401.6 1272.7L1406.8 1272.2L1431 1288.6L1415.2 1290.9z"/><path class="c179" d="M1383.2 1276.7L1391.1 1274.8L1415.2 1290.9L1407.3 1292.4z"/><path class="c178" d="M1372.7 1279.7L1383.2 1276.7L1407.3 1292.4L1396.8 1294.8z"/><path class="c177" d="M1364.8 1282.4L1372.7 1279.7L1396.8 1294.8L1389 1296.9z"/><path class="c176" d="M1359.6 1284.3L1364.8 1282.4L1389 1296.9L1383.7 1298.4z"/><path class="c175" d="M1354.3 1286.2L1359.6 1284.3L1383.7 1298.4L1378.5 1299.9z"/><path class="c174" d="M1349.1 1288.3L1354.3 1286.2L1378.5 1299.9L1373.2 1301.6z"/><path class="c173" d="M1346.5 1289.3L1349.1 1288.3L1373.2 1301.6L1370.6 1302.4z"/><path class="c172" d="M1341.2 1291.5L1346.5 1289.3L1370.6 1302.4L1365.3 1304.2z"/><path class="c171" d="M1336 1293.6L1341.2 1291.5L1365.3 1304.2L1360.1 1305.9z"/><path class="c170" d="M1333.3 1294.7L1336 1293.6L1360.1 1305.9L1357.5 1306.9z"/><path class="c169" d="M1328.1 1296.9L1333.3 1294.7L1357.5 1306.9L1352.2 1308.7z"/><path class="c168" d="M1325.5 1298L1328.1 1296.9L1352.2 1308.7L1349.6 1309.7z"/><path class="c167" d="M1322.8 1299.2L1325.5 1298L1349.6 1309.7L1347 1310.7z"/><path class="c166" d="M1317.6 1301.4L1322.8 1299.2L1347 1310.7L1341.7 1312.6z"/><path class="c165" d="M1312.3 1303.5L1317.6 1301.4L1341.7 1312.6L1336.5 1314.5z"/><path class="c164" d="M1309.7 1304.6L1312.3 1303.5L1336.5 1314.5L1333.8 1315.4z"/><path class="c163" d="M1304.5 1306.6L1309.7 1304.6L1333.8 1315.4L1328.6 1317.3z"/><path class="c162" d="M1299.2 1308.7L1304.5 1306.6L1328.6 1317.3L1323.3 1319.1z"/><path class="c161" d="M1294 1310.8L1299.2 1308.7L1323.3 1319.1L1318.1 1321.2z"/><path class="c160" d="M1291.3 1311.9L1294 1310.8L1318.1 1321.2L1315.5 1322.2z"/><path class="c159" d="M1286.1 1314L1291.3 1311.9L1315.5 1322.2L1310.2 1324.2z"/><path class="c158" d="M1280.8 1316L1286.1 1314L1310.2 1324.2L1305 1326.1z"/><path class="c157" d="M1275.6 1317.9L1280.8 1316L1305 1326.1L1299.7 1328z"/><path class="c156" d="M1270.3 1319.8L1275.6 1317.9L1299.7 1328L1294.5 1329.8z"/><path class="c155" d="M1262.5 1322.5L1270.3 1319.8L1294.5 1329.8L1286.6 1332.5z"/><path class="c154" d="M1249.3 1326.4L1262.5 1322.5L1286.6 1332.5L1273.5 1336.3z"/><path class="c153" d="M1202.1 1338L1249.3 1326.4L1273.5 1336.3L1226.2 1347.9z"/></g><g class="T"><path class="t148" d="M1538.6 1276.4L1541.2 1275.7"/><path class="t149" d="M1522.8 1279.6L1541.2 1275.7"/><path class="t150" d="M1517.6 1280.2L1525.5 1279.1"/><path class="t151" d="M1512.3 1280.7L1520.2 1279.9"/><path class="t152" d="M1507.1 1281.1L1515 1280.5"/><path class="t153" d="M1504.5 1281.3L1509.7 1280.9"/><path class="t154" d="M1501.8 1281.4L1507.1 1281.1"/><path class="t155" d="M1496.6 1281.6L1504.5 1281.3"/><path class="t156" d="M1494 1281.8L1499.2 1281.5"/><path class="t157" d="M1488.7 1282.1L1496.6 1281.6"/><path class="t158" d="M1483.5 1282.6L1491.3 1282"/><path class="t159" d="M1478.2 1283L1486.1 1282.3"/><path class="t160" d="M1473 1283.6L1480.8 1282.8"/><path class="t161" d="M1467.7 1284.1L1475.6 1283.3"/><path class="t162" d="M1462.5 1284.8L1470.3 1283.9"/><path class="t163" d="M1452 1286.5L1465.1 1284.5"/><path class="t164" d="M1446.7 1287.4L1454.6 1286"/><path class="t165" d="M1441.5 1287.8L1446.7 1287.4L1449.3 1286.9"/><path class="t166" d="M1436.2 1288.2L1444.1 1287.6"/><path class="t167" d="M1433.6 1288.4L1438.8 1288"/><path class="t168" d="M1428.3 1288.8L1436.2 1288.2"/><path class="t169" d="M1417.8 1290.4L1428.3 1288.8L1431 1288.6"/><path class="t170" d="M1381.1 1299.1L1407.3 1292.4L1420.5 1289.9"/><path class="t169" d="M1373.2 1301.6L1383.7 1298.4"/><path class="t168" d="M1365.3 1304.2L1375.8 1300.7"/><path class="t167" d="M1357.5 1306.9L1368 1303.3"/><path class="t166" d="M1352.2 1308.7L1360.1 1305.9"/><path class="t165" d="M1347 1310.7L1354.8 1307.8"/><path class="t164" d="M1341.7 1312.6L1349.6 1309.7"/><path class="t163" d="M1333.8 1315.4L1344.3 1311.7"/><path class="t162" d="M1328.6 1317.3L1336.5 1314.5"/><path class="t161" d="M1323.3 1319.1L1331.2 1316.4"/><path class="t160" d="M1318.1 1321.2L1326 1318.2"/><path class="t159" d="M1312.8 1323.2L1320.7 1320.1"/><path class="t158" d="M1307.6 1325.2L1315.5 1322.2"/><path class="t157" d="M1302.3 1327.1L1310.2 1324.2"/><path class="t156" d="M1294.5 1329.8L1305 1326.1"/><path class="t155" d="M1289.2 1331.6L1297.1 1328.9"/><path class="t154" d="M1276.1 1335.6L1291.8 1330.7"/><path class="t153" d="M1226.2 1347.9L1278.7 1334.9"/></g><g class="E"><path class="t148" d="M1541.2 1275.7L1565.3 1284"/><path class="t153" d="M1226.2 1347.9L1250.3 1357.7"/></g><g class="F"><path class="c148" d="M1538.6 1276.4L1541.2 1275.7L1565.3 1284L1562.7 1284.6z"/><path class="c149" d="M1522.8 1279.6L1538.6 1276.4L1562.7 1284.6L1546.9 1288.1z"/><path class="c150" d="M1517.6 1280.2L1522.8 1279.6L1546.9 1288.1L1541.7 1289.1z"/><path class="c151" d="M1512.3 1280.7L1517.6 1280.2L1541.7 1289.1L1536.4 1289.9z"/><path class="c152" d="M1507.1 1281.1L1512.3 1280.7L1536.4 1289.9L1531.2 1290.7z"/><path class="c153" d="M1504.5 1281.3L1507.1 1281.1L1531.2 1290.7L1528.5 1291.1z"/><path class="c154" d="M1501.8 1281.4L1504.5 1281.3L1528.5 1291.1L1525.9 1291.4z"/><path class="c155" d="M1496.6 1281.6L1501.8 1281.4L1525.9 1291.4L1520.7 1292.1z"/><path class="c156" d="M1494 1281.8L1496.6 1281.6L1520.7 1292.1L1518 1292.5z"/><path class="c157" d="M1488.7 1282.1L1494 1281.8L1518 1292.5L1512.8 1293.3z"/><path class="c158" d="M1483.5 1282.6L1488.7 1282.1L1512.8 1293.3L1507.5 1294.1z"/><path class="c159" d="M1478.2 1283L1483.5 1282.6L1507.5 1294.1L1502.3 1294.9z"/><path class="c160" d="M1473 1283.6L1478.2 1283L1502.3 1294.9L1497 1295.7z"/><path class="c161" d="M1467.7 1284.1L1473 1283.6L1497 1295.7L1491.8 1296.6z"/><path class="c162" d="M1462.5 1284.8L1467.7 1284.1L1491.8 1296.6L1486.5 1297.5z"/><path class="c163" d="M1452 1286.5L1462.5 1284.8L1486.5 1297.5L1476 1299.5z"/><path class="c164" d="M1446.7 1287.4L1452 1286.5L1476 1299.5L1470.8 1300.5z"/><path class="c165" d="M1441.5 1287.8L1446.7 1287.4L1470.8 1300.5L1465.5 1301.2z"/><path class="c166" d="M1436.2 1288.2L1441.5 1287.8L1465.5 1301.2L1460.3 1301.8z"/><path class="c167" d="M1433.6 1288.4L1436.2 1288.2L1460.3 1301.8L1457.7 1302.1z"/><path class="c168" d="M1428.3 1288.8L1433.6 1288.4L1457.7 1302.1L1452.4 1302.7z"/><path class="c169" d="M1417.8 1290.4L1428.3 1288.8L1452.4 1302.7L1441.9 1304.4z"/><path class="c170" d="M1381.1 1299.1L1407.3 1292.4L1417.8 1290.4L1441.9 1304.4L1405.2 1312z"/><path class="c169" d="M1373.2 1301.6L1381.1 1299.1L1405.2 1312L1397.3 1314z"/><path class="c168" d="M1365.3 1304.2L1373.2 1301.6L1397.3 1314L1389.4 1316.3z"/><path class="c167" d="M1357.5 1306.9L1365.3 1304.2L1389.4 1316.3L1381.5 1318.6z"/><path class="c166" d="M1352.2 1308.7L1357.5 1306.9L1381.5 1318.6L1376.3 1320.2z"/><path class="c165" d="M1347 1310.7L1352.2 1308.7L1376.3 1320.2L1371 1321.9z"/><path class="c164" d="M1341.7 1312.6L1347 1310.7L1371 1321.9L1365.8 1323.6z"/><path class="c163" d="M1333.8 1315.4L1341.7 1312.6L1365.8 1323.6L1357.9 1326.2z"/><path class="c162" d="M1328.6 1317.3L1333.8 1315.4L1357.9 1326.2L1352.7 1327.8z"/><path class="c161" d="M1323.3 1319.1L1328.6 1317.3L1352.7 1327.8L1347.4 1329.6z"/><path class="c160" d="M1318.1 1321.2L1323.3 1319.1L1347.4 1329.6L1342.2 1331.5z"/><path class="c159" d="M1312.8 1323.2L1318.1 1321.2L1342.2 1331.5L1336.9 1333.5z"/><path class="c158" d="M1307.6 1325.2L1312.8 1323.2L1336.9 1333.5L1331.7 1335.3z"/><path class="c157" d="M1302.3 1327.1L1307.6 1325.2L1331.7 1335.3L1326.4 1337.2z"/><path class="c156" d="M1294.5 1329.8L1302.3 1327.1L1326.4 1337.2L1318.5 1339.8z"/><path class="c155" d="M1289.2 1331.6L1294.5 1329.8L1318.5 1339.8L1313.3 1341.6z"/><path class="c154" d="M1276.1 1335.6L1289.2 1331.6L1313.3 1341.6L1300.2 1345.5z"/><path class="c153" d="M1226.2 1347.9L1276.1 1335.6L1300.2 1345.5L1250.3 1357.7z"/></g><g class="T"><path class="t151" d="M1544.3 1288.6L1565.3 1284"/><path class="t152" d="M1533.8 1290.3L1546.9 1288.1"/><path class="t153" d="M1528.5 1291.1L1536.4 1289.9"/><path class="t154" d="M1520.7 1292.1L1531.2 1290.7"/><path class="t155" d="M1512.8 1293.3L1523.3 1291.8"/><path class="t156" d="M1504.9 1294.5L1515.4 1292.9"/><path class="t157" d="M1494.4 1296.2L1507.5 1294.1"/><path class="t158" d="M1483.9 1298L1497 1295.7"/><path class="t159" d="M1470.8 1300.5L1486.5 1297.5"/><path class="t160" d="M1465.5 1301.2L1470.8 1300.5L1473.4 1300"/><path class="t161" d="M1457.7 1302.1L1468.2 1300.9"/><path class="t162" d="M1452.4 1302.7L1460.3 1301.8"/><path class="t163" d="M1444.5 1303.9L1455 1302.4"/><path class="t164" d="M1434 1305.7L1447.2 1303.5"/><path class="t165" d="M1389.4 1316.3L1428.8 1306.7L1436.7 1305.2"/><path class="t164" d="M1378.9 1319.4L1392 1315.5"/><path class="t163" d="M1371 1321.9L1381.5 1318.6"/><path class="t162" d="M1360.5 1325.3L1373.7 1321.1"/><path class="t161" d="M1352.7 1327.8L1363.2 1324.5"/><path class="t160" d="M1344.8 1330.4L1355.3 1327"/><path class="t159" d="M1339.5 1332.5L1347.4 1329.6"/><path class="t158" d="M1334.3 1334.4L1342.2 1331.5"/><path class="t157" d="M1329 1336.3L1336.9 1333.5"/><path class="t156" d="M1321.2 1338.9L1331.7 1335.3"/><path class="t155" d="M1313.3 1341.6L1323.8 1338"/><path class="t154" d="M1300.2 1345.5L1315.9 1340.7"/><path class="t153" d="M1250.3 1357.7L1302.8 1344.8"/></g><g class="E"><path class="t151" d="M1565.3 1284L1589.4 1293"/><path class="t153" d="M1250.3 1357.7L1274.4 1367.5"/></g><g class="F"><path class="c151" d="M1544.3 1288.6L1565.3 1284L1589.4 1293L1568.4 1297.8z"/><path class="c152" d="M1533.8 1290.3L1544.3 1288.6L1568.4 1297.8L1557.9 1299.9z"/><path class="c153" d="M1528.5 1291.1L1533.8 1290.3L1557.9 1299.9L1552.6 1300.9z"/><path class="c154" d="M1520.7 1292.1L1528.5 1291.1L1552.6 1300.9L1544.8 1302.4z"/><path class="c155" d="M1512.8 1293.3L1520.7 1292.1L1544.8 1302.4L1536.9 1303.8z"/><path class="c156" d="M1504.9 1294.5L1512.8 1293.3L1536.9 1303.8L1529 1305.3z"/><path class="c157" d="M1494.4 1296.2L1504.9 1294.5L1529 1305.3L1518.5 1307.4z"/><path class="c158" d="M1483.9 1298L1494.4 1296.2L1518.5 1307.4L1508 1309.5z"/><path class="c159" d="M1470.8 1300.5L1483.9 1298L1508 1309.5L1494.9 1312.3z"/><path class="c160" d="M1465.5 1301.2L1470.8 1300.5L1494.9 1312.3L1489.6 1313.1z"/><path class="c161" d="M1457.7 1302.1L1465.5 1301.2L1489.6 1313.1L1481.8 1314.3z"/><path class="c162" d="M1452.4 1302.7L1457.7 1302.1L1481.8 1314.3L1476.5 1315.1z"/><path class="c163" d="M1444.5 1303.9L1452.4 1302.7L1476.5 1315.1L1468.6 1316.4z"/><path class="c164" d="M1434 1305.7L1444.5 1303.9L1468.6 1316.4L1458.1 1318.2z"/><path class="c165" d="M1389.4 1316.3L1428.8 1306.7L1434 1305.7L1458.1 1318.2L1413.5 1327.9z"/><path class="c164" d="M1378.9 1319.4L1389.4 1316.3L1413.5 1327.9L1403 1330.6z"/><path class="c163" d="M1371 1321.9L1378.9 1319.4L1403 1330.6L1395.1 1332.9z"/><path class="c162" d="M1360.5 1325.3L1371 1321.9L1395.1 1332.9L1384.6 1336z"/><path class="c161" d="M1352.7 1327.8L1360.5 1325.3L1384.6 1336L1376.8 1338.3z"/><path class="c160" d="M1344.8 1330.4L1352.7 1327.8L1376.8 1338.3L1368.9 1340.7z"/><path class="c159" d="M1339.5 1332.5L1344.8 1330.4L1368.9 1340.7L1363.6 1342.7z"/><path class="c158" d="M1334.3 1334.4L1339.5 1332.5L1363.6 1342.7L1358.4 1344.6z"/><path class="c157" d="M1329 1336.3L1334.3 1334.4L1358.4 1344.6L1353.1 1346.3z"/><path class="c156" d="M1321.2 1338.9L1329 1336.3L1353.1 1346.3L1345.3 1349z"/><path class="c155" d="M1313.3 1341.6L1321.2 1338.9L1345.3 1349L1337.4 1351.5z"/><path class="c154" d="M1300.2 1345.5L1313.3 1341.6L1337.4 1351.5L1324.3 1355.3z"/><path class="c153" d="M1250.3 1357.7L1300.2 1345.5L1324.3 1355.3L1274.4 1367.5z"/></g><g class="T"><path class="t152" d="M1563.1 1298.9L1589.4 1293"/><path class="t153" d="M1550 1301.4L1565.8 1298.4"/><path class="t154" d="M1536.9 1303.8L1552.6 1300.9"/><path class="t155" d="M1521.1 1306.9L1539.5 1303.3"/><path class="t156" d="M1500.1 1311.1L1523.8 1306.3"/><path class="t157" d="M1489.6 1313.1L1502.8 1310.6"/><path class="t158" d="M1481.8 1314.3L1492.3 1312.7"/><path class="t159" d="M1471.3 1315.9L1484.4 1313.9"/><path class="t160" d="M1460.8 1317.7L1473.9 1315.5"/><path class="t161" d="M1447.6 1320.2L1463.4 1317.3"/><path class="t162" d="M1400.4 1331.4L1450.3 1319.7"/><path class="t161" d="M1387.3 1335.2L1403 1330.6"/><path class="t160" d="M1374.1 1339.1L1389.9 1334.5"/><path class="t159" d="M1366.3 1341.7L1376.8 1338.3"/><path class="t158" d="M1361 1343.6L1368.9 1340.7"/><path class="t157" d="M1355.8 1345.5L1363.6 1342.7"/><path class="t156" d="M1347.9 1348.1L1358.4 1344.6"/><path class="t155" d="M1340 1350.7L1350.5 1347.2"/><path class="t154" d="M1326.9 1354.6L1342.6 1349.8"/><path class="t153" d="M1274.4 1367.5L1329.5 1353.9"/></g><g class="E"><path class="t152" d="M1589.4 1293L1613.5 1302.4"/><path class="t153" d="M1274.4 1367.5L1298.5 1377.4"/></g><g class="F"><path class="c152" d="M1563.1 1298.9L1589.4 1293L1613.5 1302.4L1587.2 1308.5z"/><path class="c153" d="M1550 1301.4L1563.1 1298.9L1587.2 1308.5L1574.1 1311.3z"/><path class="c154" d="M1536.9 1303.8L1550 1301.4L1574.1 1311.3L1561 1314.1z"/><path class="c155" d="M1521.1 1306.9L1536.9 1303.8L1561 1314.1L1545.2 1317.4z"/><path class="c156" d="M1500.1 1311.1L1521.1 1306.9L1545.2 1317.4L1524.2 1322z"/><path class="c157" d="M1489.6 1313.1L1500.1 1311.1L1524.2 1322L1513.8 1324.1z"/><path class="c158" d="M1481.8 1314.3L1489.6 1313.1L1513.8 1324.1L1505.9 1325.6z"/><path class="c159" d="M1471.3 1315.9L1481.8 1314.3L1505.9 1325.6L1495.4 1327.4z"/><path class="c160" d="M1460.8 1317.7L1471.3 1315.9L1495.4 1327.4L1484.9 1329.3z"/><path class="c161" d="M1447.6 1320.2L1460.8 1317.7L1484.9 1329.3L1471.8 1331.8z"/><path class="c162" d="M1400.4 1331.4L1447.6 1320.2L1471.8 1331.8L1424.5 1342.3z"/><path class="c161" d="M1387.3 1335.2L1400.4 1331.4L1424.5 1342.3L1411.4 1345.9z"/><path class="c160" d="M1374.1 1339.1L1387.3 1335.2L1411.4 1345.9L1398.2 1349.5z"/><path class="c159" d="M1366.3 1341.7L1374.1 1339.1L1398.2 1349.5L1393 1351L1390.4 1351.9z"/><path class="c158" d="M1361 1343.6L1366.3 1341.7L1390.4 1351.9L1385.1 1353.8z"/><path class="c157" d="M1355.8 1345.5L1361 1343.6L1385.1 1353.8L1379.9 1355.6z"/><path class="c156" d="M1347.9 1348.1L1355.8 1345.5L1379.9 1355.6L1372 1358.1z"/><path class="c155" d="M1340 1350.7L1347.9 1348.1L1372 1358.1L1364.1 1360.6z"/><path class="c154" d="M1326.9 1354.6L1340 1350.7L1364.1 1360.6L1351 1364.5z"/><path class="c153" d="M1274.4 1367.5L1326.9 1354.6L1351 1364.5L1298.5 1377.4z"/></g><g class="T"><path class="t152" d="M1600.4 1305.5L1613.5 1302.4"/><path class="t153" d="M1568.9 1312.4L1603 1304.9"/><path class="t154" d="M1542.6 1318L1571.5 1311.9"/><path class="t155" d="M1513.8 1324.1L1545.2 1317.4"/><path class="t156" d="M1503.2 1326L1516.4 1323.7"/><path class="t157" d="M1490.1 1328.4L1505.9 1325.6"/><path class="t158" d="M1479.6 1330.3L1492.8 1327.9"/><path class="t159" d="M1461.2 1333.9L1482.2 1329.8"/><path class="t160" d="M1414 1345.1L1463.9 1333.4"/><path class="t159" d="M1395.6 1350.2L1416.6 1344.4"/><path class="t158" d="M1387.8 1352.9L1398.2 1349.5"/><path class="t157" d="M1382.5 1354.7L1390.4 1351.9"/><path class="t156" d="M1374.6 1357.3L1385.1 1353.8"/><path class="t155" d="M1364.1 1360.6L1377.2 1356.4"/><path class="t154" d="M1351 1364.5L1366.8 1359.8"/><path class="t153" d="M1298.5 1377.4L1353.6 1363.8"/></g><g class="E"><path class="t152" d="M1613.5 1302.4L1637.6 1312"/><path class="t153" d="M1298.5 1377.4L1322.6 1387.2"/></g><g class="F"><path class="c152" d="M1600.4 1305.5L1613.5 1302.4L1637.6 1312L1624.5 1315.2z"/><path class="c153" d="M1568.9 1312.4L1600.4 1305.5L1624.5 1315.2L1593 1322.3z"/><path class="c154" d="M1542.6 1318L1568.9 1312.4L1593 1322.3L1566.7 1328.2z"/><path class="c155" d="M1513.8 1324.1L1542.6 1318L1566.7 1328.2L1537.8 1334.7z"/><path class="c156" d="M1503.2 1326L1513.8 1324.1L1537.8 1334.7L1527.3 1336.7z"/><path class="c157" d="M1490.1 1328.4L1503.2 1326L1527.3 1336.7L1514.2 1339.3z"/><path class="c158" d="M1479.6 1330.3L1490.1 1328.4L1514.2 1339.3L1503.7 1341.3z"/><path class="c159" d="M1461.2 1333.9L1479.6 1330.3L1503.7 1341.3L1485.3 1345z"/><path class="c160" d="M1414 1345.1L1461.2 1333.9L1485.3 1345L1438.1 1355.7z"/><path class="c159" d="M1395.6 1350.2L1414 1345.1L1438.1 1355.7L1419.7 1360.5z"/><path class="c158" d="M1387.8 1352.9L1395.6 1350.2L1419.7 1360.5L1411.8 1363z"/><path class="c157" d="M1382.5 1354.7L1387.8 1352.9L1411.8 1363L1406.6 1364.8z"/><path class="c156" d="M1374.6 1357.3L1382.5 1354.7L1406.6 1364.8L1398.7 1367.3z"/><path class="c155" d="M1364.1 1360.6L1374.6 1357.3L1398.7 1367.3L1388.2 1370.5z"/><path class="c154" d="M1351 1364.5L1364.1 1360.6L1388.2 1370.5L1375.1 1374.4z"/><path class="c153" d="M1298.5 1377.4L1351 1364.5L1375.1 1374.4L1322.6 1387.2z"/></g><g class="T"><path class="t153" d="M1585.1 1324.1L1637.6 1312"/><path class="t154" d="M1537.8 1334.7L1587.7 1323.5"/><path class="t155" d="M1522.1 1337.8L1540.5 1334.1"/><path class="t156" d="M1506.3 1340.8L1524.7 1337.2"/><path class="t157" d="M1490.6 1343.9L1509 1340.3"/><path class="t158" d="M1467 1348.8L1493.2 1343.4"/><path class="t159" d="M1438.1 1355.7L1469.6 1348.2"/><path class="t158" d="M1417.1 1361.2L1440.7 1355"/><path class="t157" d="M1409.2 1363.9L1417.1 1361.2L1419.7 1360.5"/><path class="t156" d="M1401.3 1366.4L1411.8 1363"/><path class="t155" d="M1390.8 1369.7L1404 1365.6"/><path class="t154" d="M1377.7 1373.6L1393.5 1368.9"/><path class="t153" d="M1322.6 1387.2L1380.3 1372.9"/></g><g class="E"><path class="t153" d="M1637.6 1312L1661.7 1321.7"/><path class="t153" d="M1322.6 1387.2L1346.7 1397"/></g><g class="F"><path class="c153" d="M1585.1 1324.1L1637.6 1312L1661.7 1321.7L1609.2 1334z"/><path class="c154" d="M1537.8 1334.7L1585.1 1324.1L1609.2 1334L1562 1344.9z"/><path class="c155" d="M1522.1 1337.8L1537.8 1334.7L1562 1344.9L1546.2 1348.2z"/><path class="c156" d="M1506.3 1340.8L1522.1 1337.8L1546.2 1348.2L1530.5 1351.5z"/><path class="c157" d="M1490.6 1343.9L1506.3 1340.8L1530.5 1351.5L1514.7 1354.6z"/><path class="c158" d="M1467 1348.8L1490.6 1343.9L1514.7 1354.6L1491.1 1359.5z"/><path class="c159" d="M1438.1 1355.7L1467 1348.8L1491.1 1359.5L1462.2 1366.1z"/><path class="c158" d="M1417.1 1361.2L1438.1 1355.7L1462.2 1366.1L1441.2 1371.3z"/><path class="c157" d="M1409.2 1363.9L1417.1 1361.2L1441.2 1371.3L1433.3 1374z"/><path class="c156" d="M1401.3 1366.4L1409.2 1363.9L1433.3 1374L1425.5 1376.5z"/><path class="c155" d="M1390.8 1369.7L1401.3 1366.4L1425.5 1376.5L1415 1379.7z"/><path class="c154" d="M1377.7 1373.6L1390.8 1369.7L1415 1379.7L1401.8 1383.5z"/><path class="c153" d="M1322.6 1387.2L1377.7 1373.6L1401.8 1383.5L1346.7 1397z"/></g><g class="T"><path class="t153" d="M1593.5 1337.7L1661.7 1321.7"/><path class="t154" d="M1548.8 1347.7L1596.1 1337.1"/><path class="t155" d="M1527.8 1352L1551.5 1347.1"/><path class="t156" d="M1509.5 1355.7L1530.5 1351.5"/><path class="t157" d="M1485.8 1360.7L1512.1 1355.2"/><path class="t158" d="M1446.5 1370L1488.5 1360.1"/><path class="t157" d="M1436 1373.1L1441.2 1371.3L1449.1 1369.3"/><path class="t156" d="M1425.5 1376.5L1438.6 1372.2"/><path class="t155" d="M1415 1379.7L1428.1 1375.7"/><path class="t154" d="M1401.8 1383.5L1417.6 1378.9"/><path class="t153" d="M1346.7 1397L1404.5 1382.8"/></g><g class="E"><path class="t153" d="M1661.7 1321.7L1685.8 1331.5"/><path class="t153" d="M1346.7 1397L1370.8 1406.9"/></g><g class="F"><path class="c153" d="M1593.5 1337.7L1661.7 1321.7L1685.8 1331.5L1617.5 1347.6z"/><path class="c154" d="M1548.8 1347.7L1593.5 1337.7L1617.5 1347.6L1572.9 1357.9z"/><path class="c155" d="M1527.8 1352L1548.8 1347.7L1572.9 1357.9L1551.9 1362.4z"/><path class="c156" d="M1509.5 1355.7L1527.8 1352L1551.9 1362.4L1533.5 1366.2z"/><path class="c157" d="M1485.8 1360.7L1509.5 1355.7L1533.5 1366.2L1509.9 1371.2z"/><path class="c158" d="M1446.5 1370L1485.8 1360.7L1509.9 1371.2L1470.5 1380.2z"/><path class="c157" d="M1436 1373.1L1441.2 1371.3L1446.5 1370L1470.5 1380.2L1465.3 1381.5L1460 1383.2z"/><path class="c156" d="M1425.5 1376.5L1436 1373.1L1460 1383.2L1449.5 1386.5z"/><path class="c155" d="M1415 1379.7L1425.5 1376.5L1449.5 1386.5L1439 1389.6z"/><path class="c154" d="M1401.8 1383.5L1415 1379.7L1439 1389.6L1425.9 1393.4z"/><path class="c153" d="M1346.7 1397L1401.8 1383.5L1425.9 1393.4L1370.8 1406.9z"/></g><g class="T"><path class="t153" d="M1591.3 1353.8L1685.8 1331.5"/><path class="t154" d="M1557.2 1361.3L1593.9 1353.2"/><path class="t155" d="M1533.5 1366.2L1559.8 1360.7"/><path class="t156" d="M1509.9 1371.2L1536.2 1365.7"/><path class="t157" d="M1462.7 1382.3L1512.5 1370.6"/><path class="t156" d="M1454.8 1384.9L1465.3 1381.5"/><path class="t155" d="M1441.7 1388.8L1457.4 1384"/><path class="t154" d="M1425.9 1393.4L1444.3 1388"/><path class="t153" d="M1370.8 1406.9L1428.5 1392.6"/></g></g>
<path d="M1129.8 1236L1129.8 1452.1" stroke="#262626" stroke-width="3.4" fill="none"/>
<path d="M1130.3 1419.9L1118.3 1415.9M1130.3 1364.3L1118.3 1360.3M1130.3 1308.8L1118.3 1304.8M1130.3 1253.2L1118.3 1249.2M1251.3 1499.5L1239.8 1501.5M1527.3 1510.9L1539.3 1514.8M1683.8 1473.2L1697.8 1476.9M1362.3 1550.1L1381.3 1550.1M1130.3 1450.9L1118.3 1450.9" stroke="#262626" stroke-width="3.2" fill="none"/>
<g font-family="'Liberation Serif','DejaVu Serif',serif" font-size="61" fill="#262626" stroke="#fff" stroke-width="1.1"><text x="1110.1" y="1432.9" text-anchor="end" letter-spacing="-1.1">‐400</text><text x="1110.1" y="1377.3" text-anchor="end" letter-spacing="-1.1">‐200</text><text x="1110.1" y="1321.8" text-anchor="end" letter-spacing="-1.1">0</text><text x="1110.1" y="1266.2" text-anchor="end" letter-spacing="-1.1">200</text><text x="1105.8" y="1509.1" text-anchor="end">0</text><text x="1227.3" y="1558.2" text-anchor="end" letter-spacing="-2.2">0.5</text><text x="1346.8" y="1607.4" text-anchor="end">1</text><text x="1389.8" y="1611.4">0</text><text x="1547.3" y="1573.7">1</text><text x="1704.8" y="1536">2</text><text x="1133.8" y="1660.6" font-style="italic" font-size="62">ζ</text><text x="1574.8" y="1661.6" font-style="italic" font-size="62">t</text><text x="915.5" y="1306.5"><tspan font-style="italic">e</tspan><tspan font-size="49" dx="0" dy="27" letter-spacing="-1.2">32</tspan></text></g></g>
<g><path d="M262.3 2022.5L577.3 1947.1M382.8 2071.7L697.8 1996.2M419.8 1984.8L660.8 2083.1M577.3 1947.1L818.3 2045.4M419.8 1984.8L419.8 1770.2M577.3 1947.1L577.3 1732.5M697.8 1996.2L697.8 1781.7M818.3 2045.4L818.3 1830.8M262.3 2019.7L577.3 1944.3M577.3 1944.3L818.3 2042.6M262.3 1943.8L577.3 1868.4M577.3 1868.4L818.3 1966.7M262.3 1867.9L577.3 1792.5M577.3 1792.5L818.3 1890.8" stroke="#e0e0e0" stroke-width="3" fill="none"/>
<path d="M262.3 2022.5L495.9 2117.8M511.1 2118.9L818.3 2045.4" stroke="#262626" stroke-width="3.2" fill="none"/>
<clipPath id="cp6"><rect x="257.8" y="1729" width="565" height="394.3"/></clipPath><g clip-path="url(#cp6)"><g class="T"><path class="t254" d="M572 1735.4L577.3 1732.8"/><path class="t252" d="M569.4 1736.9L574.7 1734"/><path class="t251" d="M566.8 1738.6L572 1735.4"/><path class="t250" d="M564.2 1740.5L569.4 1736.9"/><path class="t248" d="M561.5 1742.4L566.8 1738.6"/><path class="t246" d="M558.9 1744.4L564.2 1740.5"/><path class="t244" d="M556.3 1746.7L561.5 1742.4"/><path class="t242" d="M553.7 1749.3L558.9 1744.4"/><path class="t239" d="M551 1752L556.3 1746.7"/><path class="t237" d="M548.4 1755L553.7 1749.3"/><path class="t234" d="M545.8 1758L551 1752"/><path class="t230" d="M543.2 1761.4L548.4 1755"/><path class="t227" d="M540.5 1765.1L545.8 1758"/><path class="t223" d="M537.9 1769L543.2 1761.4"/><path class="t218" d="M535.3 1773.3L540.5 1765.1"/><path class="t214" d="M532.7 1777.7L537.9 1769"/><path class="t209" d="M530 1782.3L535.3 1773.3"/><path class="t204" d="M527.4 1787.2L532.7 1777.7"/><path class="t198" d="M524.8 1792.4L530 1782.3"/><path class="t192" d="M522.2 1797.9L527.4 1787.2"/><path class="t186" d="M519.5 1803.6L524.8 1792.4"/><path class="t180" d="M516.9 1809.4L522.2 1797.9"/><path class="t174" d="M514.3 1815.1L519.5 1803.6"/><path class="t168" d="M511.7 1820.7L516.9 1809.4"/><path class="t162" d="M509.1 1826.5L514.3 1815.1"/><path class="t155" d="M506.4 1832.3L511.7 1820.7"/><path class="t149" d="M503.8 1838.2L509.1 1826.5"/><path class="t143" d="M501.2 1844L506.4 1832.3"/><path class="t136" d="M498.6 1849.8L503.8 1838.2"/><path class="t130" d="M495.9 1855.7L501.2 1844"/><path class="t124" d="M493.3 1861.5L498.6 1849.8"/><path class="t118" d="M490.7 1867.4L495.9 1855.7"/><path class="t111" d="M488.1 1873.2L493.3 1861.5"/><path class="t105" d="M485.4 1878.9L490.7 1867.4"/><path class="t99" d="M482.8 1884.5L488.1 1873.2"/><path class="t93" d="M480.2 1890.1L485.4 1878.9"/><path class="t87" d="M477.6 1895.6L482.8 1884.5"/><path class="t81" d="M474.9 1901.1L480.2 1890.1"/><path class="t76" d="M472.3 1906.4L477.6 1895.6"/><path class="t70" d="M469.7 1911.6L474.9 1901.1"/><path class="t65" d="M467.1 1916.5L472.3 1906.4"/><path class="t60" d="M464.4 1921.2L469.7 1911.6"/><path class="t55" d="M461.8 1925.8L467.1 1916.5"/><path class="t51" d="M459.2 1930.3L464.4 1921.2"/><path class="t46" d="M456.6 1934.6L461.8 1925.8"/><path class="t42" d="M453.9 1938.7L459.2 1930.3"/><path class="t38" d="M451.3 1942.5L456.6 1934.6"/><path class="t35" d="M448.7 1946L453.9 1938.7"/><path class="t31" d="M446.1 1949.5L451.3 1942.5"/><path class="t28" d="M443.4 1952.8L448.7 1946"/><path class="t25" d="M440.8 1956L446.1 1949.5"/><path class="t22" d="M438.2 1958.9L443.4 1952.8"/><path class="t20" d="M435.6 1961.5L440.8 1956"/><path class="t17" d="M432.9 1964L438.2 1958.9"/><path class="t15" d="M430.3 1966.3L435.6 1961.5"/><path class="t13" d="M427.7 1968.5L432.9 1964"/><path class="t12" d="M425 1970.6L430.3 1966.3"/><path class="t10" d="M422.4 1972.5L427.7 1968.5"/><path class="t9" d="M419.8 1974.3L425 1970.6"/><path class="t8" d="M417.2 1975.9L422.4 1972.5"/><path class="t6" d="M414.6 1977.5L419.8 1974.3"/><path class="t5" d="M411.9 1979L417.2 1975.9"/><path class="t4" d="M406.7 1981.7L414.6 1977.5"/><path class="t3" d="M404.1 1982.9L409.3 1980.4"/><path class="t2" d="M396.2 1986L406.7 1981.7"/><path class="t1" d="M390.9 1987.9L398.8 1985"/><path class="t0" d="M262.3 2019.7L383.1 1990.4L393.6 1987"/></g><g class="E"><path class="t254" d="M577.3 1732.8L601.4 1867.4"/><path class="t0" d="M262.3 2019.7L286.4 2029.5"/></g><g class="F"><path class="c254" d="M572 1735.4L577.3 1732.8L601.4 1867.4L596.2 1868.5z"/><path class="c252" d="M569.4 1736.9L572 1735.4L596.2 1868.5L593.5 1869.2z"/><path class="c251" d="M566.8 1738.6L569.4 1736.9L593.5 1869.2L590.9 1869.9z"/><path class="c250" d="M564.2 1740.5L566.8 1738.6L590.9 1869.9L588.3 1870.7z"/><path class="c248" d="M561.5 1742.4L564.2 1740.5L588.3 1870.7L585.7 1871.5z"/><path class="c246" d="M558.9 1744.4L561.5 1742.4L585.7 1871.5L583 1872.4z"/><path class="c244" d="M556.3 1746.7L558.9 1744.4L583 1872.4L580.4 1873.4z"/><path class="c242" d="M553.7 1749.3L556.3 1746.7L580.4 1873.4L577.8 1874.5z"/><path class="c239" d="M551 1752L553.7 1749.3L577.8 1874.5L575.2 1875.7z"/><path class="c237" d="M548.4 1755L551 1752L575.2 1875.7L572.5 1877z"/><path class="c234" d="M545.8 1758L548.4 1755L572.5 1877L569.9 1878.3z"/><path class="c230" d="M543.2 1761.4L545.8 1758L569.9 1878.3L567.3 1879.8z"/><path class="c227" d="M540.5 1765.1L543.2 1761.4L567.3 1879.8L564.7 1881.4z"/><path class="c223" d="M537.9 1769L540.5 1765.1L564.7 1881.4L562 1883.2z"/><path class="c218" d="M535.3 1773.3L537.9 1769L562 1883.2L559.4 1885.1z"/><path class="c214" d="M532.7 1777.7L535.3 1773.3L559.4 1885.1L556.8 1887.1z"/><path class="c209" d="M530 1782.3L532.7 1777.7L556.8 1887.1L554.2 1889.2z"/><path class="c204" d="M527.4 1787.2L530 1782.3L554.2 1889.2L551.5 1891.4z"/><path class="c198" d="M524.8 1792.4L527.4 1787.2L551.5 1891.4L548.9 1893.8z"/><path class="c192" d="M522.2 1797.9L524.8 1792.4L548.9 1893.8L546.3 1896.3z"/><path class="c186" d="M519.5 1803.6L522.2 1797.9L546.3 1896.3L543.7 1898.9z"/><path class="c180" d="M516.9 1809.4L519.5 1803.6L543.7 1898.9L541 1901.6z"/><path class="c174" d="M514.3 1815.1L516.9 1809.4L541 1901.6L538.4 1904.3z"/><path class="c168" d="M511.7 1820.7L514.3 1815.1L538.4 1904.3L535.8 1906.9z"/><path class="c162" d="M509.1 1826.5L511.7 1820.7L535.8 1906.9L533.2 1909.7z"/><path class="c155" d="M506.4 1832.3L509.1 1826.5L533.2 1909.7L530.5 1912.4z"/><path class="c149" d="M503.8 1838.2L506.4 1832.3L530.5 1912.4L527.9 1915.2z"/><path class="c143" d="M501.2 1844L503.8 1838.2L527.9 1915.2L525.3 1918z"/><path class="c136" d="M498.6 1849.8L501.2 1844L525.3 1918L522.7 1920.9z"/><path class="c130" d="M495.9 1855.7L498.6 1849.8L522.7 1920.9L520 1923.7z"/><path class="c124" d="M493.3 1861.5L495.9 1855.7L520 1923.7L517.4 1926.6z"/><path class="c118" d="M490.7 1867.4L493.3 1861.5L517.4 1926.6L514.8 1929.4z"/><path class="c111" d="M488.1 1873.2L490.7 1867.4L514.8 1929.4L512.2 1932.3z"/><path class="c105" d="M485.4 1878.9L488.1 1873.2L512.2 1932.3L509.5 1935.2z"/><path class="c99" d="M482.8 1884.5L485.4 1878.9L509.5 1935.2L506.9 1938z"/><path class="c93" d="M480.2 1890.1L482.8 1884.5L506.9 1938L504.3 1940.8z"/><path class="c87" d="M477.6 1895.6L480.2 1890.1L504.3 1940.8L501.7 1943.7z"/><path class="c81" d="M474.9 1901.1L477.6 1895.6L501.7 1943.7L499 1946.5z"/><path class="c76" d="M472.3 1906.4L474.9 1901.1L499 1946.5L496.4 1949.2z"/><path class="c70" d="M469.7 1911.6L472.3 1906.4L496.4 1949.2L493.8 1951.9z"/><path class="c65" d="M467.1 1916.5L469.7 1911.6L493.8 1951.9L491.2 1954.5z"/><path class="c60" d="M464.4 1921.2L467.1 1916.5L491.2 1954.5L488.5 1956.6z"/><path class="c55" d="M461.8 1925.8L464.4 1921.2L488.5 1956.6L485.9 1958.7z"/><path class="c51" d="M459.2 1930.3L461.8 1925.8L485.9 1958.7L483.3 1960.8z"/><path class="c46" d="M456.6 1934.6L459.2 1930.3L483.3 1960.8L480.7 1963z"/><path class="c42" d="M453.9 1938.7L456.6 1934.6L480.7 1963L478 1965z"/><path class="c38" d="M451.3 1942.5L453.9 1938.7L478 1965L475.4 1967z"/><path class="c35" d="M448.7 1946L451.3 1942.5L475.4 1967L472.8 1968.9z"/><path class="c31" d="M446.1 1949.5L448.7 1946L472.8 1968.9L470.2 1970.9z"/><path class="c28" d="M443.4 1952.8L446.1 1949.5L470.2 1970.9L467.5 1972.8z"/><path class="c25" d="M440.8 1956L443.4 1952.8L467.5 1972.8L464.9 1974.6z"/><path class="c22" d="M438.2 1958.9L440.8 1956L464.9 1974.6L462.3 1976.4z"/><path class="c20" d="M435.6 1961.5L438.2 1958.9L462.3 1976.4L459.7 1978z"/><path class="c17" d="M432.9 1964L435.6 1961.5L459.7 1978L457 1979.6z"/><path class="c15" d="M430.3 1966.3L432.9 1964L457 1979.6L454.4 1981.2z"/><path class="c13" d="M427.7 1968.5L430.3 1966.3L454.4 1981.2L451.8 1982.6z"/><path class="c12" d="M425 1970.6L427.7 1968.5L451.8 1982.6L449.1 1984.1z"/><path class="c10" d="M422.4 1972.5L425 1970.6L449.1 1984.1L446.5 1985.5z"/><path class="c9" d="M419.8 1974.3L422.4 1972.5L446.5 1985.5L443.9 1986.7z"/><path class="c8" d="M417.2 1975.9L419.8 1974.3L443.9 1986.7L441.3 1988z"/><path class="c6" d="M414.6 1977.5L417.2 1975.9L441.3 1988L438.7 1989.2z"/><path class="c5" d="M411.9 1979L414.6 1977.5L438.7 1989.2L436 1990.4z"/><path class="c4" d="M406.7 1981.7L411.9 1979L436 1990.4L430.8 1992.5z"/><path class="c3" d="M404.1 1982.9L406.7 1981.7L430.8 1992.5L428.2 1993.5z"/><path class="c2" d="M396.2 1986L404.1 1982.9L428.2 1993.5L420.3 1996.2z"/><path class="c1" d="M390.9 1987.9L396.2 1986L420.3 1996.2L415 1998z"/><path class="c0" d="M262.3 2019.7L383.1 1990.4L390.9 1987.9L415 1998L286.4 2029.5z"/></g><g class="T"><path class="t104" d="M598.8 1867.9L601.4 1867.4"/><path class="t105" d="M596.2 1868.5L601.4 1867.4"/><path class="t104" d="M583 1872.4L596.2 1868.5L598.8 1867.9"/><path class="t103" d="M577.8 1874.5L585.7 1871.5"/><path class="t102" d="M575.2 1875.7L580.4 1873.4"/><path class="t101" d="M572.5 1877L577.8 1874.5"/><path class="t100" d="M569.9 1878.3L575.2 1875.7"/><path class="t99" d="M567.3 1879.8L572.5 1877"/><path class="t98" d="M564.7 1881.4L569.9 1878.3"/><path class="t97" d="M562 1883.2L567.3 1879.8"/><path class="t95" d="M559.4 1885.1L564.7 1881.4"/><path class="t93" d="M556.8 1887.1L562 1883.2"/><path class="t92" d="M554.2 1889.2L559.4 1885.1"/><path class="t90" d="M551.5 1891.4L556.8 1887.1"/><path class="t88" d="M548.9 1893.8L554.2 1889.2"/><path class="t85" d="M546.3 1896.3L551.5 1891.4"/><path class="t83" d="M543.7 1898.9L548.9 1893.8"/><path class="t80" d="M541 1901.6L546.3 1896.3"/><path class="t78" d="M538.4 1904.3L543.7 1898.9"/><path class="t76" d="M535.8 1906.9L541 1901.6"/><path class="t73" d="M533.2 1909.7L538.4 1904.3"/><path class="t70" d="M530.5 1912.4L535.8 1906.9"/><path class="t68" d="M527.9 1915.2L533.2 1909.7"/><path class="t65" d="M525.3 1918L530.5 1912.4"/><path class="t62" d="M522.7 1920.9L527.9 1915.2"/><path class="t60" d="M520 1923.7L525.3 1918"/><path class="t57" d="M517.4 1926.6L522.7 1920.9"/><path class="t54" d="M514.8 1929.4L520 1923.7"/><path class="t52" d="M512.2 1932.3L517.4 1926.6"/><path class="t49" d="M509.5 1935.2L514.8 1929.4"/><path class="t46" d="M506.9 1938L512.2 1932.3"/><path class="t44" d="M504.3 1940.8L509.5 1935.2"/><path class="t41" d="M501.7 1943.7L506.9 1938"/><path class="t38" d="M499 1946.5L504.3 1940.8"/><path class="t36" d="M496.4 1949.2L501.7 1943.7"/><path class="t33" d="M493.8 1951.9L499 1946.5"/><path class="t31" d="M491.2 1954.5L496.4 1949.2"/><path class="t29" d="M488.5 1956.6L491.2 1954.5L493.8 1951.9"/><path class="t27" d="M485.9 1958.7L491.2 1954.5"/><path class="t26" d="M483.3 1960.8L488.5 1956.6"/><path class="t24" d="M480.7 1963L485.9 1958.7"/><path class="t22" d="M478 1965L483.3 1960.8"/><path class="t20" d="M475.4 1967L480.7 1963"/><path class="t19" d="M472.8 1968.9L478 1965"/><path class="t17" d="M470.2 1970.9L475.4 1967"/><path class="t16" d="M467.5 1972.8L472.8 1968.9"/><path class="t14" d="M464.9 1974.6L470.2 1970.9"/><path class="t13" d="M462.3 1976.4L467.5 1972.8"/><path class="t12" d="M459.7 1978L464.9 1974.6"/><path class="t10" d="M457 1979.6L462.3 1976.4"/><path class="t9" d="M454.4 1981.2L459.7 1978"/><path class="t8" d="M451.8 1982.6L457 1979.6"/><path class="t7" d="M449.1 1984.1L454.4 1981.2"/><path class="t6" d="M443.9 1986.7L451.8 1982.6"/><path class="t5" d="M441.3 1988L446.5 1985.5"/><path class="t4" d="M436 1990.4L443.9 1986.7"/><path class="t3" d="M433.4 1991.5L438.7 1989.2"/><path class="t2" d="M425.5 1994.4L436 1990.4"/><path class="t1" d="M417.7 1997.1L428.2 1993.5"/><path class="t0" d="M286.4 2029.5L409.8 1999.6L420.3 1996.2"/></g><g class="E"><path class="t104" d="M601.4 1867.4L625.5 1928.4"/><path class="t0" d="M286.4 2029.5L310.5 2039.4"/></g><g class="F"><path class="c104" d="M598.8 1867.9L601.4 1867.4L625.5 1928.4L622.9 1928.8z"/><path class="c105" d="M596.2 1868.5L598.8 1867.9L622.9 1928.8L620.2 1929.3z"/><path class="c104" d="M583 1872.4L596.2 1868.5L620.2 1929.3L607.1 1932z"/><path class="c103" d="M577.8 1874.5L583 1872.4L607.1 1932L601.9 1933.4z"/><path class="c102" d="M575.2 1875.7L577.8 1874.5L601.9 1933.4L599.2 1934.1z"/><path class="c101" d="M572.5 1877L575.2 1875.7L599.2 1934.1L596.6 1934.9z"/><path class="c100" d="M569.9 1878.3L572.5 1877L596.6 1934.9L594 1935.7z"/><path class="c99" d="M567.3 1879.8L569.9 1878.3L594 1935.7L591.4 1936.5z"/><path class="c98" d="M564.7 1881.4L567.3 1879.8L591.4 1936.5L588.8 1937.4z"/><path class="c97" d="M562 1883.2L564.7 1881.4L588.8 1937.4L586.1 1938.4z"/><path class="c95" d="M559.4 1885.1L562 1883.2L586.1 1938.4L583.5 1939.5z"/><path class="c93" d="M556.8 1887.1L559.4 1885.1L583.5 1939.5L580.9 1940.6z"/><path class="c92" d="M554.2 1889.2L556.8 1887.1L580.9 1940.6L578.2 1941.7z"/><path class="c90" d="M551.5 1891.4L554.2 1889.2L578.2 1941.7L575.6 1942.9z"/><path class="c88" d="M548.9 1893.8L551.5 1891.4L575.6 1942.9L573 1944.2z"/><path class="c85" d="M546.3 1896.3L548.9 1893.8L573 1944.2L570.4 1945.6z"/><path class="c83" d="M543.7 1898.9L546.3 1896.3L570.4 1945.6L567.8 1947z"/><path class="c80" d="M541 1901.6L543.7 1898.9L567.8 1947L565.1 1948.4z"/><path class="c78" d="M538.4 1904.3L541 1901.6L565.1 1948.4L562.5 1949.8z"/><path class="c76" d="M535.8 1906.9L538.4 1904.3L562.5 1949.8L559.9 1951.3z"/><path class="c73" d="M533.2 1909.7L535.8 1906.9L559.9 1951.3L557.2 1952.7z"/><path class="c70" d="M530.5 1912.4L533.2 1909.7L557.2 1952.7L554.6 1954.2z"/><path class="c68" d="M527.9 1915.2L530.5 1912.4L554.6 1954.2L552 1955.7z"/><path class="c65" d="M525.3 1918L527.9 1915.2L552 1955.7L549.4 1957.3z"/><path class="c62" d="M522.7 1920.9L525.3 1918L549.4 1957.3L546.8 1958.8z"/><path class="c60" d="M520 1923.7L522.7 1920.9L546.8 1958.8L544.1 1960.4z"/><path class="c57" d="M517.4 1926.6L520 1923.7L544.1 1960.4L541.5 1962z"/><path class="c54" d="M514.8 1929.4L517.4 1926.6L541.5 1962L538.9 1963.6z"/><path class="c52" d="M512.2 1932.3L514.8 1929.4L538.9 1963.6L536.2 1965.2z"/><path class="c49" d="M509.5 1935.2L512.2 1932.3L536.2 1965.2L533.6 1966.8z"/><path class="c46" d="M506.9 1938L509.5 1935.2L533.6 1966.8L531 1968.4z"/><path class="c44" d="M504.3 1940.8L506.9 1938L531 1968.4L528.4 1970z"/><path class="c41" d="M501.7 1943.7L504.3 1940.8L528.4 1970L525.8 1971.6z"/><path class="c38" d="M499 1946.5L501.7 1943.7L525.8 1971.6L523.1 1973.2z"/><path class="c36" d="M496.4 1949.2L499 1946.5L523.1 1973.2L520.5 1974.8z"/><path class="c33" d="M493.8 1951.9L496.4 1949.2L520.5 1974.8L517.9 1976.3z"/><path class="c31" d="M491.2 1954.5L493.8 1951.9L517.9 1976.3L515.2 1977.9z"/><path class="c29" d="M488.5 1956.6L491.2 1954.5L515.2 1977.9L512.6 1978.9z"/><path class="c27" d="M485.9 1958.7L488.5 1956.6L512.6 1978.9L510 1980.1z"/><path class="c26" d="M483.3 1960.8L485.9 1958.7L510 1980.1L507.4 1981.2z"/><path class="c24" d="M480.7 1963L483.3 1960.8L507.4 1981.2L504.8 1982.4z"/><path class="c22" d="M478 1965L480.7 1963L504.8 1982.4L502.1 1983.6z"/><path class="c20" d="M475.4 1967L478 1965L502.1 1983.6L499.5 1984.8z"/><path class="c19" d="M472.8 1968.9L475.4 1967L499.5 1984.8L496.9 1986z"/><path class="c17" d="M470.2 1970.9L472.8 1968.9L496.9 1986L494.2 1987.2z"/><path class="c16" d="M467.5 1972.8L470.2 1970.9L494.2 1987.2L491.6 1988.4z"/><path class="c14" d="M464.9 1974.6L467.5 1972.8L491.6 1988.4L489 1989.6z"/><path class="c13" d="M462.3 1976.4L464.9 1974.6L489 1989.6L486.4 1990.7z"/><path class="c12" d="M459.7 1978L462.3 1976.4L486.4 1990.7L483.8 1991.9z"/><path class="c10" d="M457 1979.6L459.7 1978L483.8 1991.9L481.1 1993z"/><path class="c9" d="M454.4 1981.2L457 1979.6L481.1 1993L478.5 1994.1z"/><path class="c8" d="M451.8 1982.6L454.4 1981.2L478.5 1994.1L475.9 1995.2z"/><path class="c7" d="M449.1 1984.1L451.8 1982.6L475.9 1995.2L473.2 1996.2z"/><path class="c6" d="M443.9 1986.7L449.1 1984.1L473.2 1996.2L468 1998.3z"/><path class="c5" d="M441.3 1988L443.9 1986.7L468 1998.3L465.4 1999.3z"/><path class="c4" d="M436 1990.4L441.3 1988L465.4 1999.3L460.1 2001.2z"/><path class="c3" d="M433.4 1991.5L436 1990.4L460.1 2001.2L457.5 2002.2z"/><path class="c2" d="M425.5 1994.4L433.4 1991.5L457.5 2002.2L449.6 2004.7z"/><path class="c1" d="M417.7 1997.1L425.5 1994.4L449.6 2004.7L441.8 2007.2z"/><path class="c0" d="M286.4 2029.5L409.8 1999.6L417.7 1997.1L441.8 2007.2L310.5 2039.4z"/></g><g class="T"><path class="t43" d="M591.4 1936.5L607.1 1932L625.5 1928.4"/><path class="t42" d="M586.1 1938.4L594 1935.7"/><path class="t41" d="M580.9 1940.6L588.8 1937.4"/><path class="t40" d="M578.2 1941.7L583.5 1939.5"/><path class="t39" d="M573 1944.2L580.9 1940.6"/><path class="t38" d="M570.4 1945.6L575.6 1942.9"/><path class="t37" d="M567.8 1947L573 1944.2"/><path class="t36" d="M565.1 1948.4L570.4 1945.6"/><path class="t35" d="M562.5 1949.8L567.8 1947"/><path class="t34" d="M559.9 1951.3L565.1 1948.4"/><path class="t33" d="M557.2 1952.7L562.5 1949.8"/><path class="t32" d="M554.6 1954.2L559.9 1951.3"/><path class="t31" d="M552 1955.7L557.2 1952.7"/><path class="t30" d="M549.4 1957.3L554.6 1954.2"/><path class="t28" d="M546.8 1958.8L552 1955.7"/><path class="t27" d="M544.1 1960.4L549.4 1957.3"/><path class="t26" d="M541.5 1962L546.8 1958.8"/><path class="t25" d="M538.9 1963.6L544.1 1960.4"/><path class="t24" d="M536.2 1965.2L541.5 1962"/><path class="t23" d="M533.6 1966.8L538.9 1963.6"/><path class="t22" d="M531 1968.4L536.2 1965.2"/><path class="t20" d="M528.4 1970L533.6 1966.8"/><path class="t19" d="M525.8 1971.6L531 1968.4"/><path class="t18" d="M523.1 1973.2L528.4 1970"/><path class="t17" d="M520.5 1974.8L525.8 1971.6"/><path class="t16" d="M517.9 1976.3L523.1 1973.2"/><path class="t15" d="M515.2 1977.9L520.5 1974.8"/><path class="t14" d="M512.6 1978.9L515.2 1977.9L517.9 1976.3"/><path class="t13" d="M507.4 1981.2L515.2 1977.9"/><path class="t12" d="M504.8 1982.4L510 1980.1"/><path class="t11" d="M499.5 1984.8L507.4 1981.2"/><path class="t10" d="M496.9 1986L502.1 1983.6"/><path class="t9" d="M491.6 1988.4L499.5 1984.8"/><path class="t8" d="M489 1989.6L494.2 1987.2"/><path class="t7" d="M483.8 1991.9L491.6 1988.4"/><path class="t6" d="M478.5 1994.1L486.4 1990.7"/><path class="t5" d="M473.2 1996.2L481.1 1993"/><path class="t4" d="M468 1998.3L475.9 1995.2"/><path class="t3" d="M462.8 2000.3L470.6 1997.3"/><path class="t2" d="M454.9 2003.1L465.4 1999.3"/><path class="t1" d="M444.4 2006.4L457.5 2002.2"/><path class="t0" d="M310.5 2039.4L436.5 2008.7L447 2005.6"/></g><g class="E"><path class="t43" d="M625.5 1928.4L649.6 1959.2"/><path class="t0" d="M310.5 2039.4L334.6 2049.2"/></g><g class="F"><path class="c43" d="M591.4 1936.5L607.1 1932L625.5 1928.4L649.6 1959.2L615.5 1966.6z"/><path class="c42" d="M586.1 1938.4L591.4 1936.5L615.5 1966.6L610.2 1968z"/><path class="c41" d="M580.9 1940.6L586.1 1938.4L610.2 1968L605 1969.5z"/><path class="c40" d="M578.2 1941.7L580.9 1940.6L605 1969.5L602.4 1970.3z"/><path class="c39" d="M573 1944.2L578.2 1941.7L602.4 1970.3L597.1 1972z"/><path class="c38" d="M570.4 1945.6L573 1944.2L597.1 1972L594.5 1972.9z"/><path class="c37" d="M567.8 1947L570.4 1945.6L594.5 1972.9L591.9 1973.8z"/><path class="c36" d="M565.1 1948.4L567.8 1947L591.9 1973.8L589.2 1974.8z"/><path class="c35" d="M562.5 1949.8L565.1 1948.4L589.2 1974.8L586.6 1975.7z"/><path class="c34" d="M559.9 1951.3L562.5 1949.8L586.6 1975.7L584 1976.7z"/><path class="c33" d="M557.2 1952.7L559.9 1951.3L584 1976.7L581.4 1977.6z"/><path class="c32" d="M554.6 1954.2L557.2 1952.7L581.4 1977.6L578.7 1978.6z"/><path class="c31" d="M552 1955.7L554.6 1954.2L578.7 1978.6L576.1 1979.6z"/><path class="c30" d="M549.4 1957.3L552 1955.7L576.1 1979.6L573.5 1980.6z"/><path class="c28" d="M546.8 1958.8L549.4 1957.3L573.5 1980.6L570.9 1981.6z"/><path class="c27" d="M544.1 1960.4L546.8 1958.8L570.9 1981.6L568.2 1982.6z"/><path class="c26" d="M541.5 1962L544.1 1960.4L568.2 1982.6L565.6 1983.7z"/><path class="c25" d="M538.9 1963.6L541.5 1962L565.6 1983.7L563 1984.7z"/><path class="c24" d="M536.2 1965.2L538.9 1963.6L563 1984.7L560.4 1985.7z"/><path class="c23" d="M533.6 1966.8L536.2 1965.2L560.4 1985.7L557.7 1986.8z"/><path class="c22" d="M531 1968.4L533.6 1966.8L557.7 1986.8L555.1 1987.8z"/><path class="c20" d="M528.4 1970L531 1968.4L555.1 1987.8L552.5 1988.9z"/><path class="c19" d="M525.8 1971.6L528.4 1970L552.5 1988.9L549.9 1990z"/><path class="c18" d="M523.1 1973.2L525.8 1971.6L549.9 1990L547.2 1991z"/><path class="c17" d="M520.5 1974.8L523.1 1973.2L547.2 1991L544.6 1992.1z"/><path class="c16" d="M517.9 1976.3L520.5 1974.8L544.6 1992.1L542 1993.1z"/><path class="c15" d="M515.2 1977.9L517.9 1976.3L542 1993.1L539.4 1994.2z"/><path class="c14" d="M512.6 1978.9L515.2 1977.9L539.4 1994.2L536.7 1994.9z"/><path class="c13" d="M507.4 1981.2L512.6 1978.9L536.7 1994.9L531.5 1996.5z"/><path class="c12" d="M504.8 1982.4L507.4 1981.2L531.5 1996.5L528.9 1997.3z"/><path class="c11" d="M499.5 1984.8L504.8 1982.4L528.9 1997.3L523.6 1998.9z"/><path class="c10" d="M496.9 1986L499.5 1984.8L523.6 1998.9L521 1999.7z"/><path class="c9" d="M491.6 1988.4L496.9 1986L521 1999.7L515.7 2001.5z"/><path class="c8" d="M489 1989.6L491.6 1988.4L515.7 2001.5L513.1 2002.4z"/><path class="c7" d="M483.8 1991.9L489 1989.6L513.1 2002.4L507.9 2004.1z"/><path class="c6" d="M478.5 1994.1L483.8 1991.9L507.9 2004.1L502.6 2005.8z"/><path class="c5" d="M473.2 1996.2L478.5 1994.1L502.6 2005.8L497.4 2007.6z"/><path class="c4" d="M468 1998.3L473.2 1996.2L497.4 2007.6L492.1 2009.3z"/><path class="c3" d="M462.8 2000.3L468 1998.3L492.1 2009.3L486.9 2010.9z"/><path class="c2" d="M454.9 2003.1L462.8 2000.3L486.9 2010.9L479 2013.4z"/><path class="c1" d="M444.4 2006.4L454.9 2003.1L479 2013.4L468.5 2016.4z"/><path class="c0" d="M310.5 2039.4L436.5 2008.7L444.4 2006.4L468.5 2016.4L334.6 2049.2z"/></g><g class="T"><path class="t17" d="M644.4 1960.2L649.6 1959.2"/><path class="t18" d="M605 1969.5L647 1959.7"/><path class="t17" d="M597.1 1972L607.6 1968.8"/><path class="t16" d="M589.2 1974.8L599.7 1971.2"/><path class="t15" d="M581.4 1977.6L591.9 1973.8"/><path class="t14" d="M576.1 1979.6L584 1976.7"/><path class="t13" d="M570.9 1981.6L578.7 1978.6"/><path class="t12" d="M565.6 1983.7L573.5 1980.6"/><path class="t11" d="M560.4 1985.7L568.2 1982.6"/><path class="t10" d="M555.1 1987.8L563 1984.7"/><path class="t9" d="M549.9 1990L557.7 1986.8"/><path class="t8" d="M544.6 1992.1L552.5 1988.9"/><path class="t7" d="M536.7 1994.9L539.4 1994.2L547.2 1991"/><path class="t6" d="M523.6 1998.9L539.4 1994.2"/><path class="t5" d="M515.7 2001.5L526.2 1998.1"/><path class="t4" d="M505.2 2005L518.4 2000.6"/><path class="t3" d="M497.4 2007.6L507.9 2004.1"/><path class="t2" d="M486.9 2010.9L500 2006.7"/><path class="t1" d="M471.1 2015.7L489.5 2010.1"/><path class="t0" d="M334.6 2049.2L473.7 2014.9"/></g><g class="E"><path class="t17" d="M649.6 1959.2L673.7 1977.6"/><path class="t0" d="M334.6 2049.2L358.7 2059"/></g><g class="F"><path class="c17" d="M644.4 1960.2L649.6 1959.2L673.7 1977.6L668.5 1978.7z"/><path class="c18" d="M605 1969.5L644.4 1960.2L668.5 1978.7L629.1 1987.7z"/><path class="c17" d="M597.1 1972L605 1969.5L629.1 1987.7L621.2 1989.8z"/><path class="c16" d="M589.2 1974.8L597.1 1972L621.2 1989.8L613.3 1992z"/><path class="c15" d="M581.4 1977.6L589.2 1974.8L613.3 1992L605.5 1994.3z"/><path class="c14" d="M576.1 1979.6L581.4 1977.6L605.5 1994.3L600.2 1995.8z"/><path class="c13" d="M570.9 1981.6L576.1 1979.6L600.2 1995.8L595 1997.4z"/><path class="c12" d="M565.6 1983.7L570.9 1981.6L595 1997.4L589.7 1999z"/><path class="c11" d="M560.4 1985.7L565.6 1983.7L589.7 1999L584.5 2000.6z"/><path class="c10" d="M555.1 1987.8L560.4 1985.7L584.5 2000.6L579.2 2002.2z"/><path class="c9" d="M549.9 1990L555.1 1987.8L579.2 2002.2L574 2003.8z"/><path class="c8" d="M544.6 1992.1L549.9 1990L574 2003.8L568.7 2005.5z"/><path class="c7" d="M536.7 1994.9L539.4 1994.2L544.6 1992.1L568.7 2005.5L563.5 2007.1L560.8 2007.7z"/><path class="c6" d="M523.6 1998.9L536.7 1994.9L560.8 2007.7L547.7 2011.1z"/><path class="c5" d="M515.7 2001.5L523.6 1998.9L547.7 2011.1L539.8 2013.2z"/><path class="c4" d="M505.2 2005L515.7 2001.5L539.8 2013.2L529.3 2016.1z"/><path class="c3" d="M497.4 2007.6L505.2 2005L529.3 2016.1L521.5 2018.4z"/><path class="c2" d="M486.9 2010.9L497.4 2007.6L521.5 2018.4L511 2021.3z"/><path class="c1" d="M471.1 2015.7L486.9 2010.9L511 2021.3L495.2 2025.7z"/><path class="c0" d="M334.6 2049.2L471.1 2015.7L495.2 2025.7L358.7 2059z"/></g><g class="T"><path class="t7" d="M644.8 1983.9L673.7 1977.6"/><path class="t8" d="M637 1985.8L647.5 1983.3"/><path class="t7" d="M608.1 1993.5L639.6 1985.1"/><path class="t6" d="M595 1997.4L610.7 1992.8"/><path class="t5" d="M581.8 2001.4L597.6 1996.6"/><path class="t4" d="M571.3 2004.7L584.5 2000.6"/><path class="t3" d="M542.5 2012.5L563.5 2007.1L574 2003.8"/><path class="t2" d="M521.5 2018.4L545.1 2011.7"/><path class="t1" d="M503.1 2023.6L524.1 2017.6"/><path class="t0" d="M358.7 2059L505.7 2022.8"/></g><g class="E"><path class="t7" d="M673.7 1977.6L697.8 1991"/><path class="t0" d="M358.7 2059L382.8 2068.8"/></g><g class="F"><path class="c7" d="M644.8 1983.9L673.7 1977.6L697.8 1991L668.9 1997.5z"/><path class="c8" d="M637 1985.8L644.8 1983.9L668.9 1997.5L661 1999.4z"/><path class="c7" d="M608.1 1993.5L637 1985.8L661 1999.4L632.2 2006.5z"/><path class="c6" d="M595 1997.4L608.1 1993.5L632.2 2006.5L619 2010z"/><path class="c5" d="M581.8 2001.4L595 1997.4L619 2010L605.9 2013.5z"/><path class="c4" d="M571.3 2004.7L581.8 2001.4L605.9 2013.5L595.4 2016.3z"/><path class="c3" d="M542.5 2012.5L563.5 2007.1L571.3 2004.7L595.4 2016.3L566.5 2023.4z"/><path class="c2" d="M521.5 2018.4L542.5 2012.5L566.5 2023.4L545.5 2028.8z"/><path class="c1" d="M503.1 2023.6L521.5 2018.4L545.5 2028.8L527.2 2033.7z"/><path class="c0" d="M358.7 2059L503.1 2023.6L527.2 2033.7L382.8 2068.8z"/></g><g class="T"><path class="t3" d="M626.9 2007.9L697.8 1991"/><path class="t2" d="M598 2015.6L629.5 2007.2"/><path class="t1" d="M535 2031.6L600.7 2014.9"/><path class="t0" d="M382.8 2068.8L537.7 2030.9"/></g><g class="E"><path class="t3" d="M697.8 1991L721.9 2002.3"/><path class="t0" d="M382.8 2068.8L406.9 2078.7"/></g><g class="F"><path class="c3" d="M626.9 2007.9L697.8 1991L721.9 2002.3L651 2019.1z"/><path class="c2" d="M598 2015.6L626.9 2007.9L651 2019.1L622.1 2026.3z"/><path class="c1" d="M535 2031.6L598 2015.6L622.1 2026.3L559.1 2041.7z"/><path class="c0" d="M382.8 2068.8L535 2031.6L559.1 2041.7L406.9 2078.7z"/></g><g class="T"><path class="t1" d="M624.8 2025.7L721.9 2002.3"/><path class="t0" d="M406.9 2078.7L627.4 2025"/></g><g class="E"><path class="t1" d="M721.9 2002.3L746 2012.7"/><path class="t0" d="M406.9 2078.7L431 2088.5"/></g><g class="F"><path class="c1" d="M624.8 2025.7L721.9 2002.3L746 2012.7L648.9 2035.9z"/><path class="c0" d="M406.9 2078.7L624.8 2025.7L648.9 2035.9L431 2088.5z"/></g><g class="T"><path class="t0" d="M431 2088.5L746 2012.7"/></g><g class="E"><path class="t0" d="M746 2012.7L770.1 2022.8"/><path class="t0" d="M431 2088.5L455.1 2098.3"/></g><g class="F"><path class="c0" d="M431 2088.5L746 2012.7L770.1 2022.8L455.1 2098.3z"/></g><g class="T"><path class="t0" d="M455.1 2098.3L770.1 2022.8"/></g><g class="E"><path class="t0" d="M770.1 2022.8L794.2 2032.7"/><path class="t0" d="M455.1 2098.3L479.2 2108.2"/></g><g class="F"><path class="c0" d="M455.1 2098.3L770.1 2022.8L794.2 2032.7L479.2 2108.2z"/></g><g class="T"><path class="t0" d="M479.2 2108.2L794.2 2032.7"/></g><g class="E"><path class="t0" d="M794.2 2032.7L818.3 2042.6"/><path class="t0" d="M479.2 2108.2L503.3 2118"/></g><g class="F"><path class="c0" d="M479.2 2108.2L794.2 2032.7L818.3 2042.6L503.3 2118z"/></g><g class="T"><path class="t0" d="M503.3 2118L818.3 2042.6"/></g></g>
<path d="M262.3 1807.9L262.3 2024" stroke="#262626" stroke-width="3.4" fill="none"/>
<path d="M262.8 2019.9L250.8 2015.9M262.8 1944L250.8 1940M262.8 1868.1L250.8 1864.1M383.8 2071.3L372.3 2073.5M659.8 2082.8L671.8 2086.7M816.3 2045.1L830.3 2048.8M494.8 2122L513.8 2122M262.8 2022.8L250.8 2022.8" stroke="#262626" stroke-width="3.2" fill="none"/>
<g font-family="'Liberation Serif','DejaVu Serif',serif" font-size="61" fill="#262626" stroke="#fff" stroke-width="1.1"><text x="242.6" y="2032.9" text-anchor="end" letter-spacing="-1.1">0</text><text x="242.6" y="1957" text-anchor="end" letter-spacing="-1.1">5000</text><text x="242.6" y="1881.1" text-anchor="end" letter-spacing="-1.1">10000</text><text x="238.3" y="2081" text-anchor="end">0</text><text x="359.8" y="2130.2" text-anchor="end" letter-spacing="-2.2">0.5</text><text x="479.3" y="2179.3" text-anchor="end">1</text><text x="522.3" y="2183.3">0</text><text x="679.8" y="2145.6">1</text><text x="837.3" y="2107.9">2</text><text x="266.3" y="2232.5" font-style="italic" font-size="62">ζ</text><text x="707.3" y="2233.5" font-style="italic" font-size="62">t</text><text x="11" y="1880.5"><tspan font-style="italic">e</tspan><tspan font-size="49" dx="0" dy="27" letter-spacing="-1.2">41</tspan></text></g></g>
<g><path d="M1129.8 2021.8L1444.8 1946.4M1250.3 2070.9L1565.3 1995.5M1287.3 1984.1L1528.3 2082.4M1444.8 1946.4L1685.8 2044.7M1287.3 1984.1L1287.3 1769.5M1444.8 1946.4L1444.8 1731.8M1565.3 1995.5L1565.3 1781M1685.8 2044.7L1685.8 1830.1M1129.8 1988.9L1444.8 1913.5M1444.8 1913.5L1685.8 2011.8M1129.8 1926.4L1444.8 1851M1444.8 1851L1685.8 1949.3M1129.8 1863.9L1444.8 1788.5M1444.8 1788.5L1685.8 1886.8" stroke="#e0e0e0" stroke-width="3" fill="none"/>
<path d="M1129.8 2021.8L1363.4 2117.1M1378.6 2118.2L1685.8 2044.7" stroke="#262626" stroke-width="3.2" fill="none"/>
<clipPath id="cp7"><rect x="1125.3" y="1728.3" width="565" height="394.3"/></clipPath><g clip-path="url(#cp7)"><g class="T"><path class="t127" d="M1442.2 1842.2L1444.8 1842.5"/><path class="t129" d="M1439.5 1841.8L1444.8 1842.5"/><path class="t130" d="M1436.9 1841.3L1442.2 1842.2"/><path class="t131" d="M1434.3 1840.7L1439.5 1841.8"/><path class="t133" d="M1431.7 1840L1436.9 1841.3"/><path class="t135" d="M1429 1839.3L1434.3 1840.7"/><path class="t136" d="M1426.4 1838.5L1431.7 1840"/><path class="t138" d="M1423.8 1837.6L1429 1839.3"/><path class="t140" d="M1421.2 1836.6L1426.4 1838.5"/><path class="t142" d="M1418.5 1835.4L1423.8 1837.6"/><path class="t144" d="M1415.9 1833.9L1418.5 1835.4L1421.2 1836.6"/><path class="t147" d="M1413.3 1832L1415.9 1833.9L1418.5 1835.4"/><path class="t152" d="M1410.7 1829.1L1413.3 1832L1415.9 1833.9"/><path class="t157" d="M1408 1824.8L1410.7 1829.1L1413.3 1832"/><path class="t164" d="M1405.4 1819.6L1408 1824.8L1410.7 1829.1"/><path class="t171" d="M1402.8 1814L1408 1824.8"/><path class="t178" d="M1400.2 1808.6L1405.4 1819.6"/><path class="t185" d="M1397.5 1803.8L1400.2 1808.6L1402.8 1814"/><path class="t191" d="M1394.9 1799.5L1400.2 1808.6"/><path class="t196" d="M1392.3 1795.2L1397.5 1803.8"/><path class="t202" d="M1389.7 1791L1394.9 1799.5"/><path class="t207" d="M1387 1787.1L1392.3 1795.2"/><path class="t212" d="M1384.4 1783.4L1389.7 1791"/><path class="t217" d="M1381.8 1780.1L1387 1787.1"/><path class="t221" d="M1379.2 1777.1L1384.4 1783.4"/><path class="t225" d="M1376.5 1774.2L1381.8 1780.1"/><path class="t229" d="M1373.9 1771.6L1379.2 1777.1"/><path class="t233" d="M1371.3 1769.1L1376.5 1774.2"/><path class="t236" d="M1368.7 1767L1373.9 1771.6"/><path class="t239" d="M1366 1765L1371.3 1769.1"/><path class="t242" d="M1363.4 1763.2L1368.7 1767"/><path class="t245" d="M1360.8 1761.5L1366 1765"/><path class="t247" d="M1358.2 1759.9L1363.4 1763.2"/><path class="t249" d="M1355.5 1758.5L1360.8 1761.5"/><path class="t251" d="M1352.9 1757.6L1355.5 1758.5L1358.2 1759.9"/><path class="t253" d="M1347.7 1757L1350.3 1757.1L1352.9 1757.6L1355.5 1758.5"/><path class="t254" d="M1345 1756.9L1350.3 1757.1"/><path class="t255" d="M1324 1761.7L1329.3 1759.5L1339.8 1757L1347.7 1757"/><path class="t254" d="M1321.4 1762.9L1326.7 1760.5"/><path class="t253" d="M1318.8 1764.1L1324 1761.7"/><path class="t252" d="M1316.2 1765.7L1321.4 1762.9"/><path class="t251" d="M1313.5 1767.5L1316.2 1765.7L1318.8 1764.1"/><path class="t249" d="M1310.9 1769.7L1316.2 1765.7"/><path class="t247" d="M1308.3 1772.1L1313.5 1767.5"/><path class="t245" d="M1305.7 1774.5L1310.9 1769.7"/><path class="t243" d="M1303 1776.9L1308.3 1772.1"/><path class="t240" d="M1300.4 1779.4L1305.7 1774.5"/><path class="t238" d="M1297.8 1782.2L1303 1776.9"/><path class="t235" d="M1295.2 1785.1L1300.4 1779.4"/><path class="t233" d="M1292.5 1788L1297.8 1782.2"/><path class="t230" d="M1289.9 1790.7L1295.2 1785.1"/><path class="t228" d="M1287.3 1793.3L1292.5 1788"/><path class="t226" d="M1284.7 1795.7L1289.9 1790.7"/><path class="t224" d="M1282 1798L1287.3 1793.3"/><path class="t222" d="M1279.4 1800.3L1284.7 1795.7"/><path class="t220" d="M1276.8 1802.5L1282 1798"/><path class="t218" d="M1274.2 1804.6L1279.4 1800.3"/><path class="t217" d="M1271.5 1806.7L1276.8 1802.5"/><path class="t215" d="M1268.9 1808.7L1274.2 1804.6"/><path class="t213" d="M1266.3 1810.7L1271.5 1806.7"/><path class="t212" d="M1263.7 1812.6L1268.9 1808.7"/><path class="t210" d="M1261 1814.5L1266.3 1810.7"/><path class="t209" d="M1258.4 1816.5L1263.7 1812.6"/><path class="t207" d="M1255.8 1818.4L1261 1814.5"/><path class="t206" d="M1253.2 1820.2L1258.4 1816.5"/><path class="t205" d="M1250.5 1822L1255.8 1818.4"/><path class="t203" d="M1247.9 1823.7L1253.2 1820.2"/><path class="t202" d="M1245.3 1825.3L1250.5 1822"/><path class="t201" d="M1240 1828L1245.3 1825.3L1247.9 1823.7"/><path class="t200" d="M1237.4 1829.1L1242.7 1826.7"/><path class="t199" d="M1229.5 1832.2L1240 1828"/><path class="t198" d="M1224.3 1834.2L1232.2 1831.2"/><path class="t197" d="M1216.4 1836.9L1226.9 1833.2"/><path class="t196" d="M1208.5 1839.6L1219 1836"/><path class="t195" d="M1200.7 1842.5L1211.2 1838.7"/><path class="t194" d="M1192.8 1845.3L1203.3 1841.5"/><path class="t193" d="M1184.9 1848.1L1195.4 1844.4"/><path class="t192" d="M1174.4 1851.4L1187.5 1847.2"/><path class="t191" d="M1158.7 1856.1L1177 1850.6"/><path class="t190" d="M1135 1862.6L1161.3 1855.3"/><path class="t189" d="M1129.8 1863.9L1137.7 1861.9"/></g><g class="E"><path class="t127" d="M1444.8 1842.5L1468.9 1826.4"/><path class="t189" d="M1129.8 1863.9L1153.9 1873.7"/></g><g class="F"><path class="c127" d="M1442.2 1842.2L1444.8 1842.5L1468.9 1826.4L1466.3 1826.6z"/><path class="c129" d="M1439.5 1841.8L1442.2 1842.2L1466.3 1826.6L1463.6 1826.8z"/><path class="c130" d="M1436.9 1841.3L1439.5 1841.8L1463.6 1826.8L1461 1826.9z"/><path class="c131" d="M1434.3 1840.7L1436.9 1841.3L1461 1826.9L1458.4 1827z"/><path class="c133" d="M1431.7 1840L1434.3 1840.7L1458.4 1827L1455.8 1827z"/><path class="c135" d="M1429 1839.3L1431.7 1840L1455.8 1827L1453.1 1826.9z"/><path class="c136" d="M1426.4 1838.5L1429 1839.3L1453.1 1826.9L1450.5 1826.9z"/><path class="c138" d="M1423.8 1837.6L1426.4 1838.5L1450.5 1826.9L1447.9 1826.8z"/><path class="c140" d="M1421.2 1836.6L1423.8 1837.6L1447.9 1826.8L1445.3 1826.6z"/><path class="c142" d="M1418.5 1835.4L1421.2 1836.6L1445.3 1826.6L1442.6 1826.3z"/><path class="c144" d="M1415.9 1833.9L1418.5 1835.4L1442.6 1826.3L1440 1825.8z"/><path class="c147" d="M1413.3 1832L1415.9 1833.9L1440 1825.8L1437.4 1825.2z"/><path class="c152" d="M1410.7 1829.1L1413.3 1832L1437.4 1825.2L1434.8 1823.9z"/><path class="c157" d="M1408 1824.8L1410.7 1829.1L1434.8 1823.9L1432.1 1821.9z"/><path class="c164" d="M1405.4 1819.6L1408 1824.8L1432.1 1821.9L1429.5 1819.5z"/><path class="c171" d="M1402.8 1814L1405.4 1819.6L1429.5 1819.5L1426.9 1816.8z"/><path class="c178" d="M1400.2 1808.6L1402.8 1814L1426.9 1816.8L1424.3 1814.1z"/><path class="c185" d="M1397.5 1803.8L1400.2 1808.6L1424.3 1814.1L1421.6 1811.8z"/><path class="c191" d="M1394.9 1799.5L1397.5 1803.8L1421.6 1811.8L1419 1809.7z"/><path class="c196" d="M1392.3 1795.2L1394.9 1799.5L1419 1809.7L1416.4 1807.7z"/><path class="c202" d="M1389.7 1791L1392.3 1795.2L1416.4 1807.7L1413.8 1805.7z"/><path class="c207" d="M1387 1787.1L1389.7 1791L1413.8 1805.7L1411.1 1803.7z"/><path class="c212" d="M1384.4 1783.4L1387 1787.1L1411.1 1803.7L1408.5 1802z"/><path class="c217" d="M1381.8 1780.1L1384.4 1783.4L1408.5 1802L1405.9 1800.4z"/><path class="c221" d="M1379.2 1777.1L1381.8 1780.1L1405.9 1800.4L1403.3 1799z"/><path class="c225" d="M1376.5 1774.2L1379.2 1777.1L1403.3 1799L1400.6 1797.6z"/><path class="c229" d="M1373.9 1771.6L1376.5 1774.2L1400.6 1797.6L1398 1796.4z"/><path class="c233" d="M1371.3 1769.1L1373.9 1771.6L1398 1796.4L1395.4 1795.3z"/><path class="c236" d="M1368.7 1767L1371.3 1769.1L1395.4 1795.3L1392.8 1794.3z"/><path class="c239" d="M1366 1765L1368.7 1767L1392.8 1794.3L1390.1 1793.4z"/><path class="c242" d="M1363.4 1763.2L1366 1765L1390.1 1793.4L1387.5 1792.6z"/><path class="c245" d="M1360.8 1761.5L1363.4 1763.2L1387.5 1792.6L1384.9 1791.8z"/><path class="c247" d="M1358.2 1759.9L1360.8 1761.5L1384.9 1791.8L1382.3 1791.1z"/><path class="c249" d="M1355.5 1758.5L1358.2 1759.9L1382.3 1791.1L1379.6 1790.6z"/><path class="c251" d="M1352.9 1757.6L1355.5 1758.5L1379.6 1790.6L1377 1790.2z"/><path class="c253" d="M1347.7 1757L1350.3 1757.1L1352.9 1757.6L1377 1790.2L1371.8 1790z"/><path class="c254" d="M1345 1756.9L1347.7 1757L1371.8 1790L1369.1 1789.8z"/><path class="c255" d="M1324 1761.7L1329.3 1759.5L1339.8 1757L1345 1756.9L1369.1 1789.8L1361.3 1789.7L1353.4 1790.6L1348.1 1791.6z"/><path class="c254" d="M1321.4 1762.9L1324 1761.7L1348.1 1791.6L1345.5 1792.3z"/><path class="c253" d="M1318.8 1764.1L1321.4 1762.9L1345.5 1792.3L1342.9 1792.9z"/><path class="c252" d="M1316.2 1765.7L1318.8 1764.1L1342.9 1792.9L1340.3 1793.7z"/><path class="c251" d="M1313.5 1767.5L1316.2 1765.7L1340.3 1793.7L1337.6 1794.8z"/><path class="c249" d="M1310.9 1769.7L1313.5 1767.5L1337.6 1794.8L1335 1796.2z"/><path class="c247" d="M1308.3 1772.1L1310.9 1769.7L1335 1796.2L1332.4 1797.6z"/><path class="c245" d="M1305.7 1774.5L1308.3 1772.1L1332.4 1797.6L1329.8 1799.1z"/><path class="c243" d="M1303 1776.9L1305.7 1774.5L1329.8 1799.1L1327.1 1800.7z"/><path class="c240" d="M1300.4 1779.4L1303 1776.9L1327.1 1800.7L1324.5 1802.3z"/><path class="c238" d="M1297.8 1782.2L1300.4 1779.4L1324.5 1802.3L1321.9 1804.2z"/><path class="c235" d="M1295.2 1785.1L1297.8 1782.2L1321.9 1804.2L1319.3 1806.1z"/><path class="c233" d="M1292.5 1788L1295.2 1785.1L1319.3 1806.1L1316.6 1808.1z"/><path class="c230" d="M1289.9 1790.7L1292.5 1788L1316.6 1808.1L1314 1810z"/><path class="c228" d="M1287.3 1793.3L1289.9 1790.7L1314 1810L1311.4 1811.8z"/><path class="c226" d="M1284.7 1795.7L1287.3 1793.3L1311.4 1811.8L1308.8 1813.5z"/><path class="c224" d="M1282 1798L1284.7 1795.7L1308.8 1813.5L1306.1 1815.2z"/><path class="c222" d="M1279.4 1800.3L1282 1798L1306.1 1815.2L1303.5 1816.9z"/><path class="c220" d="M1276.8 1802.5L1279.4 1800.3L1303.5 1816.9L1300.9 1818.5z"/><path class="c218" d="M1274.2 1804.6L1276.8 1802.5L1300.9 1818.5L1298.3 1820.2z"/><path class="c217" d="M1271.5 1806.7L1274.2 1804.6L1298.3 1820.2L1295.6 1821.7z"/><path class="c215" d="M1268.9 1808.7L1271.5 1806.7L1295.6 1821.7L1293 1823.3z"/><path class="c213" d="M1266.3 1810.7L1268.9 1808.7L1293 1823.3L1290.4 1824.9z"/><path class="c212" d="M1263.7 1812.6L1266.3 1810.7L1290.4 1824.9L1287.8 1826.4z"/><path class="c210" d="M1261 1814.5L1263.7 1812.6L1287.8 1826.4L1285.1 1827.9z"/><path class="c209" d="M1258.4 1816.5L1261 1814.5L1285.1 1827.9L1282.5 1829.4z"/><path class="c207" d="M1255.8 1818.4L1258.4 1816.5L1282.5 1829.4L1279.9 1831z"/><path class="c206" d="M1253.2 1820.2L1255.8 1818.4L1279.9 1831L1277.3 1832.5z"/><path class="c205" d="M1250.5 1822L1253.2 1820.2L1277.3 1832.5L1274.6 1834z"/><path class="c203" d="M1247.9 1823.7L1250.5 1822L1274.6 1834L1272 1835.5z"/><path class="c202" d="M1245.3 1825.3L1247.9 1823.7L1272 1835.5L1269.4 1836.8z"/><path class="c201" d="M1240 1828L1245.3 1825.3L1269.4 1836.8L1264.1 1839.2z"/><path class="c200" d="M1237.4 1829.1L1240 1828L1264.1 1839.2L1261.5 1840.2z"/><path class="c199" d="M1229.5 1832.2L1237.4 1829.1L1261.5 1840.2L1253.6 1843z"/><path class="c198" d="M1224.3 1834.2L1229.5 1832.2L1253.6 1843L1248.4 1844.7z"/><path class="c197" d="M1216.4 1836.9L1224.3 1834.2L1248.4 1844.7L1240.5 1847.3z"/><path class="c196" d="M1208.5 1839.6L1216.4 1836.9L1240.5 1847.3L1232.6 1850z"/><path class="c195" d="M1200.7 1842.5L1208.5 1839.6L1232.6 1850L1224.8 1852.8z"/><path class="c194" d="M1192.8 1845.3L1200.7 1842.5L1224.8 1852.8L1216.9 1855.5z"/><path class="c193" d="M1184.9 1848.1L1192.8 1845.3L1216.9 1855.5L1209 1858.2z"/><path class="c192" d="M1174.4 1851.4L1184.9 1848.1L1209 1858.2L1198.5 1861.4z"/><path class="c191" d="M1158.7 1856.1L1174.4 1851.4L1198.5 1861.4L1182.8 1866z"/><path class="c190" d="M1135 1862.6L1158.7 1856.1L1182.8 1866L1159.1 1872.4z"/><path class="c189" d="M1129.8 1863.9L1135 1862.6L1159.1 1872.4L1153.9 1873.7z"/></g><g class="T"><path class="t157" d="M1466.3 1826.6L1468.9 1826.4"/><path class="t158" d="M1461 1826.9L1468.9 1826.4"/><path class="t159" d="M1458.4 1827L1463.6 1826.8"/><path class="t160" d="M1453.1 1826.9L1461 1826.9"/><path class="t161" d="M1450.5 1826.9L1455.8 1827"/><path class="t162" d="M1447.9 1826.8L1453.1 1826.9"/><path class="t163" d="M1445.3 1826.6L1450.5 1826.9"/><path class="t164" d="M1442.6 1826.3L1447.9 1826.8"/><path class="t165" d="M1440 1825.8L1445.3 1826.6"/><path class="t167" d="M1437.4 1825.2L1442.6 1826.3"/><path class="t169" d="M1434.8 1823.9L1437.4 1825.2L1440 1825.8"/><path class="t172" d="M1432.1 1821.9L1434.8 1823.9L1437.4 1825.2"/><path class="t176" d="M1429.5 1819.5L1432.1 1821.9L1434.8 1823.9"/><path class="t180" d="M1426.9 1816.8L1432.1 1821.9"/><path class="t183" d="M1424.3 1814.1L1429.5 1819.5"/><path class="t187" d="M1421.6 1811.8L1426.9 1816.8"/><path class="t190" d="M1419 1809.7L1424.3 1814.1"/><path class="t193" d="M1416.4 1807.7L1421.6 1811.8"/><path class="t196" d="M1413.8 1805.7L1419 1809.7"/><path class="t199" d="M1411.1 1803.7L1416.4 1807.7"/><path class="t202" d="M1408.5 1802L1413.8 1805.7"/><path class="t205" d="M1405.9 1800.4L1411.1 1803.7"/><path class="t207" d="M1403.3 1799L1408.5 1802"/><path class="t209" d="M1400.6 1797.6L1405.9 1800.4"/><path class="t212" d="M1398 1796.4L1403.3 1799"/><path class="t214" d="M1395.4 1795.3L1400.6 1797.6"/><path class="t215" d="M1392.8 1794.3L1398 1796.4"/><path class="t217" d="M1390.1 1793.4L1395.4 1795.3"/><path class="t219" d="M1387.5 1792.6L1392.8 1794.3"/><path class="t221" d="M1384.9 1791.8L1390.1 1793.4"/><path class="t222" d="M1382.3 1791.1L1387.5 1792.6"/><path class="t223" d="M1379.6 1790.6L1384.9 1791.8"/><path class="t225" d="M1374.4 1790.2L1377 1790.2L1382.3 1791.1"/><path class="t226" d="M1371.8 1790L1377 1790.2"/><path class="t227" d="M1369.1 1789.8L1374.4 1790.2"/><path class="t228" d="M1366.5 1789.7L1371.8 1790"/><path class="t229" d="M1363.9 1789.6L1369.1 1789.8"/><path class="t230" d="M1358.6 1789.9L1366.5 1789.7"/><path class="t231" d="M1340.3 1793.7L1350.8 1791.1L1358.6 1789.9L1361.3 1789.7"/><path class="t230" d="M1337.6 1794.8L1340.3 1793.7L1342.9 1792.9"/><path class="t229" d="M1335 1796.2L1340.3 1793.7"/><path class="t228" d="M1332.4 1797.6L1337.6 1794.8"/><path class="t227" d="M1329.8 1799.1L1335 1796.2"/><path class="t226" d="M1327.1 1800.7L1332.4 1797.6"/><path class="t225" d="M1324.5 1802.3L1329.8 1799.1"/><path class="t224" d="M1321.9 1804.2L1327.1 1800.7"/><path class="t222" d="M1319.3 1806.1L1324.5 1802.3"/><path class="t221" d="M1316.6 1808.1L1321.9 1804.2"/><path class="t219" d="M1314 1810L1319.3 1806.1"/><path class="t218" d="M1311.4 1811.8L1316.6 1808.1"/><path class="t216" d="M1308.8 1813.5L1314 1810"/><path class="t215" d="M1306.1 1815.2L1311.4 1811.8"/><path class="t214" d="M1303.5 1816.9L1308.8 1813.5"/><path class="t213" d="M1300.9 1818.5L1306.1 1815.2"/><path class="t212" d="M1298.3 1820.2L1303.5 1816.9"/><path class="t211" d="M1295.6 1821.7L1300.9 1818.5"/><path class="t209" d="M1293 1823.3L1298.3 1820.2"/><path class="t208" d="M1290.4 1824.9L1295.6 1821.7"/><path class="t207" d="M1287.8 1826.4L1293 1823.3"/><path class="t206" d="M1285.1 1827.9L1290.4 1824.9"/><path class="t205" d="M1282.5 1829.4L1287.8 1826.4"/><path class="t204" d="M1279.9 1831L1285.1 1827.9"/><path class="t203" d="M1277.3 1832.5L1282.5 1829.4"/><path class="t202" d="M1274.6 1834L1279.9 1831"/><path class="t201" d="M1272 1835.5L1277.3 1832.5"/><path class="t200" d="M1266.8 1838.1L1274.6 1834"/><path class="t199" d="M1261.5 1840.2L1269.4 1836.8"/><path class="t198" d="M1256.3 1842.1L1264.1 1839.2"/><path class="t197" d="M1245.8 1845.6L1258.9 1841.1"/><path class="t196" d="M1237.9 1848.2L1248.4 1844.7"/><path class="t195" d="M1230 1850.9L1240.5 1847.3"/><path class="t194" d="M1222.1 1853.7L1232.6 1850"/><path class="t193" d="M1211.6 1857.3L1224.8 1852.8"/><path class="t192" d="M1201.1 1860.6L1214.3 1856.4"/><path class="t191" d="M1185.4 1865.2L1203.8 1859.8"/><path class="t190" d="M1159.1 1872.4L1188 1864.5"/><path class="t189" d="M1153.9 1873.7L1161.8 1871.7"/></g><g class="E"><path class="t157" d="M1468.9 1826.4L1493 1822.8"/><path class="t189" d="M1153.9 1873.7L1178 1883.5"/></g><g class="F"><path class="c157" d="M1466.3 1826.6L1468.9 1826.4L1493 1822.8L1490.4 1823.2z"/><path class="c158" d="M1461 1826.9L1466.3 1826.6L1490.4 1823.2L1485.1 1824z"/><path class="c159" d="M1458.4 1827L1461 1826.9L1485.1 1824L1482.5 1824.4z"/><path class="c160" d="M1453.1 1826.9L1458.4 1827L1482.5 1824.4L1477.2 1825z"/><path class="c161" d="M1450.5 1826.9L1453.1 1826.9L1477.2 1825L1474.6 1825.3z"/><path class="c162" d="M1447.9 1826.8L1450.5 1826.9L1474.6 1825.3L1472 1825.6z"/><path class="c163" d="M1445.3 1826.6L1447.9 1826.8L1472 1825.6L1469.4 1825.8z"/><path class="c164" d="M1442.6 1826.3L1445.3 1826.6L1469.4 1825.8L1466.8 1826z"/><path class="c165" d="M1440 1825.8L1442.6 1826.3L1466.8 1826L1464.1 1826.1z"/><path class="c167" d="M1437.4 1825.2L1440 1825.8L1464.1 1826.1L1461.5 1826.1z"/><path class="c169" d="M1434.8 1823.9L1437.4 1825.2L1461.5 1826.1L1458.9 1825.7z"/><path class="c172" d="M1432.1 1821.9L1434.8 1823.9L1458.9 1825.7L1456.2 1824.9z"/><path class="c176" d="M1429.5 1819.5L1432.1 1821.9L1456.2 1824.9L1453.6 1823.9z"/><path class="c180" d="M1426.9 1816.8L1429.5 1819.5L1453.6 1823.9L1451 1822.7z"/><path class="c183" d="M1424.3 1814.1L1426.9 1816.8L1451 1822.7L1448.4 1821.6z"/><path class="c187" d="M1421.6 1811.8L1424.3 1814.1L1448.4 1821.6L1445.8 1820.6z"/><path class="c190" d="M1419 1809.7L1421.6 1811.8L1445.8 1820.6L1443.1 1819.8z"/><path class="c193" d="M1416.4 1807.7L1419 1809.7L1443.1 1819.8L1440.5 1819z"/><path class="c196" d="M1413.8 1805.7L1416.4 1807.7L1440.5 1819L1437.9 1818.1z"/><path class="c199" d="M1411.1 1803.7L1413.8 1805.7L1437.9 1818.1L1435.2 1817.3z"/><path class="c202" d="M1408.5 1802L1411.1 1803.7L1435.2 1817.3L1432.6 1816.6z"/><path class="c205" d="M1405.9 1800.4L1408.5 1802L1432.6 1816.6L1430 1816z"/><path class="c207" d="M1403.3 1799L1405.9 1800.4L1430 1816L1427.4 1815.5z"/><path class="c209" d="M1400.6 1797.6L1403.3 1799L1427.4 1815.5L1424.8 1815z"/><path class="c212" d="M1398 1796.4L1400.6 1797.6L1424.8 1815L1422.1 1814.6z"/><path class="c214" d="M1395.4 1795.3L1398 1796.4L1422.1 1814.6L1419.5 1814.2z"/><path class="c215" d="M1392.8 1794.3L1395.4 1795.3L1419.5 1814.2L1416.9 1813.9z"/><path class="c217" d="M1390.1 1793.4L1392.8 1794.3L1416.9 1813.9L1414.2 1813.7z"/><path class="c219" d="M1387.5 1792.6L1390.1 1793.4L1414.2 1813.7L1411.6 1813.4z"/><path class="c221" d="M1384.9 1791.8L1387.5 1792.6L1411.6 1813.4L1409 1813.2z"/><path class="c222" d="M1382.3 1791.1L1384.9 1791.8L1409 1813.2L1406.4 1813.1z"/><path class="c223" d="M1379.6 1790.6L1382.3 1791.1L1406.4 1813.1L1403.8 1813z"/><path class="c225" d="M1374.4 1790.2L1377 1790.2L1379.6 1790.6L1403.8 1813L1398.5 1813.2z"/><path class="c226" d="M1371.8 1790L1374.4 1790.2L1398.5 1813.2L1395.9 1813.2z"/><path class="c227" d="M1369.1 1789.8L1371.8 1790L1395.9 1813.2L1393.2 1813.1z"/><path class="c228" d="M1366.5 1789.7L1369.1 1789.8L1393.2 1813.1L1390.6 1813.1z"/><path class="c229" d="M1363.9 1789.6L1366.5 1789.7L1390.6 1813.1L1388 1813.1z"/><path class="c230" d="M1358.6 1789.9L1363.9 1789.6L1388 1813.1L1382.8 1813.2z"/><path class="c231" d="M1340.3 1793.7L1350.8 1791.1L1358.6 1789.9L1382.8 1813.2L1367 1815.1L1364.4 1815.6z"/><path class="c230" d="M1337.6 1794.8L1340.3 1793.7L1364.4 1815.6L1361.8 1816.3z"/><path class="c229" d="M1335 1796.2L1337.6 1794.8L1361.8 1816.3L1359.1 1817.2z"/><path class="c228" d="M1332.4 1797.6L1335 1796.2L1359.1 1817.2L1356.5 1818.1z"/><path class="c227" d="M1329.8 1799.1L1332.4 1797.6L1356.5 1818.1L1353.9 1819.1z"/><path class="c226" d="M1327.1 1800.7L1329.8 1799.1L1353.9 1819.1L1351.2 1820.2z"/><path class="c225" d="M1324.5 1802.3L1327.1 1800.7L1351.2 1820.2L1348.6 1821.3z"/><path class="c224" d="M1321.9 1804.2L1324.5 1802.3L1348.6 1821.3L1346 1822.6z"/><path class="c222" d="M1319.3 1806.1L1321.9 1804.2L1346 1822.6L1343.4 1823.9z"/><path class="c221" d="M1316.6 1808.1L1319.3 1806.1L1343.4 1823.9L1340.8 1825.4z"/><path class="c219" d="M1314 1810L1316.6 1808.1L1340.8 1825.4L1338.1 1826.8z"/><path class="c218" d="M1311.4 1811.8L1314 1810L1338.1 1826.8L1335.5 1828.1z"/><path class="c216" d="M1308.8 1813.5L1311.4 1811.8L1335.5 1828.1L1332.9 1829.3z"/><path class="c215" d="M1306.1 1815.2L1308.8 1813.5L1332.9 1829.3L1330.2 1830.6z"/><path class="c214" d="M1303.5 1816.9L1306.1 1815.2L1330.2 1830.6L1327.6 1831.9z"/><path class="c213" d="M1300.9 1818.5L1303.5 1816.9L1327.6 1831.9L1325 1833.1z"/><path class="c212" d="M1298.3 1820.2L1300.9 1818.5L1325 1833.1L1322.4 1834.4z"/><path class="c211" d="M1295.6 1821.7L1298.3 1820.2L1322.4 1834.4L1319.8 1835.6z"/><path class="c209" d="M1293 1823.3L1295.6 1821.7L1319.8 1835.6L1317.1 1836.9z"/><path class="c208" d="M1290.4 1824.9L1293 1823.3L1317.1 1836.9L1314.5 1838.1z"/><path class="c207" d="M1287.8 1826.4L1290.4 1824.9L1314.5 1838.1L1311.9 1839.3z"/><path class="c206" d="M1285.1 1827.9L1287.8 1826.4L1311.9 1839.3L1309.2 1840.6z"/><path class="c205" d="M1282.5 1829.4L1285.1 1827.9L1309.2 1840.6L1306.6 1841.8z"/><path class="c204" d="M1279.9 1831L1282.5 1829.4L1306.6 1841.8L1304 1843.1z"/><path class="c203" d="M1277.3 1832.5L1279.9 1831L1304 1843.1L1301.4 1844.4z"/><path class="c202" d="M1274.6 1834L1277.3 1832.5L1301.4 1844.4L1298.8 1845.7z"/><path class="c201" d="M1272 1835.5L1274.6 1834L1298.8 1845.7L1296.1 1846.9z"/><path class="c200" d="M1266.8 1838.1L1272 1835.5L1296.1 1846.9L1290.9 1849.2z"/><path class="c199" d="M1261.5 1840.2L1266.8 1838.1L1290.9 1849.2L1285.6 1851z"/><path class="c198" d="M1256.3 1842.1L1261.5 1840.2L1285.6 1851L1280.4 1852.8z"/><path class="c197" d="M1245.8 1845.6L1256.3 1842.1L1280.4 1852.8L1269.9 1856z"/><path class="c196" d="M1237.9 1848.2L1245.8 1845.6L1269.9 1856L1262 1858.6z"/><path class="c195" d="M1230 1850.9L1237.9 1848.2L1262 1858.6L1254.1 1861.2z"/><path class="c194" d="M1222.1 1853.7L1230 1850.9L1254.1 1861.2L1246.2 1863.9z"/><path class="c193" d="M1211.6 1857.3L1222.1 1853.7L1246.2 1863.9L1235.8 1867.4z"/><path class="c192" d="M1201.1 1860.6L1211.6 1857.3L1235.8 1867.4L1225.2 1870.6z"/><path class="c191" d="M1185.4 1865.2L1201.1 1860.6L1225.2 1870.6L1209.5 1875.2z"/><path class="c190" d="M1159.1 1872.4L1185.4 1865.2L1209.5 1875.2L1183.2 1882.3z"/><path class="c189" d="M1153.9 1873.7L1159.1 1872.4L1183.2 1882.3L1178 1883.5z"/></g><g class="T"><path class="t173" d="M1482.5 1824.4L1493 1822.8"/><path class="t174" d="M1477.2 1825L1485.1 1824"/><path class="t175" d="M1469.4 1825.8L1479.9 1824.7"/><path class="t176" d="M1466.8 1826L1472 1825.6"/><path class="t177" d="M1461.5 1826.1L1469.4 1825.8"/><path class="t178" d="M1458.9 1825.7L1461.5 1826.1L1464.1 1826.1"/><path class="t180" d="M1456.2 1824.9L1458.9 1825.7L1461.5 1826.1"/><path class="t182" d="M1453.6 1823.9L1456.2 1824.9L1458.9 1825.7"/><path class="t184" d="M1451 1822.7L1456.2 1824.9"/><path class="t186" d="M1448.4 1821.6L1453.6 1823.9"/><path class="t188" d="M1445.8 1820.6L1451 1822.7"/><path class="t190" d="M1443.1 1819.8L1448.4 1821.6"/><path class="t192" d="M1440.5 1819L1445.8 1820.6"/><path class="t193" d="M1437.9 1818.1L1443.1 1819.8"/><path class="t195" d="M1435.2 1817.3L1440.5 1819"/><path class="t196" d="M1432.6 1816.6L1437.9 1818.1"/><path class="t198" d="M1430 1816L1435.2 1817.3"/><path class="t199" d="M1427.4 1815.5L1432.6 1816.6"/><path class="t201" d="M1424.8 1815L1430 1816"/><path class="t202" d="M1422.1 1814.6L1427.4 1815.5"/><path class="t203" d="M1419.5 1814.2L1424.8 1815"/><path class="t204" d="M1416.9 1813.9L1422.1 1814.6"/><path class="t205" d="M1414.2 1813.7L1419.5 1814.2"/><path class="t206" d="M1411.6 1813.4L1416.9 1813.9"/><path class="t207" d="M1409 1813.2L1414.2 1813.7"/><path class="t208" d="M1406.4 1813.1L1411.6 1813.4"/><path class="t209" d="M1401.1 1813L1409 1813.2"/><path class="t210" d="M1398.5 1813.2L1403.8 1813"/><path class="t211" d="M1395.9 1813.2L1398.5 1813.2L1401.1 1813"/><path class="t212" d="M1390.6 1813.1L1398.5 1813.2"/><path class="t213" d="M1388 1813.1L1393.2 1813.1"/><path class="t214" d="M1382.8 1813.2L1390.6 1813.1"/><path class="t215" d="M1377.5 1813.7L1385.4 1813.1"/><path class="t216" d="M1369.6 1814.7L1380.1 1813.4"/><path class="t217" d="M1361.8 1816.3L1367 1815.1L1372.2 1814.3"/><path class="t216" d="M1353.9 1819.1L1361.8 1816.3L1364.4 1815.6"/><path class="t215" d="M1351.2 1820.2L1356.5 1818.1"/><path class="t214" d="M1346 1822.6L1353.9 1819.1"/><path class="t213" d="M1343.4 1823.9L1348.6 1821.3"/><path class="t212" d="M1340.8 1825.4L1346 1822.6"/><path class="t211" d="M1338.1 1826.8L1343.4 1823.9"/><path class="t210" d="M1335.5 1828.1L1340.8 1825.4"/><path class="t209" d="M1330.2 1830.6L1338.1 1826.8"/><path class="t208" d="M1327.6 1831.9L1332.9 1829.3"/><path class="t207" d="M1322.4 1834.4L1330.2 1830.6"/><path class="t206" d="M1319.8 1835.6L1325 1833.1"/><path class="t205" d="M1317.1 1836.9L1322.4 1834.4"/><path class="t204" d="M1311.9 1839.3L1319.8 1835.6"/><path class="t203" d="M1309.2 1840.6L1314.5 1838.1"/><path class="t202" d="M1306.6 1841.8L1311.9 1839.3"/><path class="t201" d="M1301.4 1844.4L1309.2 1840.6"/><path class="t200" d="M1298.8 1845.7L1304 1843.1"/><path class="t199" d="M1293.5 1848.1L1301.4 1844.4"/><path class="t198" d="M1288.2 1850.2L1296.1 1846.9"/><path class="t197" d="M1277.8 1853.6L1290.9 1849.2"/><path class="t196" d="M1267.2 1856.9L1280.4 1852.8"/><path class="t195" d="M1256.8 1860.3L1269.9 1856"/><path class="t194" d="M1248.9 1863L1259.4 1859.5"/><path class="t193" d="M1241 1865.6L1251.5 1862.1"/><path class="t192" d="M1227.9 1869.8L1243.6 1864.8"/><path class="t191" d="M1212.1 1874.4L1230.5 1869"/><path class="t190" d="M1185.9 1881.6L1214.8 1873.7"/><path class="t189" d="M1178 1883.5L1188.5 1880.9"/></g><g class="E"><path class="t173" d="M1493 1822.8L1517.1 1825.6"/><path class="t189" d="M1178 1883.5L1202.1 1893.4"/></g><g class="F"><path class="c173" d="M1482.5 1824.4L1493 1822.8L1517.1 1825.6L1506.6 1827.7z"/><path class="c174" d="M1477.2 1825L1482.5 1824.4L1506.6 1827.7L1501.3 1828.7z"/><path class="c175" d="M1469.4 1825.8L1477.2 1825L1501.3 1828.7L1493.5 1830z"/><path class="c176" d="M1466.8 1826L1469.4 1825.8L1493.5 1830L1490.8 1830.4z"/><path class="c177" d="M1461.5 1826.1L1466.8 1826L1490.8 1830.4L1485.6 1831.1z"/><path class="c178" d="M1458.9 1825.7L1461.5 1826.1L1485.6 1831.1L1483 1831.2z"/><path class="c180" d="M1456.2 1824.9L1458.9 1825.7L1483 1831.2L1480.3 1831.1z"/><path class="c182" d="M1453.6 1823.9L1456.2 1824.9L1480.3 1831.1L1477.7 1830.8z"/><path class="c184" d="M1451 1822.7L1453.6 1823.9L1477.7 1830.8L1475.1 1830.5z"/><path class="c186" d="M1448.4 1821.6L1451 1822.7L1475.1 1830.5L1472.5 1830.2z"/><path class="c188" d="M1445.8 1820.6L1448.4 1821.6L1472.5 1830.2L1469.8 1829.9z"/><path class="c190" d="M1443.1 1819.8L1445.8 1820.6L1469.8 1829.9L1467.2 1829.8z"/><path class="c192" d="M1440.5 1819L1443.1 1819.8L1467.2 1829.8L1464.6 1829.6z"/><path class="c193" d="M1437.9 1818.1L1440.5 1819L1464.6 1829.6L1462 1829.4z"/><path class="c195" d="M1435.2 1817.3L1437.9 1818.1L1462 1829.4L1459.3 1829.3z"/><path class="c196" d="M1432.6 1816.6L1435.2 1817.3L1459.3 1829.3L1456.7 1829.1z"/><path class="c198" d="M1430 1816L1432.6 1816.6L1456.7 1829.1L1454.1 1829.1z"/><path class="c199" d="M1427.4 1815.5L1430 1816L1454.1 1829.1L1451.5 1829.1z"/><path class="c201" d="M1424.8 1815L1427.4 1815.5L1451.5 1829.1L1448.8 1829.1z"/><path class="c202" d="M1422.1 1814.6L1424.8 1815L1448.8 1829.1L1446.2 1829.1z"/><path class="c203" d="M1419.5 1814.2L1422.1 1814.6L1446.2 1829.1L1443.6 1829.1z"/><path class="c204" d="M1416.9 1813.9L1419.5 1814.2L1443.6 1829.1L1441 1829.2z"/><path class="c205" d="M1414.2 1813.7L1416.9 1813.9L1441 1829.2L1438.3 1829.3z"/><path class="c206" d="M1411.6 1813.4L1414.2 1813.7L1438.3 1829.3L1435.7 1829.5z"/><path class="c207" d="M1409 1813.2L1411.6 1813.4L1435.7 1829.5L1433.1 1829.6z"/><path class="c208" d="M1406.4 1813.1L1409 1813.2L1433.1 1829.6L1430.5 1829.8z"/><path class="c209" d="M1401.1 1813L1406.4 1813.1L1430.5 1829.8L1425.2 1830.2z"/><path class="c210" d="M1398.5 1813.2L1401.1 1813L1425.2 1830.2L1422.6 1830.6z"/><path class="c211" d="M1395.9 1813.2L1398.5 1813.2L1422.6 1830.6L1420 1830.7z"/><path class="c212" d="M1390.6 1813.1L1395.9 1813.2L1420 1830.7L1414.7 1830.9z"/><path class="c213" d="M1388 1813.1L1390.6 1813.1L1414.7 1830.9L1412.1 1831z"/><path class="c214" d="M1382.8 1813.2L1388 1813.1L1412.1 1831L1406.8 1831.4z"/><path class="c215" d="M1377.5 1813.7L1382.8 1813.2L1406.8 1831.4L1401.6 1831.8z"/><path class="c216" d="M1369.6 1814.7L1377.5 1813.7L1401.6 1831.8L1393.7 1832.7z"/><path class="c217" d="M1361.8 1816.3L1367 1815.1L1369.6 1814.7L1393.7 1832.7L1385.8 1833.9z"/><path class="c216" d="M1353.9 1819.1L1361.8 1816.3L1385.8 1833.9L1378 1836z"/><path class="c215" d="M1351.2 1820.2L1353.9 1819.1L1378 1836L1375.3 1836.7z"/><path class="c214" d="M1346 1822.6L1351.2 1820.2L1375.3 1836.7L1370.1 1838.5z"/><path class="c213" d="M1343.4 1823.9L1346 1822.6L1370.1 1838.5L1367.5 1839.5z"/><path class="c212" d="M1340.8 1825.4L1343.4 1823.9L1367.5 1839.5L1364.8 1840.5z"/><path class="c211" d="M1338.1 1826.8L1340.8 1825.4L1364.8 1840.5L1362.2 1841.6z"/><path class="c210" d="M1335.5 1828.1L1338.1 1826.8L1362.2 1841.6L1359.6 1842.6z"/><path class="c209" d="M1330.2 1830.6L1335.5 1828.1L1359.6 1842.6L1354.3 1844.6z"/><path class="c208" d="M1327.6 1831.9L1330.2 1830.6L1354.3 1844.6L1351.7 1845.6z"/><path class="c207" d="M1322.4 1834.4L1327.6 1831.9L1351.7 1845.6L1346.5 1847.6z"/><path class="c206" d="M1319.8 1835.6L1322.4 1834.4L1346.5 1847.6L1343.8 1848.6z"/><path class="c205" d="M1317.1 1836.9L1319.8 1835.6L1343.8 1848.6L1341.2 1849.6z"/><path class="c204" d="M1311.9 1839.3L1317.1 1836.9L1341.2 1849.6L1336 1851.6z"/><path class="c203" d="M1309.2 1840.6L1311.9 1839.3L1336 1851.6L1333.3 1852.7z"/><path class="c202" d="M1306.6 1841.8L1309.2 1840.6L1333.3 1852.7L1330.7 1853.7z"/><path class="c201" d="M1301.4 1844.4L1306.6 1841.8L1330.7 1853.7L1325.5 1855.9z"/><path class="c200" d="M1298.8 1845.7L1301.4 1844.4L1325.5 1855.9L1322.8 1857z"/><path class="c199" d="M1293.5 1848.1L1298.8 1845.7L1322.8 1857L1317.6 1859.1z"/><path class="c198" d="M1288.2 1850.2L1293.5 1848.1L1317.6 1859.1L1312.3 1861z"/><path class="c197" d="M1277.8 1853.6L1288.2 1850.2L1312.3 1861L1301.8 1864.1z"/><path class="c196" d="M1267.2 1856.9L1277.8 1853.6L1301.8 1864.1L1291.3 1867.2z"/><path class="c195" d="M1256.8 1860.3L1267.2 1856.9L1291.3 1867.2L1280.8 1870.6z"/><path class="c194" d="M1248.9 1863L1256.8 1860.3L1280.8 1870.6L1273 1873.2z"/><path class="c193" d="M1241 1865.6L1248.9 1863L1273 1873.2L1265.1 1875.8z"/><path class="c192" d="M1227.9 1869.8L1241 1865.6L1265.1 1875.8L1252 1879.9z"/><path class="c191" d="M1212.1 1874.4L1227.9 1869.8L1252 1879.9L1236.2 1884.3z"/><path class="c190" d="M1185.9 1881.6L1212.1 1874.4L1236.2 1884.3L1210 1891.4z"/><path class="c189" d="M1178 1883.5L1185.9 1881.6L1210 1891.4L1202.1 1893.4z"/></g><g class="T"><path class="t181" d="M1501.3 1828.7L1517.1 1825.6"/><path class="t182" d="M1490.8 1830.4L1504 1828.2"/><path class="t183" d="M1485.6 1831.1L1493.5 1830"/><path class="t184" d="M1480.3 1831.1L1485.6 1831.1L1488.2 1830.8"/><path class="t185" d="M1477.7 1830.8L1483 1831.2"/><path class="t187" d="M1475.1 1830.5L1480.3 1831.1"/><path class="t188" d="M1472.5 1830.2L1477.7 1830.8"/><path class="t189" d="M1469.8 1829.9L1475.1 1830.5"/><path class="t190" d="M1467.2 1829.8L1472.5 1830.2"/><path class="t191" d="M1464.6 1829.6L1469.8 1829.9"/><path class="t192" d="M1459.3 1829.3L1467.2 1829.8"/><path class="t193" d="M1456.7 1829.1L1462 1829.4"/><path class="t194" d="M1454.1 1829.1L1459.3 1829.3"/><path class="t195" d="M1451.5 1829.1L1456.7 1829.1"/><path class="t196" d="M1446.2 1829.1L1454.1 1829.1"/><path class="t197" d="M1443.6 1829.1L1448.8 1829.1"/><path class="t198" d="M1438.3 1829.3L1446.2 1829.1"/><path class="t199" d="M1433.1 1829.6L1441 1829.2"/><path class="t200" d="M1427.8 1830L1435.7 1829.5"/><path class="t201" d="M1422.6 1830.6L1430.5 1829.8"/><path class="t202" d="M1417.3 1830.8L1422.6 1830.6L1425.2 1830.2"/><path class="t203" d="M1414.7 1830.9L1420 1830.7"/><path class="t204" d="M1409.5 1831.2L1417.3 1830.8"/><path class="t205" d="M1404.2 1831.6L1412.1 1831"/><path class="t206" d="M1396.3 1832.4L1406.8 1831.4"/><path class="t207" d="M1388.5 1833.4L1399 1832.1"/><path class="t208" d="M1383.2 1834.5L1391.1 1833"/><path class="t207" d="M1370.1 1838.5L1383.2 1834.5L1385.8 1833.9"/><path class="t206" d="M1364.8 1840.5L1372.7 1837.5"/><path class="t205" d="M1359.6 1842.6L1367.5 1839.5"/><path class="t204" d="M1354.3 1844.6L1362.2 1841.6"/><path class="t203" d="M1346.5 1847.6L1357 1843.6"/><path class="t202" d="M1341.2 1849.6L1349.1 1846.6"/><path class="t201" d="M1336 1851.6L1343.8 1848.6"/><path class="t200" d="M1330.7 1853.7L1338.6 1850.6"/><path class="t199" d="M1325.5 1855.9L1333.3 1852.7"/><path class="t198" d="M1320.2 1858.1L1328.1 1854.8"/><path class="t197" d="M1315 1860.1L1322.8 1857"/><path class="t196" d="M1296.6 1865.6L1315 1860.1L1317.6 1859.1"/><path class="t195" d="M1286.1 1868.9L1299.2 1864.8"/><path class="t194" d="M1275.6 1872.3L1288.7 1868.1"/><path class="t193" d="M1267.7 1874.9L1278.2 1871.5"/><path class="t192" d="M1257.2 1878.3L1270.3 1874"/><path class="t191" d="M1238.8 1883.6L1259.8 1877.4"/><path class="t190" d="M1210 1891.4L1241.5 1882.9"/><path class="t189" d="M1202.1 1893.4L1212.6 1890.8"/></g><g class="E"><path class="t181" d="M1517.1 1825.6L1541.2 1831.8"/><path class="t189" d="M1202.1 1893.4L1226.2 1903.2"/></g><g class="F"><path class="c181" d="M1501.3 1828.7L1517.1 1825.6L1541.2 1831.8L1525.5 1835.2z"/><path class="c182" d="M1490.8 1830.4L1501.3 1828.7L1525.5 1835.2L1515 1837.4z"/><path class="c183" d="M1485.6 1831.1L1490.8 1830.4L1515 1837.4L1509.7 1838.3z"/><path class="c184" d="M1480.3 1831.1L1485.6 1831.1L1509.7 1838.3L1504.5 1838.9z"/><path class="c185" d="M1477.7 1830.8L1480.3 1831.1L1504.5 1838.9L1501.8 1839.1z"/><path class="c187" d="M1475.1 1830.5L1477.7 1830.8L1501.8 1839.1L1499.2 1839.2z"/><path class="c188" d="M1472.5 1830.2L1475.1 1830.5L1499.2 1839.2L1496.6 1839.3z"/><path class="c189" d="M1469.8 1829.9L1472.5 1830.2L1496.6 1839.3L1494 1839.5z"/><path class="c190" d="M1467.2 1829.8L1469.8 1829.9L1494 1839.5L1491.3 1839.7z"/><path class="c191" d="M1464.6 1829.6L1467.2 1829.8L1491.3 1839.7L1488.7 1839.8z"/><path class="c192" d="M1459.3 1829.3L1464.6 1829.6L1488.7 1839.8L1483.5 1840.2z"/><path class="c193" d="M1456.7 1829.1L1459.3 1829.3L1483.5 1840.2L1480.8 1840.4z"/><path class="c194" d="M1454.1 1829.1L1456.7 1829.1L1480.8 1840.4L1478.2 1840.7z"/><path class="c195" d="M1451.5 1829.1L1454.1 1829.1L1478.2 1840.7L1475.6 1840.9z"/><path class="c196" d="M1446.2 1829.1L1451.5 1829.1L1475.6 1840.9L1470.3 1841.5z"/><path class="c197" d="M1443.6 1829.1L1446.2 1829.1L1470.3 1841.5L1467.7 1841.8z"/><path class="c198" d="M1438.3 1829.3L1443.6 1829.1L1467.7 1841.8L1462.5 1842.4z"/><path class="c199" d="M1433.1 1829.6L1438.3 1829.3L1462.5 1842.4L1457.2 1843.1z"/><path class="c200" d="M1427.8 1830L1433.1 1829.6L1457.2 1843.1L1452 1843.9z"/><path class="c201" d="M1422.6 1830.6L1427.8 1830L1452 1843.9L1446.7 1844.7z"/><path class="c202" d="M1417.3 1830.8L1422.6 1830.6L1446.7 1844.7L1441.5 1845.2z"/><path class="c203" d="M1414.7 1830.9L1417.3 1830.8L1441.5 1845.2L1438.8 1845.5z"/><path class="c204" d="M1409.5 1831.2L1414.7 1830.9L1438.8 1845.5L1433.6 1846z"/><path class="c205" d="M1404.2 1831.6L1409.5 1831.2L1433.6 1846L1428.3 1846.5z"/><path class="c206" d="M1396.3 1832.4L1404.2 1831.6L1428.3 1846.5L1420.5 1847.4z"/><path class="c207" d="M1388.5 1833.4L1396.3 1832.4L1420.5 1847.4L1412.6 1848.5z"/><path class="c208" d="M1383.2 1834.5L1388.5 1833.4L1412.6 1848.5L1407.3 1849.4z"/><path class="c207" d="M1370.1 1838.5L1383.2 1834.5L1407.3 1849.4L1394.2 1852.6z"/><path class="c206" d="M1364.8 1840.5L1370.1 1838.5L1394.2 1852.6L1389 1854.2z"/><path class="c205" d="M1359.6 1842.6L1364.8 1840.5L1389 1854.2L1383.7 1855.9z"/><path class="c204" d="M1354.3 1844.6L1359.6 1842.6L1383.7 1855.9L1378.5 1857.5z"/><path class="c203" d="M1346.5 1847.6L1354.3 1844.6L1378.5 1857.5L1370.6 1860z"/><path class="c202" d="M1341.2 1849.6L1346.5 1847.6L1370.6 1860L1365.3 1861.7z"/><path class="c201" d="M1336 1851.6L1341.2 1849.6L1365.3 1861.7L1360.1 1863.4z"/><path class="c200" d="M1330.7 1853.7L1336 1851.6L1360.1 1863.4L1354.8 1865.2z"/><path class="c199" d="M1325.5 1855.9L1330.7 1853.7L1354.8 1865.2L1349.6 1867.2z"/><path class="c198" d="M1320.2 1858.1L1325.5 1855.9L1349.6 1867.2L1344.3 1869.1z"/><path class="c197" d="M1315 1860.1L1320.2 1858.1L1344.3 1869.1L1339.1 1870.9z"/><path class="c196" d="M1296.6 1865.6L1315 1860.1L1339.1 1870.9L1320.7 1875.9z"/><path class="c195" d="M1286.1 1868.9L1296.6 1865.6L1320.7 1875.9L1310.2 1879.2z"/><path class="c194" d="M1275.6 1872.3L1286.1 1868.9L1310.2 1879.2L1299.7 1882.5z"/><path class="c193" d="M1267.7 1874.9L1275.6 1872.3L1299.7 1882.5L1291.8 1885z"/><path class="c192" d="M1257.2 1878.3L1267.7 1874.9L1291.8 1885L1281.3 1888.3z"/><path class="c191" d="M1238.8 1883.6L1257.2 1878.3L1281.3 1888.3L1263 1893.5z"/><path class="c190" d="M1210 1891.4L1238.8 1883.6L1263 1893.5L1234.1 1901.3z"/><path class="c189" d="M1202.1 1893.4L1210 1891.4L1234.1 1901.3L1226.2 1903.2z"/></g><g class="T"><path class="t185" d="M1517.6 1836.9L1541.2 1831.8"/><path class="t186" d="M1507.1 1838.7L1520.2 1836.3"/><path class="t187" d="M1501.8 1839.1L1509.7 1838.3"/><path class="t188" d="M1496.6 1839.3L1504.5 1838.9"/><path class="t189" d="M1494 1839.5L1499.2 1839.2"/><path class="t190" d="M1488.7 1839.8L1496.6 1839.3"/><path class="t191" d="M1483.5 1840.2L1491.3 1839.7"/><path class="t192" d="M1475.6 1840.9L1486.1 1840"/><path class="t193" d="M1470.3 1841.5L1478.2 1840.7"/><path class="t194" d="M1462.5 1842.4L1473 1841.2"/><path class="t195" d="M1454.6 1843.5L1465.1 1842.1"/><path class="t196" d="M1446.7 1844.7L1457.2 1843.1"/><path class="t197" d="M1438.8 1845.5L1446.7 1844.7L1449.3 1844.3"/><path class="t198" d="M1433.6 1846L1441.5 1845.2"/><path class="t199" d="M1428.3 1846.5L1436.2 1845.7"/><path class="t200" d="M1420.5 1847.4L1431 1846.2"/><path class="t201" d="M1412.6 1848.5L1423.1 1847.1"/><path class="t202" d="M1394.2 1852.6L1410 1848.9L1415.2 1848.1"/><path class="t201" d="M1383.7 1855.9L1396.8 1851.9"/><path class="t200" d="M1370.6 1860L1386.3 1855.1"/><path class="t199" d="M1360.1 1863.4L1373.2 1859.2"/><path class="t198" d="M1354.8 1865.2L1362.7 1862.6"/><path class="t197" d="M1347 1868.1L1357.5 1864.3"/><path class="t196" d="M1339.1 1870.9L1349.6 1867.2"/><path class="t195" d="M1318.1 1876.7L1341.7 1870"/><path class="t194" d="M1305 1880.8L1320.7 1875.9"/><path class="t193" d="M1294.5 1884.2L1307.6 1880"/><path class="t192" d="M1284 1887.5L1297.1 1883.3"/><path class="t191" d="M1265.6 1892.8L1286.6 1886.7"/><path class="t190" d="M1234.1 1901.3L1268.2 1892.1"/><path class="t189" d="M1226.2 1903.2L1236.7 1900.6"/></g><g class="E"><path class="t185" d="M1541.2 1831.8L1565.3 1839.7"/><path class="t189" d="M1226.2 1903.2L1250.3 1913"/></g><g class="F"><path class="c185" d="M1517.6 1836.9L1541.2 1831.8L1565.3 1839.7L1541.7 1845.1z"/><path class="c186" d="M1507.1 1838.7L1517.6 1836.9L1541.7 1845.1L1531.2 1847.3z"/><path class="c187" d="M1501.8 1839.1L1507.1 1838.7L1531.2 1847.3L1525.9 1848.1z"/><path class="c188" d="M1496.6 1839.3L1501.8 1839.1L1525.9 1848.1L1520.7 1848.8z"/><path class="c189" d="M1494 1839.5L1496.6 1839.3L1520.7 1848.8L1518 1849.1z"/><path class="c190" d="M1488.7 1839.8L1494 1839.5L1518 1849.1L1512.8 1849.9z"/><path class="c191" d="M1483.5 1840.2L1488.7 1839.8L1512.8 1849.9L1507.5 1850.7z"/><path class="c192" d="M1475.6 1840.9L1483.5 1840.2L1507.5 1850.7L1499.7 1851.9z"/><path class="c193" d="M1470.3 1841.5L1475.6 1840.9L1499.7 1851.9L1494.4 1852.8z"/><path class="c194" d="M1462.5 1842.4L1470.3 1841.5L1494.4 1852.8L1486.5 1854.1z"/><path class="c195" d="M1454.6 1843.5L1462.5 1842.4L1486.5 1854.1L1478.7 1855.5z"/><path class="c196" d="M1446.7 1844.7L1454.6 1843.5L1478.7 1855.5L1470.8 1857z"/><path class="c197" d="M1438.8 1845.5L1446.7 1844.7L1470.8 1857L1462.9 1858.1z"/><path class="c198" d="M1433.6 1846L1438.8 1845.5L1462.9 1858.1L1457.7 1858.8z"/><path class="c199" d="M1428.3 1846.5L1433.6 1846L1457.7 1858.8L1452.4 1859.5z"/><path class="c200" d="M1420.5 1847.4L1428.3 1846.5L1452.4 1859.5L1444.5 1860.6z"/><path class="c201" d="M1412.6 1848.5L1420.5 1847.4L1444.5 1860.6L1436.7 1861.7z"/><path class="c202" d="M1394.2 1852.6L1410 1848.9L1412.6 1848.5L1436.7 1861.7L1418.3 1865.5z"/><path class="c201" d="M1383.7 1855.9L1394.2 1852.6L1418.3 1865.5L1407.8 1868.3z"/><path class="c200" d="M1370.6 1860L1383.7 1855.9L1407.8 1868.3L1394.7 1871.8z"/><path class="c199" d="M1360.1 1863.4L1370.6 1860L1394.7 1871.8L1384.2 1874.8z"/><path class="c198" d="M1354.8 1865.2L1360.1 1863.4L1384.2 1874.8L1378.9 1876.4z"/><path class="c197" d="M1347 1868.1L1354.8 1865.2L1378.9 1876.4L1371 1879z"/><path class="c196" d="M1339.1 1870.9L1347 1868.1L1371 1879L1363.2 1881.5z"/><path class="c195" d="M1318.1 1876.7L1339.1 1870.9L1363.2 1881.5L1342.2 1887z"/><path class="c194" d="M1305 1880.8L1318.1 1876.7L1342.2 1887L1329 1891z"/><path class="c193" d="M1294.5 1884.2L1305 1880.8L1329 1891L1318.5 1894.3z"/><path class="c192" d="M1284 1887.5L1294.5 1884.2L1318.5 1894.3L1308 1897.5z"/><path class="c191" d="M1265.6 1892.8L1284 1887.5L1308 1897.5L1289.7 1902.7z"/><path class="c190" d="M1234.1 1901.3L1265.6 1892.8L1289.7 1902.7L1258.2 1911.1z"/><path class="c189" d="M1226.2 1903.2L1234.1 1901.3L1258.2 1911.1L1250.3 1913z"/></g><g class="T"><path class="t187" d="M1536.4 1846.2L1565.3 1839.7"/><path class="t188" d="M1525.9 1848.1L1539 1845.7"/><path class="t189" d="M1518 1849.1L1528.5 1847.7"/><path class="t190" d="M1507.5 1850.7L1520.7 1848.8"/><path class="t191" d="M1497 1852.3L1510.2 1850.3"/><path class="t192" d="M1483.9 1854.6L1499.7 1851.9"/><path class="t193" d="M1470.8 1857L1486.5 1854.1"/><path class="t194" d="M1460.3 1858.5L1470.8 1857L1473.4 1856.5"/><path class="t195" d="M1452.4 1859.5L1462.9 1858.1"/><path class="t196" d="M1444.5 1860.6L1455 1859.2"/><path class="t197" d="M1434 1862.2L1447.2 1860.2"/><path class="t198" d="M1402.5 1869.7L1428.8 1863.2L1436.7 1861.7"/><path class="t197" d="M1384.2 1874.8L1405.2 1869"/><path class="t196" d="M1373.7 1878.1L1386.8 1874.1"/><path class="t195" d="M1355.3 1883.6L1376.3 1877.3"/><path class="t194" d="M1334.3 1889.4L1357.9 1882.9"/><path class="t193" d="M1321.2 1893.5L1336.9 1888.6"/><path class="t192" d="M1310.7 1896.7L1323.8 1892.6"/><path class="t191" d="M1292.3 1902L1313.3 1895.9"/><path class="t190" d="M1258.2 1911.1L1294.9 1901.3"/><path class="t189" d="M1250.3 1913L1260.8 1910.4"/></g><g class="E"><path class="t187" d="M1565.3 1839.7L1589.4 1848.5"/><path class="t189" d="M1250.3 1913L1274.4 1922.9"/></g><g class="F"><path class="c187" d="M1536.4 1846.2L1565.3 1839.7L1589.4 1848.5L1560.5 1855.3z"/><path class="c188" d="M1525.9 1848.1L1536.4 1846.2L1560.5 1855.3L1550 1857.4z"/><path class="c189" d="M1518 1849.1L1525.9 1848.1L1550 1857.4L1542.1 1858.9z"/><path class="c190" d="M1507.5 1850.7L1518 1849.1L1542.1 1858.9L1531.6 1860.9z"/><path class="c191" d="M1497 1852.3L1507.5 1850.7L1531.6 1860.9L1521.1 1862.9z"/><path class="c192" d="M1483.9 1854.6L1497 1852.3L1521.1 1862.9L1508 1865.5z"/><path class="c193" d="M1470.8 1857L1483.9 1854.6L1508 1865.5L1494.9 1868.2z"/><path class="c194" d="M1460.3 1858.5L1470.8 1857L1494.9 1868.2L1484.4 1870z"/><path class="c195" d="M1452.4 1859.5L1460.3 1858.5L1484.4 1870L1476.5 1871.3z"/><path class="c196" d="M1444.5 1860.6L1452.4 1859.5L1476.5 1871.3L1468.6 1872.6z"/><path class="c197" d="M1434 1862.2L1444.5 1860.6L1468.6 1872.6L1458.1 1874.3z"/><path class="c198" d="M1402.5 1869.7L1428.8 1863.2L1434 1862.2L1458.1 1874.3L1426.6 1881.2z"/><path class="c197" d="M1384.2 1874.8L1402.5 1869.7L1426.6 1881.2L1408.3 1885.9z"/><path class="c196" d="M1373.7 1878.1L1384.2 1874.8L1408.3 1885.9L1397.8 1888.9z"/><path class="c195" d="M1355.3 1883.6L1373.7 1878.1L1397.8 1888.9L1379.4 1894z"/><path class="c194" d="M1334.3 1889.4L1355.3 1883.6L1379.4 1894L1368.9 1896.5L1358.4 1899.6z"/><path class="c193" d="M1321.2 1893.5L1334.3 1889.4L1358.4 1899.6L1345.3 1903.5z"/><path class="c192" d="M1310.7 1896.7L1321.2 1893.5L1345.3 1903.5L1334.8 1906.7z"/><path class="c191" d="M1292.3 1902L1310.7 1896.7L1334.8 1906.7L1316.4 1911.9z"/><path class="c190" d="M1258.2 1911.1L1292.3 1902L1316.4 1911.9L1282.3 1920.9z"/><path class="c189" d="M1250.3 1913L1258.2 1911.1L1282.3 1920.9L1274.4 1922.9z"/></g><g class="T"><path class="t188" d="M1557.9 1855.9L1589.4 1848.5"/><path class="t189" d="M1539.5 1859.4L1560.5 1855.3"/><path class="t190" d="M1523.8 1862.4L1542.1 1858.9"/><path class="t191" d="M1500.1 1867.1L1526.4 1861.9"/><path class="t192" d="M1484.4 1870L1502.8 1866.6"/><path class="t193" d="M1473.9 1871.7L1487 1869.6"/><path class="t194" d="M1463.4 1873.4L1476.5 1871.3"/><path class="t195" d="M1445 1876.9L1466 1873"/><path class="t196" d="M1424 1881.9L1447.6 1876.3"/><path class="t195" d="M1397.8 1888.9L1426.6 1881.2"/><path class="t194" d="M1363.6 1898L1400.4 1888.1"/><path class="t193" d="M1350.5 1901.9L1366.3 1897.3"/><path class="t192" d="M1337.4 1905.9L1353.1 1901.1"/><path class="t191" d="M1319 1911.2L1340 1905.1"/><path class="t190" d="M1282.3 1920.9L1321.6 1910.5"/><path class="t189" d="M1274.4 1922.9L1284.9 1920.3"/></g><g class="E"><path class="t188" d="M1589.4 1848.5L1613.5 1857.9"/><path class="t189" d="M1274.4 1922.9L1298.5 1932.7"/></g><g class="F"><path class="c188" d="M1557.9 1855.9L1589.4 1848.5L1613.5 1857.9L1582 1865.3z"/><path class="c189" d="M1539.5 1859.4L1557.9 1855.9L1582 1865.3L1563.6 1869.2z"/><path class="c190" d="M1523.8 1862.4L1539.5 1859.4L1563.6 1869.2L1547.9 1872.6z"/><path class="c191" d="M1500.1 1867.1L1523.8 1862.4L1547.9 1872.6L1524.2 1877.7z"/><path class="c192" d="M1484.4 1870L1500.1 1867.1L1524.2 1877.7L1508.5 1880.9z"/><path class="c193" d="M1473.9 1871.7L1484.4 1870L1508.5 1880.9L1498 1882.8z"/><path class="c194" d="M1463.4 1873.4L1473.9 1871.7L1498 1882.8L1487.5 1884.7z"/><path class="c195" d="M1445 1876.9L1463.4 1873.4L1487.5 1884.7L1469.1 1888.2z"/><path class="c196" d="M1424 1881.9L1445 1876.9L1469.1 1888.2L1448.1 1893z"/><path class="c195" d="M1397.8 1888.9L1424 1881.9L1448.1 1893L1421.9 1899.5z"/><path class="c194" d="M1363.6 1898L1397.8 1888.9L1421.9 1899.5L1387.8 1908.2z"/><path class="c193" d="M1350.5 1901.9L1363.6 1898L1387.8 1908.2L1374.6 1912z"/><path class="c192" d="M1337.4 1905.9L1350.5 1901.9L1374.6 1912L1361.5 1916z"/><path class="c191" d="M1319 1911.2L1337.4 1905.9L1361.5 1916L1343.1 1921.1z"/><path class="c190" d="M1282.3 1920.9L1319 1911.2L1343.1 1921.1L1306.4 1930.8z"/><path class="c189" d="M1274.4 1922.9L1282.3 1920.9L1306.4 1930.8L1298.5 1932.7z"/></g><g class="T"><path class="t189" d="M1563.6 1869.2L1613.5 1857.9"/><path class="t190" d="M1529.5 1876.5L1566.2 1868.7"/><path class="t191" d="M1505.9 1881.4L1532.1 1876"/><path class="t192" d="M1490.1 1884.3L1508.5 1880.9"/><path class="t193" d="M1474.4 1887.2L1492.8 1883.8"/><path class="t194" d="M1419.2 1900.2L1477 1886.7"/><path class="t193" d="M1379.9 1910.5L1393 1906.7L1421.9 1899.5"/><path class="t192" d="M1364.1 1915.2L1382.5 1909.7"/><path class="t191" d="M1345.8 1920.4L1366.8 1914.4"/><path class="t190" d="M1306.4 1930.8L1348.4 1919.7"/><path class="t189" d="M1298.5 1932.7L1309 1930.1"/></g><g class="E"><path class="t189" d="M1613.5 1857.9L1637.6 1867.4"/><path class="t189" d="M1298.5 1932.7L1322.6 1942.5"/></g><g class="F"><path class="c189" d="M1563.6 1869.2L1613.5 1857.9L1637.6 1867.4L1587.7 1879.1z"/><path class="c190" d="M1529.5 1876.5L1563.6 1869.2L1587.7 1879.1L1553.6 1886.8z"/><path class="c191" d="M1505.9 1881.4L1529.5 1876.5L1553.6 1886.8L1530 1891.9z"/><path class="c192" d="M1490.1 1884.3L1505.9 1881.4L1530 1891.9L1514.2 1895z"/><path class="c193" d="M1474.4 1887.2L1490.1 1884.3L1514.2 1895L1498.5 1898.1z"/><path class="c194" d="M1419.2 1900.2L1474.4 1887.2L1498.5 1898.1L1443.3 1910.7z"/><path class="c193" d="M1379.9 1910.5L1393 1906.7L1419.2 1900.2L1443.3 1910.7L1417.1 1916.8L1404 1920.6z"/><path class="c192" d="M1364.1 1915.2L1379.9 1910.5L1404 1920.6L1388.2 1925.2z"/><path class="c191" d="M1345.8 1920.4L1364.1 1915.2L1388.2 1925.2L1369.8 1930.4z"/><path class="c190" d="M1306.4 1930.8L1345.8 1920.4L1369.8 1930.4L1330.5 1940.6z"/><path class="c189" d="M1298.5 1932.7L1306.4 1930.8L1330.5 1940.6L1322.6 1942.5z"/></g><g class="T"><path class="t189" d="M1587.7 1879.1L1637.6 1867.4"/><path class="t190" d="M1535.2 1890.8L1590.3 1878.5"/><path class="t191" d="M1514.2 1895L1537.8 1890.3"/><path class="t192" d="M1490.6 1899.7L1516.8 1894.5"/><path class="t193" d="M1409.2 1919.1L1417.1 1916.8L1493.2 1899.2"/><path class="t192" d="M1390.8 1924.4L1411.8 1918.4"/><path class="t191" d="M1372.5 1929.7L1393.5 1923.7"/><path class="t190" d="M1330.5 1940.6L1375.1 1928.9"/><path class="t189" d="M1322.6 1942.5L1333.1 1939.9"/></g><g class="E"><path class="t189" d="M1637.6 1867.4L1661.7 1877.1"/><path class="t189" d="M1322.6 1942.5L1346.7 1952.4"/></g><g class="F"><path class="c189" d="M1587.7 1879.1L1637.6 1867.4L1661.7 1877.1L1611.8 1888.9z"/><path class="c190" d="M1535.2 1890.8L1587.7 1879.1L1611.8 1888.9L1559.3 1901z"/><path class="c191" d="M1514.2 1895L1535.2 1890.8L1559.3 1901L1538.3 1905.4z"/><path class="c192" d="M1490.6 1899.7L1514.2 1895L1538.3 1905.4L1514.7 1910.3z"/><path class="c193" d="M1409.2 1919.1L1417.1 1916.8L1490.6 1899.7L1514.7 1910.3L1441.2 1927L1433.3 1929.2z"/><path class="c192" d="M1390.8 1924.4L1409.2 1919.1L1433.3 1929.2L1415 1934.4z"/><path class="c191" d="M1372.5 1929.7L1390.8 1924.4L1415 1934.4L1396.6 1939.6z"/><path class="c190" d="M1330.5 1940.6L1372.5 1929.7L1396.6 1939.6L1354.6 1950.4z"/><path class="c189" d="M1322.6 1942.5L1330.5 1940.6L1354.6 1950.4L1346.7 1952.4z"/></g><g class="T"><path class="t189" d="M1609.2 1889.5L1661.7 1877.1"/><path class="t190" d="M1546.2 1903.8L1611.8 1888.9"/><path class="t191" d="M1520 1909.2L1548.8 1903.2"/><path class="t192" d="M1449.1 1925.3L1522.6 1908.7"/><path class="t193" d="M1438.6 1927.7L1451.7 1924.7"/><path class="t192" d="M1420.2 1932.9L1441.2 1927"/><path class="t191" d="M1399.2 1938.9L1422.8 1932.2"/><path class="t190" d="M1357.2 1949.8L1401.8 1938.1"/><path class="t189" d="M1346.7 1952.4L1359.8 1949.1"/></g><g class="E"><path class="t189" d="M1661.7 1877.1L1685.8 1886.9"/><path class="t189" d="M1346.7 1952.4L1370.8 1962.2"/></g><g class="F"><path class="c189" d="M1609.2 1889.5L1661.7 1877.1L1685.8 1886.9L1633.3 1899.3z"/><path class="c190" d="M1546.2 1903.8L1609.2 1889.5L1633.3 1899.3L1570.3 1913.9z"/><path class="c191" d="M1520 1909.2L1546.2 1903.8L1570.3 1913.9L1544 1919.5z"/><path class="c192" d="M1449.1 1925.3L1520 1909.2L1544 1919.5L1473.2 1935.4z"/><path class="c193" d="M1438.6 1927.7L1449.1 1925.3L1473.2 1935.4L1465.3 1937.1L1462.7 1937.8z"/><path class="c192" d="M1420.2 1932.9L1438.6 1927.7L1462.7 1937.8L1444.3 1942.9z"/><path class="c191" d="M1399.2 1938.9L1420.2 1932.9L1444.3 1942.9L1423.3 1948.8z"/><path class="c190" d="M1357.2 1949.8L1399.2 1938.9L1423.3 1948.8L1381.3 1959.6z"/><path class="c189" d="M1346.7 1952.4L1357.2 1949.8L1381.3 1959.6L1370.8 1962.2z"/></g><g class="T"><path class="t189" d="M1628 1900.6L1685.8 1886.9"/><path class="t190" d="M1557.2 1916.7L1630.7 1900"/><path class="t191" d="M1517.8 1925.3L1559.8 1916.2"/><path class="t192" d="M1446.9 1942.2L1465.3 1937.1L1520.4 1924.7"/><path class="t191" d="M1425.9 1948.1L1449.5 1941.5"/><path class="t190" d="M1381.3 1959.6L1428.5 1947.4"/><path class="t189" d="M1370.8 1962.2L1383.9 1959"/></g></g>
<path d="M1129.8 1807.2L1129.8 2023.3" stroke="#262626" stroke-width="3.4" fill="none"/>
<path d="M1130.3 1989.1L1118.3 1985.1M1130.3 1926.6L1118.3 1922.6M1130.3 1864.1L1118.3 1860.1M1251.3 2070.6L1239.8 2072.8M1527.3 2082.1L1539.3 2086M1683.8 2044.4L1697.8 2048.1M1362.3 2121.3L1381.3 2121.3M1130.3 2022.1L1118.3 2022.1" stroke="#262626" stroke-width="3.2" fill="none"/>
<g font-family="'Liberation Serif','DejaVu Serif',serif" font-size="61" fill="#262626" stroke="#fff" stroke-width="1.1"><text x="1110.1" y="2002.1" text-anchor="end" letter-spacing="-1.1">‐4000</text><text x="1110.1" y="1939.6" text-anchor="end" letter-spacing="-1.1">‐2000</text><text x="1110.1" y="1877.1" text-anchor="end" letter-spacing="-1.1">0</text><text x="1105.8" y="2080.3" text-anchor="end">0</text><text x="1227.3" y="2129.4" text-anchor="end" letter-spacing="-2.2">0.5</text><text x="1346.8" y="2178.6" text-anchor="end">1</text><text x="1389.8" y="2182.6">0</text><text x="1547.3" y="2144.9">1</text><text x="1704.8" y="2107.2">2</text><text x="1133.8" y="2231.8" font-style="italic" font-size="62">ζ</text><text x="1574.8" y="2232.8" font-style="italic" font-size="62">t</text><text x="889" y="1881"><tspan font-style="italic">e</tspan><tspan font-size="49" dx="0" dy="27" letter-spacing="-1.2">42</tspan></text></g></g></svg></body></html>
